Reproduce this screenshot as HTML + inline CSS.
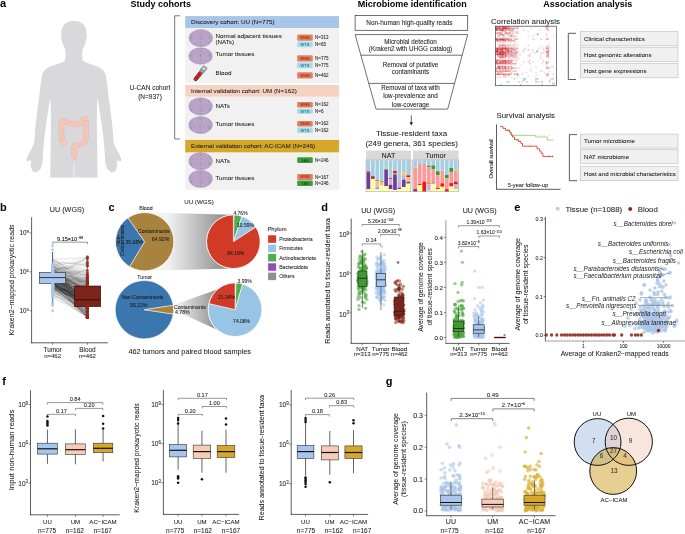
<!DOCTYPE html><html><head><meta charset="utf-8"><style>html,body{margin:0;padding:0;background:#fff;}svg{display:block;will-change:transform}</style></head><body>
<svg width="685" height="534" viewBox="0 0 685 534" font-family="Liberation Sans, sans-serif">
<defs>
<pattern id="he" width="9" height="9" patternUnits="userSpaceOnUse"><rect width="9" height="9" fill="#b8a3c6"/><circle cx="2.14" cy="4.90" r="0.38" fill="#c4b3d0"/><circle cx="4.27" cy="5.23" r="0.46" fill="#9c84ae"/><circle cx="2.33" cy="2.11" r="0.60" fill="#9c84ae"/><circle cx="4.87" cy="4.95" r="0.39" fill="#cfc1da"/><circle cx="2.09" cy="1.36" r="0.57" fill="#9c84ae"/><circle cx="6.67" cy="6.04" r="0.27" fill="#c4b3d0"/><circle cx="0.39" cy="7.02" r="0.54" fill="#a58db7"/><circle cx="4.25" cy="6.47" r="0.56" fill="#9c84ae"/><circle cx="3.55" cy="7.21" r="0.41" fill="#cfc1da"/><circle cx="7.91" cy="0.88" r="0.30" fill="#cfc1da"/><circle cx="2.32" cy="6.05" r="0.52" fill="#a58db7"/><circle cx="3.79" cy="7.50" r="0.45" fill="#c4b3d0"/><circle cx="5.27" cy="5.26" r="0.57" fill="#d6cadf"/><circle cx="7.71" cy="8.92" r="0.48" fill="#cfc1da"/><circle cx="6.29" cy="2.94" r="0.44" fill="#c4b3d0"/><circle cx="5.12" cy="6.42" r="0.32" fill="#c4b3d0"/><circle cx="2.40" cy="1.12" r="0.42" fill="#9c84ae"/><circle cx="0.80" cy="7.21" r="0.39" fill="#cfc1da"/><circle cx="0.18" cy="3.84" r="0.40" fill="#d6cadf"/><circle cx="0.40" cy="5.53" r="0.27" fill="#c4b3d0"/><circle cx="2.98" cy="7.93" r="0.59" fill="#c4b3d0"/><circle cx="2.12" cy="0.32" r="0.25" fill="#d6cadf"/><circle cx="5.40" cy="0.28" r="0.32" fill="#9c84ae"/><circle cx="2.62" cy="2.37" r="0.49" fill="#a58db7"/><circle cx="2.82" cy="8.63" r="0.56" fill="#9c84ae"/><circle cx="3.39" cy="7.83" r="0.39" fill="#c4b3d0"/></pattern>
<linearGradient id="gb1" gradientUnits="userSpaceOnUse" x1="168" x2="226" y1="0" y2="0"><stop offset="0" stop-color="#f2f2f2"/><stop offset="1" stop-color="#8c8c8c"/></linearGradient>
<linearGradient id="gb2" gradientUnits="userSpaceOnUse" x1="176" x2="218" y1="0" y2="0"><stop offset="0" stop-color="#f2f2f2"/><stop offset="1" stop-color="#8c8c8c"/></linearGradient>
</defs>
<text x="0.00" y="7.30" font-size="11" text-anchor="start" font-weight="bold" font-style="normal" fill="#000"  >a</text>
<path d="M73.9,20.7 L68.5,21.4 L64.0,24.5 L61.5,29.5 L61.0,36.0 L61.8,41.0 L63.5,45.5 L65.3,49.5 L65.6,55.0 L65.3,60.0 L62.0,62.6 L56.0,64.6 L49.5,66.8 L44.8,69.8 L42.3,74.0 L40.8,82.5 L39.4,95.0 L38.0,105.0 L36.6,117.0 L35.3,127.6 L34.2,143.0 L31.5,149.0 L28.0,155.0 L26.4,159.5 L27.0,161.5 L29.5,160.5 L31.0,160.5 L30.6,165.5 L32.5,171.5 L36.5,172.6 L40.5,169.0 L42.6,163.0 L43.0,154.6 L44.2,139.0 L45.8,127.0 L47.5,115.5 L49.0,105.0 L50.2,98.8 L50.8,104.0 L50.9,112.0 L50.9,127.6 L50.6,150.0 L50.2,177.4 L73.6,177.4 L73.6,163.5 L73.9,163.0 L73.9,163.0 L74.2,163.5 L74.2,177.4 L97.6,177.4 L97.2,150.0 L96.9,127.6 L96.9,112.0 L97.0,104.0 L97.6,98.8 L98.8,105.0 L100.3,115.5 L102.0,127.0 L103.6,139.0 L104.8,154.6 L105.2,163.0 L107.3,169.0 L111.3,172.6 L115.3,171.5 L117.2,165.5 L116.8,160.5 L118.3,160.5 L120.8,161.5 L121.4,159.5 L119.8,155.0 L116.3,149.0 L113.6,143.0 L112.5,127.6 L111.2,117.0 L109.8,105.0 L108.4,95.0 L107.0,82.5 L105.5,74.0 L103.0,69.8 L98.3,66.8 L91.8,64.6 L85.8,62.6 L82.5,60.0 L82.2,55.0 L82.5,49.5 L84.3,45.5 L86.0,41.0 L86.8,36.0 L86.3,29.5 L83.8,24.5 L79.3,21.4 L73.9,20.7Z" fill="#d9d9db" stroke="none" stroke-width="0" stroke-linejoin="round"/>
<path d="M62.5,141 L61.3,133 L61.3,124 Q61.5,119.5 65.5,122 Q70,124.8 76,124.5 Q81,124 83.5,119.5 Q85.5,116.5 85.8,121 L85.8,135 Q86,142.5 82,144 Q78,145.5 75.5,145.5 Q73.5,146.5 74,151 L74.5,157" fill="none" stroke="#e8b4a7" stroke-width="5.6" stroke-linecap="round" stroke-linejoin="round"/>
<path d="M62.5,141 L61.3,133 L61.3,124 Q61.5,119.5 65.5,122 Q70,124.8 76,124.5 Q81,124 83.5,119.5 Q85.5,116.5 85.8,121 L85.8,135 Q86,142.5 82,144 Q78,145.5 75.5,145.5 Q73.5,146.5 74,151 L74.5,157" fill="none" stroke="#f5cbbf" stroke-width="4.7" stroke-linecap="round" stroke-linejoin="round"/>
<path d="M62.5,141 L61.3,133 L61.3,124 Q61.5,119.5 65.5,122 Q70,124.8 76,124.5 Q81,124 83.5,119.5 Q85.5,116.5 85.8,121 L85.8,135 Q86,142.5 82,144 Q78,145.5 75.5,145.5 Q73.5,146.5 74,151 L74.5,157" fill="none" stroke="#e9b9ad" stroke-width="4.0" stroke-linecap="butt" stroke-dasharray="0.5 1.2" stroke-linejoin="round"/>
<circle cx="63.80" cy="142.80" r="3.00" fill="#f5cbbf" stroke="#e8b4a7" stroke-width="0.5" opacity="1"/>
<path d="M72,150 L77,150 L74.6,159.5 Z" fill="#f5cbbf" stroke="#e8b4a7" stroke-width="0.4" />
<text x="130.50" y="7.40" font-size="9" text-anchor="start" font-weight="bold" font-style="normal" fill="#000"  >Study cohorts</text>
<text x="357.80" y="7.40" font-size="9" text-anchor="start" font-weight="bold" font-style="normal" fill="#000"  >Microbiome identification</text>
<text x="543.20" y="7.40" font-size="9" text-anchor="start" font-weight="bold" font-style="normal" fill="#000"  >Association analysis</text>
<path d="M180,15.8 L174.7,15.8 L174.7,139 L180,139" fill="none" stroke="#555" stroke-width="0.8" />
<text x="150.00" y="90.23" font-size="6.5" text-anchor="middle" font-weight="normal" font-style="normal" fill="#1a1a1a" stroke="#1a1a1a" stroke-width="0.06" >U-CAN cohort</text>
<text x="150.00" y="98.93" font-size="6.5" text-anchor="middle" font-weight="normal" font-style="normal" fill="#1a1a1a" stroke="#1a1a1a" stroke-width="0.06" >(N=937)</text>
<rect x="185.20" y="16.10" width="153.90" height="11.90" fill="#a9c5ea" stroke="none" stroke-width="0" rx="0" />
<text x="191.00" y="24.34" font-size="6.26" text-anchor="start" font-weight="normal" font-style="normal" fill="#1a1a1a" stroke="#1a1a1a" stroke-width="0.06" >Discovery cohort: UU (N=775)</text>
<rect x="185.20" y="28.00" width="153.90" height="54.90" fill="#f1f1f1" stroke="none" stroke-width="0" rx="0" />
<rect x="185.20" y="85.00" width="153.90" height="11.80" fill="#f6d2c3" stroke="none" stroke-width="0" rx="0" />
<text x="191.00" y="93.24" font-size="6.26" text-anchor="start" font-weight="normal" font-style="normal" fill="#1a1a1a" stroke="#1a1a1a" stroke-width="0.06" >Internal validation cohort: UM (N=162)</text>
<rect x="185.20" y="96.80" width="153.90" height="42.00" fill="#f1f1f1" stroke="none" stroke-width="0" rx="0" />
<rect x="185.20" y="139.80" width="153.90" height="12.80" fill="#d4a92b" stroke="none" stroke-width="0" rx="0" />
<text x="191.00" y="148.44" font-size="6.26" text-anchor="start" font-weight="normal" font-style="normal" fill="#1a1a1a" stroke="#1a1a1a" stroke-width="0.06" >External validation cohort: AC-ICAM (N=246)</text>
<rect x="185.20" y="152.60" width="153.90" height="37.20" fill="#f1f1f1" stroke="none" stroke-width="0" rx="0" />
<ellipse cx="200.85" cy="38.05" rx="11.8" ry="8.6" fill="url(#he)" stroke="#9c88ab" stroke-width="0.45"/>
<ellipse cx="200.6" cy="56.05" rx="11.8" ry="8.2" fill="url(#he)" stroke="#9c88ab" stroke-width="0.45"/>
<ellipse cx="200.6" cy="106.4" rx="11.8" ry="8.6" fill="url(#he)" stroke="#9c88ab" stroke-width="0.45"/>
<ellipse cx="200.6" cy="125" rx="11.8" ry="8.6" fill="url(#he)" stroke="#9c88ab" stroke-width="0.45"/>
<ellipse cx="200.6" cy="161.2" rx="11.8" ry="8.6" fill="url(#he)" stroke="#9c88ab" stroke-width="0.45"/>
<ellipse cx="200.6" cy="178.8" rx="11.8" ry="8.6" fill="url(#he)" stroke="#9c88ab" stroke-width="0.45"/>
<g transform="translate(194.6,80.4) rotate(-51.2)"><rect x="0" y="-1.75" width="11" height="3.5" rx="1.7" fill="#e3262a" stroke="#2a0606" stroke-width="0.55"/><line x1="3.6" y1="-1.7" x2="3.6" y2="1.7" stroke="#3a0a0a" stroke-width="0.6"/><line x1="7.2" y1="-1.7" x2="7.2" y2="1.7" stroke="#3a0a0a" stroke-width="0.6"/><circle cx="5.4" cy="0" r="0.6" fill="#4050a0"/><rect x="10.4" y="-2.3" width="7" height="4.6" rx="0.7" fill="#a9a9b3" stroke="#55555e" stroke-width="0.45"/><line x1="12.6" y1="-2.2" x2="12.6" y2="2.2" stroke="#666" stroke-width="0.4"/><rect x="14" y="-1.2" width="2" height="2.2" fill="#e6e6ee"/></g>
<text x="215.50" y="37.53" font-size="6.23" text-anchor="start" font-weight="normal" font-style="normal" fill="#1a1a1a" stroke="#1a1a1a" stroke-width="0.06" >Normal adjacent tissues</text>
<text x="215.50" y="43.63" font-size="6.23" text-anchor="start" font-weight="normal" font-style="normal" fill="#1a1a1a" stroke="#1a1a1a" stroke-width="0.06" >(NATs)</text>
<text x="215.50" y="56.43" font-size="6.23" text-anchor="start" font-weight="normal" font-style="normal" fill="#1a1a1a" stroke="#1a1a1a" stroke-width="0.06" >Tumor tissues</text>
<text x="215.50" y="75.13" font-size="6.23" text-anchor="start" font-weight="normal" font-style="normal" fill="#1a1a1a" stroke="#1a1a1a" stroke-width="0.06" >Blood</text>
<text x="215.50" y="107.83" font-size="6.23" text-anchor="start" font-weight="normal" font-style="normal" fill="#1a1a1a" stroke="#1a1a1a" stroke-width="0.06" >NATs</text>
<text x="215.50" y="126.03" font-size="6.23" text-anchor="start" font-weight="normal" font-style="normal" fill="#1a1a1a" stroke="#1a1a1a" stroke-width="0.06" >Tumor tissues</text>
<text x="215.50" y="163.03" font-size="6.23" text-anchor="start" font-weight="normal" font-style="normal" fill="#1a1a1a" stroke="#1a1a1a" stroke-width="0.06" >NATs</text>
<text x="215.50" y="180.03" font-size="6.23" text-anchor="start" font-weight="normal" font-style="normal" fill="#1a1a1a" stroke="#1a1a1a" stroke-width="0.06" >Tumor tissues</text>
<rect x="297.20" y="34.50" width="15.60" height="6.30" fill="#e27f60" stroke="none" stroke-width="0" rx="1.2" />
<text x="305.00" y="39.08" font-size="4.0" text-anchor="middle" font-weight="normal" font-style="normal" fill="#8a2a14" stroke="#8a2a14" stroke-width="0.06" >WGS</text>
<text x="315.00" y="39.26" font-size="4.5" text-anchor="start" font-weight="normal" font-style="normal" fill="#222" stroke="#222" stroke-width="0.06" >N=313</text>
<rect x="297.20" y="41.50" width="15.60" height="5.80" fill="#a6dbe9" stroke="none" stroke-width="0" rx="1.2" />
<text x="305.00" y="45.83" font-size="4.0" text-anchor="middle" font-weight="normal" font-style="normal" fill="#2a6a80" stroke="#2a6a80" stroke-width="0.06" >WTS</text>
<text x="315.00" y="46.01" font-size="4.5" text-anchor="start" font-weight="normal" font-style="normal" fill="#222" stroke="#222" stroke-width="0.06" >N=65</text>
<rect x="297.20" y="55.20" width="15.60" height="6.30" fill="#e27f60" stroke="none" stroke-width="0" rx="1.2" />
<text x="305.00" y="59.78" font-size="4.0" text-anchor="middle" font-weight="normal" font-style="normal" fill="#8a2a14" stroke="#8a2a14" stroke-width="0.06" >WGS</text>
<text x="315.00" y="59.96" font-size="4.5" text-anchor="start" font-weight="normal" font-style="normal" fill="#222" stroke="#222" stroke-width="0.06" >N=775</text>
<rect x="297.20" y="62.50" width="15.60" height="5.80" fill="#a6dbe9" stroke="none" stroke-width="0" rx="1.2" />
<text x="305.00" y="66.83" font-size="4.0" text-anchor="middle" font-weight="normal" font-style="normal" fill="#2a6a80" stroke="#2a6a80" stroke-width="0.06" >WTS</text>
<text x="315.00" y="67.01" font-size="4.5" text-anchor="start" font-weight="normal" font-style="normal" fill="#222" stroke="#222" stroke-width="0.06" >N=775</text>
<rect x="297.20" y="72.20" width="15.60" height="6.30" fill="#e27f60" stroke="none" stroke-width="0" rx="1.2" />
<text x="305.00" y="76.78" font-size="4.0" text-anchor="middle" font-weight="normal" font-style="normal" fill="#8a2a14" stroke="#8a2a14" stroke-width="0.06" >WGS</text>
<text x="315.00" y="76.96" font-size="4.5" text-anchor="start" font-weight="normal" font-style="normal" fill="#222" stroke="#222" stroke-width="0.06" >N=462</text>
<rect x="297.20" y="102.00" width="15.60" height="5.50" fill="#e27f60" stroke="none" stroke-width="0" rx="1.2" />
<text x="305.00" y="106.18" font-size="4.0" text-anchor="middle" font-weight="normal" font-style="normal" fill="#8a2a14" stroke="#8a2a14" stroke-width="0.06" >WGS</text>
<text x="315.00" y="106.36" font-size="4.5" text-anchor="start" font-weight="normal" font-style="normal" fill="#222" stroke="#222" stroke-width="0.06" >N=162</text>
<rect x="297.20" y="108.70" width="15.60" height="5.10" fill="#a6dbe9" stroke="none" stroke-width="0" rx="1.2" />
<text x="305.00" y="112.68" font-size="4.0" text-anchor="middle" font-weight="normal" font-style="normal" fill="#2a6a80" stroke="#2a6a80" stroke-width="0.06" >WTS</text>
<text x="315.00" y="112.86" font-size="4.5" text-anchor="start" font-weight="normal" font-style="normal" fill="#222" stroke="#222" stroke-width="0.06" >N=6</text>
<rect x="297.20" y="121.00" width="15.60" height="5.50" fill="#e27f60" stroke="none" stroke-width="0" rx="1.2" />
<text x="305.00" y="125.18" font-size="4.0" text-anchor="middle" font-weight="normal" font-style="normal" fill="#8a2a14" stroke="#8a2a14" stroke-width="0.06" >WGS</text>
<text x="315.00" y="125.36" font-size="4.5" text-anchor="start" font-weight="normal" font-style="normal" fill="#222" stroke="#222" stroke-width="0.06" >N=162</text>
<rect x="297.20" y="127.50" width="15.60" height="5.50" fill="#a6dbe9" stroke="none" stroke-width="0" rx="1.2" />
<text x="305.00" y="131.68" font-size="4.0" text-anchor="middle" font-weight="normal" font-style="normal" fill="#2a6a80" stroke="#2a6a80" stroke-width="0.06" >WTS</text>
<text x="315.00" y="131.86" font-size="4.5" text-anchor="start" font-weight="normal" font-style="normal" fill="#222" stroke="#222" stroke-width="0.06" >N=162</text>
<rect x="297.20" y="157.30" width="15.60" height="5.60" fill="#3f9b3c" stroke="none" stroke-width="0" rx="1.2" />
<text x="305.00" y="161.53" font-size="4.0" text-anchor="middle" font-weight="normal" font-style="normal" fill="#0d3d0c" stroke="#0d3d0c" stroke-width="0.06" >16S</text>
<text x="315.00" y="161.71" font-size="4.5" text-anchor="start" font-weight="normal" font-style="normal" fill="#222" stroke="#222" stroke-width="0.06" >N=246</text>
<rect x="297.20" y="174.00" width="15.60" height="6.00" fill="#e27f60" stroke="none" stroke-width="0" rx="1.2" />
<text x="305.00" y="178.43" font-size="4.0" text-anchor="middle" font-weight="normal" font-style="normal" fill="#8a2a14" stroke="#8a2a14" stroke-width="0.06" >WGS</text>
<text x="315.00" y="178.61" font-size="4.5" text-anchor="start" font-weight="normal" font-style="normal" fill="#222" stroke="#222" stroke-width="0.06" >N=167</text>
<rect x="297.20" y="180.50" width="15.60" height="5.50" fill="#3f9b3c" stroke="none" stroke-width="0" rx="1.2" />
<text x="305.00" y="184.68" font-size="4.0" text-anchor="middle" font-weight="normal" font-style="normal" fill="#0d3d0c" stroke="#0d3d0c" stroke-width="0.06" >16S</text>
<text x="315.00" y="184.86" font-size="4.5" text-anchor="start" font-weight="normal" font-style="normal" fill="#222" stroke="#222" stroke-width="0.06" >N=246</text>
<rect x="355.10" y="15.40" width="112.60" height="14.90" fill="#fff" stroke="#333" stroke-width="0.7" rx="0" />
<text x="409.40" y="25.21" font-size="6.44" text-anchor="middle" font-weight="normal" font-style="normal" fill="#1a1a1a" stroke="#1a1a1a" stroke-width="0.06" >Non-human high-quality reads</text>
<path d="M355.1,34.6 L467.7,34.6 L447.7,109.1 L376.0,109.1 Z" fill="#fff" stroke="#333" stroke-width="0.7" />
<line x1="360.88" y1="55.20" x2="462.17" y2="55.20" stroke="#333" stroke-width="0.7" />
<line x1="368.79" y1="83.40" x2="454.60" y2="83.40" stroke="#333" stroke-width="0.7" />
<text x="410.50" y="43.86" font-size="6.3" text-anchor="middle" font-weight="normal" font-style="normal" fill="#1a1a1a" stroke="#1a1a1a" stroke-width="0.06" >Microbial detection</text>
<text x="410.50" y="51.26" font-size="6.3" text-anchor="middle" font-weight="normal" font-style="normal" fill="#1a1a1a" stroke="#1a1a1a" stroke-width="0.06" >(Kraken2 with UHGG catalog)</text>
<text x="410.50" y="67.06" font-size="6.3" text-anchor="middle" font-weight="normal" font-style="normal" fill="#1a1a1a" stroke="#1a1a1a" stroke-width="0.06" >Removal of putative</text>
<text x="410.50" y="74.26" font-size="6.3" text-anchor="middle" font-weight="normal" font-style="normal" fill="#1a1a1a" stroke="#1a1a1a" stroke-width="0.06" >contaminants</text>
<text x="410.50" y="90.36" font-size="6.3" text-anchor="middle" font-weight="normal" font-style="normal" fill="#1a1a1a" stroke="#1a1a1a" stroke-width="0.06" >Removal of taxa with</text>
<text x="410.50" y="98.36" font-size="6.3" text-anchor="middle" font-weight="normal" font-style="normal" fill="#1a1a1a" stroke="#1a1a1a" stroke-width="0.06" >low-prevalence and</text>
<text x="410.50" y="106.66" font-size="6.3" text-anchor="middle" font-weight="normal" font-style="normal" fill="#1a1a1a" stroke="#1a1a1a" stroke-width="0.06" >low-coverage</text>
<line x1="411.30" y1="115.40" x2="411.30" y2="124.50" stroke="#222" stroke-width="0.7" />
<path d="M409.6,122.3 L411.3,125.6 L413.0,122.3 Z" fill="#222" stroke="none" stroke-width="0" />
<text x="411.50" y="136.15" font-size="7.95" text-anchor="middle" font-weight="normal" font-style="normal" fill="#1a1a1a" stroke="#1a1a1a" stroke-width="0.06" >Tissue-resident taxa</text>
<text x="411.70" y="146.16" font-size="7.98" text-anchor="middle" font-weight="normal" font-style="normal" fill="#1a1a1a" stroke="#1a1a1a" stroke-width="0.06" >(249 genera, 361 species)</text>
<rect x="366.10" y="150.50" width="44.80" height="9.10" fill="#d9d9d9" stroke="none" stroke-width="0" rx="0" />
<rect x="412.90" y="150.50" width="45.60" height="9.10" fill="#d9d9d9" stroke="none" stroke-width="0" rx="0" />
<text x="388.50" y="157.68" font-size="7.2" text-anchor="middle" font-weight="normal" font-style="normal" fill="#1a1a1a" stroke="#1a1a1a" stroke-width="0.06" >NAT</text>
<text x="435.70" y="157.68" font-size="7.2" text-anchor="middle" font-weight="normal" font-style="normal" fill="#1a1a1a" stroke="#1a1a1a" stroke-width="0.06" >Tumor</text>
<rect x="366.10" y="160.00" width="44.80" height="31.70" fill="#fff" stroke="#8a8a8a" stroke-width="0.6" rx="0" />
<rect x="366.60" y="160.30" width="3.67" height="11.00" fill="#a6cee3" stroke="none" stroke-width="0" rx="0" />
<rect x="366.60" y="171.30" width="3.67" height="1.47" fill="#e31a1c" stroke="none" stroke-width="0" rx="0" />
<rect x="366.60" y="172.77" width="3.67" height="16.43" fill="#6a3d9a" stroke="none" stroke-width="0" rx="0" />
<rect x="366.60" y="189.20" width="3.67" height="2.20" fill="#ffff99" stroke="none" stroke-width="0" rx="0" />
<rect x="371.02" y="160.30" width="3.67" height="15.70" fill="#a6cee3" stroke="none" stroke-width="0" rx="0" />
<rect x="371.02" y="176.00" width="3.67" height="0.88" fill="#1f78b4" stroke="none" stroke-width="0" rx="0" />
<rect x="371.02" y="176.88" width="3.67" height="2.05" fill="#e31a1c" stroke="none" stroke-width="0" rx="0" />
<rect x="371.02" y="178.93" width="3.67" height="12.47" fill="#ffff99" stroke="none" stroke-width="0" rx="0" />
<rect x="375.44" y="160.30" width="3.67" height="20.10" fill="#a6cee3" stroke="none" stroke-width="0" rx="0" />
<rect x="375.44" y="180.40" width="3.67" height="0.73" fill="#e31a1c" stroke="none" stroke-width="0" rx="0" />
<rect x="375.44" y="181.13" width="3.67" height="4.40" fill="#fdbf6f" stroke="none" stroke-width="0" rx="0" />
<rect x="375.44" y="185.53" width="3.67" height="2.93" fill="#cab2d6" stroke="none" stroke-width="0" rx="0" />
<rect x="375.44" y="188.47" width="3.67" height="0.73" fill="#6a3d9a" stroke="none" stroke-width="0" rx="0" />
<rect x="375.44" y="189.20" width="3.67" height="2.20" fill="#ffff99" stroke="none" stroke-width="0" rx="0" />
<rect x="379.86" y="160.30" width="3.67" height="20.83" fill="#a6cee3" stroke="none" stroke-width="0" rx="0" />
<rect x="379.86" y="181.13" width="3.67" height="0.73" fill="#33a02c" stroke="none" stroke-width="0" rx="0" />
<rect x="379.86" y="181.86" width="3.67" height="3.67" fill="#fdbf6f" stroke="none" stroke-width="0" rx="0" />
<rect x="379.86" y="185.53" width="3.67" height="5.87" fill="#ffff99" stroke="none" stroke-width="0" rx="0" />
<rect x="384.28" y="160.30" width="3.67" height="6.89" fill="#a6cee3" stroke="none" stroke-width="0" rx="0" />
<rect x="384.28" y="167.19" width="3.67" height="2.20" fill="#b2df8a" stroke="none" stroke-width="0" rx="0" />
<rect x="384.28" y="169.40" width="3.67" height="16.87" fill="#6a3d9a" stroke="none" stroke-width="0" rx="0" />
<rect x="384.28" y="186.27" width="3.67" height="5.13" fill="#ffff99" stroke="none" stroke-width="0" rx="0" />
<rect x="388.70" y="160.30" width="3.67" height="17.90" fill="#a6cee3" stroke="none" stroke-width="0" rx="0" />
<rect x="388.70" y="178.20" width="3.67" height="1.03" fill="#e31a1c" stroke="none" stroke-width="0" rx="0" />
<rect x="388.70" y="179.22" width="3.67" height="5.57" fill="#cab2d6" stroke="none" stroke-width="0" rx="0" />
<rect x="388.70" y="184.80" width="3.67" height="4.40" fill="#6a3d9a" stroke="none" stroke-width="0" rx="0" />
<rect x="388.70" y="189.20" width="3.67" height="2.20" fill="#ffff99" stroke="none" stroke-width="0" rx="0" />
<rect x="393.12" y="160.30" width="3.67" height="10.56" fill="#a6cee3" stroke="none" stroke-width="0" rx="0" />
<rect x="393.12" y="170.86" width="3.67" height="2.49" fill="#e31a1c" stroke="none" stroke-width="0" rx="0" />
<rect x="393.12" y="173.36" width="3.67" height="1.17" fill="#ff7f00" stroke="none" stroke-width="0" rx="0" />
<rect x="393.12" y="174.53" width="3.67" height="15.40" fill="#6a3d9a" stroke="none" stroke-width="0" rx="0" />
<rect x="393.12" y="189.93" width="3.67" height="1.47" fill="#ffff99" stroke="none" stroke-width="0" rx="0" />
<rect x="397.54" y="160.30" width="3.67" height="20.10" fill="#a6cee3" stroke="none" stroke-width="0" rx="0" />
<rect x="397.54" y="180.40" width="3.67" height="7.33" fill="#cab2d6" stroke="none" stroke-width="0" rx="0" />
<rect x="397.54" y="187.73" width="3.67" height="1.47" fill="#6a3d9a" stroke="none" stroke-width="0" rx="0" />
<rect x="397.54" y="189.20" width="3.67" height="2.20" fill="#ffff99" stroke="none" stroke-width="0" rx="0" />
<rect x="401.96" y="160.30" width="3.67" height="12.03" fill="#a6cee3" stroke="none" stroke-width="0" rx="0" />
<rect x="401.96" y="172.33" width="3.67" height="0.73" fill="#b2df8a" stroke="none" stroke-width="0" rx="0" />
<rect x="401.96" y="173.06" width="3.67" height="2.93" fill="#fdbf6f" stroke="none" stroke-width="0" rx="0" />
<rect x="401.96" y="176.00" width="3.67" height="3.67" fill="#cab2d6" stroke="none" stroke-width="0" rx="0" />
<rect x="401.96" y="179.66" width="3.67" height="7.33" fill="#6a3d9a" stroke="none" stroke-width="0" rx="0" />
<rect x="401.96" y="187.00" width="3.67" height="4.40" fill="#ffff99" stroke="none" stroke-width="0" rx="0" />
<rect x="406.38" y="160.30" width="3.67" height="14.96" fill="#a6cee3" stroke="none" stroke-width="0" rx="0" />
<rect x="406.38" y="175.26" width="3.67" height="1.91" fill="#e31a1c" stroke="none" stroke-width="0" rx="0" />
<rect x="406.38" y="177.17" width="3.67" height="4.69" fill="#fdbf6f" stroke="none" stroke-width="0" rx="0" />
<rect x="406.38" y="181.86" width="3.67" height="1.76" fill="#6a3d9a" stroke="none" stroke-width="0" rx="0" />
<rect x="406.38" y="183.62" width="3.67" height="7.78" fill="#ffff99" stroke="none" stroke-width="0" rx="0" />
<rect x="412.90" y="160.00" width="45.60" height="31.70" fill="#fff" stroke="#8a8a8a" stroke-width="0.6" rx="0" />
<rect x="413.40" y="160.30" width="3.75" height="6.89" fill="#a6cee3" stroke="none" stroke-width="0" rx="0" />
<rect x="413.40" y="167.19" width="3.75" height="0.73" fill="#b2df8a" stroke="none" stroke-width="0" rx="0" />
<rect x="413.40" y="167.93" width="3.75" height="20.98" fill="#fb9a99" stroke="none" stroke-width="0" rx="0" />
<rect x="413.40" y="188.91" width="3.75" height="1.03" fill="#e31a1c" stroke="none" stroke-width="0" rx="0" />
<rect x="413.40" y="189.93" width="3.75" height="1.47" fill="#6a3d9a" stroke="none" stroke-width="0" rx="0" />
<rect x="417.90" y="160.30" width="3.75" height="2.79" fill="#a6cee3" stroke="none" stroke-width="0" rx="0" />
<rect x="417.90" y="163.09" width="3.75" height="0.88" fill="#b2df8a" stroke="none" stroke-width="0" rx="0" />
<rect x="417.90" y="163.97" width="3.75" height="20.10" fill="#fb9a99" stroke="none" stroke-width="0" rx="0" />
<rect x="417.90" y="184.07" width="3.75" height="1.03" fill="#e31a1c" stroke="none" stroke-width="0" rx="0" />
<rect x="417.90" y="185.09" width="3.75" height="6.31" fill="#ffff99" stroke="none" stroke-width="0" rx="0" />
<rect x="422.40" y="160.30" width="3.75" height="3.67" fill="#a6cee3" stroke="none" stroke-width="0" rx="0" />
<rect x="422.40" y="163.97" width="3.75" height="17.60" fill="#fb9a99" stroke="none" stroke-width="0" rx="0" />
<rect x="422.40" y="181.57" width="3.75" height="9.83" fill="#e31a1c" stroke="none" stroke-width="0" rx="0" />
<rect x="426.90" y="160.30" width="3.75" height="5.43" fill="#a6cee3" stroke="none" stroke-width="0" rx="0" />
<rect x="426.90" y="165.73" width="3.75" height="1.47" fill="#33a02c" stroke="none" stroke-width="0" rx="0" />
<rect x="426.90" y="167.19" width="3.75" height="15.84" fill="#fb9a99" stroke="none" stroke-width="0" rx="0" />
<rect x="426.90" y="183.04" width="3.75" height="1.03" fill="#ff7f00" stroke="none" stroke-width="0" rx="0" />
<rect x="426.90" y="184.07" width="3.75" height="6.60" fill="#cab2d6" stroke="none" stroke-width="0" rx="0" />
<rect x="426.90" y="190.67" width="3.75" height="0.73" fill="#ffff99" stroke="none" stroke-width="0" rx="0" />
<rect x="431.40" y="160.30" width="3.75" height="5.13" fill="#a6cee3" stroke="none" stroke-width="0" rx="0" />
<rect x="431.40" y="165.43" width="3.75" height="3.52" fill="#33a02c" stroke="none" stroke-width="0" rx="0" />
<rect x="431.40" y="168.96" width="3.75" height="13.64" fill="#fb9a99" stroke="none" stroke-width="0" rx="0" />
<rect x="431.40" y="182.60" width="3.75" height="1.03" fill="#6a3d9a" stroke="none" stroke-width="0" rx="0" />
<rect x="431.40" y="183.62" width="3.75" height="7.78" fill="#ffff99" stroke="none" stroke-width="0" rx="0" />
<rect x="435.90" y="160.30" width="3.75" height="11.00" fill="#a6cee3" stroke="none" stroke-width="0" rx="0" />
<rect x="435.90" y="171.30" width="3.75" height="3.96" fill="#33a02c" stroke="none" stroke-width="0" rx="0" />
<rect x="435.90" y="175.26" width="3.75" height="12.76" fill="#fb9a99" stroke="none" stroke-width="0" rx="0" />
<rect x="435.90" y="188.03" width="3.75" height="1.17" fill="#e31a1c" stroke="none" stroke-width="0" rx="0" />
<rect x="435.90" y="189.20" width="3.75" height="2.20" fill="#ffff99" stroke="none" stroke-width="0" rx="0" />
<rect x="440.40" y="160.30" width="3.75" height="10.12" fill="#a6cee3" stroke="none" stroke-width="0" rx="0" />
<rect x="440.40" y="170.42" width="3.75" height="0.59" fill="#b2df8a" stroke="none" stroke-width="0" rx="0" />
<rect x="440.40" y="171.01" width="3.75" height="12.32" fill="#fb9a99" stroke="none" stroke-width="0" rx="0" />
<rect x="440.40" y="183.33" width="3.75" height="2.64" fill="#e31a1c" stroke="none" stroke-width="0" rx="0" />
<rect x="440.40" y="185.97" width="3.75" height="1.03" fill="#ff7f00" stroke="none" stroke-width="0" rx="0" />
<rect x="440.40" y="187.00" width="3.75" height="4.40" fill="#ffff99" stroke="none" stroke-width="0" rx="0" />
<rect x="444.90" y="160.30" width="3.75" height="14.52" fill="#a6cee3" stroke="none" stroke-width="0" rx="0" />
<rect x="444.90" y="174.82" width="3.75" height="3.37" fill="#33a02c" stroke="none" stroke-width="0" rx="0" />
<rect x="444.90" y="178.20" width="3.75" height="11.00" fill="#fb9a99" stroke="none" stroke-width="0" rx="0" />
<rect x="444.90" y="189.20" width="3.75" height="2.20" fill="#e31a1c" stroke="none" stroke-width="0" rx="0" />
<rect x="449.40" y="160.30" width="3.75" height="7.63" fill="#a6cee3" stroke="none" stroke-width="0" rx="0" />
<rect x="449.40" y="167.93" width="3.75" height="3.96" fill="#33a02c" stroke="none" stroke-width="0" rx="0" />
<rect x="449.40" y="171.89" width="3.75" height="11.15" fill="#fb9a99" stroke="none" stroke-width="0" rx="0" />
<rect x="449.40" y="183.04" width="3.75" height="3.52" fill="#e31a1c" stroke="none" stroke-width="0" rx="0" />
<rect x="449.40" y="186.56" width="3.75" height="4.84" fill="#ffff99" stroke="none" stroke-width="0" rx="0" />
<rect x="453.90" y="160.30" width="3.75" height="9.54" fill="#a6cee3" stroke="none" stroke-width="0" rx="0" />
<rect x="453.90" y="169.84" width="3.75" height="1.03" fill="#b2df8a" stroke="none" stroke-width="0" rx="0" />
<rect x="453.90" y="170.86" width="3.75" height="10.71" fill="#fb9a99" stroke="none" stroke-width="0" rx="0" />
<rect x="453.90" y="181.57" width="3.75" height="2.93" fill="#e31a1c" stroke="none" stroke-width="0" rx="0" />
<rect x="453.90" y="184.51" width="3.75" height="4.69" fill="#cab2d6" stroke="none" stroke-width="0" rx="0" />
<rect x="453.90" y="189.20" width="3.75" height="2.20" fill="#ffff99" stroke="none" stroke-width="0" rx="0" />
<text x="490.90" y="23.82" font-size="7.87" text-anchor="start" font-weight="normal" font-style="normal" fill="#1a1a1a" stroke="#1a1a1a" stroke-width="0.06" >Correlation analysis</text>
<rect x="495.40" y="26.20" width="61.20" height="59.50" fill="#fff" stroke="none" stroke-width="0" rx="0" />
<rect x="495.40" y="26.20" width="1.58" height="1.58" fill="rgb(217,118,121)" stroke="none" stroke-width="0" rx="0" />
<rect x="496.93" y="26.20" width="1.58" height="1.58" fill="rgb(216,114,117)" stroke="none" stroke-width="0" rx="0" />
<rect x="498.46" y="26.20" width="1.58" height="1.58" fill="rgb(213,101,105)" stroke="none" stroke-width="0" rx="0" />
<rect x="499.99" y="26.20" width="1.58" height="1.58" fill="rgb(224,141,144)" stroke="none" stroke-width="0" rx="0" />
<rect x="501.52" y="26.20" width="1.58" height="1.58" fill="rgb(218,120,123)" stroke="none" stroke-width="0" rx="0" />
<rect x="503.05" y="26.20" width="1.58" height="1.58" fill="rgb(195,38,43)" stroke="none" stroke-width="0" rx="0" />
<rect x="504.58" y="26.20" width="1.58" height="1.58" fill="rgb(206,76,80)" stroke="none" stroke-width="0" rx="0" />
<rect x="506.11" y="26.20" width="1.58" height="1.58" fill="rgb(220,128,131)" stroke="none" stroke-width="0" rx="0" />
<rect x="507.64" y="26.20" width="1.58" height="1.58" fill="rgb(219,125,128)" stroke="none" stroke-width="0" rx="0" />
<rect x="509.17" y="26.20" width="1.58" height="1.58" fill="rgb(229,162,165)" stroke="none" stroke-width="0" rx="0" />
<rect x="513.76" y="26.20" width="1.58" height="1.58" fill="rgb(235,183,184)" stroke="none" stroke-width="0" rx="0" />
<rect x="516.82" y="26.20" width="1.58" height="1.58" fill="rgb(230,164,166)" stroke="none" stroke-width="0" rx="0" />
<rect x="521.41" y="26.20" width="1.58" height="1.58" fill="rgb(245,220,221)" stroke="none" stroke-width="0" rx="0" />
<rect x="535.18" y="26.20" width="1.58" height="1.58" fill="rgb(244,218,219)" stroke="none" stroke-width="0" rx="0" />
<rect x="544.36" y="26.20" width="1.58" height="1.58" fill="rgb(244,217,218)" stroke="none" stroke-width="0" rx="0" />
<rect x="545.89" y="26.20" width="1.58" height="1.58" fill="rgb(233,175,177)" stroke="none" stroke-width="0" rx="0" />
<rect x="547.42" y="26.20" width="1.58" height="1.58" fill="rgb(234,178,180)" stroke="none" stroke-width="0" rx="0" />
<rect x="495.40" y="27.73" width="1.58" height="1.58" fill="rgb(205,73,77)" stroke="none" stroke-width="0" rx="0" />
<rect x="496.93" y="27.73" width="1.58" height="1.58" fill="rgb(201,60,64)" stroke="none" stroke-width="0" rx="0" />
<rect x="498.46" y="27.73" width="1.58" height="1.58" fill="rgb(204,69,73)" stroke="none" stroke-width="0" rx="0" />
<rect x="499.99" y="27.73" width="1.58" height="1.58" fill="rgb(216,112,115)" stroke="none" stroke-width="0" rx="0" />
<rect x="501.52" y="27.73" width="1.58" height="1.58" fill="rgb(207,81,85)" stroke="none" stroke-width="0" rx="0" />
<rect x="503.05" y="27.73" width="1.58" height="1.58" fill="rgb(200,55,59)" stroke="none" stroke-width="0" rx="0" />
<rect x="504.58" y="27.73" width="1.58" height="1.58" fill="rgb(195,35,40)" stroke="none" stroke-width="0" rx="0" />
<rect x="506.11" y="27.73" width="1.58" height="1.58" fill="rgb(204,70,74)" stroke="none" stroke-width="0" rx="0" />
<rect x="507.64" y="27.73" width="1.58" height="1.58" fill="rgb(211,95,98)" stroke="none" stroke-width="0" rx="0" />
<rect x="509.17" y="27.73" width="1.58" height="1.58" fill="rgb(218,122,125)" stroke="none" stroke-width="0" rx="0" />
<rect x="510.70" y="27.73" width="1.58" height="1.58" fill="rgb(222,135,137)" stroke="none" stroke-width="0" rx="0" />
<rect x="512.23" y="27.73" width="1.58" height="1.58" fill="rgb(217,118,121)" stroke="none" stroke-width="0" rx="0" />
<rect x="513.76" y="27.73" width="1.58" height="1.58" fill="rgb(232,170,172)" stroke="none" stroke-width="0" rx="0" />
<rect x="515.29" y="27.73" width="1.58" height="1.58" fill="rgb(233,176,178)" stroke="none" stroke-width="0" rx="0" />
<rect x="516.82" y="27.73" width="1.58" height="1.58" fill="rgb(232,172,174)" stroke="none" stroke-width="0" rx="0" />
<rect x="530.59" y="27.73" width="1.58" height="1.58" fill="rgb(244,217,218)" stroke="none" stroke-width="0" rx="0" />
<rect x="545.89" y="27.73" width="1.58" height="1.58" fill="rgb(220,128,131)" stroke="none" stroke-width="0" rx="0" />
<rect x="495.40" y="29.25" width="1.58" height="1.58" fill="rgb(196,40,45)" stroke="none" stroke-width="0" rx="0" />
<rect x="496.93" y="29.25" width="1.58" height="1.58" fill="rgb(217,117,120)" stroke="none" stroke-width="0" rx="0" />
<rect x="498.46" y="29.25" width="1.58" height="1.58" fill="rgb(217,118,121)" stroke="none" stroke-width="0" rx="0" />
<rect x="499.99" y="29.25" width="1.58" height="1.58" fill="rgb(204,70,74)" stroke="none" stroke-width="0" rx="0" />
<rect x="501.52" y="29.25" width="1.58" height="1.58" fill="rgb(196,41,46)" stroke="none" stroke-width="0" rx="0" />
<rect x="503.05" y="29.25" width="1.58" height="1.58" fill="rgb(204,68,72)" stroke="none" stroke-width="0" rx="0" />
<rect x="504.58" y="29.25" width="1.58" height="1.58" fill="rgb(226,149,152)" stroke="none" stroke-width="0" rx="0" />
<rect x="506.11" y="29.25" width="1.58" height="1.58" fill="rgb(222,135,138)" stroke="none" stroke-width="0" rx="0" />
<rect x="507.64" y="29.25" width="1.58" height="1.58" fill="rgb(229,160,162)" stroke="none" stroke-width="0" rx="0" />
<rect x="509.17" y="29.25" width="1.58" height="1.58" fill="rgb(213,104,107)" stroke="none" stroke-width="0" rx="0" />
<rect x="510.70" y="29.25" width="1.58" height="1.58" fill="rgb(234,180,182)" stroke="none" stroke-width="0" rx="0" />
<rect x="512.23" y="29.25" width="1.58" height="1.58" fill="rgb(224,144,147)" stroke="none" stroke-width="0" rx="0" />
<rect x="522.94" y="29.25" width="1.58" height="1.58" fill="rgb(244,214,215)" stroke="none" stroke-width="0" rx="0" />
<rect x="539.77" y="29.25" width="1.58" height="1.58" fill="rgb(242,208,209)" stroke="none" stroke-width="0" rx="0" />
<rect x="547.42" y="29.25" width="1.58" height="1.58" fill="rgb(225,145,148)" stroke="none" stroke-width="0" rx="0" />
<rect x="501.52" y="30.78" width="1.58" height="1.58" fill="rgb(224,144,146)" stroke="none" stroke-width="0" rx="0" />
<rect x="504.58" y="30.78" width="1.58" height="1.58" fill="rgb(226,150,152)" stroke="none" stroke-width="0" rx="0" />
<rect x="509.17" y="30.78" width="1.58" height="1.58" fill="rgb(241,204,205)" stroke="none" stroke-width="0" rx="0" />
<rect x="510.70" y="30.78" width="1.58" height="1.58" fill="rgb(235,182,184)" stroke="none" stroke-width="0" rx="0" />
<rect x="512.23" y="30.78" width="1.58" height="1.58" fill="rgb(236,186,188)" stroke="none" stroke-width="0" rx="0" />
<rect x="515.29" y="30.78" width="1.58" height="1.58" fill="rgb(242,208,209)" stroke="none" stroke-width="0" rx="0" />
<rect x="516.82" y="30.78" width="1.58" height="1.58" fill="rgb(244,215,216)" stroke="none" stroke-width="0" rx="0" />
<rect x="527.53" y="30.78" width="1.58" height="1.58" fill="rgb(245,218,219)" stroke="none" stroke-width="0" rx="0" />
<rect x="495.40" y="32.30" width="1.58" height="1.58" fill="rgb(232,173,175)" stroke="none" stroke-width="0" rx="0" />
<rect x="496.93" y="32.30" width="1.58" height="1.58" fill="rgb(222,137,140)" stroke="none" stroke-width="0" rx="0" />
<rect x="498.46" y="32.30" width="1.58" height="1.58" fill="rgb(220,128,131)" stroke="none" stroke-width="0" rx="0" />
<rect x="499.99" y="32.30" width="1.58" height="1.58" fill="rgb(219,124,127)" stroke="none" stroke-width="0" rx="0" />
<rect x="504.58" y="32.30" width="1.58" height="1.58" fill="rgb(221,130,133)" stroke="none" stroke-width="0" rx="0" />
<rect x="506.11" y="32.30" width="1.58" height="1.58" fill="rgb(218,122,125)" stroke="none" stroke-width="0" rx="0" />
<rect x="507.64" y="32.30" width="1.58" height="1.58" fill="rgb(231,167,169)" stroke="none" stroke-width="0" rx="0" />
<rect x="509.17" y="32.30" width="1.58" height="1.58" fill="rgb(221,133,136)" stroke="none" stroke-width="0" rx="0" />
<rect x="512.23" y="32.30" width="1.58" height="1.58" fill="rgb(237,191,192)" stroke="none" stroke-width="0" rx="0" />
<rect x="515.29" y="32.30" width="1.58" height="1.58" fill="rgb(238,194,196)" stroke="none" stroke-width="0" rx="0" />
<rect x="516.82" y="32.30" width="1.58" height="1.58" fill="rgb(237,189,190)" stroke="none" stroke-width="0" rx="0" />
<rect x="496.93" y="33.83" width="1.58" height="1.58" fill="rgb(236,188,190)" stroke="none" stroke-width="0" rx="0" />
<rect x="498.46" y="33.83" width="1.58" height="1.58" fill="rgb(238,196,197)" stroke="none" stroke-width="0" rx="0" />
<rect x="499.99" y="33.83" width="1.58" height="1.58" fill="rgb(229,160,163)" stroke="none" stroke-width="0" rx="0" />
<rect x="501.52" y="33.83" width="1.58" height="1.58" fill="rgb(209,89,92)" stroke="none" stroke-width="0" rx="0" />
<rect x="503.05" y="33.83" width="1.58" height="1.58" fill="rgb(230,166,168)" stroke="none" stroke-width="0" rx="0" />
<rect x="506.11" y="33.83" width="1.58" height="1.58" fill="rgb(236,185,187)" stroke="none" stroke-width="0" rx="0" />
<rect x="507.64" y="33.83" width="1.58" height="1.58" fill="rgb(235,182,184)" stroke="none" stroke-width="0" rx="0" />
<rect x="509.17" y="33.83" width="1.58" height="1.58" fill="rgb(241,206,207)" stroke="none" stroke-width="0" rx="0" />
<rect x="510.70" y="33.83" width="1.58" height="1.58" fill="rgb(239,196,197)" stroke="none" stroke-width="0" rx="0" />
<rect x="512.23" y="33.83" width="1.58" height="1.58" fill="rgb(242,209,210)" stroke="none" stroke-width="0" rx="0" />
<rect x="533.65" y="33.83" width="1.58" height="1.58" fill="rgb(246,222,223)" stroke="none" stroke-width="0" rx="0" />
<rect x="545.89" y="33.83" width="1.58" height="1.58" fill="rgb(236,188,189)" stroke="none" stroke-width="0" rx="0" />
<rect x="498.46" y="35.35" width="1.58" height="1.58" fill="rgb(227,155,157)" stroke="none" stroke-width="0" rx="0" />
<rect x="503.05" y="35.35" width="1.58" height="1.58" fill="rgb(227,155,158)" stroke="none" stroke-width="0" rx="0" />
<rect x="509.17" y="35.35" width="1.58" height="1.58" fill="rgb(236,185,187)" stroke="none" stroke-width="0" rx="0" />
<rect x="510.70" y="35.35" width="1.58" height="1.58" fill="rgb(218,120,124)" stroke="none" stroke-width="0" rx="0" />
<rect x="512.23" y="35.35" width="1.58" height="1.58" fill="rgb(239,197,198)" stroke="none" stroke-width="0" rx="0" />
<rect x="513.76" y="35.35" width="1.58" height="1.58" fill="rgb(238,194,195)" stroke="none" stroke-width="0" rx="0" />
<rect x="515.29" y="35.35" width="1.58" height="1.58" fill="rgb(241,204,206)" stroke="none" stroke-width="0" rx="0" />
<rect x="527.53" y="35.35" width="1.58" height="1.58" fill="rgb(244,215,216)" stroke="none" stroke-width="0" rx="0" />
<rect x="532.12" y="35.35" width="1.58" height="1.58" fill="rgb(246,224,225)" stroke="none" stroke-width="0" rx="0" />
<rect x="553.54" y="35.35" width="1.58" height="1.58" fill="rgb(245,221,221)" stroke="none" stroke-width="0" rx="0" />
<rect x="495.40" y="36.88" width="1.58" height="1.58" fill="rgb(244,216,217)" stroke="none" stroke-width="0" rx="0" />
<rect x="496.93" y="36.88" width="1.58" height="1.58" fill="rgb(243,211,212)" stroke="none" stroke-width="0" rx="0" />
<rect x="503.05" y="36.88" width="1.58" height="1.58" fill="rgb(244,214,215)" stroke="none" stroke-width="0" rx="0" />
<rect x="504.58" y="36.88" width="1.58" height="1.58" fill="rgb(243,214,215)" stroke="none" stroke-width="0" rx="0" />
<rect x="506.11" y="36.88" width="1.58" height="1.58" fill="rgb(245,221,222)" stroke="none" stroke-width="0" rx="0" />
<rect x="507.64" y="36.88" width="1.58" height="1.58" fill="rgb(244,217,218)" stroke="none" stroke-width="0" rx="0" />
<rect x="512.23" y="36.88" width="1.58" height="1.58" fill="rgb(245,219,220)" stroke="none" stroke-width="0" rx="0" />
<rect x="513.76" y="36.88" width="1.58" height="1.58" fill="rgb(245,221,221)" stroke="none" stroke-width="0" rx="0" />
<rect x="545.89" y="36.88" width="1.58" height="1.58" fill="rgb(245,221,222)" stroke="none" stroke-width="0" rx="0" />
<rect x="495.40" y="38.41" width="1.58" height="1.58" fill="rgb(198,46,51)" stroke="none" stroke-width="0" rx="0" />
<rect x="496.93" y="38.41" width="1.58" height="1.58" fill="rgb(216,114,117)" stroke="none" stroke-width="0" rx="0" />
<rect x="498.46" y="38.41" width="1.58" height="1.58" fill="rgb(209,88,92)" stroke="none" stroke-width="0" rx="0" />
<rect x="499.99" y="38.41" width="1.58" height="1.58" fill="rgb(202,64,68)" stroke="none" stroke-width="0" rx="0" />
<rect x="501.52" y="38.41" width="1.58" height="1.58" fill="rgb(195,35,40)" stroke="none" stroke-width="0" rx="0" />
<rect x="503.05" y="38.41" width="1.58" height="1.58" fill="rgb(206,78,82)" stroke="none" stroke-width="0" rx="0" />
<rect x="504.58" y="38.41" width="1.58" height="1.58" fill="rgb(214,106,109)" stroke="none" stroke-width="0" rx="0" />
<rect x="506.11" y="38.41" width="1.58" height="1.58" fill="rgb(217,117,120)" stroke="none" stroke-width="0" rx="0" />
<rect x="507.64" y="38.41" width="1.58" height="1.58" fill="rgb(216,114,117)" stroke="none" stroke-width="0" rx="0" />
<rect x="509.17" y="38.41" width="1.58" height="1.58" fill="rgb(226,150,153)" stroke="none" stroke-width="0" rx="0" />
<rect x="510.70" y="38.41" width="1.58" height="1.58" fill="rgb(229,161,163)" stroke="none" stroke-width="0" rx="0" />
<rect x="513.76" y="38.41" width="1.58" height="1.58" fill="rgb(237,190,191)" stroke="none" stroke-width="0" rx="0" />
<rect x="515.29" y="38.41" width="1.58" height="1.58" fill="rgb(230,163,165)" stroke="none" stroke-width="0" rx="0" />
<rect x="516.82" y="38.41" width="1.58" height="1.58" fill="rgb(238,196,197)" stroke="none" stroke-width="0" rx="0" />
<rect x="532.12" y="38.41" width="1.58" height="1.58" fill="rgb(242,210,211)" stroke="none" stroke-width="0" rx="0" />
<rect x="533.65" y="38.41" width="1.58" height="1.58" fill="rgb(243,214,215)" stroke="none" stroke-width="0" rx="0" />
<rect x="539.77" y="38.41" width="1.58" height="1.58" fill="rgb(245,219,219)" stroke="none" stroke-width="0" rx="0" />
<rect x="541.30" y="38.41" width="1.58" height="1.58" fill="rgb(244,217,218)" stroke="none" stroke-width="0" rx="0" />
<rect x="545.89" y="38.41" width="1.58" height="1.58" fill="rgb(230,165,167)" stroke="none" stroke-width="0" rx="0" />
<rect x="547.42" y="38.41" width="1.58" height="1.58" fill="rgb(235,182,184)" stroke="none" stroke-width="0" rx="0" />
<rect x="495.40" y="39.93" width="1.58" height="1.58" fill="rgb(225,145,147)" stroke="none" stroke-width="0" rx="0" />
<rect x="496.93" y="39.93" width="1.58" height="1.58" fill="rgb(208,82,86)" stroke="none" stroke-width="0" rx="0" />
<rect x="498.46" y="39.93" width="1.58" height="1.58" fill="rgb(223,139,142)" stroke="none" stroke-width="0" rx="0" />
<rect x="499.99" y="39.93" width="1.58" height="1.58" fill="rgb(222,136,138)" stroke="none" stroke-width="0" rx="0" />
<rect x="501.52" y="39.93" width="1.58" height="1.58" fill="rgb(218,119,122)" stroke="none" stroke-width="0" rx="0" />
<rect x="503.05" y="39.93" width="1.58" height="1.58" fill="rgb(210,92,96)" stroke="none" stroke-width="0" rx="0" />
<rect x="504.58" y="39.93" width="1.58" height="1.58" fill="rgb(212,100,103)" stroke="none" stroke-width="0" rx="0" />
<rect x="506.11" y="39.93" width="1.58" height="1.58" fill="rgb(235,183,185)" stroke="none" stroke-width="0" rx="0" />
<rect x="507.64" y="39.93" width="1.58" height="1.58" fill="rgb(225,147,150)" stroke="none" stroke-width="0" rx="0" />
<rect x="509.17" y="39.93" width="1.58" height="1.58" fill="rgb(223,139,142)" stroke="none" stroke-width="0" rx="0" />
<rect x="510.70" y="39.93" width="1.58" height="1.58" fill="rgb(226,149,152)" stroke="none" stroke-width="0" rx="0" />
<rect x="512.23" y="39.93" width="1.58" height="1.58" fill="rgb(229,161,163)" stroke="none" stroke-width="0" rx="0" />
<rect x="513.76" y="39.93" width="1.58" height="1.58" fill="rgb(233,175,177)" stroke="none" stroke-width="0" rx="0" />
<rect x="499.99" y="41.46" width="1.58" height="1.58" fill="rgb(243,213,214)" stroke="none" stroke-width="0" rx="0" />
<rect x="501.52" y="41.46" width="1.58" height="1.58" fill="rgb(245,220,221)" stroke="none" stroke-width="0" rx="0" />
<rect x="503.05" y="41.46" width="1.58" height="1.58" fill="rgb(245,219,219)" stroke="none" stroke-width="0" rx="0" />
<rect x="504.58" y="41.46" width="1.58" height="1.58" fill="rgb(245,218,219)" stroke="none" stroke-width="0" rx="0" />
<rect x="509.17" y="41.46" width="1.58" height="1.58" fill="rgb(246,223,224)" stroke="none" stroke-width="0" rx="0" />
<rect x="513.76" y="41.46" width="1.58" height="1.58" fill="rgb(246,225,225)" stroke="none" stroke-width="0" rx="0" />
<rect x="515.29" y="41.46" width="1.58" height="1.58" fill="rgb(246,225,225)" stroke="none" stroke-width="0" rx="0" />
<rect x="496.93" y="42.98" width="1.58" height="1.58" fill="rgb(246,222,223)" stroke="none" stroke-width="0" rx="0" />
<rect x="498.46" y="42.98" width="1.58" height="1.58" fill="rgb(243,213,214)" stroke="none" stroke-width="0" rx="0" />
<rect x="501.52" y="42.98" width="1.58" height="1.58" fill="rgb(245,220,221)" stroke="none" stroke-width="0" rx="0" />
<rect x="503.05" y="42.98" width="1.58" height="1.58" fill="rgb(243,212,213)" stroke="none" stroke-width="0" rx="0" />
<rect x="507.64" y="42.98" width="1.58" height="1.58" fill="rgb(245,219,220)" stroke="none" stroke-width="0" rx="0" />
<rect x="510.70" y="42.98" width="1.58" height="1.58" fill="rgb(245,219,220)" stroke="none" stroke-width="0" rx="0" />
<rect x="513.76" y="42.98" width="1.58" height="1.58" fill="rgb(246,224,225)" stroke="none" stroke-width="0" rx="0" />
<rect x="515.29" y="42.98" width="1.58" height="1.58" fill="rgb(246,224,224)" stroke="none" stroke-width="0" rx="0" />
<rect x="498.46" y="44.51" width="1.58" height="1.58" fill="rgb(233,174,176)" stroke="none" stroke-width="0" rx="0" />
<rect x="499.99" y="44.51" width="1.58" height="1.58" fill="rgb(229,163,165)" stroke="none" stroke-width="0" rx="0" />
<rect x="501.52" y="44.51" width="1.58" height="1.58" fill="rgb(223,137,140)" stroke="none" stroke-width="0" rx="0" />
<rect x="503.05" y="44.51" width="1.58" height="1.58" fill="rgb(229,160,162)" stroke="none" stroke-width="0" rx="0" />
<rect x="504.58" y="44.51" width="1.58" height="1.58" fill="rgb(230,164,166)" stroke="none" stroke-width="0" rx="0" />
<rect x="506.11" y="44.51" width="1.58" height="1.58" fill="rgb(235,183,185)" stroke="none" stroke-width="0" rx="0" />
<rect x="507.64" y="44.51" width="1.58" height="1.58" fill="rgb(238,196,197)" stroke="none" stroke-width="0" rx="0" />
<rect x="509.17" y="44.51" width="1.58" height="1.58" fill="rgb(231,169,171)" stroke="none" stroke-width="0" rx="0" />
<rect x="512.23" y="44.51" width="1.58" height="1.58" fill="rgb(236,185,187)" stroke="none" stroke-width="0" rx="0" />
<rect x="513.76" y="44.51" width="1.58" height="1.58" fill="rgb(243,211,212)" stroke="none" stroke-width="0" rx="0" />
<rect x="516.82" y="44.51" width="1.58" height="1.58" fill="rgb(242,210,211)" stroke="none" stroke-width="0" rx="0" />
<rect x="527.53" y="44.51" width="1.58" height="1.58" fill="rgb(242,209,210)" stroke="none" stroke-width="0" rx="0" />
<rect x="539.77" y="44.51" width="1.58" height="1.58" fill="rgb(246,223,223)" stroke="none" stroke-width="0" rx="0" />
<rect x="547.42" y="44.51" width="1.58" height="1.58" fill="rgb(240,200,201)" stroke="none" stroke-width="0" rx="0" />
<rect x="498.46" y="46.03" width="1.58" height="1.58" fill="rgb(231,169,171)" stroke="none" stroke-width="0" rx="0" />
<rect x="499.99" y="46.03" width="1.58" height="1.58" fill="rgb(236,188,189)" stroke="none" stroke-width="0" rx="0" />
<rect x="501.52" y="46.03" width="1.58" height="1.58" fill="rgb(232,171,173)" stroke="none" stroke-width="0" rx="0" />
<rect x="503.05" y="46.03" width="1.58" height="1.58" fill="rgb(232,171,173)" stroke="none" stroke-width="0" rx="0" />
<rect x="504.58" y="46.03" width="1.58" height="1.58" fill="rgb(229,161,163)" stroke="none" stroke-width="0" rx="0" />
<rect x="506.11" y="46.03" width="1.58" height="1.58" fill="rgb(241,205,206)" stroke="none" stroke-width="0" rx="0" />
<rect x="507.64" y="46.03" width="1.58" height="1.58" fill="rgb(236,187,188)" stroke="none" stroke-width="0" rx="0" />
<rect x="510.70" y="46.03" width="1.58" height="1.58" fill="rgb(240,201,202)" stroke="none" stroke-width="0" rx="0" />
<rect x="513.76" y="46.03" width="1.58" height="1.58" fill="rgb(239,198,199)" stroke="none" stroke-width="0" rx="0" />
<rect x="541.30" y="46.03" width="1.58" height="1.58" fill="rgb(246,225,226)" stroke="none" stroke-width="0" rx="0" />
<rect x="545.89" y="46.03" width="1.58" height="1.58" fill="rgb(239,198,199)" stroke="none" stroke-width="0" rx="0" />
<rect x="547.42" y="46.03" width="1.58" height="1.58" fill="rgb(240,200,201)" stroke="none" stroke-width="0" rx="0" />
<rect x="548.95" y="46.03" width="1.58" height="1.58" fill="rgb(246,225,225)" stroke="none" stroke-width="0" rx="0" />
<rect x="495.40" y="47.56" width="1.58" height="1.58" fill="rgb(216,113,117)" stroke="none" stroke-width="0" rx="0" />
<rect x="496.93" y="47.56" width="1.58" height="1.58" fill="rgb(195,35,40)" stroke="none" stroke-width="0" rx="0" />
<rect x="498.46" y="47.56" width="1.58" height="1.58" fill="rgb(221,130,133)" stroke="none" stroke-width="0" rx="0" />
<rect x="499.99" y="47.56" width="1.58" height="1.58" fill="rgb(208,84,88)" stroke="none" stroke-width="0" rx="0" />
<rect x="501.52" y="47.56" width="1.58" height="1.58" fill="rgb(199,53,57)" stroke="none" stroke-width="0" rx="0" />
<rect x="503.05" y="47.56" width="1.58" height="1.58" fill="rgb(207,82,86)" stroke="none" stroke-width="0" rx="0" />
<rect x="504.58" y="47.56" width="1.58" height="1.58" fill="rgb(195,35,40)" stroke="none" stroke-width="0" rx="0" />
<rect x="506.11" y="47.56" width="1.58" height="1.58" fill="rgb(212,100,104)" stroke="none" stroke-width="0" rx="0" />
<rect x="507.64" y="47.56" width="1.58" height="1.58" fill="rgb(217,116,119)" stroke="none" stroke-width="0" rx="0" />
<rect x="509.17" y="47.56" width="1.58" height="1.58" fill="rgb(225,146,148)" stroke="none" stroke-width="0" rx="0" />
<rect x="510.70" y="47.56" width="1.58" height="1.58" fill="rgb(214,105,108)" stroke="none" stroke-width="0" rx="0" />
<rect x="512.23" y="47.56" width="1.58" height="1.58" fill="rgb(221,130,133)" stroke="none" stroke-width="0" rx="0" />
<rect x="513.76" y="47.56" width="1.58" height="1.58" fill="rgb(236,188,190)" stroke="none" stroke-width="0" rx="0" />
<rect x="515.29" y="47.56" width="1.58" height="1.58" fill="rgb(231,170,172)" stroke="none" stroke-width="0" rx="0" />
<rect x="516.82" y="47.56" width="1.58" height="1.58" fill="rgb(232,172,174)" stroke="none" stroke-width="0" rx="0" />
<rect x="524.47" y="47.56" width="1.58" height="1.58" fill="rgb(242,207,208)" stroke="none" stroke-width="0" rx="0" />
<rect x="538.24" y="47.56" width="1.58" height="1.58" fill="rgb(242,209,210)" stroke="none" stroke-width="0" rx="0" />
<rect x="542.83" y="47.56" width="1.58" height="1.58" fill="rgb(244,217,218)" stroke="none" stroke-width="0" rx="0" />
<rect x="545.89" y="47.56" width="1.58" height="1.58" fill="rgb(217,115,119)" stroke="none" stroke-width="0" rx="0" />
<rect x="547.42" y="47.56" width="1.58" height="1.58" fill="rgb(228,158,160)" stroke="none" stroke-width="0" rx="0" />
<rect x="548.95" y="47.56" width="1.58" height="1.58" fill="rgb(245,220,221)" stroke="none" stroke-width="0" rx="0" />
<rect x="495.40" y="49.08" width="1.58" height="1.58" fill="rgb(218,122,125)" stroke="none" stroke-width="0" rx="0" />
<rect x="496.93" y="49.08" width="1.58" height="1.58" fill="rgb(195,35,40)" stroke="none" stroke-width="0" rx="0" />
<rect x="498.46" y="49.08" width="1.58" height="1.58" fill="rgb(212,100,104)" stroke="none" stroke-width="0" rx="0" />
<rect x="499.99" y="49.08" width="1.58" height="1.58" fill="rgb(195,35,40)" stroke="none" stroke-width="0" rx="0" />
<rect x="501.52" y="49.08" width="1.58" height="1.58" fill="rgb(202,61,65)" stroke="none" stroke-width="0" rx="0" />
<rect x="503.05" y="49.08" width="1.58" height="1.58" fill="rgb(224,144,146)" stroke="none" stroke-width="0" rx="0" />
<rect x="504.58" y="49.08" width="1.58" height="1.58" fill="rgb(214,106,110)" stroke="none" stroke-width="0" rx="0" />
<rect x="506.11" y="49.08" width="1.58" height="1.58" fill="rgb(208,83,87)" stroke="none" stroke-width="0" rx="0" />
<rect x="507.64" y="49.08" width="1.58" height="1.58" fill="rgb(205,72,76)" stroke="none" stroke-width="0" rx="0" />
<rect x="509.17" y="49.08" width="1.58" height="1.58" fill="rgb(227,155,157)" stroke="none" stroke-width="0" rx="0" />
<rect x="510.70" y="49.08" width="1.58" height="1.58" fill="rgb(230,165,167)" stroke="none" stroke-width="0" rx="0" />
<rect x="512.23" y="49.08" width="1.58" height="1.58" fill="rgb(222,137,140)" stroke="none" stroke-width="0" rx="0" />
<rect x="513.76" y="49.08" width="1.58" height="1.58" fill="rgb(226,149,152)" stroke="none" stroke-width="0" rx="0" />
<rect x="515.29" y="49.08" width="1.58" height="1.58" fill="rgb(236,185,187)" stroke="none" stroke-width="0" rx="0" />
<rect x="522.94" y="49.08" width="1.58" height="1.58" fill="rgb(241,206,207)" stroke="none" stroke-width="0" rx="0" />
<rect x="527.53" y="49.08" width="1.58" height="1.58" fill="rgb(238,192,194)" stroke="none" stroke-width="0" rx="0" />
<rect x="532.12" y="49.08" width="1.58" height="1.58" fill="rgb(244,216,217)" stroke="none" stroke-width="0" rx="0" />
<rect x="542.83" y="49.08" width="1.58" height="1.58" fill="rgb(243,214,215)" stroke="none" stroke-width="0" rx="0" />
<rect x="547.42" y="49.08" width="1.58" height="1.58" fill="rgb(232,172,173)" stroke="none" stroke-width="0" rx="0" />
<rect x="495.40" y="50.61" width="1.58" height="1.58" fill="rgb(195,35,40)" stroke="none" stroke-width="0" rx="0" />
<rect x="496.93" y="50.61" width="1.58" height="1.58" fill="rgb(195,35,40)" stroke="none" stroke-width="0" rx="0" />
<rect x="498.46" y="50.61" width="1.58" height="1.58" fill="rgb(220,127,130)" stroke="none" stroke-width="0" rx="0" />
<rect x="499.99" y="50.61" width="1.58" height="1.58" fill="rgb(209,88,92)" stroke="none" stroke-width="0" rx="0" />
<rect x="501.52" y="50.61" width="1.58" height="1.58" fill="rgb(195,38,43)" stroke="none" stroke-width="0" rx="0" />
<rect x="503.05" y="50.61" width="1.58" height="1.58" fill="rgb(218,119,123)" stroke="none" stroke-width="0" rx="0" />
<rect x="504.58" y="50.61" width="1.58" height="1.58" fill="rgb(225,146,149)" stroke="none" stroke-width="0" rx="0" />
<rect x="506.11" y="50.61" width="1.58" height="1.58" fill="rgb(212,99,103)" stroke="none" stroke-width="0" rx="0" />
<rect x="507.64" y="50.61" width="1.58" height="1.58" fill="rgb(206,78,82)" stroke="none" stroke-width="0" rx="0" />
<rect x="509.17" y="50.61" width="1.58" height="1.58" fill="rgb(222,135,138)" stroke="none" stroke-width="0" rx="0" />
<rect x="510.70" y="50.61" width="1.58" height="1.58" fill="rgb(216,113,117)" stroke="none" stroke-width="0" rx="0" />
<rect x="513.76" y="50.61" width="1.58" height="1.58" fill="rgb(228,157,159)" stroke="none" stroke-width="0" rx="0" />
<rect x="515.29" y="50.61" width="1.58" height="1.58" fill="rgb(237,190,191)" stroke="none" stroke-width="0" rx="0" />
<rect x="516.82" y="50.61" width="1.58" height="1.58" fill="rgb(237,189,191)" stroke="none" stroke-width="0" rx="0" />
<rect x="522.94" y="50.61" width="1.58" height="1.58" fill="rgb(242,209,210)" stroke="none" stroke-width="0" rx="0" />
<rect x="532.12" y="50.61" width="1.58" height="1.58" fill="rgb(244,215,215)" stroke="none" stroke-width="0" rx="0" />
<rect x="536.71" y="50.61" width="1.58" height="1.58" fill="rgb(243,213,214)" stroke="none" stroke-width="0" rx="0" />
<rect x="544.36" y="50.61" width="1.58" height="1.58" fill="rgb(244,217,218)" stroke="none" stroke-width="0" rx="0" />
<rect x="545.89" y="50.61" width="1.58" height="1.58" fill="rgb(227,155,157)" stroke="none" stroke-width="0" rx="0" />
<rect x="547.42" y="50.61" width="1.58" height="1.58" fill="rgb(213,103,106)" stroke="none" stroke-width="0" rx="0" />
<rect x="495.40" y="52.14" width="1.58" height="1.58" fill="rgb(217,117,120)" stroke="none" stroke-width="0" rx="0" />
<rect x="496.93" y="52.14" width="1.58" height="1.58" fill="rgb(212,99,103)" stroke="none" stroke-width="0" rx="0" />
<rect x="498.46" y="52.14" width="1.58" height="1.58" fill="rgb(195,35,40)" stroke="none" stroke-width="0" rx="0" />
<rect x="499.99" y="52.14" width="1.58" height="1.58" fill="rgb(195,35,40)" stroke="none" stroke-width="0" rx="0" />
<rect x="501.52" y="52.14" width="1.58" height="1.58" fill="rgb(199,52,56)" stroke="none" stroke-width="0" rx="0" />
<rect x="503.05" y="52.14" width="1.58" height="1.58" fill="rgb(195,35,40)" stroke="none" stroke-width="0" rx="0" />
<rect x="504.58" y="52.14" width="1.58" height="1.58" fill="rgb(195,35,40)" stroke="none" stroke-width="0" rx="0" />
<rect x="506.11" y="52.14" width="1.58" height="1.58" fill="rgb(223,141,143)" stroke="none" stroke-width="0" rx="0" />
<rect x="507.64" y="52.14" width="1.58" height="1.58" fill="rgb(216,113,116)" stroke="none" stroke-width="0" rx="0" />
<rect x="509.17" y="52.14" width="1.58" height="1.58" fill="rgb(228,156,158)" stroke="none" stroke-width="0" rx="0" />
<rect x="510.70" y="52.14" width="1.58" height="1.58" fill="rgb(224,144,146)" stroke="none" stroke-width="0" rx="0" />
<rect x="512.23" y="52.14" width="1.58" height="1.58" fill="rgb(218,122,125)" stroke="none" stroke-width="0" rx="0" />
<rect x="513.76" y="52.14" width="1.58" height="1.58" fill="rgb(236,188,189)" stroke="none" stroke-width="0" rx="0" />
<rect x="515.29" y="52.14" width="1.58" height="1.58" fill="rgb(214,106,109)" stroke="none" stroke-width="0" rx="0" />
<rect x="516.82" y="52.14" width="1.58" height="1.58" fill="rgb(237,192,193)" stroke="none" stroke-width="0" rx="0" />
<rect x="533.65" y="52.14" width="1.58" height="1.58" fill="rgb(244,216,217)" stroke="none" stroke-width="0" rx="0" />
<rect x="535.18" y="52.14" width="1.58" height="1.58" fill="rgb(242,208,209)" stroke="none" stroke-width="0" rx="0" />
<rect x="539.77" y="52.14" width="1.58" height="1.58" fill="rgb(244,215,216)" stroke="none" stroke-width="0" rx="0" />
<rect x="541.30" y="52.14" width="1.58" height="1.58" fill="rgb(245,218,219)" stroke="none" stroke-width="0" rx="0" />
<rect x="542.83" y="52.14" width="1.58" height="1.58" fill="rgb(244,216,217)" stroke="none" stroke-width="0" rx="0" />
<rect x="545.89" y="52.14" width="1.58" height="1.58" fill="rgb(221,130,133)" stroke="none" stroke-width="0" rx="0" />
<rect x="547.42" y="52.14" width="1.58" height="1.58" fill="rgb(221,133,136)" stroke="none" stroke-width="0" rx="0" />
<rect x="495.40" y="53.66" width="1.58" height="1.58" fill="rgb(221,130,133)" stroke="none" stroke-width="0" rx="0" />
<rect x="496.93" y="53.66" width="1.58" height="1.58" fill="rgb(200,54,59)" stroke="none" stroke-width="0" rx="0" />
<rect x="498.46" y="53.66" width="1.58" height="1.58" fill="rgb(206,78,82)" stroke="none" stroke-width="0" rx="0" />
<rect x="499.99" y="53.66" width="1.58" height="1.58" fill="rgb(195,35,40)" stroke="none" stroke-width="0" rx="0" />
<rect x="501.52" y="53.66" width="1.58" height="1.58" fill="rgb(196,41,46)" stroke="none" stroke-width="0" rx="0" />
<rect x="503.05" y="53.66" width="1.58" height="1.58" fill="rgb(205,73,77)" stroke="none" stroke-width="0" rx="0" />
<rect x="504.58" y="53.66" width="1.58" height="1.58" fill="rgb(220,129,132)" stroke="none" stroke-width="0" rx="0" />
<rect x="506.11" y="53.66" width="1.58" height="1.58" fill="rgb(220,128,130)" stroke="none" stroke-width="0" rx="0" />
<rect x="507.64" y="53.66" width="1.58" height="1.58" fill="rgb(223,140,143)" stroke="none" stroke-width="0" rx="0" />
<rect x="509.17" y="53.66" width="1.58" height="1.58" fill="rgb(228,158,160)" stroke="none" stroke-width="0" rx="0" />
<rect x="510.70" y="53.66" width="1.58" height="1.58" fill="rgb(226,150,152)" stroke="none" stroke-width="0" rx="0" />
<rect x="512.23" y="53.66" width="1.58" height="1.58" fill="rgb(233,175,177)" stroke="none" stroke-width="0" rx="0" />
<rect x="513.76" y="53.66" width="1.58" height="1.58" fill="rgb(232,171,173)" stroke="none" stroke-width="0" rx="0" />
<rect x="515.29" y="53.66" width="1.58" height="1.58" fill="rgb(230,166,168)" stroke="none" stroke-width="0" rx="0" />
<rect x="518.35" y="53.66" width="1.58" height="1.58" fill="rgb(244,216,217)" stroke="none" stroke-width="0" rx="0" />
<rect x="519.88" y="53.66" width="1.58" height="1.58" fill="rgb(244,216,217)" stroke="none" stroke-width="0" rx="0" />
<rect x="529.06" y="53.66" width="1.58" height="1.58" fill="rgb(240,203,204)" stroke="none" stroke-width="0" rx="0" />
<rect x="547.42" y="53.66" width="1.58" height="1.58" fill="rgb(225,146,149)" stroke="none" stroke-width="0" rx="0" />
<rect x="496.93" y="55.19" width="1.58" height="1.58" fill="rgb(226,151,153)" stroke="none" stroke-width="0" rx="0" />
<rect x="498.46" y="55.19" width="1.58" height="1.58" fill="rgb(219,125,128)" stroke="none" stroke-width="0" rx="0" />
<rect x="499.99" y="55.19" width="1.58" height="1.58" fill="rgb(224,144,147)" stroke="none" stroke-width="0" rx="0" />
<rect x="501.52" y="55.19" width="1.58" height="1.58" fill="rgb(202,62,67)" stroke="none" stroke-width="0" rx="0" />
<rect x="503.05" y="55.19" width="1.58" height="1.58" fill="rgb(218,121,124)" stroke="none" stroke-width="0" rx="0" />
<rect x="504.58" y="55.19" width="1.58" height="1.58" fill="rgb(210,91,95)" stroke="none" stroke-width="0" rx="0" />
<rect x="506.11" y="55.19" width="1.58" height="1.58" fill="rgb(219,126,129)" stroke="none" stroke-width="0" rx="0" />
<rect x="509.17" y="55.19" width="1.58" height="1.58" fill="rgb(229,160,162)" stroke="none" stroke-width="0" rx="0" />
<rect x="510.70" y="55.19" width="1.58" height="1.58" fill="rgb(224,142,144)" stroke="none" stroke-width="0" rx="0" />
<rect x="512.23" y="55.19" width="1.58" height="1.58" fill="rgb(222,137,139)" stroke="none" stroke-width="0" rx="0" />
<rect x="513.76" y="55.19" width="1.58" height="1.58" fill="rgb(231,167,169)" stroke="none" stroke-width="0" rx="0" />
<rect x="515.29" y="55.19" width="1.58" height="1.58" fill="rgb(236,187,189)" stroke="none" stroke-width="0" rx="0" />
<rect x="527.53" y="55.19" width="1.58" height="1.58" fill="rgb(243,213,214)" stroke="none" stroke-width="0" rx="0" />
<rect x="529.06" y="55.19" width="1.58" height="1.58" fill="rgb(239,197,198)" stroke="none" stroke-width="0" rx="0" />
<rect x="539.77" y="55.19" width="1.58" height="1.58" fill="rgb(245,219,220)" stroke="none" stroke-width="0" rx="0" />
<rect x="545.89" y="55.19" width="1.58" height="1.58" fill="rgb(226,149,151)" stroke="none" stroke-width="0" rx="0" />
<rect x="547.42" y="55.19" width="1.58" height="1.58" fill="rgb(225,146,148)" stroke="none" stroke-width="0" rx="0" />
<rect x="498.46" y="56.71" width="1.58" height="1.58" fill="rgb(230,164,166)" stroke="none" stroke-width="0" rx="0" />
<rect x="499.99" y="56.71" width="1.58" height="1.58" fill="rgb(213,101,104)" stroke="none" stroke-width="0" rx="0" />
<rect x="501.52" y="56.71" width="1.58" height="1.58" fill="rgb(219,125,128)" stroke="none" stroke-width="0" rx="0" />
<rect x="503.05" y="56.71" width="1.58" height="1.58" fill="rgb(224,142,145)" stroke="none" stroke-width="0" rx="0" />
<rect x="504.58" y="56.71" width="1.58" height="1.58" fill="rgb(229,163,165)" stroke="none" stroke-width="0" rx="0" />
<rect x="507.64" y="56.71" width="1.58" height="1.58" fill="rgb(230,163,165)" stroke="none" stroke-width="0" rx="0" />
<rect x="509.17" y="56.71" width="1.58" height="1.58" fill="rgb(237,189,191)" stroke="none" stroke-width="0" rx="0" />
<rect x="512.23" y="56.71" width="1.58" height="1.58" fill="rgb(239,196,197)" stroke="none" stroke-width="0" rx="0" />
<rect x="513.76" y="56.71" width="1.58" height="1.58" fill="rgb(238,195,197)" stroke="none" stroke-width="0" rx="0" />
<rect x="515.29" y="56.71" width="1.58" height="1.58" fill="rgb(237,192,193)" stroke="none" stroke-width="0" rx="0" />
<rect x="516.82" y="56.71" width="1.58" height="1.58" fill="rgb(242,207,208)" stroke="none" stroke-width="0" rx="0" />
<rect x="539.77" y="56.71" width="1.58" height="1.58" fill="rgb(245,220,221)" stroke="none" stroke-width="0" rx="0" />
<rect x="547.42" y="56.71" width="1.58" height="1.58" fill="rgb(239,197,199)" stroke="none" stroke-width="0" rx="0" />
<rect x="548.95" y="56.71" width="1.58" height="1.58" fill="rgb(245,218,219)" stroke="none" stroke-width="0" rx="0" />
<rect x="495.40" y="58.24" width="1.58" height="1.58" fill="rgb(243,212,213)" stroke="none" stroke-width="0" rx="0" />
<rect x="496.93" y="58.24" width="1.58" height="1.58" fill="rgb(243,213,214)" stroke="none" stroke-width="0" rx="0" />
<rect x="498.46" y="58.24" width="1.58" height="1.58" fill="rgb(244,216,217)" stroke="none" stroke-width="0" rx="0" />
<rect x="501.52" y="58.24" width="1.58" height="1.58" fill="rgb(243,211,212)" stroke="none" stroke-width="0" rx="0" />
<rect x="509.17" y="58.24" width="1.58" height="1.58" fill="rgb(246,224,224)" stroke="none" stroke-width="0" rx="0" />
<rect x="510.70" y="58.24" width="1.58" height="1.58" fill="rgb(246,224,225)" stroke="none" stroke-width="0" rx="0" />
<rect x="516.82" y="58.24" width="1.58" height="1.58" fill="rgb(247,225,226)" stroke="none" stroke-width="0" rx="0" />
<rect x="518.35" y="58.24" width="1.58" height="1.58" fill="rgb(247,227,228)" stroke="none" stroke-width="0" rx="0" />
<rect x="539.77" y="58.24" width="1.58" height="1.58" fill="rgb(247,227,227)" stroke="none" stroke-width="0" rx="0" />
<rect x="495.40" y="59.76" width="1.58" height="1.58" fill="rgb(221,133,136)" stroke="none" stroke-width="0" rx="0" />
<rect x="496.93" y="59.76" width="1.58" height="1.58" fill="rgb(209,89,93)" stroke="none" stroke-width="0" rx="0" />
<rect x="498.46" y="59.76" width="1.58" height="1.58" fill="rgb(226,150,153)" stroke="none" stroke-width="0" rx="0" />
<rect x="499.99" y="59.76" width="1.58" height="1.58" fill="rgb(221,132,134)" stroke="none" stroke-width="0" rx="0" />
<rect x="501.52" y="59.76" width="1.58" height="1.58" fill="rgb(216,115,118)" stroke="none" stroke-width="0" rx="0" />
<rect x="503.05" y="59.76" width="1.58" height="1.58" fill="rgb(215,111,114)" stroke="none" stroke-width="0" rx="0" />
<rect x="504.58" y="59.76" width="1.58" height="1.58" fill="rgb(205,74,78)" stroke="none" stroke-width="0" rx="0" />
<rect x="506.11" y="59.76" width="1.58" height="1.58" fill="rgb(232,171,173)" stroke="none" stroke-width="0" rx="0" />
<rect x="507.64" y="59.76" width="1.58" height="1.58" fill="rgb(214,107,111)" stroke="none" stroke-width="0" rx="0" />
<rect x="509.17" y="59.76" width="1.58" height="1.58" fill="rgb(223,138,140)" stroke="none" stroke-width="0" rx="0" />
<rect x="510.70" y="59.76" width="1.58" height="1.58" fill="rgb(226,149,151)" stroke="none" stroke-width="0" rx="0" />
<rect x="512.23" y="59.76" width="1.58" height="1.58" fill="rgb(236,187,188)" stroke="none" stroke-width="0" rx="0" />
<rect x="515.29" y="59.76" width="1.58" height="1.58" fill="rgb(234,178,180)" stroke="none" stroke-width="0" rx="0" />
<rect x="529.06" y="59.76" width="1.58" height="1.58" fill="rgb(238,195,197)" stroke="none" stroke-width="0" rx="0" />
<rect x="542.83" y="59.76" width="1.58" height="1.58" fill="rgb(244,215,216)" stroke="none" stroke-width="0" rx="0" />
<rect x="495.40" y="61.29" width="1.58" height="1.58" fill="rgb(199,52,56)" stroke="none" stroke-width="0" rx="0" />
<rect x="496.93" y="61.29" width="1.58" height="1.58" fill="rgb(226,151,154)" stroke="none" stroke-width="0" rx="0" />
<rect x="498.46" y="61.29" width="1.58" height="1.58" fill="rgb(223,139,141)" stroke="none" stroke-width="0" rx="0" />
<rect x="499.99" y="61.29" width="1.58" height="1.58" fill="rgb(201,58,62)" stroke="none" stroke-width="0" rx="0" />
<rect x="501.52" y="61.29" width="1.58" height="1.58" fill="rgb(214,107,110)" stroke="none" stroke-width="0" rx="0" />
<rect x="503.05" y="61.29" width="1.58" height="1.58" fill="rgb(203,65,70)" stroke="none" stroke-width="0" rx="0" />
<rect x="504.58" y="61.29" width="1.58" height="1.58" fill="rgb(205,73,77)" stroke="none" stroke-width="0" rx="0" />
<rect x="506.11" y="61.29" width="1.58" height="1.58" fill="rgb(211,97,100)" stroke="none" stroke-width="0" rx="0" />
<rect x="507.64" y="61.29" width="1.58" height="1.58" fill="rgb(220,127,130)" stroke="none" stroke-width="0" rx="0" />
<rect x="509.17" y="61.29" width="1.58" height="1.58" fill="rgb(219,126,128)" stroke="none" stroke-width="0" rx="0" />
<rect x="510.70" y="61.29" width="1.58" height="1.58" fill="rgb(222,135,138)" stroke="none" stroke-width="0" rx="0" />
<rect x="522.94" y="61.29" width="1.58" height="1.58" fill="rgb(245,218,219)" stroke="none" stroke-width="0" rx="0" />
<rect x="527.53" y="61.29" width="1.58" height="1.58" fill="rgb(241,205,206)" stroke="none" stroke-width="0" rx="0" />
<rect x="532.12" y="61.29" width="1.58" height="1.58" fill="rgb(242,210,211)" stroke="none" stroke-width="0" rx="0" />
<rect x="542.83" y="61.29" width="1.58" height="1.58" fill="rgb(245,218,219)" stroke="none" stroke-width="0" rx="0" />
<rect x="545.89" y="61.29" width="1.58" height="1.58" fill="rgb(228,156,158)" stroke="none" stroke-width="0" rx="0" />
<rect x="547.42" y="61.29" width="1.58" height="1.58" fill="rgb(236,186,187)" stroke="none" stroke-width="0" rx="0" />
<rect x="495.40" y="62.82" width="1.58" height="1.58" fill="rgb(222,136,139)" stroke="none" stroke-width="0" rx="0" />
<rect x="496.93" y="62.82" width="1.58" height="1.58" fill="rgb(204,69,73)" stroke="none" stroke-width="0" rx="0" />
<rect x="498.46" y="62.82" width="1.58" height="1.58" fill="rgb(215,110,113)" stroke="none" stroke-width="0" rx="0" />
<rect x="499.99" y="62.82" width="1.58" height="1.58" fill="rgb(214,108,111)" stroke="none" stroke-width="0" rx="0" />
<rect x="501.52" y="62.82" width="1.58" height="1.58" fill="rgb(213,104,107)" stroke="none" stroke-width="0" rx="0" />
<rect x="503.05" y="62.82" width="1.58" height="1.58" fill="rgb(217,117,121)" stroke="none" stroke-width="0" rx="0" />
<rect x="504.58" y="62.82" width="1.58" height="1.58" fill="rgb(209,88,92)" stroke="none" stroke-width="0" rx="0" />
<rect x="506.11" y="62.82" width="1.58" height="1.58" fill="rgb(225,145,147)" stroke="none" stroke-width="0" rx="0" />
<rect x="507.64" y="62.82" width="1.58" height="1.58" fill="rgb(222,136,139)" stroke="none" stroke-width="0" rx="0" />
<rect x="509.17" y="62.82" width="1.58" height="1.58" fill="rgb(218,121,124)" stroke="none" stroke-width="0" rx="0" />
<rect x="510.70" y="62.82" width="1.58" height="1.58" fill="rgb(235,183,185)" stroke="none" stroke-width="0" rx="0" />
<rect x="512.23" y="62.82" width="1.58" height="1.58" fill="rgb(230,163,165)" stroke="none" stroke-width="0" rx="0" />
<rect x="513.76" y="62.82" width="1.58" height="1.58" fill="rgb(228,157,159)" stroke="none" stroke-width="0" rx="0" />
<rect x="515.29" y="62.82" width="1.58" height="1.58" fill="rgb(235,182,184)" stroke="none" stroke-width="0" rx="0" />
<rect x="529.06" y="62.82" width="1.58" height="1.58" fill="rgb(237,189,190)" stroke="none" stroke-width="0" rx="0" />
<rect x="541.30" y="62.82" width="1.58" height="1.58" fill="rgb(243,213,214)" stroke="none" stroke-width="0" rx="0" />
<rect x="545.89" y="62.82" width="1.58" height="1.58" fill="rgb(225,145,147)" stroke="none" stroke-width="0" rx="0" />
<rect x="498.46" y="64.34" width="1.58" height="1.58" fill="rgb(245,219,220)" stroke="none" stroke-width="0" rx="0" />
<rect x="501.52" y="64.34" width="1.58" height="1.58" fill="rgb(243,214,215)" stroke="none" stroke-width="0" rx="0" />
<rect x="503.05" y="64.34" width="1.58" height="1.58" fill="rgb(246,222,223)" stroke="none" stroke-width="0" rx="0" />
<rect x="506.11" y="64.34" width="1.58" height="1.58" fill="rgb(246,223,224)" stroke="none" stroke-width="0" rx="0" />
<rect x="510.70" y="64.34" width="1.58" height="1.58" fill="rgb(245,221,221)" stroke="none" stroke-width="0" rx="0" />
<rect x="513.76" y="64.34" width="1.58" height="1.58" fill="rgb(246,224,225)" stroke="none" stroke-width="0" rx="0" />
<rect x="519.88" y="64.34" width="1.58" height="1.58" fill="rgb(247,227,228)" stroke="none" stroke-width="0" rx="0" />
<rect x="496.93" y="65.87" width="1.58" height="1.58" fill="rgb(222,137,139)" stroke="none" stroke-width="0" rx="0" />
<rect x="498.46" y="65.87" width="1.58" height="1.58" fill="rgb(208,83,87)" stroke="none" stroke-width="0" rx="0" />
<rect x="499.99" y="65.87" width="1.58" height="1.58" fill="rgb(229,161,163)" stroke="none" stroke-width="0" rx="0" />
<rect x="501.52" y="65.87" width="1.58" height="1.58" fill="rgb(214,107,110)" stroke="none" stroke-width="0" rx="0" />
<rect x="503.05" y="65.87" width="1.58" height="1.58" fill="rgb(232,173,175)" stroke="none" stroke-width="0" rx="0" />
<rect x="504.58" y="65.87" width="1.58" height="1.58" fill="rgb(208,82,86)" stroke="none" stroke-width="0" rx="0" />
<rect x="507.64" y="65.87" width="1.58" height="1.58" fill="rgb(229,160,162)" stroke="none" stroke-width="0" rx="0" />
<rect x="509.17" y="65.87" width="1.58" height="1.58" fill="rgb(236,186,188)" stroke="none" stroke-width="0" rx="0" />
<rect x="510.70" y="65.87" width="1.58" height="1.58" fill="rgb(231,168,170)" stroke="none" stroke-width="0" rx="0" />
<rect x="535.18" y="65.87" width="1.58" height="1.58" fill="rgb(244,215,216)" stroke="none" stroke-width="0" rx="0" />
<rect x="545.89" y="65.87" width="1.58" height="1.58" fill="rgb(232,174,175)" stroke="none" stroke-width="0" rx="0" />
<rect x="550.48" y="65.87" width="1.58" height="1.58" fill="rgb(245,219,220)" stroke="none" stroke-width="0" rx="0" />
<rect x="552.01" y="65.87" width="1.58" height="1.58" fill="rgb(244,217,218)" stroke="none" stroke-width="0" rx="0" />
<rect x="495.40" y="67.39" width="1.58" height="1.58" fill="rgb(224,143,145)" stroke="none" stroke-width="0" rx="0" />
<rect x="496.93" y="67.39" width="1.58" height="1.58" fill="rgb(224,141,144)" stroke="none" stroke-width="0" rx="0" />
<rect x="498.46" y="67.39" width="1.58" height="1.58" fill="rgb(195,35,40)" stroke="none" stroke-width="0" rx="0" />
<rect x="499.99" y="67.39" width="1.58" height="1.58" fill="rgb(225,148,150)" stroke="none" stroke-width="0" rx="0" />
<rect x="501.52" y="67.39" width="1.58" height="1.58" fill="rgb(221,130,133)" stroke="none" stroke-width="0" rx="0" />
<rect x="503.05" y="67.39" width="1.58" height="1.58" fill="rgb(224,144,147)" stroke="none" stroke-width="0" rx="0" />
<rect x="504.58" y="67.39" width="1.58" height="1.58" fill="rgb(205,73,78)" stroke="none" stroke-width="0" rx="0" />
<rect x="506.11" y="67.39" width="1.58" height="1.58" fill="rgb(228,158,160)" stroke="none" stroke-width="0" rx="0" />
<rect x="507.64" y="67.39" width="1.58" height="1.58" fill="rgb(223,139,142)" stroke="none" stroke-width="0" rx="0" />
<rect x="509.17" y="67.39" width="1.58" height="1.58" fill="rgb(236,188,190)" stroke="none" stroke-width="0" rx="0" />
<rect x="510.70" y="67.39" width="1.58" height="1.58" fill="rgb(223,139,141)" stroke="none" stroke-width="0" rx="0" />
<rect x="512.23" y="67.39" width="1.58" height="1.58" fill="rgb(226,149,151)" stroke="none" stroke-width="0" rx="0" />
<rect x="513.76" y="67.39" width="1.58" height="1.58" fill="rgb(240,203,204)" stroke="none" stroke-width="0" rx="0" />
<rect x="515.29" y="67.39" width="1.58" height="1.58" fill="rgb(234,180,182)" stroke="none" stroke-width="0" rx="0" />
<rect x="518.35" y="67.39" width="1.58" height="1.58" fill="rgb(244,215,216)" stroke="none" stroke-width="0" rx="0" />
<rect x="530.59" y="67.39" width="1.58" height="1.58" fill="rgb(245,221,222)" stroke="none" stroke-width="0" rx="0" />
<rect x="545.89" y="67.39" width="1.58" height="1.58" fill="rgb(231,168,170)" stroke="none" stroke-width="0" rx="0" />
<rect x="547.42" y="67.39" width="1.58" height="1.58" fill="rgb(226,149,152)" stroke="none" stroke-width="0" rx="0" />
<rect x="548.95" y="67.39" width="1.58" height="1.58" fill="rgb(245,218,219)" stroke="none" stroke-width="0" rx="0" />
<rect x="495.40" y="68.92" width="1.58" height="1.58" fill="rgb(233,176,178)" stroke="none" stroke-width="0" rx="0" />
<rect x="498.46" y="68.92" width="1.58" height="1.58" fill="rgb(235,184,185)" stroke="none" stroke-width="0" rx="0" />
<rect x="499.99" y="68.92" width="1.58" height="1.58" fill="rgb(240,200,202)" stroke="none" stroke-width="0" rx="0" />
<rect x="501.52" y="68.92" width="1.58" height="1.58" fill="rgb(236,186,188)" stroke="none" stroke-width="0" rx="0" />
<rect x="503.05" y="68.92" width="1.58" height="1.58" fill="rgb(232,174,176)" stroke="none" stroke-width="0" rx="0" />
<rect x="504.58" y="68.92" width="1.58" height="1.58" fill="rgb(236,188,190)" stroke="none" stroke-width="0" rx="0" />
<rect x="506.11" y="68.92" width="1.58" height="1.58" fill="rgb(237,189,190)" stroke="none" stroke-width="0" rx="0" />
<rect x="507.64" y="68.92" width="1.58" height="1.58" fill="rgb(237,191,193)" stroke="none" stroke-width="0" rx="0" />
<rect x="509.17" y="68.92" width="1.58" height="1.58" fill="rgb(243,212,213)" stroke="none" stroke-width="0" rx="0" />
<rect x="510.70" y="68.92" width="1.58" height="1.58" fill="rgb(239,199,200)" stroke="none" stroke-width="0" rx="0" />
<rect x="529.06" y="68.92" width="1.58" height="1.58" fill="rgb(244,217,218)" stroke="none" stroke-width="0" rx="0" />
<rect x="495.40" y="70.44" width="1.58" height="1.58" fill="rgb(226,149,151)" stroke="none" stroke-width="0" rx="0" />
<rect x="496.93" y="70.44" width="1.58" height="1.58" fill="rgb(227,155,158)" stroke="none" stroke-width="0" rx="0" />
<rect x="498.46" y="70.44" width="1.58" height="1.58" fill="rgb(228,158,160)" stroke="none" stroke-width="0" rx="0" />
<rect x="499.99" y="70.44" width="1.58" height="1.58" fill="rgb(222,134,136)" stroke="none" stroke-width="0" rx="0" />
<rect x="501.52" y="70.44" width="1.58" height="1.58" fill="rgb(228,159,161)" stroke="none" stroke-width="0" rx="0" />
<rect x="503.05" y="70.44" width="1.58" height="1.58" fill="rgb(228,157,159)" stroke="none" stroke-width="0" rx="0" />
<rect x="504.58" y="70.44" width="1.58" height="1.58" fill="rgb(222,136,139)" stroke="none" stroke-width="0" rx="0" />
<rect x="506.11" y="70.44" width="1.58" height="1.58" fill="rgb(220,129,132)" stroke="none" stroke-width="0" rx="0" />
<rect x="507.64" y="70.44" width="1.58" height="1.58" fill="rgb(228,158,160)" stroke="none" stroke-width="0" rx="0" />
<rect x="509.17" y="70.44" width="1.58" height="1.58" fill="rgb(228,158,160)" stroke="none" stroke-width="0" rx="0" />
<rect x="512.23" y="70.44" width="1.58" height="1.58" fill="rgb(240,201,202)" stroke="none" stroke-width="0" rx="0" />
<rect x="513.76" y="70.44" width="1.58" height="1.58" fill="rgb(233,175,176)" stroke="none" stroke-width="0" rx="0" />
<rect x="515.29" y="70.44" width="1.58" height="1.58" fill="rgb(239,197,198)" stroke="none" stroke-width="0" rx="0" />
<rect x="530.59" y="70.44" width="1.58" height="1.58" fill="rgb(244,215,216)" stroke="none" stroke-width="0" rx="0" />
<rect x="539.77" y="70.44" width="1.58" height="1.58" fill="rgb(244,218,218)" stroke="none" stroke-width="0" rx="0" />
<rect x="541.30" y="70.44" width="1.58" height="1.58" fill="rgb(245,218,219)" stroke="none" stroke-width="0" rx="0" />
<rect x="548.95" y="70.44" width="1.58" height="1.58" fill="rgb(245,219,220)" stroke="none" stroke-width="0" rx="0" />
<rect x="496.93" y="71.97" width="1.58" height="1.58" fill="rgb(236,187,188)" stroke="none" stroke-width="0" rx="0" />
<rect x="498.46" y="71.97" width="1.58" height="1.58" fill="rgb(235,184,186)" stroke="none" stroke-width="0" rx="0" />
<rect x="499.99" y="71.97" width="1.58" height="1.58" fill="rgb(240,201,202)" stroke="none" stroke-width="0" rx="0" />
<rect x="501.52" y="71.97" width="1.58" height="1.58" fill="rgb(234,178,180)" stroke="none" stroke-width="0" rx="0" />
<rect x="510.70" y="71.97" width="1.58" height="1.58" fill="rgb(241,203,204)" stroke="none" stroke-width="0" rx="0" />
<rect x="522.94" y="71.97" width="1.58" height="1.58" fill="rgb(247,225,226)" stroke="none" stroke-width="0" rx="0" />
<rect x="526.00" y="71.97" width="1.58" height="1.58" fill="rgb(247,226,226)" stroke="none" stroke-width="0" rx="0" />
<rect x="535.18" y="71.97" width="1.58" height="1.58" fill="rgb(247,226,226)" stroke="none" stroke-width="0" rx="0" />
<rect x="544.36" y="71.97" width="1.58" height="1.58" fill="rgb(246,223,224)" stroke="none" stroke-width="0" rx="0" />
<rect x="495.40" y="73.49" width="1.58" height="1.58" fill="rgb(228,159,161)" stroke="none" stroke-width="0" rx="0" />
<rect x="496.93" y="73.49" width="1.58" height="1.58" fill="rgb(211,95,99)" stroke="none" stroke-width="0" rx="0" />
<rect x="498.46" y="73.49" width="1.58" height="1.58" fill="rgb(215,108,112)" stroke="none" stroke-width="0" rx="0" />
<rect x="499.99" y="73.49" width="1.58" height="1.58" fill="rgb(226,148,151)" stroke="none" stroke-width="0" rx="0" />
<rect x="501.52" y="73.49" width="1.58" height="1.58" fill="rgb(226,151,153)" stroke="none" stroke-width="0" rx="0" />
<rect x="503.05" y="73.49" width="1.58" height="1.58" fill="rgb(213,101,104)" stroke="none" stroke-width="0" rx="0" />
<rect x="504.58" y="73.49" width="1.58" height="1.58" fill="rgb(218,120,123)" stroke="none" stroke-width="0" rx="0" />
<rect x="506.11" y="73.49" width="1.58" height="1.58" fill="rgb(230,164,166)" stroke="none" stroke-width="0" rx="0" />
<rect x="507.64" y="73.49" width="1.58" height="1.58" fill="rgb(216,114,118)" stroke="none" stroke-width="0" rx="0" />
<rect x="509.17" y="73.49" width="1.58" height="1.58" fill="rgb(221,131,133)" stroke="none" stroke-width="0" rx="0" />
<rect x="510.70" y="73.49" width="1.58" height="1.58" fill="rgb(236,187,189)" stroke="none" stroke-width="0" rx="0" />
<rect x="513.76" y="73.49" width="1.58" height="1.58" fill="rgb(231,167,169)" stroke="none" stroke-width="0" rx="0" />
<rect x="515.29" y="73.49" width="1.58" height="1.58" fill="rgb(235,184,185)" stroke="none" stroke-width="0" rx="0" />
<rect x="516.82" y="73.49" width="1.58" height="1.58" fill="rgb(214,108,111)" stroke="none" stroke-width="0" rx="0" />
<rect x="521.41" y="73.49" width="1.58" height="1.58" fill="rgb(243,213,214)" stroke="none" stroke-width="0" rx="0" />
<rect x="545.89" y="73.49" width="1.58" height="1.58" fill="rgb(234,178,180)" stroke="none" stroke-width="0" rx="0" />
<rect x="547.42" y="73.49" width="1.58" height="1.58" fill="rgb(225,146,149)" stroke="none" stroke-width="0" rx="0" />
<rect x="552.01" y="73.49" width="1.58" height="1.58" fill="rgb(245,220,220)" stroke="none" stroke-width="0" rx="0" />
<rect x="503.05" y="75.02" width="1.58" height="1.58" fill="rgb(238,196,197)" stroke="none" stroke-width="0" rx="0" />
<rect x="504.58" y="75.02" width="1.58" height="1.58" fill="rgb(232,173,175)" stroke="none" stroke-width="0" rx="0" />
<rect x="506.11" y="75.02" width="1.58" height="1.58" fill="rgb(241,204,205)" stroke="none" stroke-width="0" rx="0" />
<rect x="507.64" y="75.02" width="1.58" height="1.58" fill="rgb(240,202,203)" stroke="none" stroke-width="0" rx="0" />
<rect x="516.82" y="75.02" width="1.58" height="1.58" fill="rgb(242,208,209)" stroke="none" stroke-width="0" rx="0" />
<rect x="518.35" y="75.02" width="1.58" height="1.58" fill="rgb(246,223,223)" stroke="none" stroke-width="0" rx="0" />
<rect x="527.53" y="75.02" width="1.58" height="1.58" fill="rgb(245,221,222)" stroke="none" stroke-width="0" rx="0" />
<rect x="535.18" y="75.02" width="1.58" height="1.58" fill="rgb(246,225,225)" stroke="none" stroke-width="0" rx="0" />
<rect x="545.89" y="75.02" width="1.58" height="1.58" fill="rgb(238,195,196)" stroke="none" stroke-width="0" rx="0" />
<rect x="547.42" y="75.02" width="1.58" height="1.58" fill="rgb(240,203,204)" stroke="none" stroke-width="0" rx="0" />
<rect x="496.93" y="76.55" width="1.58" height="1.58" fill="rgb(245,219,219)" stroke="none" stroke-width="0" rx="0" />
<rect x="498.46" y="76.55" width="1.58" height="1.58" fill="rgb(246,222,222)" stroke="none" stroke-width="0" rx="0" />
<rect x="499.99" y="76.55" width="1.58" height="1.58" fill="rgb(244,218,219)" stroke="none" stroke-width="0" rx="0" />
<rect x="503.05" y="76.55" width="1.58" height="1.58" fill="rgb(246,222,223)" stroke="none" stroke-width="0" rx="0" />
<rect x="504.58" y="76.55" width="1.58" height="1.58" fill="rgb(245,218,219)" stroke="none" stroke-width="0" rx="0" />
<rect x="510.70" y="76.55" width="1.58" height="1.58" fill="rgb(246,222,223)" stroke="none" stroke-width="0" rx="0" />
<rect x="516.82" y="76.55" width="1.58" height="1.58" fill="rgb(246,225,226)" stroke="none" stroke-width="0" rx="0" />
<rect x="513.76" y="78.07" width="1.58" height="1.58" fill="rgb(184,205,237)" stroke="none" stroke-width="0" rx="0" />
<rect x="522.94" y="78.07" width="1.58" height="1.58" fill="rgb(175,199,235)" stroke="none" stroke-width="0" rx="0" />
<rect x="524.47" y="78.07" width="1.58" height="1.58" fill="rgb(157,186,231)" stroke="none" stroke-width="0" rx="0" />
<rect x="535.18" y="78.07" width="1.58" height="1.58" fill="rgb(171,196,234)" stroke="none" stroke-width="0" rx="0" />
<rect x="536.71" y="78.07" width="1.58" height="1.58" fill="rgb(163,191,232)" stroke="none" stroke-width="0" rx="0" />
<rect x="550.48" y="78.07" width="1.58" height="1.58" fill="rgb(204,219,242)" stroke="none" stroke-width="0" rx="0" />
<rect x="552.01" y="78.07" width="1.58" height="1.58" fill="rgb(176,199,235)" stroke="none" stroke-width="0" rx="0" />
<rect x="522.94" y="79.60" width="1.58" height="1.58" fill="rgb(163,191,232)" stroke="none" stroke-width="0" rx="0" />
<rect x="535.18" y="79.60" width="1.58" height="1.58" fill="rgb(210,224,244)" stroke="none" stroke-width="0" rx="0" />
<rect x="548.95" y="79.60" width="1.58" height="1.58" fill="rgb(188,208,238)" stroke="none" stroke-width="0" rx="0" />
<rect x="506.11" y="81.12" width="1.58" height="1.58" fill="rgb(205,220,242)" stroke="none" stroke-width="0" rx="0" />
<rect x="507.64" y="81.12" width="1.58" height="1.58" fill="rgb(172,197,234)" stroke="none" stroke-width="0" rx="0" />
<rect x="518.35" y="81.12" width="1.58" height="1.58" fill="rgb(186,207,238)" stroke="none" stroke-width="0" rx="0" />
<rect x="521.41" y="81.12" width="1.58" height="1.58" fill="rgb(209,223,244)" stroke="none" stroke-width="0" rx="0" />
<rect x="526.00" y="81.12" width="1.58" height="1.58" fill="rgb(189,209,239)" stroke="none" stroke-width="0" rx="0" />
<rect x="535.18" y="81.12" width="1.58" height="1.58" fill="rgb(172,197,235)" stroke="none" stroke-width="0" rx="0" />
<rect x="536.71" y="81.12" width="1.58" height="1.58" fill="rgb(210,224,244)" stroke="none" stroke-width="0" rx="0" />
<rect x="538.24" y="81.12" width="1.58" height="1.58" fill="rgb(209,223,243)" stroke="none" stroke-width="0" rx="0" />
<rect x="541.30" y="81.12" width="1.58" height="1.58" fill="rgb(158,187,231)" stroke="none" stroke-width="0" rx="0" />
<rect x="548.95" y="81.12" width="1.58" height="1.58" fill="rgb(196,214,240)" stroke="none" stroke-width="0" rx="0" />
<rect x="552.01" y="82.65" width="1.58" height="1.58" fill="rgb(189,209,239)" stroke="none" stroke-width="0" rx="0" />
<rect x="553.54" y="82.65" width="1.58" height="1.58" fill="rgb(178,201,236)" stroke="none" stroke-width="0" rx="0" />
<rect x="499.99" y="84.17" width="1.58" height="1.58" fill="rgb(180,202,236)" stroke="none" stroke-width="0" rx="0" />
<rect x="519.88" y="84.17" width="1.58" height="1.58" fill="rgb(168,194,234)" stroke="none" stroke-width="0" rx="0" />
<rect x="541.30" y="84.17" width="1.58" height="1.58" fill="rgb(178,201,236)" stroke="none" stroke-width="0" rx="0" />
<rect x="552.01" y="84.17" width="1.58" height="1.58" fill="rgb(196,214,240)" stroke="none" stroke-width="0" rx="0" />
<rect x="537.00" y="33.50" width="1.40" height="1.40" fill="#5b8fd6" stroke="none" stroke-width="0" rx="0" />
<rect x="536.50" y="50.50" width="1.40" height="1.40" fill="#5b8fd6" stroke="none" stroke-width="0" rx="0" />
<rect x="495.40" y="26.20" width="61.20" height="59.50" fill="none" stroke="#444" stroke-width="0.7" rx="0" />
<path d="M576,33.3 L568.3,33.3 L568.3,79.5 L576,79.5" fill="none" stroke="#333" stroke-width="0.8" />
<rect x="580.40" y="31.40" width="97.60" height="14.40" fill="#f0f0f0" stroke="#bdbdbd" stroke-width="0.6" rx="0" />
<text x="584.00" y="40.80" font-size="6.15" text-anchor="start" font-weight="normal" font-style="normal" fill="#1a1a1a" stroke="#1a1a1a" stroke-width="0.06" >Clinical characteristics</text>
<rect x="580.40" y="47.20" width="97.60" height="14.30" fill="#f0f0f0" stroke="#bdbdbd" stroke-width="0.6" rx="0" />
<text x="584.00" y="56.55" font-size="6.15" text-anchor="start" font-weight="normal" font-style="normal" fill="#1a1a1a" stroke="#1a1a1a" stroke-width="0.06" >Host genomic alterations</text>
<rect x="580.40" y="63.40" width="97.60" height="14.40" fill="#f0f0f0" stroke="#bdbdbd" stroke-width="0.6" rx="0" />
<text x="584.00" y="72.80" font-size="6.15" text-anchor="start" font-weight="normal" font-style="normal" fill="#1a1a1a" stroke="#1a1a1a" stroke-width="0.06" >Host gene expressions</text>
<text x="496.50" y="118.31" font-size="7.86" text-anchor="start" font-weight="normal" font-style="normal" fill="#1a1a1a" stroke="#1a1a1a" stroke-width="0.06" >Survival analysis</text>
<line x1="496.50" y1="124.40" x2="496.50" y2="189.30" stroke="#333" stroke-width="0.8" />
<line x1="496.10" y1="189.30" x2="560.50" y2="189.30" stroke="#333" stroke-width="0.8" />
<text stroke="#1a1a1a" stroke-width="0.06" transform="translate(493.3,159) rotate(-90)" font-size="5.7" text-anchor="middle" fill="#1a1a1a">Overall survival</text>
<text x="528.00" y="186.63" font-size="5.68" text-anchor="middle" font-weight="normal" font-style="normal" fill="#1a1a1a" stroke="#1a1a1a" stroke-width="0.06" >5-year follow-up</text>
<path d="M508,129 L509.5,130.6 L510,133 L511.5,133 L511.5,135.4 L535.6,135.4 L535.6,137 L547.4,137 L547.4,140 L553.3,140" fill="none" stroke="#9fd07a" stroke-width="0.9" />
<path d="M500.2,126.6 L503,126.6 L503,128.3 L505.5,128.3 L505.5,130.3 L509.5,130.3 L509.5,132 L511,132 L511,135 L512.5,135 L512.5,137 L514.5,137 L514.5,139.8 L518.5,139.8 L518.5,141.5 L521,141.5 L521,143.5 L522.5,143.5 L522.5,146.2 L537,146.2 L537,148.8 L539.5,148.8 L539.5,151 L541,151 L541,153.2 L542.8,153.2 L542.8,156.4 L553.3,156.4" fill="none" stroke="#d9442e" stroke-width="0.9" />
<line x1="514.00" y1="134.60" x2="514.00" y2="136.20" stroke="#9fd07a" stroke-width="0.5" />
<line x1="520.00" y1="134.60" x2="520.00" y2="136.20" stroke="#9fd07a" stroke-width="0.5" />
<line x1="526.00" y1="134.60" x2="526.00" y2="136.20" stroke="#9fd07a" stroke-width="0.5" />
<line x1="531.00" y1="134.60" x2="531.00" y2="136.20" stroke="#9fd07a" stroke-width="0.5" />
<line x1="540.00" y1="134.60" x2="540.00" y2="136.20" stroke="#9fd07a" stroke-width="0.5" />
<line x1="544.00" y1="134.60" x2="544.00" y2="136.20" stroke="#9fd07a" stroke-width="0.5" />
<line x1="549.00" y1="134.60" x2="549.00" y2="136.20" stroke="#9fd07a" stroke-width="0.5" />
<line x1="517.00" y1="138.90" x2="517.00" y2="140.70" stroke="#d9442e" stroke-width="0.6" />
<line x1="530.00" y1="145.30" x2="530.00" y2="147.10" stroke="#d9442e" stroke-width="0.6" />
<line x1="549.00" y1="155.50" x2="549.00" y2="157.30" stroke="#d9442e" stroke-width="0.6" />
<line x1="552.50" y1="155.50" x2="552.50" y2="157.30" stroke="#d9442e" stroke-width="0.6" />
<line x1="508.00" y1="129.40" x2="508.00" y2="131.20" stroke="#d9442e" stroke-width="0.6" />
<path d="M577,134.6 L569.4,134.6 L569.4,180.7 L577,180.7" fill="none" stroke="#333" stroke-width="0.8" />
<rect x="580.40" y="134.10" width="97.60" height="14.00" fill="#f0f0f0" stroke="#bdbdbd" stroke-width="0.6" rx="0" />
<text x="584.00" y="143.30" font-size="6.15" text-anchor="start" font-weight="normal" font-style="normal" fill="#1a1a1a" stroke="#1a1a1a" stroke-width="0.06" >Tumor microbiome</text>
<rect x="580.40" y="149.50" width="97.60" height="14.00" fill="#f0f0f0" stroke="#bdbdbd" stroke-width="0.6" rx="0" />
<text x="584.00" y="158.70" font-size="6.15" text-anchor="start" font-weight="normal" font-style="normal" fill="#1a1a1a" stroke="#1a1a1a" stroke-width="0.06" >NAT microbiome</text>
<rect x="580.40" y="166.20" width="97.60" height="14.50" fill="#f0f0f0" stroke="#bdbdbd" stroke-width="0.6" rx="0" />
<text x="584.00" y="175.65" font-size="6.15" text-anchor="start" font-weight="normal" font-style="normal" fill="#1a1a1a" stroke="#1a1a1a" stroke-width="0.06" >Host and microbial characteristics</text>
<text x="0.00" y="211.20" font-size="11" text-anchor="start" font-weight="bold" font-style="normal" fill="#000"  >b</text>
<text x="67.00" y="212.18" font-size="7.2" text-anchor="middle" font-weight="normal" font-style="normal" fill="#1a1a1a" stroke="#1a1a1a" stroke-width="0.06" >UU (WGS)</text>
<line x1="31.60" y1="217.30" x2="31.60" y2="343.20" stroke="#333" stroke-width="0.8" />
<line x1="31.20" y1="342.80" x2="107.80" y2="342.80" stroke="#333" stroke-width="0.8" />
<line x1="29.60" y1="232.90" x2="31.60" y2="232.90" stroke="#333" stroke-width="0.6" />
<text stroke="#1a1a1a" stroke-width="0.06" x="28.80" y="235.16" font-size="6.3" text-anchor="end" fill="#1a1a1a">10<tspan font-size="4.28" dy="-2.27">9</tspan></text>
<line x1="29.60" y1="271.80" x2="31.60" y2="271.80" stroke="#333" stroke-width="0.6" />
<text stroke="#1a1a1a" stroke-width="0.06" x="28.80" y="274.06" font-size="6.3" text-anchor="end" fill="#1a1a1a">10<tspan font-size="4.28" dy="-2.27">6</tspan></text>
<line x1="29.60" y1="310.70" x2="31.60" y2="310.70" stroke="#333" stroke-width="0.6" />
<text stroke="#1a1a1a" stroke-width="0.06" x="28.80" y="312.96" font-size="6.3" text-anchor="end" fill="#1a1a1a">10<tspan font-size="4.28" dy="-2.27">3</tspan></text>
<line x1="52.60" y1="342.80" x2="52.60" y2="344.80" stroke="#333" stroke-width="0.6" />
<line x1="87.40" y1="342.80" x2="87.40" y2="344.80" stroke="#333" stroke-width="0.6" />
<text stroke="#1a1a1a" stroke-width="0.06" transform="translate(13.51,280.00) rotate(-90)" font-size="7.0" text-anchor="middle" fill="#1a1a1a">Kraken2−mapped prokaryotic reads</text>
<text x="52.60" y="351.79" font-size="6.4" text-anchor="middle" font-weight="normal" font-style="normal" fill="#1a1a1a" stroke="#1a1a1a" stroke-width="0.06" >Tumor</text>
<text x="52.60" y="358.45" font-size="6.0" text-anchor="middle" font-weight="normal" font-style="normal" fill="#1a1a1a" stroke="#1a1a1a" stroke-width="0.06" >n=462</text>
<text x="87.40" y="351.79" font-size="6.4" text-anchor="middle" font-weight="normal" font-style="normal" fill="#1a1a1a" stroke="#1a1a1a" stroke-width="0.06" >Blood</text>
<text x="87.40" y="358.45" font-size="6.0" text-anchor="middle" font-weight="normal" font-style="normal" fill="#1a1a1a" stroke="#1a1a1a" stroke-width="0.06" >n=462</text>
<g stroke="#111" stroke-width="0.3" stroke-opacity="0.22">
<line x1="52.6" y1="289.3" x2="87.4" y2="300.7"/>
<line x1="52.6" y1="296.7" x2="87.4" y2="317.2"/>
<line x1="52.6" y1="268.9" x2="87.4" y2="263.9"/>
<line x1="52.6" y1="281.5" x2="87.4" y2="304.9"/>
<line x1="52.6" y1="283.7" x2="87.4" y2="314.3"/>
<line x1="52.6" y1="279.8" x2="87.4" y2="301.3"/>
<line x1="52.6" y1="277.9" x2="87.4" y2="301.6"/>
<line x1="52.6" y1="282.5" x2="87.4" y2="307.4"/>
<line x1="52.6" y1="281.7" x2="87.4" y2="269.3"/>
<line x1="52.6" y1="277.6" x2="87.4" y2="287.9"/>
<line x1="52.6" y1="262.2" x2="87.4" y2="287.5"/>
<line x1="52.6" y1="260.4" x2="87.4" y2="277.9"/>
<line x1="52.6" y1="269.1" x2="87.4" y2="304.0"/>
<line x1="52.6" y1="296.5" x2="87.4" y2="317.2"/>
<line x1="52.6" y1="280.4" x2="87.4" y2="300.1"/>
<line x1="52.6" y1="276.4" x2="87.4" y2="274.3"/>
<line x1="52.6" y1="265.9" x2="87.4" y2="290.4"/>
<line x1="52.6" y1="271.4" x2="87.4" y2="304.4"/>
<line x1="52.6" y1="280.1" x2="87.4" y2="303.1"/>
<line x1="52.6" y1="280.3" x2="87.4" y2="301.9"/>
<line x1="52.6" y1="281.0" x2="87.4" y2="269.7"/>
<line x1="52.6" y1="277.8" x2="87.4" y2="280.7"/>
<line x1="52.6" y1="275.5" x2="87.4" y2="278.2"/>
<line x1="52.6" y1="259.0" x2="87.4" y2="257.5"/>
<line x1="52.6" y1="262.3" x2="87.4" y2="284.2"/>
<line x1="52.6" y1="274.4" x2="87.4" y2="295.6"/>
<line x1="52.6" y1="266.0" x2="87.4" y2="275.1"/>
<line x1="52.6" y1="289.6" x2="87.4" y2="305.7"/>
<line x1="52.6" y1="271.1" x2="87.4" y2="309.8"/>
<line x1="52.6" y1="291.5" x2="87.4" y2="283.2"/>
<line x1="52.6" y1="285.1" x2="87.4" y2="306.5"/>
<line x1="52.6" y1="272.7" x2="87.4" y2="288.7"/>
<line x1="52.6" y1="293.1" x2="87.4" y2="305.4"/>
<line x1="52.6" y1="274.0" x2="87.4" y2="298.5"/>
<line x1="52.6" y1="282.3" x2="87.4" y2="316.0"/>
<line x1="52.6" y1="288.0" x2="87.4" y2="303.1"/>
<line x1="52.6" y1="260.0" x2="87.4" y2="257.5"/>
<line x1="52.6" y1="275.7" x2="87.4" y2="302.2"/>
<line x1="52.6" y1="284.1" x2="87.4" y2="311.3"/>
<line x1="52.6" y1="287.1" x2="87.4" y2="301.4"/>
<line x1="52.6" y1="266.4" x2="87.4" y2="292.0"/>
<line x1="52.6" y1="266.5" x2="87.4" y2="287.9"/>
<line x1="52.6" y1="269.5" x2="87.4" y2="307.2"/>
<line x1="52.6" y1="278.3" x2="87.4" y2="296.6"/>
<line x1="52.6" y1="281.2" x2="87.4" y2="317.2"/>
<line x1="52.6" y1="259.2" x2="87.4" y2="282.1"/>
<line x1="52.6" y1="285.3" x2="87.4" y2="298.5"/>
<line x1="52.6" y1="274.0" x2="87.4" y2="313.8"/>
<line x1="52.6" y1="285.0" x2="87.4" y2="304.0"/>
<line x1="52.6" y1="291.6" x2="87.4" y2="317.2"/>
<line x1="52.6" y1="284.4" x2="87.4" y2="307.3"/>
<line x1="52.6" y1="268.6" x2="87.4" y2="306.2"/>
<line x1="52.6" y1="279.7" x2="87.4" y2="309.9"/>
<line x1="52.6" y1="284.6" x2="87.4" y2="304.9"/>
<line x1="52.6" y1="275.8" x2="87.4" y2="314.7"/>
<line x1="52.6" y1="276.3" x2="87.4" y2="309.3"/>
<line x1="52.6" y1="282.9" x2="87.4" y2="305.6"/>
<line x1="52.6" y1="294.8" x2="87.4" y2="294.4"/>
<line x1="52.6" y1="271.4" x2="87.4" y2="257.5"/>
<line x1="52.6" y1="282.9" x2="87.4" y2="303.0"/>
<line x1="52.6" y1="267.8" x2="87.4" y2="270.8"/>
<line x1="52.6" y1="282.4" x2="87.4" y2="314.5"/>
<line x1="52.6" y1="279.6" x2="87.4" y2="296.4"/>
<line x1="52.6" y1="289.3" x2="87.4" y2="314.4"/>
<line x1="52.6" y1="289.8" x2="87.4" y2="315.2"/>
<line x1="52.6" y1="286.8" x2="87.4" y2="305.6"/>
<line x1="52.6" y1="288.1" x2="87.4" y2="304.8"/>
<line x1="52.6" y1="266.3" x2="87.4" y2="286.5"/>
<line x1="52.6" y1="283.5" x2="87.4" y2="299.2"/>
<line x1="52.6" y1="277.0" x2="87.4" y2="287.8"/>
<line x1="52.6" y1="276.9" x2="87.4" y2="307.2"/>
<line x1="52.6" y1="277.9" x2="87.4" y2="305.8"/>
<line x1="52.6" y1="273.3" x2="87.4" y2="280.4"/>
<line x1="52.6" y1="278.3" x2="87.4" y2="282.4"/>
<line x1="52.6" y1="264.7" x2="87.4" y2="286.9"/>
<line x1="52.6" y1="277.0" x2="87.4" y2="301.2"/>
<line x1="52.6" y1="285.4" x2="87.4" y2="317.2"/>
<line x1="52.6" y1="287.2" x2="87.4" y2="314.4"/>
<line x1="52.6" y1="275.6" x2="87.4" y2="299.9"/>
<line x1="52.6" y1="276.4" x2="87.4" y2="303.6"/>
<line x1="52.6" y1="258.8" x2="87.4" y2="283.4"/>
<line x1="52.6" y1="282.7" x2="87.4" y2="303.3"/>
<line x1="52.6" y1="268.7" x2="87.4" y2="295.4"/>
<line x1="52.6" y1="283.2" x2="87.4" y2="314.5"/>
<line x1="52.6" y1="282.9" x2="87.4" y2="302.9"/>
<line x1="52.6" y1="269.9" x2="87.4" y2="293.3"/>
<line x1="52.6" y1="261.6" x2="87.4" y2="286.3"/>
<line x1="52.6" y1="279.7" x2="87.4" y2="303.4"/>
<line x1="52.6" y1="283.4" x2="87.4" y2="288.5"/>
<line x1="52.6" y1="279.3" x2="87.4" y2="282.0"/>
<line x1="52.6" y1="268.4" x2="87.4" y2="300.8"/>
<line x1="52.6" y1="275.1" x2="87.4" y2="313.4"/>
<line x1="52.6" y1="268.0" x2="87.4" y2="291.8"/>
<line x1="52.6" y1="259.2" x2="87.4" y2="286.1"/>
<line x1="52.6" y1="277.6" x2="87.4" y2="286.2"/>
<line x1="52.6" y1="279.9" x2="87.4" y2="306.0"/>
<line x1="52.6" y1="286.4" x2="87.4" y2="304.6"/>
<line x1="52.6" y1="282.0" x2="87.4" y2="309.6"/>
<line x1="52.6" y1="285.4" x2="87.4" y2="307.6"/>
<line x1="52.6" y1="270.0" x2="87.4" y2="282.8"/>
<line x1="52.6" y1="280.4" x2="87.4" y2="287.5"/>
<line x1="52.6" y1="280.0" x2="87.4" y2="287.3"/>
<line x1="52.6" y1="271.6" x2="87.4" y2="259.1"/>
<line x1="52.6" y1="278.6" x2="87.4" y2="288.1"/>
<line x1="52.6" y1="283.1" x2="87.4" y2="317.2"/>
<line x1="52.6" y1="277.2" x2="87.4" y2="285.6"/>
<line x1="52.6" y1="275.7" x2="87.4" y2="302.1"/>
<line x1="52.6" y1="260.8" x2="87.4" y2="266.0"/>
<line x1="52.6" y1="282.5" x2="87.4" y2="305.1"/>
<line x1="52.6" y1="263.7" x2="87.4" y2="285.5"/>
<line x1="52.6" y1="287.8" x2="87.4" y2="314.1"/>
<line x1="52.6" y1="276.7" x2="87.4" y2="280.9"/>
<line x1="52.6" y1="277.4" x2="87.4" y2="294.2"/>
<line x1="52.6" y1="262.7" x2="87.4" y2="301.5"/>
<line x1="52.6" y1="264.9" x2="87.4" y2="257.5"/>
<line x1="52.6" y1="282.0" x2="87.4" y2="304.9"/>
<line x1="52.6" y1="275.8" x2="87.4" y2="310.1"/>
<line x1="52.6" y1="293.9" x2="87.4" y2="314.9"/>
<line x1="52.6" y1="279.4" x2="87.4" y2="292.6"/>
<line x1="52.6" y1="269.9" x2="87.4" y2="281.9"/>
<line x1="52.6" y1="280.1" x2="87.4" y2="289.2"/>
<line x1="52.6" y1="272.6" x2="87.4" y2="290.2"/>
<line x1="52.6" y1="291.0" x2="87.4" y2="304.6"/>
<line x1="52.6" y1="282.2" x2="87.4" y2="297.8"/>
<line x1="52.6" y1="286.6" x2="87.4" y2="295.1"/>
<line x1="52.6" y1="278.7" x2="87.4" y2="294.8"/>
<line x1="52.6" y1="269.6" x2="87.4" y2="313.5"/>
<line x1="52.6" y1="280.7" x2="87.4" y2="304.2"/>
<line x1="52.6" y1="276.9" x2="87.4" y2="300.8"/>
<line x1="52.6" y1="265.5" x2="87.4" y2="281.8"/>
<line x1="52.6" y1="275.8" x2="87.4" y2="299.6"/>
<line x1="52.6" y1="283.6" x2="87.4" y2="315.0"/>
<line x1="52.6" y1="266.6" x2="87.4" y2="277.8"/>
<line x1="52.6" y1="276.7" x2="87.4" y2="301.7"/>
<line x1="52.6" y1="272.7" x2="87.4" y2="301.9"/>
<line x1="52.6" y1="262.7" x2="87.4" y2="276.5"/>
<line x1="52.6" y1="273.4" x2="87.4" y2="268.8"/>
<line x1="52.6" y1="281.5" x2="87.4" y2="296.5"/>
<line x1="52.6" y1="266.7" x2="87.4" y2="279.1"/>
<line x1="52.6" y1="283.0" x2="87.4" y2="308.0"/>
<line x1="52.6" y1="275.9" x2="87.4" y2="305.1"/>
<line x1="52.6" y1="283.5" x2="87.4" y2="300.2"/>
<line x1="52.6" y1="274.3" x2="87.4" y2="285.6"/>
<line x1="52.6" y1="285.0" x2="87.4" y2="313.4"/>
<line x1="52.6" y1="287.9" x2="87.4" y2="306.3"/>
<line x1="52.6" y1="285.7" x2="87.4" y2="304.1"/>
<line x1="52.6" y1="276.9" x2="87.4" y2="283.7"/>
<line x1="52.6" y1="283.9" x2="87.4" y2="304.1"/>
<line x1="52.6" y1="294.0" x2="87.4" y2="317.2"/>
<line x1="52.6" y1="284.5" x2="87.4" y2="303.0"/>
<line x1="52.6" y1="274.6" x2="87.4" y2="303.8"/>
<line x1="52.6" y1="271.7" x2="87.4" y2="298.6"/>
<line x1="52.6" y1="276.9" x2="87.4" y2="292.6"/>
<line x1="52.6" y1="272.2" x2="87.4" y2="272.2"/>
<line x1="52.6" y1="259.4" x2="87.4" y2="300.9"/>
<line x1="52.6" y1="265.0" x2="87.4" y2="301.8"/>
<line x1="52.6" y1="296.4" x2="87.4" y2="303.8"/>
<line x1="52.6" y1="270.6" x2="87.4" y2="263.4"/>
<line x1="52.6" y1="279.6" x2="87.4" y2="299.5"/>
<line x1="52.6" y1="276.2" x2="87.4" y2="290.5"/>
<line x1="52.6" y1="293.2" x2="87.4" y2="316.6"/>
<line x1="52.6" y1="274.0" x2="87.4" y2="289.6"/>
<line x1="52.6" y1="281.9" x2="87.4" y2="295.2"/>
<line x1="52.6" y1="274.7" x2="87.4" y2="313.7"/>
<line x1="52.6" y1="284.5" x2="87.4" y2="302.4"/>
<line x1="52.6" y1="275.7" x2="87.4" y2="288.8"/>
<line x1="52.6" y1="279.8" x2="87.4" y2="317.2"/>
<line x1="52.6" y1="286.7" x2="87.4" y2="305.7"/>
<line x1="52.6" y1="275.1" x2="87.4" y2="280.1"/>
<line x1="52.6" y1="283.1" x2="87.4" y2="304.7"/>
<line x1="52.6" y1="277.4" x2="87.4" y2="302.1"/>
<line x1="52.6" y1="276.4" x2="87.4" y2="279.8"/>
<line x1="52.6" y1="278.4" x2="87.4" y2="257.5"/>
<line x1="52.6" y1="272.2" x2="87.4" y2="274.1"/>
<line x1="52.6" y1="285.0" x2="87.4" y2="298.4"/>
<line x1="52.6" y1="273.0" x2="87.4" y2="281.3"/>
<line x1="52.6" y1="269.5" x2="87.4" y2="278.8"/>
<line x1="52.6" y1="280.5" x2="87.4" y2="301.7"/>
<line x1="52.6" y1="288.3" x2="87.4" y2="315.2"/>
<line x1="52.6" y1="270.7" x2="87.4" y2="312.5"/>
<line x1="52.6" y1="279.5" x2="87.4" y2="298.6"/>
<line x1="52.6" y1="282.1" x2="87.4" y2="297.1"/>
<line x1="52.6" y1="264.8" x2="87.4" y2="276.8"/>
<line x1="52.6" y1="283.9" x2="87.4" y2="301.6"/>
<line x1="52.6" y1="277.3" x2="87.4" y2="309.5"/>
<line x1="52.6" y1="273.4" x2="87.4" y2="287.2"/>
<line x1="52.6" y1="279.3" x2="87.4" y2="296.5"/>
<line x1="52.6" y1="272.2" x2="87.4" y2="285.3"/>
<line x1="52.6" y1="283.5" x2="87.4" y2="303.8"/>
<line x1="52.6" y1="286.5" x2="87.4" y2="314.1"/>
<line x1="52.6" y1="279.4" x2="87.4" y2="313.6"/>
<line x1="52.6" y1="274.9" x2="87.4" y2="313.3"/>
<line x1="52.6" y1="282.1" x2="87.4" y2="302.7"/>
<line x1="52.6" y1="264.0" x2="87.4" y2="272.9"/>
<line x1="52.6" y1="273.2" x2="87.4" y2="295.5"/>
<line x1="52.6" y1="266.1" x2="87.4" y2="276.6"/>
<line x1="52.6" y1="279.1" x2="87.4" y2="293.1"/>
<line x1="52.6" y1="276.6" x2="87.4" y2="287.4"/>
<line x1="52.6" y1="268.5" x2="87.4" y2="291.6"/>
<line x1="52.6" y1="283.1" x2="87.4" y2="298.1"/>
<line x1="52.6" y1="278.4" x2="87.4" y2="313.6"/>
<line x1="52.6" y1="285.7" x2="87.4" y2="308.7"/>
<line x1="52.6" y1="283.0" x2="87.4" y2="305.4"/>
<line x1="52.6" y1="283.9" x2="87.4" y2="311.1"/>
<line x1="52.6" y1="271.9" x2="87.4" y2="276.0"/>
<line x1="52.6" y1="284.1" x2="87.4" y2="298.8"/>
<line x1="52.6" y1="279.6" x2="87.4" y2="317.2"/>
<line x1="52.6" y1="282.9" x2="87.4" y2="305.0"/>
<line x1="52.6" y1="276.2" x2="87.4" y2="257.5"/>
<line x1="52.6" y1="268.9" x2="87.4" y2="285.0"/>
<line x1="52.6" y1="294.2" x2="87.4" y2="315.6"/>
<line x1="52.6" y1="274.7" x2="87.4" y2="283.5"/>
<line x1="52.6" y1="285.6" x2="87.4" y2="304.5"/>
<line x1="52.6" y1="284.7" x2="87.4" y2="297.9"/>
<line x1="52.6" y1="263.0" x2="87.4" y2="264.1"/>
<line x1="52.6" y1="287.8" x2="87.4" y2="303.3"/>
<line x1="52.6" y1="275.0" x2="87.4" y2="283.1"/>
<line x1="52.6" y1="274.9" x2="87.4" y2="282.3"/>
<line x1="52.6" y1="274.3" x2="87.4" y2="289.2"/>
<line x1="52.6" y1="286.1" x2="87.4" y2="317.2"/>
<line x1="52.6" y1="290.3" x2="87.4" y2="307.7"/>
<line x1="52.6" y1="279.3" x2="87.4" y2="300.1"/>
<line x1="52.6" y1="273.4" x2="87.4" y2="296.9"/>
<line x1="52.6" y1="276.9" x2="87.4" y2="281.7"/>
<line x1="52.6" y1="290.1" x2="87.4" y2="317.2"/>
<line x1="52.6" y1="263.1" x2="87.4" y2="307.8"/>
<line x1="52.6" y1="284.4" x2="87.4" y2="317.1"/>
<line x1="52.6" y1="282.7" x2="87.4" y2="286.9"/>
<line x1="52.6" y1="283.9" x2="87.4" y2="303.4"/>
<line x1="52.6" y1="273.6" x2="87.4" y2="286.9"/>
<line x1="52.6" y1="291.2" x2="87.4" y2="309.5"/>
<line x1="52.6" y1="283.6" x2="87.4" y2="307.3"/>
<line x1="52.6" y1="279.3" x2="87.4" y2="300.0"/>
<line x1="52.6" y1="286.8" x2="87.4" y2="312.7"/>
<line x1="52.6" y1="286.6" x2="87.4" y2="304.6"/>
<line x1="52.6" y1="288.6" x2="87.4" y2="295.4"/>
<line x1="52.6" y1="274.0" x2="87.4" y2="271.8"/>
<line x1="52.6" y1="279.7" x2="87.4" y2="300.5"/>
<line x1="52.6" y1="281.3" x2="87.4" y2="312.6"/>
<line x1="52.6" y1="290.3" x2="87.4" y2="315.6"/>
<line x1="52.6" y1="280.5" x2="87.4" y2="305.8"/>
<line x1="52.6" y1="287.8" x2="87.4" y2="314.1"/>
<line x1="52.6" y1="274.5" x2="87.4" y2="298.5"/>
<line x1="52.6" y1="274.4" x2="87.4" y2="308.0"/>
<line x1="52.6" y1="270.5" x2="87.4" y2="290.5"/>
<line x1="52.6" y1="281.9" x2="87.4" y2="299.4"/>
<line x1="52.6" y1="272.8" x2="87.4" y2="290.9"/>
<line x1="52.6" y1="288.0" x2="87.4" y2="300.9"/>
<line x1="52.6" y1="273.1" x2="87.4" y2="296.3"/>
<line x1="52.6" y1="266.3" x2="87.4" y2="286.8"/>
<line x1="52.6" y1="274.0" x2="87.4" y2="307.5"/>
<line x1="52.6" y1="281.8" x2="87.4" y2="295.5"/>
<line x1="52.6" y1="288.9" x2="87.4" y2="311.3"/>
<line x1="52.6" y1="288.4" x2="87.4" y2="304.5"/>
<line x1="52.6" y1="271.2" x2="87.4" y2="299.3"/>
<line x1="52.6" y1="266.0" x2="87.4" y2="305.1"/>
<line x1="52.6" y1="274.0" x2="87.4" y2="286.9"/>
<line x1="52.6" y1="284.9" x2="87.4" y2="301.9"/>
<line x1="52.6" y1="275.5" x2="87.4" y2="283.3"/>
<line x1="52.6" y1="266.9" x2="87.4" y2="269.2"/>
<line x1="52.6" y1="282.2" x2="87.4" y2="292.6"/>
<line x1="52.6" y1="286.5" x2="87.4" y2="317.2"/>
<line x1="52.6" y1="295.6" x2="87.4" y2="306.8"/>
<line x1="52.6" y1="274.8" x2="87.4" y2="292.0"/>
<line x1="52.6" y1="283.1" x2="87.4" y2="309.9"/>
<line x1="52.6" y1="288.7" x2="87.4" y2="303.8"/>
<line x1="52.6" y1="285.9" x2="87.4" y2="293.3"/>
<line x1="52.6" y1="272.4" x2="87.4" y2="270.9"/>
<line x1="52.6" y1="298.5" x2="87.4" y2="310.9"/>
<line x1="52.6" y1="278.9" x2="87.4" y2="313.7"/>
<line x1="52.6" y1="278.4" x2="87.4" y2="308.3"/>
<line x1="52.6" y1="277.3" x2="87.4" y2="317.2"/>
<line x1="52.6" y1="282.1" x2="87.4" y2="316.0"/>
<line x1="52.6" y1="277.4" x2="87.4" y2="310.3"/>
<line x1="52.6" y1="278.7" x2="87.4" y2="290.7"/>
<line x1="52.6" y1="284.4" x2="87.4" y2="302.5"/>
<line x1="52.6" y1="274.8" x2="87.4" y2="286.3"/>
<line x1="52.6" y1="273.7" x2="87.4" y2="284.6"/>
<line x1="52.6" y1="268.2" x2="87.4" y2="307.6"/>
<line x1="52.6" y1="264.5" x2="87.4" y2="273.6"/>
<line x1="52.6" y1="277.9" x2="87.4" y2="297.8"/>
<line x1="52.6" y1="284.4" x2="87.4" y2="304.3"/>
<line x1="52.6" y1="285.3" x2="87.4" y2="307.7"/>
<line x1="52.6" y1="277.5" x2="87.4" y2="257.5"/>
<line x1="52.6" y1="285.9" x2="87.4" y2="299.9"/>
<line x1="52.6" y1="272.4" x2="87.4" y2="301.1"/>
<line x1="52.6" y1="280.7" x2="87.4" y2="312.9"/>
<line x1="52.6" y1="271.2" x2="87.4" y2="278.2"/>
<line x1="52.6" y1="269.9" x2="87.4" y2="289.4"/>
<line x1="52.6" y1="277.0" x2="87.4" y2="297.7"/>
<line x1="52.6" y1="290.4" x2="87.4" y2="300.9"/>
<line x1="52.6" y1="298.1" x2="87.4" y2="277.9"/>
<line x1="52.6" y1="280.6" x2="87.4" y2="281.0"/>
<line x1="52.6" y1="270.5" x2="87.4" y2="262.2"/>
<line x1="52.6" y1="272.4" x2="87.4" y2="301.8"/>
<line x1="52.6" y1="276.3" x2="87.4" y2="292.8"/>
<line x1="52.6" y1="280.8" x2="87.4" y2="293.5"/>
<line x1="52.6" y1="268.9" x2="87.4" y2="281.2"/>
<line x1="52.6" y1="266.6" x2="87.4" y2="279.7"/>
<line x1="52.6" y1="274.7" x2="87.4" y2="317.2"/>
<line x1="52.6" y1="282.1" x2="87.4" y2="300.7"/>
<line x1="52.6" y1="259.6" x2="87.4" y2="275.9"/>
<line x1="52.6" y1="273.1" x2="87.4" y2="298.0"/>
<line x1="52.6" y1="266.5" x2="87.4" y2="259.5"/>
<line x1="52.6" y1="270.9" x2="87.4" y2="265.4"/>
<line x1="52.6" y1="279.3" x2="87.4" y2="298.1"/>
<line x1="52.6" y1="284.0" x2="87.4" y2="309.5"/>
<line x1="52.6" y1="274.8" x2="87.4" y2="305.8"/>
<line x1="52.6" y1="275.4" x2="87.4" y2="300.3"/>
<line x1="52.6" y1="268.1" x2="87.4" y2="294.7"/>
<line x1="52.6" y1="290.2" x2="87.4" y2="288.0"/>
<line x1="52.6" y1="278.9" x2="87.4" y2="288.9"/>
<line x1="52.6" y1="290.8" x2="87.4" y2="296.3"/>
<line x1="52.6" y1="273.3" x2="87.4" y2="291.1"/>
<line x1="52.6" y1="278.7" x2="87.4" y2="303.1"/>
<line x1="52.6" y1="271.6" x2="87.4" y2="309.7"/>
<line x1="52.6" y1="283.4" x2="87.4" y2="308.9"/>
<line x1="52.6" y1="292.0" x2="87.4" y2="317.2"/>
<line x1="52.6" y1="278.7" x2="87.4" y2="295.7"/>
<line x1="52.6" y1="281.8" x2="87.4" y2="292.8"/>
<line x1="52.6" y1="286.1" x2="87.4" y2="298.0"/>
<line x1="52.6" y1="283.9" x2="87.4" y2="306.9"/>
<line x1="52.6" y1="272.1" x2="87.4" y2="307.2"/>
<line x1="52.6" y1="277.2" x2="87.4" y2="281.0"/>
<line x1="52.6" y1="274.6" x2="87.4" y2="300.1"/>
<line x1="52.6" y1="273.1" x2="87.4" y2="297.2"/>
<line x1="52.6" y1="277.6" x2="87.4" y2="301.7"/>
<line x1="52.6" y1="283.2" x2="87.4" y2="314.3"/>
<line x1="52.6" y1="285.3" x2="87.4" y2="305.5"/>
<line x1="52.6" y1="270.5" x2="87.4" y2="301.8"/>
<line x1="52.6" y1="274.6" x2="87.4" y2="290.5"/>
<line x1="52.6" y1="276.2" x2="87.4" y2="309.1"/>
<line x1="52.6" y1="275.6" x2="87.4" y2="287.4"/>
<line x1="52.6" y1="286.1" x2="87.4" y2="307.2"/>
<line x1="52.6" y1="281.8" x2="87.4" y2="304.2"/>
<line x1="52.6" y1="289.7" x2="87.4" y2="311.0"/>
<line x1="52.6" y1="274.6" x2="87.4" y2="270.5"/>
<line x1="52.6" y1="272.8" x2="87.4" y2="289.5"/>
<line x1="52.6" y1="288.7" x2="87.4" y2="294.4"/>
<line x1="52.6" y1="284.1" x2="87.4" y2="300.3"/>
<line x1="52.6" y1="276.4" x2="87.4" y2="296.2"/>
<line x1="52.6" y1="284.3" x2="87.4" y2="303.6"/>
<line x1="52.6" y1="279.4" x2="87.4" y2="283.4"/>
<line x1="52.6" y1="282.6" x2="87.4" y2="297.2"/>
<line x1="52.6" y1="275.9" x2="87.4" y2="299.9"/>
<line x1="52.6" y1="275.1" x2="87.4" y2="289.5"/>
<line x1="52.6" y1="287.0" x2="87.4" y2="309.6"/>
<line x1="52.6" y1="280.9" x2="87.4" y2="290.2"/>
<line x1="52.6" y1="283.0" x2="87.4" y2="317.2"/>
<line x1="52.6" y1="285.1" x2="87.4" y2="300.0"/>
<line x1="52.6" y1="287.9" x2="87.4" y2="296.2"/>
<line x1="52.6" y1="284.9" x2="87.4" y2="311.3"/>
<line x1="52.6" y1="277.6" x2="87.4" y2="297.4"/>
<line x1="52.6" y1="274.4" x2="87.4" y2="278.4"/>
<line x1="52.6" y1="274.0" x2="87.4" y2="304.6"/>
<line x1="52.6" y1="285.6" x2="87.4" y2="306.6"/>
<line x1="52.6" y1="278.5" x2="87.4" y2="279.1"/>
<line x1="52.6" y1="270.0" x2="87.4" y2="304.2"/>
<line x1="52.6" y1="256.3" x2="87.4" y2="289.0"/>
<line x1="52.6" y1="270.6" x2="87.4" y2="301.0"/>
<line x1="52.6" y1="283.3" x2="87.4" y2="301.4"/>
<line x1="52.6" y1="276.7" x2="87.4" y2="307.0"/>
<line x1="52.6" y1="276.5" x2="87.4" y2="300.1"/>
<line x1="52.6" y1="270.6" x2="87.4" y2="301.6"/>
<line x1="52.6" y1="271.5" x2="87.4" y2="274.9"/>
<line x1="52.6" y1="272.9" x2="87.4" y2="288.6"/>
<line x1="52.6" y1="284.6" x2="87.4" y2="292.4"/>
<line x1="52.6" y1="268.6" x2="87.4" y2="303.8"/>
<line x1="52.6" y1="281.5" x2="87.4" y2="301.8"/>
<line x1="52.6" y1="282.6" x2="87.4" y2="303.3"/>
<line x1="52.6" y1="268.2" x2="87.4" y2="298.3"/>
<line x1="52.6" y1="279.5" x2="87.4" y2="305.1"/>
<line x1="52.6" y1="282.5" x2="87.4" y2="317.2"/>
<line x1="52.6" y1="281.3" x2="87.4" y2="285.6"/>
<line x1="52.6" y1="272.5" x2="87.4" y2="283.1"/>
<line x1="52.6" y1="286.8" x2="87.4" y2="303.9"/>
<line x1="52.6" y1="270.3" x2="87.4" y2="311.5"/>
<line x1="52.6" y1="273.4" x2="87.4" y2="299.9"/>
<line x1="52.6" y1="278.3" x2="87.4" y2="302.1"/>
<line x1="52.6" y1="268.9" x2="87.4" y2="304.9"/>
<line x1="52.6" y1="273.6" x2="87.4" y2="301.9"/>
<line x1="52.6" y1="285.9" x2="87.4" y2="281.3"/>
<line x1="52.6" y1="274.1" x2="87.4" y2="279.4"/>
<line x1="52.6" y1="275.6" x2="87.4" y2="307.8"/>
<line x1="52.6" y1="269.5" x2="87.4" y2="272.7"/>
<line x1="52.6" y1="271.5" x2="87.4" y2="274.4"/>
<line x1="52.6" y1="265.1" x2="87.4" y2="261.5"/>
<line x1="52.6" y1="269.6" x2="87.4" y2="266.6"/>
<line x1="52.6" y1="285.4" x2="87.4" y2="281.2"/>
<line x1="52.6" y1="291.2" x2="87.4" y2="301.3"/>
<line x1="52.6" y1="275.5" x2="87.4" y2="305.2"/>
<line x1="52.6" y1="273.2" x2="87.4" y2="295.5"/>
<line x1="52.6" y1="287.8" x2="87.4" y2="305.0"/>
<line x1="52.6" y1="277.1" x2="87.4" y2="302.5"/>
<line x1="52.6" y1="272.7" x2="87.4" y2="308.8"/>
<line x1="52.6" y1="271.3" x2="87.4" y2="301.6"/>
<line x1="52.6" y1="280.9" x2="87.4" y2="303.3"/>
<line x1="52.6" y1="288.5" x2="87.4" y2="311.8"/>
<line x1="52.6" y1="278.4" x2="87.4" y2="292.9"/>
<line x1="52.6" y1="291.1" x2="87.4" y2="311.0"/>
<line x1="52.6" y1="287.4" x2="87.4" y2="301.8"/>
<line x1="52.6" y1="271.3" x2="87.4" y2="299.9"/>
<line x1="52.6" y1="274.0" x2="87.4" y2="303.8"/>
<line x1="52.6" y1="285.2" x2="87.4" y2="308.9"/>
<line x1="52.6" y1="278.0" x2="87.4" y2="306.0"/>
<line x1="52.6" y1="286.9" x2="87.4" y2="315.6"/>
<line x1="52.6" y1="283.8" x2="87.4" y2="304.9"/>
<line x1="52.6" y1="287.9" x2="87.4" y2="313.1"/>
<line x1="52.6" y1="288.7" x2="87.4" y2="301.7"/>
<line x1="52.6" y1="275.2" x2="87.4" y2="302.1"/>
<line x1="52.6" y1="276.6" x2="87.4" y2="297.2"/>
<line x1="52.6" y1="283.4" x2="87.4" y2="300.1"/>
<line x1="52.6" y1="276.7" x2="87.4" y2="299.4"/>
<line x1="52.6" y1="277.5" x2="87.4" y2="313.6"/>
<line x1="52.6" y1="291.0" x2="87.4" y2="317.2"/>
<line x1="52.6" y1="285.1" x2="87.4" y2="314.8"/>
<line x1="52.6" y1="261.0" x2="87.4" y2="264.8"/>
<line x1="52.6" y1="277.1" x2="87.4" y2="294.0"/>
<line x1="52.6" y1="270.9" x2="87.4" y2="280.7"/>
<line x1="52.6" y1="273.4" x2="87.4" y2="295.2"/>
<line x1="52.6" y1="279.6" x2="87.4" y2="306.4"/>
<line x1="52.6" y1="271.7" x2="87.4" y2="302.8"/>
<line x1="52.6" y1="281.1" x2="87.4" y2="308.7"/>
<line x1="52.6" y1="273.3" x2="87.4" y2="290.5"/>
<line x1="52.6" y1="290.5" x2="87.4" y2="314.6"/>
<line x1="52.6" y1="294.1" x2="87.4" y2="317.2"/>
<line x1="52.6" y1="268.2" x2="87.4" y2="277.5"/>
<line x1="52.6" y1="287.3" x2="87.4" y2="315.5"/>
<line x1="52.6" y1="270.3" x2="87.4" y2="296.9"/>
<line x1="52.6" y1="276.8" x2="87.4" y2="285.7"/>
<line x1="52.6" y1="286.2" x2="87.4" y2="300.1"/>
<line x1="52.6" y1="267.9" x2="87.4" y2="300.1"/>
<line x1="52.6" y1="267.8" x2="87.4" y2="293.1"/>
<line x1="52.6" y1="274.7" x2="87.4" y2="293.0"/>
<line x1="52.6" y1="271.7" x2="87.4" y2="291.2"/>
<line x1="52.6" y1="281.2" x2="87.4" y2="305.9"/>
<line x1="52.6" y1="275.6" x2="87.4" y2="288.5"/>
<line x1="52.6" y1="279.4" x2="87.4" y2="300.0"/>
<line x1="52.6" y1="267.1" x2="87.4" y2="284.5"/>
<line x1="52.6" y1="286.6" x2="87.4" y2="314.6"/>
<line x1="52.6" y1="269.5" x2="87.4" y2="296.4"/>
<line x1="52.6" y1="280.7" x2="87.4" y2="293.1"/>
<line x1="52.6" y1="276.5" x2="87.4" y2="302.3"/>
<line x1="52.6" y1="262.1" x2="87.4" y2="270.4"/>
<line x1="52.6" y1="273.5" x2="87.4" y2="301.3"/>
<line x1="52.6" y1="280.2" x2="87.4" y2="309.6"/>
<line x1="52.6" y1="282.1" x2="87.4" y2="303.2"/>
<line x1="52.6" y1="285.2" x2="87.4" y2="308.3"/>
<line x1="52.6" y1="281.4" x2="87.4" y2="313.8"/>
<line x1="52.6" y1="292.2" x2="87.4" y2="311.1"/>
<line x1="52.6" y1="287.2" x2="87.4" y2="310.4"/>
<line x1="52.6" y1="276.7" x2="87.4" y2="279.0"/>
<line x1="52.6" y1="266.2" x2="87.4" y2="283.8"/>
<line x1="52.6" y1="270.3" x2="87.4" y2="282.5"/>
<line x1="52.6" y1="272.5" x2="87.4" y2="278.1"/>
<line x1="52.6" y1="273.2" x2="87.4" y2="296.3"/>
<line x1="52.6" y1="280.2" x2="87.4" y2="305.7"/>
<line x1="52.6" y1="283.6" x2="87.4" y2="291.5"/>
<line x1="52.6" y1="281.7" x2="87.4" y2="317.2"/>
<line x1="52.6" y1="272.2" x2="87.4" y2="288.6"/>
<line x1="52.6" y1="278.2" x2="87.4" y2="292.9"/>
<line x1="52.6" y1="287.6" x2="87.4" y2="295.1"/>
</g>
<line x1="52.60" y1="252.00" x2="52.60" y2="305.00" stroke="#2b4a7a" stroke-width="0.9" />
<rect x="39.50" y="272.40" width="26.10" height="11.10" fill="#a8c6ec" stroke="#2a2a2a" stroke-width="0.6" rx="0" />
<line x1="39.50" y1="277.60" x2="65.60" y2="277.60" stroke="#222" stroke-width="0.9" />
<circle cx="52.60" cy="289.29" r="1.60" fill="#a8c6ec" stroke="none" stroke-width="0" opacity="0.75"/>
<circle cx="52.60" cy="283.73" r="1.60" fill="#a8c6ec" stroke="none" stroke-width="0" opacity="0.75"/>
<circle cx="52.60" cy="269.11" r="1.60" fill="#a8c6ec" stroke="none" stroke-width="0" opacity="0.75"/>
<circle cx="52.60" cy="271.38" r="1.60" fill="#a8c6ec" stroke="none" stroke-width="0" opacity="0.75"/>
<circle cx="52.60" cy="266.01" r="1.60" fill="#a8c6ec" stroke="none" stroke-width="0" opacity="0.75"/>
<circle cx="52.60" cy="291.45" r="1.60" fill="#a8c6ec" stroke="none" stroke-width="0" opacity="0.75"/>
<circle cx="52.60" cy="287.96" r="1.60" fill="#a8c6ec" stroke="none" stroke-width="0" opacity="0.75"/>
<circle cx="52.60" cy="287.07" r="1.60" fill="#a8c6ec" stroke="none" stroke-width="0" opacity="0.75"/>
<circle cx="52.60" cy="269.54" r="1.60" fill="#a8c6ec" stroke="none" stroke-width="0" opacity="0.75"/>
<circle cx="52.60" cy="285.02" r="1.60" fill="#a8c6ec" stroke="none" stroke-width="0" opacity="0.75"/>
<circle cx="52.60" cy="268.63" r="1.60" fill="#a8c6ec" stroke="none" stroke-width="0" opacity="0.75"/>
<circle cx="52.60" cy="271.36" r="1.60" fill="#a8c6ec" stroke="none" stroke-width="0" opacity="0.75"/>
<circle cx="52.60" cy="289.80" r="1.60" fill="#a8c6ec" stroke="none" stroke-width="0" opacity="0.75"/>
<circle cx="52.60" cy="266.33" r="1.60" fill="#a8c6ec" stroke="none" stroke-width="0" opacity="0.75"/>
<circle cx="52.60" cy="285.45" r="1.60" fill="#a8c6ec" stroke="none" stroke-width="0" opacity="0.75"/>
<circle cx="52.60" cy="268.68" r="1.60" fill="#a8c6ec" stroke="none" stroke-width="0" opacity="0.75"/>
<circle cx="52.60" cy="268.44" r="1.60" fill="#a8c6ec" stroke="none" stroke-width="0" opacity="0.75"/>
<circle cx="52.60" cy="286.41" r="1.60" fill="#a8c6ec" stroke="none" stroke-width="0" opacity="0.75"/>
<circle cx="52.60" cy="271.59" r="1.60" fill="#a8c6ec" stroke="none" stroke-width="0" opacity="0.75"/>
<circle cx="52.60" cy="287.81" r="1.60" fill="#a8c6ec" stroke="none" stroke-width="0" opacity="0.75"/>
<circle cx="52.60" cy="293.94" r="1.60" fill="#a8c6ec" stroke="none" stroke-width="0" opacity="0.75"/>
<circle cx="52.60" cy="286.62" r="1.60" fill="#a8c6ec" stroke="none" stroke-width="0" opacity="0.75"/>
<circle cx="52.60" cy="283.58" r="1.60" fill="#a8c6ec" stroke="none" stroke-width="0" opacity="0.75"/>
<circle cx="52.60" cy="266.70" r="1.60" fill="#a8c6ec" stroke="none" stroke-width="0" opacity="0.75"/>
<circle cx="52.60" cy="287.91" r="1.60" fill="#a8c6ec" stroke="none" stroke-width="0" opacity="0.75"/>
<circle cx="52.60" cy="294.00" r="1.60" fill="#a8c6ec" stroke="none" stroke-width="0" opacity="0.75"/>
<circle cx="52.60" cy="272.24" r="1.60" fill="#a8c6ec" stroke="none" stroke-width="0" opacity="0.75"/>
<circle cx="52.60" cy="296.44" r="1.60" fill="#a8c6ec" stroke="none" stroke-width="0" opacity="0.75"/>
<circle cx="52.60" cy="284.53" r="1.60" fill="#a8c6ec" stroke="none" stroke-width="0" opacity="0.75"/>
<circle cx="52.60" cy="285.01" r="1.60" fill="#a8c6ec" stroke="none" stroke-width="0" opacity="0.75"/>
<circle cx="52.60" cy="270.67" r="1.60" fill="#a8c6ec" stroke="none" stroke-width="0" opacity="0.75"/>
<circle cx="52.60" cy="272.25" r="1.60" fill="#a8c6ec" stroke="none" stroke-width="0" opacity="0.75"/>
<circle cx="52.60" cy="264.02" r="1.60" fill="#a8c6ec" stroke="none" stroke-width="0" opacity="0.75"/>
<circle cx="52.60" cy="285.74" r="1.60" fill="#a8c6ec" stroke="none" stroke-width="0" opacity="0.75"/>
<circle cx="52.60" cy="284.11" r="1.60" fill="#a8c6ec" stroke="none" stroke-width="0" opacity="0.75"/>
<circle cx="52.60" cy="285.56" r="1.60" fill="#a8c6ec" stroke="none" stroke-width="0" opacity="0.75"/>
<circle cx="52.60" cy="287.76" r="1.60" fill="#a8c6ec" stroke="none" stroke-width="0" opacity="0.75"/>
<circle cx="52.60" cy="290.05" r="1.60" fill="#a8c6ec" stroke="none" stroke-width="0" opacity="0.75"/>
<circle cx="52.60" cy="283.92" r="1.60" fill="#a8c6ec" stroke="none" stroke-width="0" opacity="0.75"/>
<circle cx="52.60" cy="286.79" r="1.60" fill="#a8c6ec" stroke="none" stroke-width="0" opacity="0.75"/>
<circle cx="52.60" cy="290.35" r="1.60" fill="#a8c6ec" stroke="none" stroke-width="0" opacity="0.75"/>
<circle cx="52.60" cy="288.00" r="1.60" fill="#a8c6ec" stroke="none" stroke-width="0" opacity="0.75"/>
<circle cx="52.60" cy="288.45" r="1.60" fill="#a8c6ec" stroke="none" stroke-width="0" opacity="0.75"/>
<circle cx="52.60" cy="284.90" r="1.60" fill="#a8c6ec" stroke="none" stroke-width="0" opacity="0.75"/>
<circle cx="52.60" cy="295.59" r="1.60" fill="#a8c6ec" stroke="none" stroke-width="0" opacity="0.75"/>
<circle cx="52.60" cy="272.39" r="1.60" fill="#a8c6ec" stroke="none" stroke-width="0" opacity="0.75"/>
<circle cx="52.60" cy="268.22" r="1.60" fill="#a8c6ec" stroke="none" stroke-width="0" opacity="0.75"/>
<circle cx="52.60" cy="285.26" r="1.60" fill="#a8c6ec" stroke="none" stroke-width="0" opacity="0.75"/>
<circle cx="52.60" cy="271.23" r="1.60" fill="#a8c6ec" stroke="none" stroke-width="0" opacity="0.75"/>
<circle cx="52.60" cy="298.10" r="1.60" fill="#a8c6ec" stroke="none" stroke-width="0" opacity="0.75"/>
<circle cx="52.60" cy="266.60" r="1.60" fill="#a8c6ec" stroke="none" stroke-width="0" opacity="0.75"/>
<circle cx="52.60" cy="270.88" r="1.60" fill="#a8c6ec" stroke="none" stroke-width="0" opacity="0.75"/>
<circle cx="52.60" cy="290.22" r="1.60" fill="#a8c6ec" stroke="none" stroke-width="0" opacity="0.75"/>
<circle cx="52.60" cy="292.04" r="1.60" fill="#a8c6ec" stroke="none" stroke-width="0" opacity="0.75"/>
<circle cx="52.60" cy="272.08" r="1.60" fill="#a8c6ec" stroke="none" stroke-width="0" opacity="0.75"/>
<circle cx="52.60" cy="286.11" r="1.60" fill="#a8c6ec" stroke="none" stroke-width="0" opacity="0.75"/>
<circle cx="52.60" cy="284.06" r="1.60" fill="#a8c6ec" stroke="none" stroke-width="0" opacity="0.75"/>
<circle cx="52.60" cy="285.15" r="1.60" fill="#a8c6ec" stroke="none" stroke-width="0" opacity="0.75"/>
<circle cx="52.60" cy="285.63" r="1.60" fill="#a8c6ec" stroke="none" stroke-width="0" opacity="0.75"/>
<circle cx="52.60" cy="270.61" r="1.60" fill="#a8c6ec" stroke="none" stroke-width="0" opacity="0.75"/>
<circle cx="52.60" cy="284.64" r="1.60" fill="#a8c6ec" stroke="none" stroke-width="0" opacity="0.75"/>
<circle cx="52.60" cy="286.85" r="1.60" fill="#a8c6ec" stroke="none" stroke-width="0" opacity="0.75"/>
<circle cx="52.60" cy="285.94" r="1.60" fill="#a8c6ec" stroke="none" stroke-width="0" opacity="0.75"/>
<circle cx="52.60" cy="265.07" r="1.60" fill="#a8c6ec" stroke="none" stroke-width="0" opacity="0.75"/>
<circle cx="52.60" cy="291.17" r="1.60" fill="#a8c6ec" stroke="none" stroke-width="0" opacity="0.75"/>
<circle cx="52.60" cy="288.54" r="1.60" fill="#a8c6ec" stroke="none" stroke-width="0" opacity="0.75"/>
<circle cx="52.60" cy="271.33" r="1.60" fill="#a8c6ec" stroke="none" stroke-width="0" opacity="0.75"/>
<circle cx="52.60" cy="283.80" r="1.60" fill="#a8c6ec" stroke="none" stroke-width="0" opacity="0.75"/>
<circle cx="52.60" cy="290.98" r="1.60" fill="#a8c6ec" stroke="none" stroke-width="0" opacity="0.75"/>
<circle cx="52.60" cy="270.90" r="1.60" fill="#a8c6ec" stroke="none" stroke-width="0" opacity="0.75"/>
<circle cx="52.60" cy="294.06" r="1.60" fill="#a8c6ec" stroke="none" stroke-width="0" opacity="0.75"/>
<circle cx="52.60" cy="270.26" r="1.60" fill="#a8c6ec" stroke="none" stroke-width="0" opacity="0.75"/>
<circle cx="52.60" cy="267.75" r="1.60" fill="#a8c6ec" stroke="none" stroke-width="0" opacity="0.75"/>
<circle cx="52.60" cy="286.62" r="1.60" fill="#a8c6ec" stroke="none" stroke-width="0" opacity="0.75"/>
<circle cx="52.60" cy="285.18" r="1.60" fill="#a8c6ec" stroke="none" stroke-width="0" opacity="0.75"/>
<circle cx="52.60" cy="266.16" r="1.60" fill="#a8c6ec" stroke="none" stroke-width="0" opacity="0.75"/>
<circle cx="52.60" cy="272.22" r="1.60" fill="#a8c6ec" stroke="none" stroke-width="0" opacity="0.75"/>
<circle cx="52.60" cy="245.87" r="1.60" fill="#a8c6ec" stroke="none" stroke-width="0" opacity="0.75"/>
<circle cx="52.60" cy="249.76" r="1.60" fill="#a8c6ec" stroke="none" stroke-width="0" opacity="0.75"/>
<circle cx="52.60" cy="310.70" r="1.60" fill="#a8c6ec" stroke="none" stroke-width="0" opacity="0.75"/>
<circle cx="52.60" cy="305.51" r="1.60" fill="#a8c6ec" stroke="none" stroke-width="0" opacity="0.75"/>
<circle cx="52.60" cy="302.92" r="1.60" fill="#a8c6ec" stroke="none" stroke-width="0" opacity="0.75"/>
<line x1="87.40" y1="256.70" x2="87.40" y2="317.00" stroke="#3a0d08" stroke-width="0.6" />
<rect x="74.60" y="286.00" width="26.10" height="20.60" fill="#7b2419" stroke="#2a0a05" stroke-width="0.6" rx="0" />
<line x1="74.60" y1="299.80" x2="100.70" y2="299.80" stroke="#2a0a05" stroke-width="0.9" />
<circle cx="87.40" cy="317.18" r="1.60" fill="#8f2a1e" stroke="none" stroke-width="0" opacity="0.7"/>
<circle cx="87.40" cy="307.36" r="1.60" fill="#8f2a1e" stroke="none" stroke-width="0" opacity="0.7"/>
<circle cx="87.40" cy="317.18" r="1.60" fill="#8f2a1e" stroke="none" stroke-width="0" opacity="0.7"/>
<circle cx="87.40" cy="280.67" r="1.60" fill="#8f2a1e" stroke="none" stroke-width="0" opacity="0.7"/>
<circle cx="87.40" cy="284.20" r="1.60" fill="#8f2a1e" stroke="none" stroke-width="0" opacity="0.7"/>
<circle cx="87.40" cy="283.15" r="1.60" fill="#8f2a1e" stroke="none" stroke-width="0" opacity="0.7"/>
<circle cx="87.40" cy="311.32" r="1.60" fill="#8f2a1e" stroke="none" stroke-width="0" opacity="0.7"/>
<circle cx="87.40" cy="282.07" r="1.60" fill="#8f2a1e" stroke="none" stroke-width="0" opacity="0.7"/>
<circle cx="87.40" cy="307.26" r="1.60" fill="#8f2a1e" stroke="none" stroke-width="0" opacity="0.7"/>
<circle cx="87.40" cy="309.32" r="1.60" fill="#8f2a1e" stroke="none" stroke-width="0" opacity="0.7"/>
<circle cx="87.40" cy="314.54" r="1.60" fill="#8f2a1e" stroke="none" stroke-width="0" opacity="0.7"/>
<circle cx="87.40" cy="307.21" r="1.60" fill="#8f2a1e" stroke="none" stroke-width="0" opacity="0.7"/>
<circle cx="87.40" cy="317.18" r="1.60" fill="#8f2a1e" stroke="none" stroke-width="0" opacity="0.7"/>
<circle cx="87.40" cy="314.50" r="1.60" fill="#8f2a1e" stroke="none" stroke-width="0" opacity="0.7"/>
<circle cx="87.40" cy="309.55" r="1.60" fill="#8f2a1e" stroke="none" stroke-width="0" opacity="0.7"/>
<circle cx="87.40" cy="259.12" r="1.60" fill="#8f2a1e" stroke="none" stroke-width="0" opacity="0.7"/>
<circle cx="87.40" cy="266.03" r="1.60" fill="#8f2a1e" stroke="none" stroke-width="0" opacity="0.7"/>
<circle cx="87.40" cy="280.87" r="1.60" fill="#8f2a1e" stroke="none" stroke-width="0" opacity="0.7"/>
<circle cx="87.40" cy="314.88" r="1.60" fill="#8f2a1e" stroke="none" stroke-width="0" opacity="0.7"/>
<circle cx="87.40" cy="281.78" r="1.60" fill="#8f2a1e" stroke="none" stroke-width="0" opacity="0.7"/>
<circle cx="87.40" cy="276.48" r="1.60" fill="#8f2a1e" stroke="none" stroke-width="0" opacity="0.7"/>
<circle cx="87.40" cy="308.00" r="1.60" fill="#8f2a1e" stroke="none" stroke-width="0" opacity="0.7"/>
<circle cx="87.40" cy="283.72" r="1.60" fill="#8f2a1e" stroke="none" stroke-width="0" opacity="0.7"/>
<circle cx="87.40" cy="263.42" r="1.60" fill="#8f2a1e" stroke="none" stroke-width="0" opacity="0.7"/>
<circle cx="87.40" cy="317.18" r="1.60" fill="#8f2a1e" stroke="none" stroke-width="0" opacity="0.7"/>
<circle cx="87.40" cy="257.54" r="1.60" fill="#8f2a1e" stroke="none" stroke-width="0" opacity="0.7"/>
<circle cx="87.40" cy="278.81" r="1.60" fill="#8f2a1e" stroke="none" stroke-width="0" opacity="0.7"/>
<circle cx="87.40" cy="276.77" r="1.60" fill="#8f2a1e" stroke="none" stroke-width="0" opacity="0.7"/>
<circle cx="87.40" cy="314.14" r="1.60" fill="#8f2a1e" stroke="none" stroke-width="0" opacity="0.7"/>
<circle cx="87.40" cy="272.95" r="1.60" fill="#8f2a1e" stroke="none" stroke-width="0" opacity="0.7"/>
<circle cx="87.40" cy="308.68" r="1.60" fill="#8f2a1e" stroke="none" stroke-width="0" opacity="0.7"/>
<circle cx="87.40" cy="317.18" r="1.60" fill="#8f2a1e" stroke="none" stroke-width="0" opacity="0.7"/>
<circle cx="87.40" cy="315.60" r="1.60" fill="#8f2a1e" stroke="none" stroke-width="0" opacity="0.7"/>
<circle cx="87.40" cy="283.10" r="1.60" fill="#8f2a1e" stroke="none" stroke-width="0" opacity="0.7"/>
<circle cx="87.40" cy="307.70" r="1.60" fill="#8f2a1e" stroke="none" stroke-width="0" opacity="0.7"/>
<circle cx="87.40" cy="307.80" r="1.60" fill="#8f2a1e" stroke="none" stroke-width="0" opacity="0.7"/>
<circle cx="87.40" cy="307.25" r="1.60" fill="#8f2a1e" stroke="none" stroke-width="0" opacity="0.7"/>
<circle cx="87.40" cy="312.62" r="1.60" fill="#8f2a1e" stroke="none" stroke-width="0" opacity="0.7"/>
<circle cx="87.40" cy="308.01" r="1.60" fill="#8f2a1e" stroke="none" stroke-width="0" opacity="0.7"/>
<circle cx="87.40" cy="283.26" r="1.60" fill="#8f2a1e" stroke="none" stroke-width="0" opacity="0.7"/>
<circle cx="87.40" cy="306.79" r="1.60" fill="#8f2a1e" stroke="none" stroke-width="0" opacity="0.7"/>
<circle cx="87.40" cy="310.87" r="1.60" fill="#8f2a1e" stroke="none" stroke-width="0" opacity="0.7"/>
<circle cx="87.40" cy="317.18" r="1.60" fill="#8f2a1e" stroke="none" stroke-width="0" opacity="0.7"/>
<circle cx="87.40" cy="284.64" r="1.60" fill="#8f2a1e" stroke="none" stroke-width="0" opacity="0.7"/>
<circle cx="87.40" cy="307.74" r="1.60" fill="#8f2a1e" stroke="none" stroke-width="0" opacity="0.7"/>
<circle cx="87.40" cy="278.23" r="1.60" fill="#8f2a1e" stroke="none" stroke-width="0" opacity="0.7"/>
<circle cx="87.40" cy="262.20" r="1.60" fill="#8f2a1e" stroke="none" stroke-width="0" opacity="0.7"/>
<circle cx="87.40" cy="317.18" r="1.60" fill="#8f2a1e" stroke="none" stroke-width="0" opacity="0.7"/>
<circle cx="87.40" cy="265.38" r="1.60" fill="#8f2a1e" stroke="none" stroke-width="0" opacity="0.7"/>
<circle cx="87.40" cy="308.91" r="1.60" fill="#8f2a1e" stroke="none" stroke-width="0" opacity="0.7"/>
<circle cx="87.40" cy="307.20" r="1.60" fill="#8f2a1e" stroke="none" stroke-width="0" opacity="0.7"/>
<circle cx="87.40" cy="309.06" r="1.60" fill="#8f2a1e" stroke="none" stroke-width="0" opacity="0.7"/>
<circle cx="87.40" cy="270.50" r="1.60" fill="#8f2a1e" stroke="none" stroke-width="0" opacity="0.7"/>
<circle cx="87.40" cy="317.18" r="1.60" fill="#8f2a1e" stroke="none" stroke-width="0" opacity="0.7"/>
<circle cx="87.40" cy="306.64" r="1.60" fill="#8f2a1e" stroke="none" stroke-width="0" opacity="0.7"/>
<circle cx="87.40" cy="274.85" r="1.60" fill="#8f2a1e" stroke="none" stroke-width="0" opacity="0.7"/>
<circle cx="87.40" cy="283.08" r="1.60" fill="#8f2a1e" stroke="none" stroke-width="0" opacity="0.7"/>
<circle cx="87.40" cy="279.36" r="1.60" fill="#8f2a1e" stroke="none" stroke-width="0" opacity="0.7"/>
<circle cx="87.40" cy="274.41" r="1.60" fill="#8f2a1e" stroke="none" stroke-width="0" opacity="0.7"/>
<circle cx="87.40" cy="281.19" r="1.60" fill="#8f2a1e" stroke="none" stroke-width="0" opacity="0.7"/>
<circle cx="87.40" cy="311.04" r="1.60" fill="#8f2a1e" stroke="none" stroke-width="0" opacity="0.7"/>
<circle cx="87.40" cy="313.06" r="1.60" fill="#8f2a1e" stroke="none" stroke-width="0" opacity="0.7"/>
<circle cx="87.40" cy="314.78" r="1.60" fill="#8f2a1e" stroke="none" stroke-width="0" opacity="0.7"/>
<circle cx="87.40" cy="308.67" r="1.60" fill="#8f2a1e" stroke="none" stroke-width="0" opacity="0.7"/>
<circle cx="87.40" cy="277.52" r="1.60" fill="#8f2a1e" stroke="none" stroke-width="0" opacity="0.7"/>
<circle cx="87.40" cy="284.50" r="1.60" fill="#8f2a1e" stroke="none" stroke-width="0" opacity="0.7"/>
<circle cx="87.40" cy="309.59" r="1.60" fill="#8f2a1e" stroke="none" stroke-width="0" opacity="0.7"/>
<circle cx="87.40" cy="311.07" r="1.60" fill="#8f2a1e" stroke="none" stroke-width="0" opacity="0.7"/>
<circle cx="87.40" cy="283.82" r="1.60" fill="#8f2a1e" stroke="none" stroke-width="0" opacity="0.7"/>
<circle cx="87.40" cy="317.18" r="1.60" fill="#8f2a1e" stroke="none" stroke-width="0" opacity="0.7"/>
<circle cx="87.40" cy="256.76" r="1.60" fill="#8f2a1e" stroke="none" stroke-width="0" opacity="0.7"/>
<circle cx="87.40" cy="317.18" r="1.60" fill="#8f2a1e" stroke="none" stroke-width="0" opacity="0.7"/>
<path d="M52.7,244.2 L52.7,242.2 L87.5,242.2 L87.5,244.2" fill="none" stroke="#333" stroke-width="0.5" />
<text x="70.10" y="240.60" font-size="5.5" text-anchor="middle" fill="#1a1a1a" stroke="#1a1a1a" stroke-width="0.12">9.15×10<tspan font-size="3.5" dy="-1.9">−88</tspan></text>
<text x="108.50" y="211.00" font-size="11" text-anchor="start" font-weight="bold" font-style="normal" fill="#000"  >c</text>
<text x="199.00" y="204.22" font-size="6.2" text-anchor="middle" font-weight="normal" font-style="normal" fill="#1a1a1a" stroke="#1a1a1a" stroke-width="0.06" >UU (WGS)</text>
<text x="145.90" y="209.66" font-size="5.2" text-anchor="middle" font-weight="normal" font-style="normal" fill="#1a1a1a" stroke="#1a1a1a" stroke-width="0.06" >Blood</text>
<text x="144.70" y="278.86" font-size="5.2" text-anchor="middle" font-weight="normal" font-style="normal" fill="#1a1a1a" stroke="#1a1a1a" stroke-width="0.06" >Tumor</text>
<path d="M150,212.6 L233.4,214.8 L233.4,268.6 L150,270.8 Z" fill="url(#gb1)" stroke="none" stroke-width="0" />
<path d="M172.7,305.2 L220,288.5 L222,332 L172.7,309.6 Z" fill="url(#gb2)" stroke="none" stroke-width="0" />
<path d="M144.70,241.70 L129.66,266.73 A29.2,29.2 0 0 1 127.95,217.78 Z" fill="#3c76ae" stroke="#fff" stroke-width="0.5" stroke-linejoin="round"/>
<path d="M144.70,241.70 L127.95,217.78 A29.2,29.2 0 1 1 129.66,266.73 Z" fill="#a8823f" stroke="#fff" stroke-width="0.5" stroke-linejoin="round"/>
<circle cx="144.70" cy="241.70" r="29.20" fill="none" stroke="#fff" stroke-width="0.5" opacity="1"/>
<path d="M144.40,309.70 L173.17,314.05 A29.1,29.1 0 1 1 173.17,305.35 Z" fill="#3c76ae" stroke="#fff" stroke-width="0.5" stroke-linejoin="round"/>
<path d="M144.40,309.70 L173.17,305.35 A29.1,29.1 0 0 1 173.17,314.05 Z" fill="#a8823f" stroke="#fff" stroke-width="0.5" stroke-linejoin="round"/>
<path d="M233.40,241.70 L233.40,214.80 A26.9,26.9 0 0 1 234.18,214.81 Z" fill="#8f8f8f" stroke="#fff" stroke-width="0.6" stroke-linejoin="round"/>
<path d="M233.40,241.70 L234.18,214.81 A26.9,26.9 0 0 1 242.07,216.23 Z" fill="#4fae49" stroke="#fff" stroke-width="0.6" stroke-linejoin="round"/>
<path d="M233.40,241.70 L242.07,216.23 A26.9,26.9 0 0 1 255.94,227.02 Z" fill="#98c4e6" stroke="#fff" stroke-width="0.6" stroke-linejoin="round"/>
<path d="M233.40,241.70 L255.94,227.02 A26.9,26.9 0 1 1 233.40,214.80 Z" fill="#d23a28" stroke="#fff" stroke-width="0.6" stroke-linejoin="round"/>
<circle cx="233.40" cy="241.70" r="26.90" fill="none" stroke="#fff" stroke-width="0.6" opacity="1"/>
<path d="M235.10,309.70 L235.10,282.80 A26.9,26.9 0 0 1 236.10,282.82 Z" fill="#8f8f8f" stroke="#fff" stroke-width="0.6" stroke-linejoin="round"/>
<path d="M235.10,309.70 L236.10,282.82 A26.9,26.9 0 0 1 242.73,283.91 Z" fill="#4fae49" stroke="#fff" stroke-width="0.6" stroke-linejoin="round"/>
<path d="M235.10,309.70 L242.73,283.91 A26.9,26.9 0 1 1 208.91,303.57 Z" fill="#98c4e6" stroke="#fff" stroke-width="0.6" stroke-linejoin="round"/>
<path d="M235.10,309.70 L208.91,303.57 A26.9,26.9 0 0 1 235.10,282.80 Z" fill="#d23a28" stroke="#fff" stroke-width="0.6" stroke-linejoin="round"/>
<circle cx="235.10" cy="309.70" r="26.90" fill="none" stroke="#fff" stroke-width="0.6" opacity="1"/>
<text x="138.00" y="232.53" font-size="5.1" text-anchor="start" font-weight="normal" font-style="normal" fill="#1a1a1a" stroke="#1a1a1a" stroke-width="0.06" >Contaminants</text>
<text x="160.50" y="240.76" font-size="5.2" text-anchor="middle" font-weight="normal" font-style="normal" fill="#1a1a1a" stroke="#1a1a1a" stroke-width="0.06" >64.92%</text>
<text stroke="#1a1a1a" stroke-width="0.06" transform="translate(119.8,240.3) rotate(-90)" font-size="5.1" text-anchor="middle" fill="#1a1a1a"><tspan x="0" dy="0">Non-</tspan><tspan x="0" dy="4.6">Contaminants</tspan></text>
<text x="134.20" y="244.06" font-size="5.2" text-anchor="middle" font-weight="normal" font-style="normal" fill="#1a1a1a" stroke="#1a1a1a" stroke-width="0.06" >35.08%</text>
<text x="142.40" y="298.70" font-size="5.04" text-anchor="middle" font-weight="normal" font-style="normal" fill="#1a1a1a" stroke="#1a1a1a" stroke-width="0.06" >Non-Contaminants</text>
<text x="138.90" y="306.86" font-size="5.2" text-anchor="middle" font-weight="normal" font-style="normal" fill="#1a1a1a" stroke="#1a1a1a" stroke-width="0.06" >95.22%</text>
<text x="173.90" y="308.76" font-size="5.19" text-anchor="start" font-weight="normal" font-style="normal" fill="#1a1a1a" stroke="#1a1a1a" stroke-width="0.06" >Contaminants</text>
<text x="175.00" y="314.36" font-size="5.19" text-anchor="start" font-weight="normal" font-style="normal" fill="#1a1a1a" stroke="#1a1a1a" stroke-width="0.06" >4.78%</text>
<text x="240.50" y="214.99" font-size="5.0" text-anchor="middle" font-weight="normal" font-style="normal" fill="#1a1a1a" stroke="#1a1a1a" stroke-width="0.06" >4.76%</text>
<text x="245.50" y="226.79" font-size="5.0" text-anchor="middle" font-weight="normal" font-style="normal" fill="#1a1a1a" stroke="#1a1a1a" stroke-width="0.06" >10.59%</text>
<text x="235.80" y="254.79" font-size="5.0" text-anchor="middle" font-weight="normal" font-style="normal" fill="#1a1a1a" stroke="#1a1a1a" stroke-width="0.06" >84.19%</text>
<text x="244.70" y="282.79" font-size="5.0" text-anchor="middle" font-weight="normal" font-style="normal" fill="#1a1a1a" stroke="#1a1a1a" stroke-width="0.06" >3.99%</text>
<text x="226.50" y="298.69" font-size="5.0" text-anchor="middle" font-weight="normal" font-style="normal" fill="#1a1a1a" stroke="#1a1a1a" stroke-width="0.06" >21.34%</text>
<text x="241.60" y="322.79" font-size="5.0" text-anchor="middle" font-weight="normal" font-style="normal" fill="#1a1a1a" stroke="#1a1a1a" stroke-width="0.06" >74.08%</text>
<text x="189.70" y="354.42" font-size="7.33" text-anchor="middle" font-weight="normal" font-style="normal" fill="#1a1a1a" stroke="#1a1a1a" stroke-width="0.06" >462 tumors and paired blood samples</text>
<text x="267.40" y="231.06" font-size="5.76" text-anchor="start" font-weight="normal" font-style="normal" fill="#1a1a1a" stroke="#1a1a1a" stroke-width="0.06" >Phylum</text>
<rect x="268.10" y="235.30" width="8.00" height="7.50" fill="#d23a28" stroke="none" stroke-width="0" rx="0" />
<text x="279.20" y="240.89" font-size="5.14" text-anchor="start" font-weight="normal" font-style="normal" fill="#1a1a1a" stroke="#1a1a1a" stroke-width="0.06" >Proteobacteria</text>
<rect x="268.10" y="244.63" width="8.00" height="7.50" fill="#98c4e6" stroke="none" stroke-width="0" rx="0" />
<text x="279.20" y="250.22" font-size="5.14" text-anchor="start" font-weight="normal" font-style="normal" fill="#1a1a1a" stroke="#1a1a1a" stroke-width="0.06" >Firmicutes</text>
<rect x="268.10" y="253.96" width="8.00" height="7.50" fill="#4fae49" stroke="none" stroke-width="0" rx="0" />
<text x="279.20" y="259.55" font-size="5.14" text-anchor="start" font-weight="normal" font-style="normal" fill="#1a1a1a" stroke="#1a1a1a" stroke-width="0.06" >Actinobacteriota</text>
<rect x="268.10" y="263.29" width="8.00" height="7.50" fill="#9a48c0" stroke="none" stroke-width="0" rx="0" />
<text x="279.20" y="268.88" font-size="5.14" text-anchor="start" font-weight="normal" font-style="normal" fill="#1a1a1a" stroke="#1a1a1a" stroke-width="0.06" >Bacteroidota</text>
<rect x="268.10" y="272.62" width="8.00" height="7.50" fill="#8f8f8f" stroke="none" stroke-width="0" rx="0" />
<text x="279.20" y="278.21" font-size="5.14" text-anchor="start" font-weight="normal" font-style="normal" fill="#1a1a1a" stroke="#1a1a1a" stroke-width="0.06" >Others</text>
<text x="321.30" y="211.00" font-size="11" text-anchor="start" font-weight="bold" font-style="normal" fill="#000"  >d</text>
<text x="378.20" y="212.74" font-size="7.1" text-anchor="middle" font-weight="normal" font-style="normal" fill="#1a1a1a" stroke="#1a1a1a" stroke-width="0.06" >UU (WGS)</text>
<line x1="351.20" y1="218.60" x2="351.20" y2="343.80" stroke="#333" stroke-width="0.8" />
<line x1="350.80" y1="343.40" x2="409.40" y2="343.40" stroke="#333" stroke-width="0.8" />
<line x1="349.20" y1="233.00" x2="351.20" y2="233.00" stroke="#333" stroke-width="0.6" />
<text stroke="#1a1a1a" stroke-width="0.06" x="349.20" y="237.43" font-size="6.8" text-anchor="end" fill="#1a1a1a">10<tspan font-size="4.62" dy="-2.45">9</tspan></text>
<line x1="349.20" y1="272.90" x2="351.20" y2="272.90" stroke="#333" stroke-width="0.6" />
<text stroke="#1a1a1a" stroke-width="0.06" x="349.20" y="277.33" font-size="6.8" text-anchor="end" fill="#1a1a1a">10<tspan font-size="4.62" dy="-2.45">6</tspan></text>
<line x1="349.20" y1="312.20" x2="351.20" y2="312.20" stroke="#333" stroke-width="0.6" />
<text stroke="#1a1a1a" stroke-width="0.06" x="349.20" y="316.63" font-size="6.8" text-anchor="end" fill="#1a1a1a">10<tspan font-size="4.62" dy="-2.45">3</tspan></text>
<text stroke="#1a1a1a" stroke-width="0.06" transform="translate(330.14,281.00) rotate(-90)" font-size="7.1" text-anchor="middle" fill="#1a1a1a">Reads annotated to tissue-resident taxa</text>
<line x1="362.20" y1="343.40" x2="362.20" y2="345.40" stroke="#333" stroke-width="0.6" />
<text x="362.20" y="350.62" font-size="6.2" text-anchor="middle" font-weight="normal" font-style="normal" fill="#1a1a1a" stroke="#1a1a1a" stroke-width="0.06" >NAT</text>
<text x="362.20" y="356.45" font-size="6.0" text-anchor="middle" font-weight="normal" font-style="normal" fill="#1a1a1a" stroke="#1a1a1a" stroke-width="0.06" >n=313</text>
<line x1="380.70" y1="343.40" x2="380.70" y2="345.40" stroke="#333" stroke-width="0.6" />
<text x="380.70" y="350.62" font-size="6.2" text-anchor="middle" font-weight="normal" font-style="normal" fill="#1a1a1a" stroke="#1a1a1a" stroke-width="0.06" >Tumor</text>
<text x="380.70" y="356.45" font-size="6.0" text-anchor="middle" font-weight="normal" font-style="normal" fill="#1a1a1a" stroke="#1a1a1a" stroke-width="0.06" >n=775</text>
<line x1="399.30" y1="343.40" x2="399.30" y2="345.40" stroke="#333" stroke-width="0.6" />
<text x="399.30" y="350.62" font-size="6.2" text-anchor="middle" font-weight="normal" font-style="normal" fill="#1a1a1a" stroke="#1a1a1a" stroke-width="0.06" >Blood</text>
<text x="399.30" y="356.45" font-size="6.0" text-anchor="middle" font-weight="normal" font-style="normal" fill="#1a1a1a" stroke="#1a1a1a" stroke-width="0.06" >n=462</text>
<circle cx="364.81" cy="269.61" r="1.70" fill="#4fa63f" stroke="none" stroke-width="0" opacity="0.55"/>
<circle cx="359.09" cy="287.70" r="1.70" fill="#4fa63f" stroke="none" stroke-width="0" opacity="0.55"/>
<circle cx="363.47" cy="274.36" r="1.70" fill="#4fa63f" stroke="none" stroke-width="0" opacity="0.55"/>
<circle cx="361.48" cy="273.77" r="1.70" fill="#4fa63f" stroke="none" stroke-width="0" opacity="0.55"/>
<circle cx="361.18" cy="287.44" r="1.70" fill="#4fa63f" stroke="none" stroke-width="0" opacity="0.55"/>
<circle cx="365.66" cy="267.44" r="1.70" fill="#4fa63f" stroke="none" stroke-width="0" opacity="0.55"/>
<circle cx="361.25" cy="282.63" r="1.70" fill="#4fa63f" stroke="none" stroke-width="0" opacity="0.55"/>
<circle cx="365.69" cy="276.47" r="1.70" fill="#4fa63f" stroke="none" stroke-width="0" opacity="0.55"/>
<circle cx="365.15" cy="278.42" r="1.70" fill="#4fa63f" stroke="none" stroke-width="0" opacity="0.55"/>
<circle cx="362.70" cy="259.48" r="1.70" fill="#4fa63f" stroke="none" stroke-width="0" opacity="0.55"/>
<circle cx="358.53" cy="267.26" r="1.70" fill="#4fa63f" stroke="none" stroke-width="0" opacity="0.55"/>
<circle cx="360.67" cy="268.50" r="1.70" fill="#4fa63f" stroke="none" stroke-width="0" opacity="0.55"/>
<circle cx="366.39" cy="284.64" r="1.70" fill="#4fa63f" stroke="none" stroke-width="0" opacity="0.55"/>
<circle cx="360.03" cy="268.00" r="1.70" fill="#4fa63f" stroke="none" stroke-width="0" opacity="0.55"/>
<circle cx="363.03" cy="266.55" r="1.70" fill="#4fa63f" stroke="none" stroke-width="0" opacity="0.55"/>
<circle cx="359.45" cy="259.66" r="1.70" fill="#4fa63f" stroke="none" stroke-width="0" opacity="0.55"/>
<circle cx="364.34" cy="293.09" r="1.70" fill="#4fa63f" stroke="none" stroke-width="0" opacity="0.55"/>
<circle cx="363.93" cy="286.28" r="1.70" fill="#4fa63f" stroke="none" stroke-width="0" opacity="0.55"/>
<circle cx="365.79" cy="277.54" r="1.70" fill="#4fa63f" stroke="none" stroke-width="0" opacity="0.55"/>
<circle cx="363.06" cy="273.05" r="1.70" fill="#4fa63f" stroke="none" stroke-width="0" opacity="0.55"/>
<circle cx="358.62" cy="277.27" r="1.70" fill="#4fa63f" stroke="none" stroke-width="0" opacity="0.55"/>
<circle cx="364.92" cy="254.30" r="1.70" fill="#4fa63f" stroke="none" stroke-width="0" opacity="0.55"/>
<circle cx="362.90" cy="278.19" r="1.70" fill="#4fa63f" stroke="none" stroke-width="0" opacity="0.55"/>
<circle cx="366.28" cy="295.46" r="1.70" fill="#4fa63f" stroke="none" stroke-width="0" opacity="0.55"/>
<circle cx="362.38" cy="269.16" r="1.70" fill="#4fa63f" stroke="none" stroke-width="0" opacity="0.55"/>
<circle cx="360.58" cy="275.12" r="1.70" fill="#4fa63f" stroke="none" stroke-width="0" opacity="0.55"/>
<circle cx="361.68" cy="256.96" r="1.70" fill="#4fa63f" stroke="none" stroke-width="0" opacity="0.55"/>
<circle cx="362.76" cy="288.27" r="1.70" fill="#4fa63f" stroke="none" stroke-width="0" opacity="0.55"/>
<circle cx="364.03" cy="289.90" r="1.70" fill="#4fa63f" stroke="none" stroke-width="0" opacity="0.55"/>
<circle cx="363.42" cy="267.14" r="1.70" fill="#4fa63f" stroke="none" stroke-width="0" opacity="0.55"/>
<circle cx="365.53" cy="273.65" r="1.70" fill="#4fa63f" stroke="none" stroke-width="0" opacity="0.55"/>
<circle cx="362.53" cy="286.17" r="1.70" fill="#4fa63f" stroke="none" stroke-width="0" opacity="0.55"/>
<circle cx="359.48" cy="292.50" r="1.70" fill="#4fa63f" stroke="none" stroke-width="0" opacity="0.55"/>
<circle cx="365.50" cy="297.40" r="1.70" fill="#4fa63f" stroke="none" stroke-width="0" opacity="0.55"/>
<circle cx="364.14" cy="275.97" r="1.70" fill="#4fa63f" stroke="none" stroke-width="0" opacity="0.55"/>
<circle cx="359.05" cy="294.23" r="1.70" fill="#4fa63f" stroke="none" stroke-width="0" opacity="0.55"/>
<circle cx="361.84" cy="275.76" r="1.70" fill="#4fa63f" stroke="none" stroke-width="0" opacity="0.55"/>
<circle cx="365.43" cy="294.41" r="1.70" fill="#4fa63f" stroke="none" stroke-width="0" opacity="0.55"/>
<circle cx="362.91" cy="287.87" r="1.70" fill="#4fa63f" stroke="none" stroke-width="0" opacity="0.55"/>
<circle cx="358.72" cy="280.71" r="1.70" fill="#4fa63f" stroke="none" stroke-width="0" opacity="0.55"/>
<circle cx="365.57" cy="258.99" r="1.70" fill="#4fa63f" stroke="none" stroke-width="0" opacity="0.55"/>
<circle cx="364.33" cy="276.86" r="1.70" fill="#4fa63f" stroke="none" stroke-width="0" opacity="0.55"/>
<circle cx="359.41" cy="285.99" r="1.70" fill="#4fa63f" stroke="none" stroke-width="0" opacity="0.55"/>
<circle cx="363.99" cy="254.90" r="1.70" fill="#4fa63f" stroke="none" stroke-width="0" opacity="0.55"/>
<circle cx="365.55" cy="308.36" r="1.70" fill="#4fa63f" stroke="none" stroke-width="0" opacity="0.55"/>
<circle cx="362.90" cy="263.50" r="1.70" fill="#4fa63f" stroke="none" stroke-width="0" opacity="0.55"/>
<circle cx="366.32" cy="268.62" r="1.70" fill="#4fa63f" stroke="none" stroke-width="0" opacity="0.55"/>
<circle cx="362.55" cy="285.10" r="1.70" fill="#4fa63f" stroke="none" stroke-width="0" opacity="0.55"/>
<circle cx="357.71" cy="273.80" r="1.70" fill="#4fa63f" stroke="none" stroke-width="0" opacity="0.55"/>
<circle cx="363.67" cy="259.46" r="1.70" fill="#4fa63f" stroke="none" stroke-width="0" opacity="0.55"/>
<circle cx="365.24" cy="276.77" r="1.70" fill="#4fa63f" stroke="none" stroke-width="0" opacity="0.55"/>
<circle cx="366.03" cy="276.79" r="1.70" fill="#4fa63f" stroke="none" stroke-width="0" opacity="0.55"/>
<circle cx="364.55" cy="279.28" r="1.70" fill="#4fa63f" stroke="none" stroke-width="0" opacity="0.55"/>
<circle cx="366.27" cy="285.11" r="1.70" fill="#4fa63f" stroke="none" stroke-width="0" opacity="0.55"/>
<circle cx="364.99" cy="269.09" r="1.70" fill="#4fa63f" stroke="none" stroke-width="0" opacity="0.55"/>
<circle cx="361.96" cy="251.58" r="1.70" fill="#4fa63f" stroke="none" stroke-width="0" opacity="0.55"/>
<circle cx="358.16" cy="279.15" r="1.70" fill="#4fa63f" stroke="none" stroke-width="0" opacity="0.55"/>
<circle cx="359.14" cy="279.21" r="1.70" fill="#4fa63f" stroke="none" stroke-width="0" opacity="0.55"/>
<circle cx="358.05" cy="281.85" r="1.70" fill="#4fa63f" stroke="none" stroke-width="0" opacity="0.55"/>
<circle cx="366.11" cy="277.36" r="1.70" fill="#4fa63f" stroke="none" stroke-width="0" opacity="0.55"/>
<circle cx="365.03" cy="296.64" r="1.70" fill="#4fa63f" stroke="none" stroke-width="0" opacity="0.55"/>
<circle cx="365.94" cy="289.63" r="1.70" fill="#4fa63f" stroke="none" stroke-width="0" opacity="0.55"/>
<circle cx="364.75" cy="271.83" r="1.70" fill="#4fa63f" stroke="none" stroke-width="0" opacity="0.55"/>
<circle cx="361.77" cy="287.00" r="1.70" fill="#4fa63f" stroke="none" stroke-width="0" opacity="0.55"/>
<circle cx="362.79" cy="280.82" r="1.70" fill="#4fa63f" stroke="none" stroke-width="0" opacity="0.55"/>
<circle cx="357.83" cy="280.47" r="1.70" fill="#4fa63f" stroke="none" stroke-width="0" opacity="0.55"/>
<circle cx="359.07" cy="305.67" r="1.70" fill="#4fa63f" stroke="none" stroke-width="0" opacity="0.55"/>
<circle cx="361.28" cy="276.47" r="1.70" fill="#4fa63f" stroke="none" stroke-width="0" opacity="0.55"/>
<circle cx="358.09" cy="296.89" r="1.70" fill="#4fa63f" stroke="none" stroke-width="0" opacity="0.55"/>
<circle cx="360.54" cy="283.39" r="1.70" fill="#4fa63f" stroke="none" stroke-width="0" opacity="0.55"/>
<circle cx="362.37" cy="262.16" r="1.70" fill="#4fa63f" stroke="none" stroke-width="0" opacity="0.55"/>
<circle cx="359.09" cy="282.32" r="1.70" fill="#4fa63f" stroke="none" stroke-width="0" opacity="0.55"/>
<circle cx="359.23" cy="275.86" r="1.70" fill="#4fa63f" stroke="none" stroke-width="0" opacity="0.55"/>
<circle cx="358.39" cy="276.76" r="1.70" fill="#4fa63f" stroke="none" stroke-width="0" opacity="0.55"/>
<circle cx="361.81" cy="260.46" r="1.70" fill="#4fa63f" stroke="none" stroke-width="0" opacity="0.55"/>
<circle cx="365.30" cy="283.87" r="1.70" fill="#4fa63f" stroke="none" stroke-width="0" opacity="0.55"/>
<circle cx="361.72" cy="281.31" r="1.70" fill="#4fa63f" stroke="none" stroke-width="0" opacity="0.55"/>
<circle cx="364.08" cy="278.48" r="1.70" fill="#4fa63f" stroke="none" stroke-width="0" opacity="0.55"/>
<circle cx="364.19" cy="272.30" r="1.70" fill="#4fa63f" stroke="none" stroke-width="0" opacity="0.55"/>
<circle cx="364.99" cy="265.91" r="1.70" fill="#4fa63f" stroke="none" stroke-width="0" opacity="0.55"/>
<circle cx="364.92" cy="279.92" r="1.70" fill="#4fa63f" stroke="none" stroke-width="0" opacity="0.55"/>
<circle cx="362.21" cy="302.07" r="1.70" fill="#4fa63f" stroke="none" stroke-width="0" opacity="0.55"/>
<circle cx="358.02" cy="299.41" r="1.70" fill="#4fa63f" stroke="none" stroke-width="0" opacity="0.55"/>
<circle cx="359.15" cy="278.15" r="1.70" fill="#4fa63f" stroke="none" stroke-width="0" opacity="0.55"/>
<circle cx="360.16" cy="271.01" r="1.70" fill="#4fa63f" stroke="none" stroke-width="0" opacity="0.55"/>
<circle cx="360.70" cy="262.22" r="1.70" fill="#4fa63f" stroke="none" stroke-width="0" opacity="0.55"/>
<circle cx="363.11" cy="260.59" r="1.70" fill="#4fa63f" stroke="none" stroke-width="0" opacity="0.55"/>
<circle cx="362.18" cy="275.62" r="1.70" fill="#4fa63f" stroke="none" stroke-width="0" opacity="0.55"/>
<circle cx="360.25" cy="272.27" r="1.70" fill="#4fa63f" stroke="none" stroke-width="0" opacity="0.55"/>
<circle cx="359.14" cy="284.55" r="1.70" fill="#4fa63f" stroke="none" stroke-width="0" opacity="0.55"/>
<circle cx="364.39" cy="279.09" r="1.70" fill="#4fa63f" stroke="none" stroke-width="0" opacity="0.55"/>
<circle cx="366.76" cy="280.51" r="1.70" fill="#4fa63f" stroke="none" stroke-width="0" opacity="0.55"/>
<circle cx="364.06" cy="287.14" r="1.70" fill="#4fa63f" stroke="none" stroke-width="0" opacity="0.55"/>
<circle cx="358.89" cy="309.46" r="1.70" fill="#4fa63f" stroke="none" stroke-width="0" opacity="0.55"/>
<circle cx="364.00" cy="261.80" r="1.70" fill="#4fa63f" stroke="none" stroke-width="0" opacity="0.55"/>
<circle cx="364.96" cy="281.23" r="1.70" fill="#4fa63f" stroke="none" stroke-width="0" opacity="0.55"/>
<circle cx="362.55" cy="270.36" r="1.70" fill="#4fa63f" stroke="none" stroke-width="0" opacity="0.55"/>
<circle cx="363.43" cy="280.40" r="1.70" fill="#4fa63f" stroke="none" stroke-width="0" opacity="0.55"/>
<circle cx="365.53" cy="275.14" r="1.70" fill="#4fa63f" stroke="none" stroke-width="0" opacity="0.55"/>
<circle cx="362.00" cy="259.42" r="1.70" fill="#4fa63f" stroke="none" stroke-width="0" opacity="0.55"/>
<circle cx="364.10" cy="277.99" r="1.70" fill="#4fa63f" stroke="none" stroke-width="0" opacity="0.55"/>
<circle cx="359.16" cy="280.50" r="1.70" fill="#4fa63f" stroke="none" stroke-width="0" opacity="0.55"/>
<circle cx="365.29" cy="286.63" r="1.70" fill="#4fa63f" stroke="none" stroke-width="0" opacity="0.55"/>
<circle cx="362.85" cy="290.44" r="1.70" fill="#4fa63f" stroke="none" stroke-width="0" opacity="0.55"/>
<circle cx="359.36" cy="285.66" r="1.70" fill="#4fa63f" stroke="none" stroke-width="0" opacity="0.55"/>
<circle cx="363.35" cy="266.80" r="1.70" fill="#4fa63f" stroke="none" stroke-width="0" opacity="0.55"/>
<circle cx="365.19" cy="278.45" r="1.70" fill="#4fa63f" stroke="none" stroke-width="0" opacity="0.55"/>
<circle cx="361.70" cy="271.03" r="1.70" fill="#4fa63f" stroke="none" stroke-width="0" opacity="0.55"/>
<circle cx="360.47" cy="287.13" r="1.70" fill="#4fa63f" stroke="none" stroke-width="0" opacity="0.55"/>
<circle cx="364.14" cy="289.03" r="1.70" fill="#4fa63f" stroke="none" stroke-width="0" opacity="0.55"/>
<circle cx="366.75" cy="299.28" r="1.70" fill="#4fa63f" stroke="none" stroke-width="0" opacity="0.55"/>
<circle cx="366.44" cy="267.21" r="1.70" fill="#4fa63f" stroke="none" stroke-width="0" opacity="0.55"/>
<circle cx="360.45" cy="297.51" r="1.70" fill="#4fa63f" stroke="none" stroke-width="0" opacity="0.55"/>
<circle cx="362.07" cy="262.96" r="1.70" fill="#4fa63f" stroke="none" stroke-width="0" opacity="0.55"/>
<circle cx="361.07" cy="292.69" r="1.70" fill="#4fa63f" stroke="none" stroke-width="0" opacity="0.55"/>
<circle cx="358.91" cy="290.29" r="1.70" fill="#4fa63f" stroke="none" stroke-width="0" opacity="0.55"/>
<circle cx="362.62" cy="284.42" r="1.70" fill="#4fa63f" stroke="none" stroke-width="0" opacity="0.55"/>
<circle cx="360.25" cy="278.02" r="1.70" fill="#4fa63f" stroke="none" stroke-width="0" opacity="0.55"/>
<circle cx="362.00" cy="291.07" r="1.70" fill="#4fa63f" stroke="none" stroke-width="0" opacity="0.55"/>
<circle cx="365.23" cy="265.04" r="1.70" fill="#4fa63f" stroke="none" stroke-width="0" opacity="0.55"/>
<circle cx="362.71" cy="277.46" r="1.70" fill="#4fa63f" stroke="none" stroke-width="0" opacity="0.55"/>
<circle cx="366.71" cy="282.70" r="1.70" fill="#4fa63f" stroke="none" stroke-width="0" opacity="0.55"/>
<circle cx="359.47" cy="283.92" r="1.70" fill="#4fa63f" stroke="none" stroke-width="0" opacity="0.55"/>
<circle cx="359.30" cy="283.33" r="1.70" fill="#4fa63f" stroke="none" stroke-width="0" opacity="0.55"/>
<circle cx="358.19" cy="287.97" r="1.70" fill="#4fa63f" stroke="none" stroke-width="0" opacity="0.55"/>
<circle cx="364.09" cy="279.43" r="1.70" fill="#4fa63f" stroke="none" stroke-width="0" opacity="0.55"/>
<circle cx="360.23" cy="255.88" r="1.70" fill="#4fa63f" stroke="none" stroke-width="0" opacity="0.55"/>
<circle cx="359.61" cy="281.08" r="1.70" fill="#4fa63f" stroke="none" stroke-width="0" opacity="0.55"/>
<circle cx="363.46" cy="287.42" r="1.70" fill="#4fa63f" stroke="none" stroke-width="0" opacity="0.55"/>
<circle cx="366.69" cy="282.61" r="1.70" fill="#4fa63f" stroke="none" stroke-width="0" opacity="0.55"/>
<circle cx="364.53" cy="268.88" r="1.70" fill="#4fa63f" stroke="none" stroke-width="0" opacity="0.55"/>
<circle cx="366.40" cy="279.40" r="1.70" fill="#4fa63f" stroke="none" stroke-width="0" opacity="0.55"/>
<circle cx="366.17" cy="268.63" r="1.70" fill="#4fa63f" stroke="none" stroke-width="0" opacity="0.55"/>
<circle cx="362.45" cy="273.87" r="1.70" fill="#4fa63f" stroke="none" stroke-width="0" opacity="0.55"/>
<circle cx="359.62" cy="280.77" r="1.70" fill="#4fa63f" stroke="none" stroke-width="0" opacity="0.55"/>
<circle cx="364.64" cy="266.48" r="1.70" fill="#4fa63f" stroke="none" stroke-width="0" opacity="0.55"/>
<circle cx="359.60" cy="293.86" r="1.70" fill="#4fa63f" stroke="none" stroke-width="0" opacity="0.55"/>
<circle cx="358.24" cy="280.19" r="1.70" fill="#4fa63f" stroke="none" stroke-width="0" opacity="0.55"/>
<circle cx="361.04" cy="285.83" r="1.70" fill="#4fa63f" stroke="none" stroke-width="0" opacity="0.55"/>
<circle cx="364.40" cy="267.48" r="1.70" fill="#4fa63f" stroke="none" stroke-width="0" opacity="0.55"/>
<circle cx="363.42" cy="257.79" r="1.70" fill="#4fa63f" stroke="none" stroke-width="0" opacity="0.55"/>
<circle cx="361.38" cy="261.91" r="1.70" fill="#4fa63f" stroke="none" stroke-width="0" opacity="0.55"/>
<circle cx="358.76" cy="264.99" r="1.70" fill="#4fa63f" stroke="none" stroke-width="0" opacity="0.55"/>
<circle cx="359.18" cy="263.15" r="1.70" fill="#4fa63f" stroke="none" stroke-width="0" opacity="0.55"/>
<circle cx="363.13" cy="281.47" r="1.70" fill="#4fa63f" stroke="none" stroke-width="0" opacity="0.55"/>
<circle cx="362.15" cy="264.03" r="1.70" fill="#4fa63f" stroke="none" stroke-width="0" opacity="0.55"/>
<circle cx="362.59" cy="270.39" r="1.70" fill="#4fa63f" stroke="none" stroke-width="0" opacity="0.55"/>
<circle cx="364.43" cy="302.77" r="1.70" fill="#4fa63f" stroke="none" stroke-width="0" opacity="0.55"/>
<circle cx="362.87" cy="283.14" r="1.70" fill="#4fa63f" stroke="none" stroke-width="0" opacity="0.55"/>
<circle cx="365.59" cy="273.12" r="1.70" fill="#4fa63f" stroke="none" stroke-width="0" opacity="0.55"/>
<circle cx="366.06" cy="282.47" r="1.70" fill="#4fa63f" stroke="none" stroke-width="0" opacity="0.55"/>
<circle cx="362.38" cy="274.22" r="1.70" fill="#4fa63f" stroke="none" stroke-width="0" opacity="0.55"/>
<circle cx="360.92" cy="286.77" r="1.70" fill="#4fa63f" stroke="none" stroke-width="0" opacity="0.55"/>
<circle cx="362.24" cy="271.46" r="1.70" fill="#4fa63f" stroke="none" stroke-width="0" opacity="0.55"/>
<circle cx="359.90" cy="257.00" r="1.70" fill="#4fa63f" stroke="none" stroke-width="0" opacity="0.55"/>
<circle cx="359.21" cy="263.32" r="1.70" fill="#4fa63f" stroke="none" stroke-width="0" opacity="0.55"/>
<circle cx="382.73" cy="277.83" r="1.70" fill="#a8c6ec" stroke="none" stroke-width="0" opacity="0.55"/>
<circle cx="380.16" cy="298.24" r="1.70" fill="#a8c6ec" stroke="none" stroke-width="0" opacity="0.55"/>
<circle cx="376.31" cy="293.40" r="1.70" fill="#a8c6ec" stroke="none" stroke-width="0" opacity="0.55"/>
<circle cx="379.71" cy="289.07" r="1.70" fill="#a8c6ec" stroke="none" stroke-width="0" opacity="0.55"/>
<circle cx="379.06" cy="264.52" r="1.70" fill="#a8c6ec" stroke="none" stroke-width="0" opacity="0.55"/>
<circle cx="376.66" cy="273.95" r="1.70" fill="#a8c6ec" stroke="none" stroke-width="0" opacity="0.55"/>
<circle cx="376.31" cy="275.60" r="1.70" fill="#a8c6ec" stroke="none" stroke-width="0" opacity="0.55"/>
<circle cx="381.75" cy="294.15" r="1.70" fill="#a8c6ec" stroke="none" stroke-width="0" opacity="0.55"/>
<circle cx="383.51" cy="285.28" r="1.70" fill="#a8c6ec" stroke="none" stroke-width="0" opacity="0.55"/>
<circle cx="383.82" cy="292.90" r="1.70" fill="#a8c6ec" stroke="none" stroke-width="0" opacity="0.55"/>
<circle cx="381.59" cy="276.33" r="1.70" fill="#a8c6ec" stroke="none" stroke-width="0" opacity="0.55"/>
<circle cx="378.18" cy="284.42" r="1.70" fill="#a8c6ec" stroke="none" stroke-width="0" opacity="0.55"/>
<circle cx="381.97" cy="260.96" r="1.70" fill="#a8c6ec" stroke="none" stroke-width="0" opacity="0.55"/>
<circle cx="378.58" cy="286.49" r="1.70" fill="#a8c6ec" stroke="none" stroke-width="0" opacity="0.55"/>
<circle cx="378.22" cy="284.50" r="1.70" fill="#a8c6ec" stroke="none" stroke-width="0" opacity="0.55"/>
<circle cx="379.12" cy="288.80" r="1.70" fill="#a8c6ec" stroke="none" stroke-width="0" opacity="0.55"/>
<circle cx="377.34" cy="267.14" r="1.70" fill="#a8c6ec" stroke="none" stroke-width="0" opacity="0.55"/>
<circle cx="377.12" cy="284.72" r="1.70" fill="#a8c6ec" stroke="none" stroke-width="0" opacity="0.55"/>
<circle cx="385.17" cy="284.58" r="1.70" fill="#a8c6ec" stroke="none" stroke-width="0" opacity="0.55"/>
<circle cx="376.88" cy="297.49" r="1.70" fill="#a8c6ec" stroke="none" stroke-width="0" opacity="0.55"/>
<circle cx="385.03" cy="273.80" r="1.70" fill="#a8c6ec" stroke="none" stroke-width="0" opacity="0.55"/>
<circle cx="382.46" cy="289.14" r="1.70" fill="#a8c6ec" stroke="none" stroke-width="0" opacity="0.55"/>
<circle cx="382.93" cy="272.62" r="1.70" fill="#a8c6ec" stroke="none" stroke-width="0" opacity="0.55"/>
<circle cx="377.12" cy="274.31" r="1.70" fill="#a8c6ec" stroke="none" stroke-width="0" opacity="0.55"/>
<circle cx="382.36" cy="287.64" r="1.70" fill="#a8c6ec" stroke="none" stroke-width="0" opacity="0.55"/>
<circle cx="377.94" cy="272.15" r="1.70" fill="#a8c6ec" stroke="none" stroke-width="0" opacity="0.55"/>
<circle cx="380.77" cy="286.35" r="1.70" fill="#a8c6ec" stroke="none" stroke-width="0" opacity="0.55"/>
<circle cx="380.27" cy="278.88" r="1.70" fill="#a8c6ec" stroke="none" stroke-width="0" opacity="0.55"/>
<circle cx="384.40" cy="274.86" r="1.70" fill="#a8c6ec" stroke="none" stroke-width="0" opacity="0.55"/>
<circle cx="377.02" cy="297.43" r="1.70" fill="#a8c6ec" stroke="none" stroke-width="0" opacity="0.55"/>
<circle cx="376.17" cy="278.85" r="1.70" fill="#a8c6ec" stroke="none" stroke-width="0" opacity="0.55"/>
<circle cx="381.47" cy="297.35" r="1.70" fill="#a8c6ec" stroke="none" stroke-width="0" opacity="0.55"/>
<circle cx="380.93" cy="299.72" r="1.70" fill="#a8c6ec" stroke="none" stroke-width="0" opacity="0.55"/>
<circle cx="382.07" cy="264.30" r="1.70" fill="#a8c6ec" stroke="none" stroke-width="0" opacity="0.55"/>
<circle cx="376.89" cy="269.42" r="1.70" fill="#a8c6ec" stroke="none" stroke-width="0" opacity="0.55"/>
<circle cx="379.51" cy="293.36" r="1.70" fill="#a8c6ec" stroke="none" stroke-width="0" opacity="0.55"/>
<circle cx="382.66" cy="298.82" r="1.70" fill="#a8c6ec" stroke="none" stroke-width="0" opacity="0.55"/>
<circle cx="381.55" cy="298.60" r="1.70" fill="#a8c6ec" stroke="none" stroke-width="0" opacity="0.55"/>
<circle cx="379.01" cy="284.11" r="1.70" fill="#a8c6ec" stroke="none" stroke-width="0" opacity="0.55"/>
<circle cx="376.18" cy="287.95" r="1.70" fill="#a8c6ec" stroke="none" stroke-width="0" opacity="0.55"/>
<circle cx="376.51" cy="279.18" r="1.70" fill="#a8c6ec" stroke="none" stroke-width="0" opacity="0.55"/>
<circle cx="384.31" cy="265.58" r="1.70" fill="#a8c6ec" stroke="none" stroke-width="0" opacity="0.55"/>
<circle cx="378.62" cy="276.47" r="1.70" fill="#a8c6ec" stroke="none" stroke-width="0" opacity="0.55"/>
<circle cx="376.75" cy="263.40" r="1.70" fill="#a8c6ec" stroke="none" stroke-width="0" opacity="0.55"/>
<circle cx="378.78" cy="294.23" r="1.70" fill="#a8c6ec" stroke="none" stroke-width="0" opacity="0.55"/>
<circle cx="378.04" cy="281.98" r="1.70" fill="#a8c6ec" stroke="none" stroke-width="0" opacity="0.55"/>
<circle cx="381.10" cy="271.78" r="1.70" fill="#a8c6ec" stroke="none" stroke-width="0" opacity="0.55"/>
<circle cx="376.55" cy="275.87" r="1.70" fill="#a8c6ec" stroke="none" stroke-width="0" opacity="0.55"/>
<circle cx="381.07" cy="277.46" r="1.70" fill="#a8c6ec" stroke="none" stroke-width="0" opacity="0.55"/>
<circle cx="382.05" cy="287.09" r="1.70" fill="#a8c6ec" stroke="none" stroke-width="0" opacity="0.55"/>
<circle cx="381.03" cy="262.27" r="1.70" fill="#a8c6ec" stroke="none" stroke-width="0" opacity="0.55"/>
<circle cx="381.59" cy="276.04" r="1.70" fill="#a8c6ec" stroke="none" stroke-width="0" opacity="0.55"/>
<circle cx="378.32" cy="294.64" r="1.70" fill="#a8c6ec" stroke="none" stroke-width="0" opacity="0.55"/>
<circle cx="379.70" cy="280.64" r="1.70" fill="#a8c6ec" stroke="none" stroke-width="0" opacity="0.55"/>
<circle cx="382.98" cy="262.92" r="1.70" fill="#a8c6ec" stroke="none" stroke-width="0" opacity="0.55"/>
<circle cx="378.72" cy="264.41" r="1.70" fill="#a8c6ec" stroke="none" stroke-width="0" opacity="0.55"/>
<circle cx="383.70" cy="288.98" r="1.70" fill="#a8c6ec" stroke="none" stroke-width="0" opacity="0.55"/>
<circle cx="377.85" cy="278.91" r="1.70" fill="#a8c6ec" stroke="none" stroke-width="0" opacity="0.55"/>
<circle cx="380.50" cy="264.22" r="1.70" fill="#a8c6ec" stroke="none" stroke-width="0" opacity="0.55"/>
<circle cx="384.35" cy="291.51" r="1.70" fill="#a8c6ec" stroke="none" stroke-width="0" opacity="0.55"/>
<circle cx="382.20" cy="281.48" r="1.70" fill="#a8c6ec" stroke="none" stroke-width="0" opacity="0.55"/>
<circle cx="378.64" cy="292.90" r="1.70" fill="#a8c6ec" stroke="none" stroke-width="0" opacity="0.55"/>
<circle cx="379.47" cy="293.40" r="1.70" fill="#a8c6ec" stroke="none" stroke-width="0" opacity="0.55"/>
<circle cx="378.69" cy="276.43" r="1.70" fill="#a8c6ec" stroke="none" stroke-width="0" opacity="0.55"/>
<circle cx="383.01" cy="297.41" r="1.70" fill="#a8c6ec" stroke="none" stroke-width="0" opacity="0.55"/>
<circle cx="379.46" cy="268.83" r="1.70" fill="#a8c6ec" stroke="none" stroke-width="0" opacity="0.55"/>
<circle cx="383.80" cy="263.61" r="1.70" fill="#a8c6ec" stroke="none" stroke-width="0" opacity="0.55"/>
<circle cx="382.50" cy="288.52" r="1.70" fill="#a8c6ec" stroke="none" stroke-width="0" opacity="0.55"/>
<circle cx="383.74" cy="267.12" r="1.70" fill="#a8c6ec" stroke="none" stroke-width="0" opacity="0.55"/>
<circle cx="380.98" cy="256.75" r="1.70" fill="#a8c6ec" stroke="none" stroke-width="0" opacity="0.55"/>
<circle cx="378.69" cy="277.92" r="1.70" fill="#a8c6ec" stroke="none" stroke-width="0" opacity="0.55"/>
<circle cx="382.42" cy="286.44" r="1.70" fill="#a8c6ec" stroke="none" stroke-width="0" opacity="0.55"/>
<circle cx="380.11" cy="293.05" r="1.70" fill="#a8c6ec" stroke="none" stroke-width="0" opacity="0.55"/>
<circle cx="376.57" cy="291.19" r="1.70" fill="#a8c6ec" stroke="none" stroke-width="0" opacity="0.55"/>
<circle cx="380.24" cy="258.78" r="1.70" fill="#a8c6ec" stroke="none" stroke-width="0" opacity="0.55"/>
<circle cx="377.82" cy="296.74" r="1.70" fill="#a8c6ec" stroke="none" stroke-width="0" opacity="0.55"/>
<circle cx="376.77" cy="285.22" r="1.70" fill="#a8c6ec" stroke="none" stroke-width="0" opacity="0.55"/>
<circle cx="378.54" cy="258.56" r="1.70" fill="#a8c6ec" stroke="none" stroke-width="0" opacity="0.55"/>
<circle cx="384.89" cy="285.77" r="1.70" fill="#a8c6ec" stroke="none" stroke-width="0" opacity="0.55"/>
<circle cx="382.26" cy="291.39" r="1.70" fill="#a8c6ec" stroke="none" stroke-width="0" opacity="0.55"/>
<circle cx="380.09" cy="292.30" r="1.70" fill="#a8c6ec" stroke="none" stroke-width="0" opacity="0.55"/>
<circle cx="381.46" cy="292.21" r="1.70" fill="#a8c6ec" stroke="none" stroke-width="0" opacity="0.55"/>
<circle cx="379.66" cy="272.50" r="1.70" fill="#a8c6ec" stroke="none" stroke-width="0" opacity="0.55"/>
<circle cx="381.28" cy="275.49" r="1.70" fill="#a8c6ec" stroke="none" stroke-width="0" opacity="0.55"/>
<circle cx="378.50" cy="274.10" r="1.70" fill="#a8c6ec" stroke="none" stroke-width="0" opacity="0.55"/>
<circle cx="383.97" cy="270.88" r="1.70" fill="#a8c6ec" stroke="none" stroke-width="0" opacity="0.55"/>
<circle cx="383.40" cy="290.62" r="1.70" fill="#a8c6ec" stroke="none" stroke-width="0" opacity="0.55"/>
<circle cx="380.19" cy="272.59" r="1.70" fill="#a8c6ec" stroke="none" stroke-width="0" opacity="0.55"/>
<circle cx="381.22" cy="280.56" r="1.70" fill="#a8c6ec" stroke="none" stroke-width="0" opacity="0.55"/>
<circle cx="379.53" cy="300.02" r="1.70" fill="#a8c6ec" stroke="none" stroke-width="0" opacity="0.55"/>
<circle cx="383.19" cy="283.50" r="1.70" fill="#a8c6ec" stroke="none" stroke-width="0" opacity="0.55"/>
<circle cx="383.78" cy="260.29" r="1.70" fill="#a8c6ec" stroke="none" stroke-width="0" opacity="0.55"/>
<circle cx="384.62" cy="270.56" r="1.70" fill="#a8c6ec" stroke="none" stroke-width="0" opacity="0.55"/>
<circle cx="377.09" cy="285.94" r="1.70" fill="#a8c6ec" stroke="none" stroke-width="0" opacity="0.55"/>
<circle cx="384.45" cy="296.94" r="1.70" fill="#a8c6ec" stroke="none" stroke-width="0" opacity="0.55"/>
<circle cx="378.11" cy="284.48" r="1.70" fill="#a8c6ec" stroke="none" stroke-width="0" opacity="0.55"/>
<circle cx="377.12" cy="271.67" r="1.70" fill="#a8c6ec" stroke="none" stroke-width="0" opacity="0.55"/>
<circle cx="379.90" cy="294.03" r="1.70" fill="#a8c6ec" stroke="none" stroke-width="0" opacity="0.55"/>
<circle cx="382.05" cy="270.90" r="1.70" fill="#a8c6ec" stroke="none" stroke-width="0" opacity="0.55"/>
<circle cx="377.16" cy="279.57" r="1.70" fill="#a8c6ec" stroke="none" stroke-width="0" opacity="0.55"/>
<circle cx="382.02" cy="275.29" r="1.70" fill="#a8c6ec" stroke="none" stroke-width="0" opacity="0.55"/>
<circle cx="385.00" cy="300.40" r="1.70" fill="#a8c6ec" stroke="none" stroke-width="0" opacity="0.55"/>
<circle cx="383.27" cy="270.50" r="1.70" fill="#a8c6ec" stroke="none" stroke-width="0" opacity="0.55"/>
<circle cx="383.71" cy="267.27" r="1.70" fill="#a8c6ec" stroke="none" stroke-width="0" opacity="0.55"/>
<circle cx="377.56" cy="282.21" r="1.70" fill="#a8c6ec" stroke="none" stroke-width="0" opacity="0.55"/>
<circle cx="379.20" cy="291.26" r="1.70" fill="#a8c6ec" stroke="none" stroke-width="0" opacity="0.55"/>
<circle cx="378.37" cy="282.05" r="1.70" fill="#a8c6ec" stroke="none" stroke-width="0" opacity="0.55"/>
<circle cx="379.50" cy="286.40" r="1.70" fill="#a8c6ec" stroke="none" stroke-width="0" opacity="0.55"/>
<circle cx="384.24" cy="270.81" r="1.70" fill="#a8c6ec" stroke="none" stroke-width="0" opacity="0.55"/>
<circle cx="385.27" cy="269.18" r="1.70" fill="#a8c6ec" stroke="none" stroke-width="0" opacity="0.55"/>
<circle cx="378.53" cy="271.46" r="1.70" fill="#a8c6ec" stroke="none" stroke-width="0" opacity="0.55"/>
<circle cx="381.27" cy="270.29" r="1.70" fill="#a8c6ec" stroke="none" stroke-width="0" opacity="0.55"/>
<circle cx="381.69" cy="271.56" r="1.70" fill="#a8c6ec" stroke="none" stroke-width="0" opacity="0.55"/>
<circle cx="385.04" cy="293.39" r="1.70" fill="#a8c6ec" stroke="none" stroke-width="0" opacity="0.55"/>
<circle cx="380.24" cy="288.37" r="1.70" fill="#a8c6ec" stroke="none" stroke-width="0" opacity="0.55"/>
<circle cx="377.18" cy="283.43" r="1.70" fill="#a8c6ec" stroke="none" stroke-width="0" opacity="0.55"/>
<circle cx="377.01" cy="262.90" r="1.70" fill="#a8c6ec" stroke="none" stroke-width="0" opacity="0.55"/>
<circle cx="377.44" cy="282.24" r="1.70" fill="#a8c6ec" stroke="none" stroke-width="0" opacity="0.55"/>
<circle cx="380.48" cy="291.14" r="1.70" fill="#a8c6ec" stroke="none" stroke-width="0" opacity="0.55"/>
<circle cx="376.95" cy="257.17" r="1.70" fill="#a8c6ec" stroke="none" stroke-width="0" opacity="0.55"/>
<circle cx="382.47" cy="273.28" r="1.70" fill="#a8c6ec" stroke="none" stroke-width="0" opacity="0.55"/>
<circle cx="377.88" cy="283.50" r="1.70" fill="#a8c6ec" stroke="none" stroke-width="0" opacity="0.55"/>
<circle cx="376.49" cy="283.07" r="1.70" fill="#a8c6ec" stroke="none" stroke-width="0" opacity="0.55"/>
<circle cx="382.73" cy="271.28" r="1.70" fill="#a8c6ec" stroke="none" stroke-width="0" opacity="0.55"/>
<circle cx="380.36" cy="290.51" r="1.70" fill="#a8c6ec" stroke="none" stroke-width="0" opacity="0.55"/>
<circle cx="383.05" cy="274.30" r="1.70" fill="#a8c6ec" stroke="none" stroke-width="0" opacity="0.55"/>
<circle cx="381.41" cy="286.00" r="1.70" fill="#a8c6ec" stroke="none" stroke-width="0" opacity="0.55"/>
<circle cx="379.61" cy="291.66" r="1.70" fill="#a8c6ec" stroke="none" stroke-width="0" opacity="0.55"/>
<circle cx="376.75" cy="272.22" r="1.70" fill="#a8c6ec" stroke="none" stroke-width="0" opacity="0.55"/>
<circle cx="383.95" cy="304.63" r="1.70" fill="#a8c6ec" stroke="none" stroke-width="0" opacity="0.55"/>
<circle cx="382.35" cy="262.33" r="1.70" fill="#a8c6ec" stroke="none" stroke-width="0" opacity="0.55"/>
<circle cx="378.51" cy="266.21" r="1.70" fill="#a8c6ec" stroke="none" stroke-width="0" opacity="0.55"/>
<circle cx="376.86" cy="265.33" r="1.70" fill="#a8c6ec" stroke="none" stroke-width="0" opacity="0.55"/>
<circle cx="381.89" cy="291.12" r="1.70" fill="#a8c6ec" stroke="none" stroke-width="0" opacity="0.55"/>
<circle cx="384.66" cy="290.67" r="1.70" fill="#a8c6ec" stroke="none" stroke-width="0" opacity="0.55"/>
<circle cx="382.94" cy="265.83" r="1.70" fill="#a8c6ec" stroke="none" stroke-width="0" opacity="0.55"/>
<circle cx="384.59" cy="263.21" r="1.70" fill="#a8c6ec" stroke="none" stroke-width="0" opacity="0.55"/>
<circle cx="385.24" cy="266.61" r="1.70" fill="#a8c6ec" stroke="none" stroke-width="0" opacity="0.55"/>
<circle cx="377.26" cy="274.74" r="1.70" fill="#a8c6ec" stroke="none" stroke-width="0" opacity="0.55"/>
<circle cx="377.80" cy="285.48" r="1.70" fill="#a8c6ec" stroke="none" stroke-width="0" opacity="0.55"/>
<circle cx="380.39" cy="290.63" r="1.70" fill="#a8c6ec" stroke="none" stroke-width="0" opacity="0.55"/>
<circle cx="377.13" cy="280.73" r="1.70" fill="#a8c6ec" stroke="none" stroke-width="0" opacity="0.55"/>
<circle cx="380.55" cy="274.78" r="1.70" fill="#a8c6ec" stroke="none" stroke-width="0" opacity="0.55"/>
<circle cx="383.61" cy="296.71" r="1.70" fill="#a8c6ec" stroke="none" stroke-width="0" opacity="0.55"/>
<circle cx="378.50" cy="270.99" r="1.70" fill="#a8c6ec" stroke="none" stroke-width="0" opacity="0.55"/>
<circle cx="383.62" cy="287.89" r="1.70" fill="#a8c6ec" stroke="none" stroke-width="0" opacity="0.55"/>
<circle cx="378.44" cy="290.73" r="1.70" fill="#a8c6ec" stroke="none" stroke-width="0" opacity="0.55"/>
<circle cx="383.61" cy="290.18" r="1.70" fill="#a8c6ec" stroke="none" stroke-width="0" opacity="0.55"/>
<circle cx="376.80" cy="283.53" r="1.70" fill="#a8c6ec" stroke="none" stroke-width="0" opacity="0.55"/>
<circle cx="377.20" cy="288.53" r="1.70" fill="#a8c6ec" stroke="none" stroke-width="0" opacity="0.55"/>
<circle cx="376.52" cy="274.66" r="1.70" fill="#a8c6ec" stroke="none" stroke-width="0" opacity="0.55"/>
<circle cx="381.43" cy="283.56" r="1.70" fill="#a8c6ec" stroke="none" stroke-width="0" opacity="0.55"/>
<circle cx="376.31" cy="272.43" r="1.70" fill="#a8c6ec" stroke="none" stroke-width="0" opacity="0.55"/>
<circle cx="382.49" cy="268.68" r="1.70" fill="#a8c6ec" stroke="none" stroke-width="0" opacity="0.55"/>
<circle cx="379.94" cy="289.35" r="1.70" fill="#a8c6ec" stroke="none" stroke-width="0" opacity="0.55"/>
<circle cx="384.42" cy="278.07" r="1.70" fill="#a8c6ec" stroke="none" stroke-width="0" opacity="0.55"/>
<circle cx="379.64" cy="290.05" r="1.70" fill="#a8c6ec" stroke="none" stroke-width="0" opacity="0.55"/>
<circle cx="383.77" cy="278.96" r="1.70" fill="#a8c6ec" stroke="none" stroke-width="0" opacity="0.55"/>
<circle cx="383.02" cy="272.95" r="1.70" fill="#a8c6ec" stroke="none" stroke-width="0" opacity="0.55"/>
<circle cx="379.54" cy="288.19" r="1.70" fill="#a8c6ec" stroke="none" stroke-width="0" opacity="0.55"/>
<circle cx="383.27" cy="283.44" r="1.70" fill="#a8c6ec" stroke="none" stroke-width="0" opacity="0.55"/>
<circle cx="381.62" cy="246.54" r="1.70" fill="#a8c6ec" stroke="none" stroke-width="0" opacity="0.55"/>
<circle cx="381.56" cy="286.66" r="1.70" fill="#a8c6ec" stroke="none" stroke-width="0" opacity="0.55"/>
<circle cx="380.02" cy="270.55" r="1.70" fill="#a8c6ec" stroke="none" stroke-width="0" opacity="0.55"/>
<circle cx="377.52" cy="277.27" r="1.70" fill="#a8c6ec" stroke="none" stroke-width="0" opacity="0.55"/>
<circle cx="380.91" cy="284.20" r="1.70" fill="#a8c6ec" stroke="none" stroke-width="0" opacity="0.55"/>
<circle cx="380.87" cy="303.12" r="1.70" fill="#a8c6ec" stroke="none" stroke-width="0" opacity="0.55"/>
<circle cx="380.08" cy="282.04" r="1.70" fill="#a8c6ec" stroke="none" stroke-width="0" opacity="0.55"/>
<circle cx="385.14" cy="285.26" r="1.70" fill="#a8c6ec" stroke="none" stroke-width="0" opacity="0.55"/>
<circle cx="377.68" cy="277.47" r="1.70" fill="#a8c6ec" stroke="none" stroke-width="0" opacity="0.55"/>
<circle cx="384.48" cy="282.26" r="1.70" fill="#a8c6ec" stroke="none" stroke-width="0" opacity="0.55"/>
<circle cx="381.24" cy="297.69" r="1.70" fill="#a8c6ec" stroke="none" stroke-width="0" opacity="0.55"/>
<circle cx="377.01" cy="276.32" r="1.70" fill="#a8c6ec" stroke="none" stroke-width="0" opacity="0.55"/>
<circle cx="381.28" cy="295.62" r="1.70" fill="#a8c6ec" stroke="none" stroke-width="0" opacity="0.55"/>
<circle cx="377.83" cy="273.08" r="1.70" fill="#a8c6ec" stroke="none" stroke-width="0" opacity="0.55"/>
<circle cx="380.66" cy="300.33" r="1.70" fill="#a8c6ec" stroke="none" stroke-width="0" opacity="0.55"/>
<circle cx="380.51" cy="278.37" r="1.70" fill="#a8c6ec" stroke="none" stroke-width="0" opacity="0.55"/>
<circle cx="383.21" cy="276.26" r="1.70" fill="#a8c6ec" stroke="none" stroke-width="0" opacity="0.55"/>
<circle cx="384.47" cy="254.65" r="1.70" fill="#a8c6ec" stroke="none" stroke-width="0" opacity="0.55"/>
<circle cx="376.76" cy="287.27" r="1.70" fill="#a8c6ec" stroke="none" stroke-width="0" opacity="0.55"/>
<circle cx="384.17" cy="271.93" r="1.70" fill="#a8c6ec" stroke="none" stroke-width="0" opacity="0.55"/>
<circle cx="384.72" cy="268.97" r="1.70" fill="#a8c6ec" stroke="none" stroke-width="0" opacity="0.55"/>
<circle cx="377.49" cy="259.71" r="1.70" fill="#a8c6ec" stroke="none" stroke-width="0" opacity="0.55"/>
<circle cx="376.85" cy="285.59" r="1.70" fill="#a8c6ec" stroke="none" stroke-width="0" opacity="0.55"/>
<circle cx="380.37" cy="284.79" r="1.70" fill="#a8c6ec" stroke="none" stroke-width="0" opacity="0.55"/>
<circle cx="376.39" cy="278.22" r="1.70" fill="#a8c6ec" stroke="none" stroke-width="0" opacity="0.55"/>
<circle cx="377.25" cy="285.64" r="1.70" fill="#a8c6ec" stroke="none" stroke-width="0" opacity="0.55"/>
<circle cx="380.80" cy="282.74" r="1.70" fill="#a8c6ec" stroke="none" stroke-width="0" opacity="0.55"/>
<circle cx="378.02" cy="284.44" r="1.70" fill="#a8c6ec" stroke="none" stroke-width="0" opacity="0.55"/>
<circle cx="381.62" cy="276.09" r="1.70" fill="#a8c6ec" stroke="none" stroke-width="0" opacity="0.55"/>
<circle cx="378.01" cy="275.54" r="1.70" fill="#a8c6ec" stroke="none" stroke-width="0" opacity="0.55"/>
<circle cx="382.23" cy="278.51" r="1.70" fill="#a8c6ec" stroke="none" stroke-width="0" opacity="0.55"/>
<circle cx="381.84" cy="275.35" r="1.70" fill="#a8c6ec" stroke="none" stroke-width="0" opacity="0.55"/>
<circle cx="376.80" cy="263.78" r="1.70" fill="#a8c6ec" stroke="none" stroke-width="0" opacity="0.55"/>
<circle cx="401.00" cy="322.02" r="1.70" fill="#8f2a1e" stroke="none" stroke-width="0" opacity="0.55"/>
<circle cx="403.19" cy="298.17" r="1.70" fill="#8f2a1e" stroke="none" stroke-width="0" opacity="0.55"/>
<circle cx="403.85" cy="309.51" r="1.70" fill="#8f2a1e" stroke="none" stroke-width="0" opacity="0.55"/>
<circle cx="395.09" cy="282.45" r="1.70" fill="#8f2a1e" stroke="none" stroke-width="0" opacity="0.55"/>
<circle cx="401.03" cy="317.26" r="1.70" fill="#8f2a1e" stroke="none" stroke-width="0" opacity="0.55"/>
<circle cx="397.64" cy="301.23" r="1.70" fill="#8f2a1e" stroke="none" stroke-width="0" opacity="0.55"/>
<circle cx="398.54" cy="321.61" r="1.70" fill="#8f2a1e" stroke="none" stroke-width="0" opacity="0.55"/>
<circle cx="398.93" cy="288.55" r="1.70" fill="#8f2a1e" stroke="none" stroke-width="0" opacity="0.55"/>
<circle cx="395.15" cy="307.23" r="1.70" fill="#8f2a1e" stroke="none" stroke-width="0" opacity="0.55"/>
<circle cx="400.49" cy="284.21" r="1.70" fill="#8f2a1e" stroke="none" stroke-width="0" opacity="0.55"/>
<circle cx="395.90" cy="281.82" r="1.70" fill="#8f2a1e" stroke="none" stroke-width="0" opacity="0.55"/>
<circle cx="402.57" cy="315.82" r="1.70" fill="#8f2a1e" stroke="none" stroke-width="0" opacity="0.55"/>
<circle cx="395.64" cy="317.86" r="1.70" fill="#8f2a1e" stroke="none" stroke-width="0" opacity="0.55"/>
<circle cx="400.43" cy="309.46" r="1.70" fill="#8f2a1e" stroke="none" stroke-width="0" opacity="0.55"/>
<circle cx="399.79" cy="309.54" r="1.70" fill="#8f2a1e" stroke="none" stroke-width="0" opacity="0.55"/>
<circle cx="395.00" cy="299.82" r="1.70" fill="#8f2a1e" stroke="none" stroke-width="0" opacity="0.55"/>
<circle cx="395.75" cy="322.52" r="1.70" fill="#8f2a1e" stroke="none" stroke-width="0" opacity="0.55"/>
<circle cx="399.26" cy="314.61" r="1.70" fill="#8f2a1e" stroke="none" stroke-width="0" opacity="0.55"/>
<circle cx="398.29" cy="316.27" r="1.70" fill="#8f2a1e" stroke="none" stroke-width="0" opacity="0.55"/>
<circle cx="396.13" cy="311.98" r="1.70" fill="#8f2a1e" stroke="none" stroke-width="0" opacity="0.55"/>
<circle cx="395.63" cy="314.98" r="1.70" fill="#8f2a1e" stroke="none" stroke-width="0" opacity="0.55"/>
<circle cx="396.83" cy="315.76" r="1.70" fill="#8f2a1e" stroke="none" stroke-width="0" opacity="0.55"/>
<circle cx="402.19" cy="314.16" r="1.70" fill="#8f2a1e" stroke="none" stroke-width="0" opacity="0.55"/>
<circle cx="395.96" cy="315.54" r="1.70" fill="#8f2a1e" stroke="none" stroke-width="0" opacity="0.55"/>
<circle cx="401.66" cy="296.89" r="1.70" fill="#8f2a1e" stroke="none" stroke-width="0" opacity="0.55"/>
<circle cx="395.75" cy="312.98" r="1.70" fill="#8f2a1e" stroke="none" stroke-width="0" opacity="0.55"/>
<circle cx="402.21" cy="313.84" r="1.70" fill="#8f2a1e" stroke="none" stroke-width="0" opacity="0.55"/>
<circle cx="401.79" cy="298.94" r="1.70" fill="#8f2a1e" stroke="none" stroke-width="0" opacity="0.55"/>
<circle cx="402.81" cy="314.06" r="1.70" fill="#8f2a1e" stroke="none" stroke-width="0" opacity="0.55"/>
<circle cx="398.29" cy="288.65" r="1.70" fill="#8f2a1e" stroke="none" stroke-width="0" opacity="0.55"/>
<circle cx="403.67" cy="320.33" r="1.70" fill="#8f2a1e" stroke="none" stroke-width="0" opacity="0.55"/>
<circle cx="398.51" cy="295.54" r="1.70" fill="#8f2a1e" stroke="none" stroke-width="0" opacity="0.55"/>
<circle cx="400.50" cy="316.46" r="1.70" fill="#8f2a1e" stroke="none" stroke-width="0" opacity="0.55"/>
<circle cx="402.32" cy="295.56" r="1.70" fill="#8f2a1e" stroke="none" stroke-width="0" opacity="0.55"/>
<circle cx="396.09" cy="291.42" r="1.70" fill="#8f2a1e" stroke="none" stroke-width="0" opacity="0.55"/>
<circle cx="395.12" cy="304.33" r="1.70" fill="#8f2a1e" stroke="none" stroke-width="0" opacity="0.55"/>
<circle cx="401.09" cy="306.30" r="1.70" fill="#8f2a1e" stroke="none" stroke-width="0" opacity="0.55"/>
<circle cx="396.79" cy="289.77" r="1.70" fill="#8f2a1e" stroke="none" stroke-width="0" opacity="0.55"/>
<circle cx="396.72" cy="313.39" r="1.70" fill="#8f2a1e" stroke="none" stroke-width="0" opacity="0.55"/>
<circle cx="399.24" cy="290.05" r="1.70" fill="#8f2a1e" stroke="none" stroke-width="0" opacity="0.55"/>
<circle cx="396.28" cy="318.68" r="1.70" fill="#8f2a1e" stroke="none" stroke-width="0" opacity="0.55"/>
<circle cx="397.19" cy="284.83" r="1.70" fill="#8f2a1e" stroke="none" stroke-width="0" opacity="0.55"/>
<circle cx="396.56" cy="319.61" r="1.70" fill="#8f2a1e" stroke="none" stroke-width="0" opacity="0.55"/>
<circle cx="395.54" cy="318.72" r="1.70" fill="#8f2a1e" stroke="none" stroke-width="0" opacity="0.55"/>
<circle cx="402.20" cy="289.22" r="1.70" fill="#8f2a1e" stroke="none" stroke-width="0" opacity="0.55"/>
<circle cx="402.46" cy="293.90" r="1.70" fill="#8f2a1e" stroke="none" stroke-width="0" opacity="0.55"/>
<circle cx="401.43" cy="315.98" r="1.70" fill="#8f2a1e" stroke="none" stroke-width="0" opacity="0.55"/>
<circle cx="398.74" cy="315.59" r="1.70" fill="#8f2a1e" stroke="none" stroke-width="0" opacity="0.55"/>
<circle cx="403.19" cy="310.56" r="1.70" fill="#8f2a1e" stroke="none" stroke-width="0" opacity="0.55"/>
<circle cx="399.70" cy="288.34" r="1.70" fill="#8f2a1e" stroke="none" stroke-width="0" opacity="0.55"/>
<circle cx="399.80" cy="319.26" r="1.70" fill="#8f2a1e" stroke="none" stroke-width="0" opacity="0.55"/>
<circle cx="394.90" cy="312.63" r="1.70" fill="#8f2a1e" stroke="none" stroke-width="0" opacity="0.55"/>
<circle cx="397.97" cy="315.23" r="1.70" fill="#8f2a1e" stroke="none" stroke-width="0" opacity="0.55"/>
<circle cx="396.69" cy="316.18" r="1.70" fill="#8f2a1e" stroke="none" stroke-width="0" opacity="0.55"/>
<circle cx="400.75" cy="307.55" r="1.70" fill="#8f2a1e" stroke="none" stroke-width="0" opacity="0.55"/>
<circle cx="403.56" cy="317.85" r="1.70" fill="#8f2a1e" stroke="none" stroke-width="0" opacity="0.55"/>
<circle cx="400.47" cy="312.33" r="1.70" fill="#8f2a1e" stroke="none" stroke-width="0" opacity="0.55"/>
<circle cx="397.64" cy="317.45" r="1.70" fill="#8f2a1e" stroke="none" stroke-width="0" opacity="0.55"/>
<circle cx="402.36" cy="321.98" r="1.70" fill="#8f2a1e" stroke="none" stroke-width="0" opacity="0.55"/>
<circle cx="395.44" cy="310.94" r="1.70" fill="#8f2a1e" stroke="none" stroke-width="0" opacity="0.55"/>
<circle cx="402.11" cy="320.63" r="1.70" fill="#8f2a1e" stroke="none" stroke-width="0" opacity="0.55"/>
<circle cx="395.10" cy="304.69" r="1.70" fill="#8f2a1e" stroke="none" stroke-width="0" opacity="0.55"/>
<circle cx="403.57" cy="311.34" r="1.70" fill="#8f2a1e" stroke="none" stroke-width="0" opacity="0.55"/>
<circle cx="401.64" cy="302.52" r="1.70" fill="#8f2a1e" stroke="none" stroke-width="0" opacity="0.55"/>
<circle cx="403.77" cy="314.08" r="1.70" fill="#8f2a1e" stroke="none" stroke-width="0" opacity="0.55"/>
<circle cx="399.14" cy="288.72" r="1.70" fill="#8f2a1e" stroke="none" stroke-width="0" opacity="0.55"/>
<circle cx="400.75" cy="311.94" r="1.70" fill="#8f2a1e" stroke="none" stroke-width="0" opacity="0.55"/>
<circle cx="398.37" cy="301.50" r="1.70" fill="#8f2a1e" stroke="none" stroke-width="0" opacity="0.55"/>
<circle cx="401.61" cy="314.16" r="1.70" fill="#8f2a1e" stroke="none" stroke-width="0" opacity="0.55"/>
<circle cx="399.65" cy="306.28" r="1.70" fill="#8f2a1e" stroke="none" stroke-width="0" opacity="0.55"/>
<circle cx="398.90" cy="313.54" r="1.70" fill="#8f2a1e" stroke="none" stroke-width="0" opacity="0.55"/>
<circle cx="402.09" cy="295.89" r="1.70" fill="#8f2a1e" stroke="none" stroke-width="0" opacity="0.55"/>
<circle cx="403.35" cy="286.37" r="1.70" fill="#8f2a1e" stroke="none" stroke-width="0" opacity="0.55"/>
<circle cx="397.26" cy="307.75" r="1.70" fill="#8f2a1e" stroke="none" stroke-width="0" opacity="0.55"/>
<circle cx="397.07" cy="300.40" r="1.70" fill="#8f2a1e" stroke="none" stroke-width="0" opacity="0.55"/>
<circle cx="403.85" cy="311.45" r="1.70" fill="#8f2a1e" stroke="none" stroke-width="0" opacity="0.55"/>
<circle cx="397.80" cy="315.57" r="1.70" fill="#8f2a1e" stroke="none" stroke-width="0" opacity="0.55"/>
<circle cx="398.08" cy="316.46" r="1.70" fill="#8f2a1e" stroke="none" stroke-width="0" opacity="0.55"/>
<circle cx="399.73" cy="312.98" r="1.70" fill="#8f2a1e" stroke="none" stroke-width="0" opacity="0.55"/>
<circle cx="397.37" cy="317.92" r="1.70" fill="#8f2a1e" stroke="none" stroke-width="0" opacity="0.55"/>
<circle cx="398.90" cy="312.67" r="1.70" fill="#8f2a1e" stroke="none" stroke-width="0" opacity="0.55"/>
<circle cx="397.23" cy="309.68" r="1.70" fill="#8f2a1e" stroke="none" stroke-width="0" opacity="0.55"/>
<circle cx="398.77" cy="317.28" r="1.70" fill="#8f2a1e" stroke="none" stroke-width="0" opacity="0.55"/>
<circle cx="402.04" cy="296.46" r="1.70" fill="#8f2a1e" stroke="none" stroke-width="0" opacity="0.55"/>
<circle cx="401.72" cy="311.76" r="1.70" fill="#8f2a1e" stroke="none" stroke-width="0" opacity="0.55"/>
<circle cx="403.25" cy="317.50" r="1.70" fill="#8f2a1e" stroke="none" stroke-width="0" opacity="0.55"/>
<circle cx="403.29" cy="314.31" r="1.70" fill="#8f2a1e" stroke="none" stroke-width="0" opacity="0.55"/>
<circle cx="397.16" cy="312.62" r="1.70" fill="#8f2a1e" stroke="none" stroke-width="0" opacity="0.55"/>
<circle cx="401.86" cy="310.34" r="1.70" fill="#8f2a1e" stroke="none" stroke-width="0" opacity="0.55"/>
<circle cx="401.07" cy="321.54" r="1.70" fill="#8f2a1e" stroke="none" stroke-width="0" opacity="0.55"/>
<circle cx="400.46" cy="305.49" r="1.70" fill="#8f2a1e" stroke="none" stroke-width="0" opacity="0.55"/>
<circle cx="399.19" cy="311.95" r="1.70" fill="#8f2a1e" stroke="none" stroke-width="0" opacity="0.55"/>
<circle cx="403.17" cy="305.13" r="1.70" fill="#8f2a1e" stroke="none" stroke-width="0" opacity="0.55"/>
<circle cx="399.88" cy="316.39" r="1.70" fill="#8f2a1e" stroke="none" stroke-width="0" opacity="0.55"/>
<circle cx="403.33" cy="322.62" r="1.70" fill="#8f2a1e" stroke="none" stroke-width="0" opacity="0.55"/>
<circle cx="395.67" cy="316.65" r="1.70" fill="#8f2a1e" stroke="none" stroke-width="0" opacity="0.55"/>
<circle cx="398.00" cy="317.25" r="1.70" fill="#8f2a1e" stroke="none" stroke-width="0" opacity="0.55"/>
<circle cx="395.92" cy="283.61" r="1.70" fill="#8f2a1e" stroke="none" stroke-width="0" opacity="0.55"/>
<circle cx="401.33" cy="292.93" r="1.70" fill="#8f2a1e" stroke="none" stroke-width="0" opacity="0.55"/>
<circle cx="398.92" cy="301.44" r="1.70" fill="#8f2a1e" stroke="none" stroke-width="0" opacity="0.55"/>
<circle cx="397.65" cy="314.15" r="1.70" fill="#8f2a1e" stroke="none" stroke-width="0" opacity="0.55"/>
<circle cx="397.80" cy="315.59" r="1.70" fill="#8f2a1e" stroke="none" stroke-width="0" opacity="0.55"/>
<circle cx="399.16" cy="321.15" r="1.70" fill="#8f2a1e" stroke="none" stroke-width="0" opacity="0.55"/>
<circle cx="397.52" cy="310.13" r="1.70" fill="#8f2a1e" stroke="none" stroke-width="0" opacity="0.55"/>
<circle cx="399.24" cy="300.59" r="1.70" fill="#8f2a1e" stroke="none" stroke-width="0" opacity="0.55"/>
<circle cx="400.43" cy="312.27" r="1.70" fill="#8f2a1e" stroke="none" stroke-width="0" opacity="0.55"/>
<circle cx="394.89" cy="301.52" r="1.70" fill="#8f2a1e" stroke="none" stroke-width="0" opacity="0.55"/>
<circle cx="396.72" cy="302.04" r="1.70" fill="#8f2a1e" stroke="none" stroke-width="0" opacity="0.55"/>
<circle cx="399.53" cy="281.06" r="1.70" fill="#8f2a1e" stroke="none" stroke-width="0" opacity="0.55"/>
<circle cx="400.79" cy="316.06" r="1.70" fill="#8f2a1e" stroke="none" stroke-width="0" opacity="0.55"/>
<circle cx="400.15" cy="307.96" r="1.70" fill="#8f2a1e" stroke="none" stroke-width="0" opacity="0.55"/>
<circle cx="401.44" cy="307.00" r="1.70" fill="#8f2a1e" stroke="none" stroke-width="0" opacity="0.55"/>
<circle cx="398.69" cy="304.35" r="1.70" fill="#8f2a1e" stroke="none" stroke-width="0" opacity="0.55"/>
<circle cx="403.09" cy="300.99" r="1.70" fill="#8f2a1e" stroke="none" stroke-width="0" opacity="0.55"/>
<circle cx="401.76" cy="304.68" r="1.70" fill="#8f2a1e" stroke="none" stroke-width="0" opacity="0.55"/>
<circle cx="399.34" cy="307.06" r="1.70" fill="#8f2a1e" stroke="none" stroke-width="0" opacity="0.55"/>
<circle cx="399.95" cy="312.99" r="1.70" fill="#8f2a1e" stroke="none" stroke-width="0" opacity="0.55"/>
<circle cx="402.10" cy="312.13" r="1.70" fill="#8f2a1e" stroke="none" stroke-width="0" opacity="0.55"/>
<circle cx="397.28" cy="302.17" r="1.70" fill="#8f2a1e" stroke="none" stroke-width="0" opacity="0.55"/>
<circle cx="397.30" cy="305.16" r="1.70" fill="#8f2a1e" stroke="none" stroke-width="0" opacity="0.55"/>
<circle cx="399.29" cy="303.86" r="1.70" fill="#8f2a1e" stroke="none" stroke-width="0" opacity="0.55"/>
<circle cx="399.35" cy="286.56" r="1.70" fill="#8f2a1e" stroke="none" stroke-width="0" opacity="0.55"/>
<circle cx="395.18" cy="311.58" r="1.70" fill="#8f2a1e" stroke="none" stroke-width="0" opacity="0.55"/>
<circle cx="399.33" cy="306.96" r="1.70" fill="#8f2a1e" stroke="none" stroke-width="0" opacity="0.55"/>
<circle cx="403.15" cy="295.26" r="1.70" fill="#8f2a1e" stroke="none" stroke-width="0" opacity="0.55"/>
<circle cx="402.66" cy="314.68" r="1.70" fill="#8f2a1e" stroke="none" stroke-width="0" opacity="0.55"/>
<circle cx="399.67" cy="314.98" r="1.70" fill="#8f2a1e" stroke="none" stroke-width="0" opacity="0.55"/>
<circle cx="401.14" cy="315.58" r="1.70" fill="#8f2a1e" stroke="none" stroke-width="0" opacity="0.55"/>
<circle cx="398.12" cy="306.17" r="1.70" fill="#8f2a1e" stroke="none" stroke-width="0" opacity="0.55"/>
<circle cx="395.36" cy="315.52" r="1.70" fill="#8f2a1e" stroke="none" stroke-width="0" opacity="0.55"/>
<circle cx="402.27" cy="304.68" r="1.70" fill="#8f2a1e" stroke="none" stroke-width="0" opacity="0.55"/>
<circle cx="399.66" cy="295.73" r="1.70" fill="#8f2a1e" stroke="none" stroke-width="0" opacity="0.55"/>
<circle cx="400.32" cy="316.11" r="1.70" fill="#8f2a1e" stroke="none" stroke-width="0" opacity="0.55"/>
<circle cx="400.34" cy="301.35" r="1.70" fill="#8f2a1e" stroke="none" stroke-width="0" opacity="0.55"/>
<circle cx="403.67" cy="304.93" r="1.70" fill="#8f2a1e" stroke="none" stroke-width="0" opacity="0.55"/>
<circle cx="397.48" cy="313.87" r="1.70" fill="#8f2a1e" stroke="none" stroke-width="0" opacity="0.55"/>
<circle cx="399.95" cy="316.29" r="1.70" fill="#8f2a1e" stroke="none" stroke-width="0" opacity="0.55"/>
<circle cx="401.46" cy="314.12" r="1.70" fill="#8f2a1e" stroke="none" stroke-width="0" opacity="0.55"/>
<circle cx="401.02" cy="316.95" r="1.70" fill="#8f2a1e" stroke="none" stroke-width="0" opacity="0.55"/>
<circle cx="403.08" cy="313.98" r="1.70" fill="#8f2a1e" stroke="none" stroke-width="0" opacity="0.55"/>
<circle cx="395.08" cy="312.36" r="1.70" fill="#8f2a1e" stroke="none" stroke-width="0" opacity="0.55"/>
<circle cx="402.03" cy="304.60" r="1.70" fill="#8f2a1e" stroke="none" stroke-width="0" opacity="0.55"/>
<circle cx="395.05" cy="301.97" r="1.70" fill="#8f2a1e" stroke="none" stroke-width="0" opacity="0.55"/>
<circle cx="397.62" cy="317.49" r="1.70" fill="#8f2a1e" stroke="none" stroke-width="0" opacity="0.55"/>
<circle cx="397.94" cy="304.92" r="1.70" fill="#8f2a1e" stroke="none" stroke-width="0" opacity="0.55"/>
<circle cx="402.07" cy="303.64" r="1.70" fill="#8f2a1e" stroke="none" stroke-width="0" opacity="0.55"/>
<circle cx="402.88" cy="320.21" r="1.70" fill="#8f2a1e" stroke="none" stroke-width="0" opacity="0.55"/>
<circle cx="399.80" cy="302.82" r="1.70" fill="#8f2a1e" stroke="none" stroke-width="0" opacity="0.55"/>
<circle cx="399.81" cy="314.25" r="1.70" fill="#8f2a1e" stroke="none" stroke-width="0" opacity="0.55"/>
<circle cx="400.82" cy="313.88" r="1.70" fill="#8f2a1e" stroke="none" stroke-width="0" opacity="0.55"/>
<circle cx="394.94" cy="289.90" r="1.70" fill="#8f2a1e" stroke="none" stroke-width="0" opacity="0.55"/>
<circle cx="398.12" cy="317.63" r="1.70" fill="#8f2a1e" stroke="none" stroke-width="0" opacity="0.55"/>
<circle cx="398.86" cy="311.97" r="1.70" fill="#8f2a1e" stroke="none" stroke-width="0" opacity="0.55"/>
<circle cx="395.15" cy="314.85" r="1.70" fill="#8f2a1e" stroke="none" stroke-width="0" opacity="0.55"/>
<circle cx="398.00" cy="262.50" r="1.35" fill="#8f2a1e" stroke="none" stroke-width="0" opacity="0.8"/>
<circle cx="397.50" cy="280.70" r="1.35" fill="#8f2a1e" stroke="none" stroke-width="0" opacity="0.8"/>
<line x1="362.45" y1="249.80" x2="362.45" y2="308.00" stroke="#1c3d12" stroke-width="0.6" />
<rect x="358.00" y="271.00" width="8.90" height="15.50" fill="#3f9a2f" stroke="#222" stroke-width="0.6" rx="0" />
<line x1="358.00" y1="278.30" x2="366.90" y2="278.30" stroke="#222" stroke-width="0.9" />
<line x1="380.95" y1="252.00" x2="380.95" y2="310.00" stroke="#2b3f5e" stroke-width="0.6" />
<rect x="376.50" y="273.40" width="8.90" height="13.10" fill="#a8c6ec" stroke="#222" stroke-width="0.6" rx="0" />
<line x1="376.50" y1="279.80" x2="385.40" y2="279.80" stroke="#222" stroke-width="0.9" />
<line x1="399.00" y1="284.00" x2="399.00" y2="322.00" stroke="#2a0a05" stroke-width="0.6" />
<rect x="394.20" y="297.00" width="9.60" height="18.20" fill="#7b2419" stroke="#222" stroke-width="0.6" rx="0" />
<line x1="394.20" y1="311.30" x2="403.80" y2="311.30" stroke="#222" stroke-width="0.9" />
<path d="M362.2,226.4 L362.2,224.5 L399.3,224.5 L399.3,226.4" fill="none" stroke="#333" stroke-width="0.5" />
<text stroke="#1a1a1a" stroke-width="0.06" x="380.75" y="222.90" font-size="5" text-anchor="middle" fill="#1a1a1a">5.26×10<tspan font-size="3.2" dy="-1.8">−103</tspan></text>
<path d="M380.4,236.5 L380.4,234.6 L399.3,234.6 L399.3,236.5" fill="none" stroke="#333" stroke-width="0.5" />
<text stroke="#1a1a1a" stroke-width="0.06" x="389.85" y="233.00" font-size="5" text-anchor="middle" fill="#1a1a1a">2.06×10<tspan font-size="3.2" dy="-1.8">−98</tspan></text>
<path d="M362.2,245.8 L362.2,243.9 L380.4,243.9 L380.4,245.8" fill="none" stroke="#333" stroke-width="0.5" />
<text stroke="#1a1a1a" stroke-width="0.06" x="371.30" y="242.30" font-size="5.6" text-anchor="middle" fill="#1a1a1a">0.14</text>
<text x="479.70" y="212.74" font-size="7.1" text-anchor="middle" font-weight="normal" font-style="normal" fill="#1a1a1a" stroke="#1a1a1a" stroke-width="0.06" >UU (WGS)</text>
<line x1="445.90" y1="220.30" x2="445.90" y2="343.80" stroke="#888" stroke-width="0.9" />
<line x1="445.50" y1="343.40" x2="509.50" y2="343.40" stroke="#333" stroke-width="0.8" />
<line x1="443.90" y1="337.50" x2="445.90" y2="337.50" stroke="#333" stroke-width="0.6" />
<text x="443.00" y="339.72" font-size="6.2" text-anchor="end" font-weight="normal" font-style="normal" fill="#1a1a1a" stroke="#1a1a1a" stroke-width="0.06" >0.0</text>
<line x1="443.90" y1="312.45" x2="445.90" y2="312.45" stroke="#333" stroke-width="0.6" />
<text x="443.00" y="314.67" font-size="6.2" text-anchor="end" font-weight="normal" font-style="normal" fill="#1a1a1a" stroke="#1a1a1a" stroke-width="0.06" >0.1</text>
<line x1="443.90" y1="287.40" x2="445.90" y2="287.40" stroke="#333" stroke-width="0.6" />
<text x="443.00" y="289.62" font-size="6.2" text-anchor="end" font-weight="normal" font-style="normal" fill="#1a1a1a" stroke="#1a1a1a" stroke-width="0.06" >0.2</text>
<line x1="443.90" y1="262.35" x2="445.90" y2="262.35" stroke="#333" stroke-width="0.6" />
<text x="443.00" y="264.57" font-size="6.2" text-anchor="end" font-weight="normal" font-style="normal" fill="#1a1a1a" stroke="#1a1a1a" stroke-width="0.06" >0.3</text>
<line x1="443.90" y1="237.30" x2="445.90" y2="237.30" stroke="#333" stroke-width="0.6" />
<text x="443.00" y="239.52" font-size="6.2" text-anchor="end" font-weight="normal" font-style="normal" fill="#1a1a1a" stroke="#1a1a1a" stroke-width="0.06" >0.4</text>
<text stroke="#1a1a1a" stroke-width="0.06" transform="translate(423.3,287) rotate(-90)" font-size="6.85" text-anchor="middle" fill="#1a1a1a"><tspan x="0" dy="0">Average of genome coverage</tspan><tspan x="0" dy="8.6">of tissue-resident species</tspan></text>
<line x1="458.60" y1="343.40" x2="458.60" y2="345.40" stroke="#333" stroke-width="0.6" />
<text x="458.60" y="350.62" font-size="6.2" text-anchor="middle" font-weight="normal" font-style="normal" fill="#1a1a1a" stroke="#1a1a1a" stroke-width="0.06" >NAT</text>
<text x="458.60" y="356.45" font-size="6.0" text-anchor="middle" font-weight="normal" font-style="normal" fill="#1a1a1a" stroke="#1a1a1a" stroke-width="0.06" >n=313</text>
<line x1="478.80" y1="343.40" x2="478.80" y2="345.40" stroke="#333" stroke-width="0.6" />
<text x="478.80" y="350.62" font-size="6.2" text-anchor="middle" font-weight="normal" font-style="normal" fill="#1a1a1a" stroke="#1a1a1a" stroke-width="0.06" >Tumor</text>
<text x="478.80" y="356.45" font-size="6.0" text-anchor="middle" font-weight="normal" font-style="normal" fill="#1a1a1a" stroke="#1a1a1a" stroke-width="0.06" >n=775</text>
<line x1="499.40" y1="343.40" x2="499.40" y2="345.40" stroke="#333" stroke-width="0.6" />
<text x="499.40" y="350.62" font-size="6.2" text-anchor="middle" font-weight="normal" font-style="normal" fill="#1a1a1a" stroke="#1a1a1a" stroke-width="0.06" >Blood</text>
<text x="499.40" y="356.45" font-size="6.0" text-anchor="middle" font-weight="normal" font-style="normal" fill="#1a1a1a" stroke="#1a1a1a" stroke-width="0.06" >n=462</text>
<circle cx="456.09" cy="321.69" r="1.70" fill="#4fa63f" stroke="none" stroke-width="0" opacity="0.55"/>
<circle cx="455.90" cy="334.96" r="1.70" fill="#4fa63f" stroke="none" stroke-width="0" opacity="0.55"/>
<circle cx="454.82" cy="304.49" r="1.70" fill="#4fa63f" stroke="none" stroke-width="0" opacity="0.55"/>
<circle cx="463.39" cy="323.25" r="1.70" fill="#4fa63f" stroke="none" stroke-width="0" opacity="0.55"/>
<circle cx="457.06" cy="337.46" r="1.70" fill="#4fa63f" stroke="none" stroke-width="0" opacity="0.55"/>
<circle cx="458.75" cy="329.40" r="1.70" fill="#4fa63f" stroke="none" stroke-width="0" opacity="0.55"/>
<circle cx="456.66" cy="324.21" r="1.70" fill="#4fa63f" stroke="none" stroke-width="0" opacity="0.55"/>
<circle cx="461.09" cy="320.86" r="1.70" fill="#4fa63f" stroke="none" stroke-width="0" opacity="0.55"/>
<circle cx="461.97" cy="323.95" r="1.70" fill="#4fa63f" stroke="none" stroke-width="0" opacity="0.55"/>
<circle cx="457.95" cy="334.62" r="1.70" fill="#4fa63f" stroke="none" stroke-width="0" opacity="0.55"/>
<circle cx="453.96" cy="331.09" r="1.70" fill="#4fa63f" stroke="none" stroke-width="0" opacity="0.55"/>
<circle cx="459.59" cy="323.20" r="1.70" fill="#4fa63f" stroke="none" stroke-width="0" opacity="0.55"/>
<circle cx="460.40" cy="334.33" r="1.70" fill="#4fa63f" stroke="none" stroke-width="0" opacity="0.55"/>
<circle cx="456.40" cy="337.03" r="1.70" fill="#4fa63f" stroke="none" stroke-width="0" opacity="0.55"/>
<circle cx="461.90" cy="336.46" r="1.70" fill="#4fa63f" stroke="none" stroke-width="0" opacity="0.55"/>
<circle cx="456.44" cy="332.96" r="1.70" fill="#4fa63f" stroke="none" stroke-width="0" opacity="0.55"/>
<circle cx="462.64" cy="328.18" r="1.70" fill="#4fa63f" stroke="none" stroke-width="0" opacity="0.55"/>
<circle cx="459.42" cy="337.13" r="1.70" fill="#4fa63f" stroke="none" stroke-width="0" opacity="0.55"/>
<circle cx="461.67" cy="325.60" r="1.70" fill="#4fa63f" stroke="none" stroke-width="0" opacity="0.55"/>
<circle cx="460.47" cy="300.82" r="1.70" fill="#4fa63f" stroke="none" stroke-width="0" opacity="0.55"/>
<circle cx="455.51" cy="335.23" r="1.70" fill="#4fa63f" stroke="none" stroke-width="0" opacity="0.55"/>
<circle cx="462.28" cy="335.09" r="1.70" fill="#4fa63f" stroke="none" stroke-width="0" opacity="0.55"/>
<circle cx="460.70" cy="324.17" r="1.70" fill="#4fa63f" stroke="none" stroke-width="0" opacity="0.55"/>
<circle cx="463.32" cy="336.14" r="1.70" fill="#4fa63f" stroke="none" stroke-width="0" opacity="0.55"/>
<circle cx="456.61" cy="334.47" r="1.70" fill="#4fa63f" stroke="none" stroke-width="0" opacity="0.55"/>
<circle cx="462.13" cy="335.15" r="1.70" fill="#4fa63f" stroke="none" stroke-width="0" opacity="0.55"/>
<circle cx="459.74" cy="335.07" r="1.70" fill="#4fa63f" stroke="none" stroke-width="0" opacity="0.55"/>
<circle cx="463.12" cy="327.80" r="1.70" fill="#4fa63f" stroke="none" stroke-width="0" opacity="0.55"/>
<circle cx="459.02" cy="315.65" r="1.70" fill="#4fa63f" stroke="none" stroke-width="0" opacity="0.55"/>
<circle cx="456.94" cy="327.96" r="1.70" fill="#4fa63f" stroke="none" stroke-width="0" opacity="0.55"/>
<circle cx="463.22" cy="321.12" r="1.70" fill="#4fa63f" stroke="none" stroke-width="0" opacity="0.55"/>
<circle cx="463.39" cy="336.56" r="1.70" fill="#4fa63f" stroke="none" stroke-width="0" opacity="0.55"/>
<circle cx="457.61" cy="323.98" r="1.70" fill="#4fa63f" stroke="none" stroke-width="0" opacity="0.55"/>
<circle cx="454.01" cy="328.07" r="1.70" fill="#4fa63f" stroke="none" stroke-width="0" opacity="0.55"/>
<circle cx="454.00" cy="333.98" r="1.70" fill="#4fa63f" stroke="none" stroke-width="0" opacity="0.55"/>
<circle cx="454.56" cy="312.05" r="1.70" fill="#4fa63f" stroke="none" stroke-width="0" opacity="0.55"/>
<circle cx="460.20" cy="330.68" r="1.70" fill="#4fa63f" stroke="none" stroke-width="0" opacity="0.55"/>
<circle cx="454.22" cy="334.95" r="1.70" fill="#4fa63f" stroke="none" stroke-width="0" opacity="0.55"/>
<circle cx="455.62" cy="325.23" r="1.70" fill="#4fa63f" stroke="none" stroke-width="0" opacity="0.55"/>
<circle cx="463.26" cy="308.45" r="1.70" fill="#4fa63f" stroke="none" stroke-width="0" opacity="0.55"/>
<circle cx="457.41" cy="316.33" r="1.70" fill="#4fa63f" stroke="none" stroke-width="0" opacity="0.55"/>
<circle cx="462.04" cy="306.26" r="1.70" fill="#4fa63f" stroke="none" stroke-width="0" opacity="0.55"/>
<circle cx="457.41" cy="316.82" r="1.70" fill="#4fa63f" stroke="none" stroke-width="0" opacity="0.55"/>
<circle cx="454.86" cy="331.50" r="1.70" fill="#4fa63f" stroke="none" stroke-width="0" opacity="0.55"/>
<circle cx="457.22" cy="308.34" r="1.70" fill="#4fa63f" stroke="none" stroke-width="0" opacity="0.55"/>
<circle cx="454.74" cy="332.10" r="1.70" fill="#4fa63f" stroke="none" stroke-width="0" opacity="0.55"/>
<circle cx="454.07" cy="331.68" r="1.70" fill="#4fa63f" stroke="none" stroke-width="0" opacity="0.55"/>
<circle cx="463.40" cy="300.87" r="1.70" fill="#4fa63f" stroke="none" stroke-width="0" opacity="0.55"/>
<circle cx="456.46" cy="331.63" r="1.70" fill="#4fa63f" stroke="none" stroke-width="0" opacity="0.55"/>
<circle cx="454.21" cy="310.93" r="1.70" fill="#4fa63f" stroke="none" stroke-width="0" opacity="0.55"/>
<circle cx="457.36" cy="327.28" r="1.70" fill="#4fa63f" stroke="none" stroke-width="0" opacity="0.55"/>
<circle cx="461.86" cy="329.55" r="1.70" fill="#4fa63f" stroke="none" stroke-width="0" opacity="0.55"/>
<circle cx="456.12" cy="321.75" r="1.70" fill="#4fa63f" stroke="none" stroke-width="0" opacity="0.55"/>
<circle cx="463.32" cy="308.19" r="1.70" fill="#4fa63f" stroke="none" stroke-width="0" opacity="0.55"/>
<circle cx="459.30" cy="328.31" r="1.70" fill="#4fa63f" stroke="none" stroke-width="0" opacity="0.55"/>
<circle cx="454.95" cy="327.75" r="1.70" fill="#4fa63f" stroke="none" stroke-width="0" opacity="0.55"/>
<circle cx="461.07" cy="335.00" r="1.70" fill="#4fa63f" stroke="none" stroke-width="0" opacity="0.55"/>
<circle cx="461.66" cy="322.72" r="1.70" fill="#4fa63f" stroke="none" stroke-width="0" opacity="0.55"/>
<circle cx="462.18" cy="331.44" r="1.70" fill="#4fa63f" stroke="none" stroke-width="0" opacity="0.55"/>
<circle cx="456.69" cy="324.04" r="1.70" fill="#4fa63f" stroke="none" stroke-width="0" opacity="0.55"/>
<circle cx="456.54" cy="333.19" r="1.70" fill="#4fa63f" stroke="none" stroke-width="0" opacity="0.55"/>
<circle cx="461.69" cy="326.58" r="1.70" fill="#4fa63f" stroke="none" stroke-width="0" opacity="0.55"/>
<circle cx="460.92" cy="326.30" r="1.70" fill="#4fa63f" stroke="none" stroke-width="0" opacity="0.55"/>
<circle cx="457.30" cy="319.37" r="1.70" fill="#4fa63f" stroke="none" stroke-width="0" opacity="0.55"/>
<circle cx="458.61" cy="333.66" r="1.70" fill="#4fa63f" stroke="none" stroke-width="0" opacity="0.55"/>
<circle cx="455.63" cy="335.40" r="1.70" fill="#4fa63f" stroke="none" stroke-width="0" opacity="0.55"/>
<circle cx="462.82" cy="322.54" r="1.70" fill="#4fa63f" stroke="none" stroke-width="0" opacity="0.55"/>
<circle cx="462.22" cy="312.32" r="1.70" fill="#4fa63f" stroke="none" stroke-width="0" opacity="0.55"/>
<circle cx="460.89" cy="329.98" r="1.70" fill="#4fa63f" stroke="none" stroke-width="0" opacity="0.55"/>
<circle cx="454.31" cy="327.73" r="1.70" fill="#4fa63f" stroke="none" stroke-width="0" opacity="0.55"/>
<circle cx="456.39" cy="324.25" r="1.70" fill="#4fa63f" stroke="none" stroke-width="0" opacity="0.55"/>
<circle cx="463.05" cy="315.76" r="1.70" fill="#4fa63f" stroke="none" stroke-width="0" opacity="0.55"/>
<circle cx="458.54" cy="328.65" r="1.70" fill="#4fa63f" stroke="none" stroke-width="0" opacity="0.55"/>
<circle cx="463.36" cy="332.32" r="1.70" fill="#4fa63f" stroke="none" stroke-width="0" opacity="0.55"/>
<circle cx="454.59" cy="327.53" r="1.70" fill="#4fa63f" stroke="none" stroke-width="0" opacity="0.55"/>
<circle cx="454.12" cy="330.29" r="1.70" fill="#4fa63f" stroke="none" stroke-width="0" opacity="0.55"/>
<circle cx="454.11" cy="319.78" r="1.70" fill="#4fa63f" stroke="none" stroke-width="0" opacity="0.55"/>
<circle cx="463.33" cy="328.54" r="1.70" fill="#4fa63f" stroke="none" stroke-width="0" opacity="0.55"/>
<circle cx="463.22" cy="329.00" r="1.70" fill="#4fa63f" stroke="none" stroke-width="0" opacity="0.55"/>
<circle cx="457.70" cy="334.08" r="1.70" fill="#4fa63f" stroke="none" stroke-width="0" opacity="0.55"/>
<circle cx="461.73" cy="327.71" r="1.70" fill="#4fa63f" stroke="none" stroke-width="0" opacity="0.55"/>
<circle cx="458.87" cy="336.77" r="1.70" fill="#4fa63f" stroke="none" stroke-width="0" opacity="0.55"/>
<circle cx="461.27" cy="320.15" r="1.70" fill="#4fa63f" stroke="none" stroke-width="0" opacity="0.55"/>
<circle cx="454.52" cy="337.16" r="1.70" fill="#4fa63f" stroke="none" stroke-width="0" opacity="0.55"/>
<circle cx="456.28" cy="332.48" r="1.70" fill="#4fa63f" stroke="none" stroke-width="0" opacity="0.55"/>
<circle cx="462.89" cy="313.75" r="1.70" fill="#4fa63f" stroke="none" stroke-width="0" opacity="0.55"/>
<circle cx="456.61" cy="315.45" r="1.70" fill="#4fa63f" stroke="none" stroke-width="0" opacity="0.55"/>
<circle cx="455.74" cy="313.08" r="1.70" fill="#4fa63f" stroke="none" stroke-width="0" opacity="0.55"/>
<circle cx="456.38" cy="318.36" r="1.70" fill="#4fa63f" stroke="none" stroke-width="0" opacity="0.55"/>
<circle cx="460.08" cy="330.12" r="1.70" fill="#4fa63f" stroke="none" stroke-width="0" opacity="0.55"/>
<circle cx="456.98" cy="326.52" r="1.70" fill="#4fa63f" stroke="none" stroke-width="0" opacity="0.55"/>
<circle cx="459.67" cy="323.14" r="1.70" fill="#4fa63f" stroke="none" stroke-width="0" opacity="0.55"/>
<circle cx="458.24" cy="334.92" r="1.70" fill="#4fa63f" stroke="none" stroke-width="0" opacity="0.55"/>
<circle cx="461.94" cy="324.79" r="1.70" fill="#4fa63f" stroke="none" stroke-width="0" opacity="0.55"/>
<circle cx="461.90" cy="300.48" r="1.70" fill="#4fa63f" stroke="none" stroke-width="0" opacity="0.55"/>
<circle cx="460.78" cy="309.02" r="1.70" fill="#4fa63f" stroke="none" stroke-width="0" opacity="0.55"/>
<circle cx="455.30" cy="304.67" r="1.70" fill="#4fa63f" stroke="none" stroke-width="0" opacity="0.55"/>
<circle cx="459.15" cy="330.50" r="1.70" fill="#4fa63f" stroke="none" stroke-width="0" opacity="0.55"/>
<circle cx="455.61" cy="308.26" r="1.70" fill="#4fa63f" stroke="none" stroke-width="0" opacity="0.55"/>
<circle cx="460.66" cy="331.51" r="1.70" fill="#4fa63f" stroke="none" stroke-width="0" opacity="0.55"/>
<circle cx="459.96" cy="329.61" r="1.70" fill="#4fa63f" stroke="none" stroke-width="0" opacity="0.55"/>
<circle cx="463.11" cy="327.32" r="1.70" fill="#4fa63f" stroke="none" stroke-width="0" opacity="0.55"/>
<circle cx="463.38" cy="324.08" r="1.70" fill="#4fa63f" stroke="none" stroke-width="0" opacity="0.55"/>
<circle cx="458.72" cy="328.58" r="1.70" fill="#4fa63f" stroke="none" stroke-width="0" opacity="0.55"/>
<circle cx="456.90" cy="337.07" r="1.70" fill="#4fa63f" stroke="none" stroke-width="0" opacity="0.55"/>
<circle cx="459.66" cy="306.12" r="1.70" fill="#4fa63f" stroke="none" stroke-width="0" opacity="0.55"/>
<circle cx="463.27" cy="333.41" r="1.70" fill="#4fa63f" stroke="none" stroke-width="0" opacity="0.55"/>
<circle cx="454.25" cy="320.46" r="1.70" fill="#4fa63f" stroke="none" stroke-width="0" opacity="0.55"/>
<circle cx="462.62" cy="331.61" r="1.70" fill="#4fa63f" stroke="none" stroke-width="0" opacity="0.55"/>
<circle cx="460.89" cy="330.25" r="1.70" fill="#4fa63f" stroke="none" stroke-width="0" opacity="0.55"/>
<circle cx="458.86" cy="313.09" r="1.70" fill="#4fa63f" stroke="none" stroke-width="0" opacity="0.55"/>
<circle cx="460.97" cy="325.34" r="1.70" fill="#4fa63f" stroke="none" stroke-width="0" opacity="0.55"/>
<circle cx="456.32" cy="322.87" r="1.70" fill="#4fa63f" stroke="none" stroke-width="0" opacity="0.55"/>
<circle cx="454.98" cy="304.39" r="1.70" fill="#4fa63f" stroke="none" stroke-width="0" opacity="0.55"/>
<circle cx="456.43" cy="336.68" r="1.70" fill="#4fa63f" stroke="none" stroke-width="0" opacity="0.55"/>
<circle cx="463.08" cy="321.02" r="1.70" fill="#4fa63f" stroke="none" stroke-width="0" opacity="0.55"/>
<circle cx="458.72" cy="332.19" r="1.70" fill="#4fa63f" stroke="none" stroke-width="0" opacity="0.55"/>
<circle cx="456.46" cy="328.04" r="1.70" fill="#4fa63f" stroke="none" stroke-width="0" opacity="0.55"/>
<circle cx="459.88" cy="323.50" r="1.70" fill="#4fa63f" stroke="none" stroke-width="0" opacity="0.55"/>
<circle cx="455.77" cy="337.38" r="1.70" fill="#4fa63f" stroke="none" stroke-width="0" opacity="0.55"/>
<circle cx="454.96" cy="328.94" r="1.70" fill="#4fa63f" stroke="none" stroke-width="0" opacity="0.55"/>
<circle cx="455.22" cy="336.38" r="1.70" fill="#4fa63f" stroke="none" stroke-width="0" opacity="0.55"/>
<circle cx="462.46" cy="314.66" r="1.70" fill="#4fa63f" stroke="none" stroke-width="0" opacity="0.55"/>
<circle cx="459.13" cy="324.04" r="1.70" fill="#4fa63f" stroke="none" stroke-width="0" opacity="0.55"/>
<circle cx="457.76" cy="335.72" r="1.70" fill="#4fa63f" stroke="none" stroke-width="0" opacity="0.55"/>
<circle cx="455.05" cy="330.07" r="1.70" fill="#4fa63f" stroke="none" stroke-width="0" opacity="0.55"/>
<circle cx="458.79" cy="328.91" r="1.70" fill="#4fa63f" stroke="none" stroke-width="0" opacity="0.55"/>
<circle cx="459.90" cy="336.86" r="1.70" fill="#4fa63f" stroke="none" stroke-width="0" opacity="0.55"/>
<circle cx="462.12" cy="305.77" r="1.70" fill="#4fa63f" stroke="none" stroke-width="0" opacity="0.55"/>
<circle cx="458.08" cy="322.88" r="1.70" fill="#4fa63f" stroke="none" stroke-width="0" opacity="0.55"/>
<circle cx="460.44" cy="330.14" r="1.70" fill="#4fa63f" stroke="none" stroke-width="0" opacity="0.55"/>
<circle cx="463.11" cy="323.59" r="1.70" fill="#4fa63f" stroke="none" stroke-width="0" opacity="0.55"/>
<circle cx="454.72" cy="334.34" r="1.70" fill="#4fa63f" stroke="none" stroke-width="0" opacity="0.55"/>
<circle cx="460.43" cy="327.95" r="1.70" fill="#4fa63f" stroke="none" stroke-width="0" opacity="0.55"/>
<circle cx="458.01" cy="301.51" r="1.70" fill="#4fa63f" stroke="none" stroke-width="0" opacity="0.55"/>
<circle cx="460.39" cy="333.76" r="1.70" fill="#4fa63f" stroke="none" stroke-width="0" opacity="0.55"/>
<circle cx="460.74" cy="334.70" r="1.70" fill="#4fa63f" stroke="none" stroke-width="0" opacity="0.55"/>
<circle cx="461.73" cy="309.53" r="1.70" fill="#4fa63f" stroke="none" stroke-width="0" opacity="0.55"/>
<circle cx="456.61" cy="324.16" r="1.70" fill="#4fa63f" stroke="none" stroke-width="0" opacity="0.55"/>
<circle cx="461.25" cy="324.15" r="1.70" fill="#4fa63f" stroke="none" stroke-width="0" opacity="0.55"/>
<circle cx="458.33" cy="326.30" r="1.70" fill="#4fa63f" stroke="none" stroke-width="0" opacity="0.55"/>
<circle cx="462.70" cy="321.95" r="1.70" fill="#4fa63f" stroke="none" stroke-width="0" opacity="0.55"/>
<circle cx="460.59" cy="336.59" r="1.70" fill="#4fa63f" stroke="none" stroke-width="0" opacity="0.55"/>
<circle cx="458.08" cy="310.04" r="1.70" fill="#4fa63f" stroke="none" stroke-width="0" opacity="0.55"/>
<circle cx="461.57" cy="305.35" r="1.70" fill="#4fa63f" stroke="none" stroke-width="0" opacity="0.55"/>
<circle cx="456.15" cy="330.89" r="1.70" fill="#4fa63f" stroke="none" stroke-width="0" opacity="0.55"/>
<circle cx="456.55" cy="329.19" r="1.70" fill="#4fa63f" stroke="none" stroke-width="0" opacity="0.55"/>
<circle cx="463.19" cy="323.18" r="1.70" fill="#4fa63f" stroke="none" stroke-width="0" opacity="0.55"/>
<circle cx="454.09" cy="325.62" r="1.70" fill="#4fa63f" stroke="none" stroke-width="0" opacity="0.55"/>
<circle cx="455.60" cy="318.12" r="1.70" fill="#4fa63f" stroke="none" stroke-width="0" opacity="0.55"/>
<circle cx="455.27" cy="330.51" r="1.70" fill="#4fa63f" stroke="none" stroke-width="0" opacity="0.55"/>
<circle cx="462.95" cy="333.38" r="1.70" fill="#4fa63f" stroke="none" stroke-width="0" opacity="0.55"/>
<circle cx="456.54" cy="315.79" r="1.70" fill="#4fa63f" stroke="none" stroke-width="0" opacity="0.55"/>
<circle cx="457.92" cy="319.95" r="1.70" fill="#4fa63f" stroke="none" stroke-width="0" opacity="0.55"/>
<circle cx="458.65" cy="327.62" r="1.70" fill="#4fa63f" stroke="none" stroke-width="0" opacity="0.55"/>
<circle cx="454.83" cy="321.48" r="1.70" fill="#4fa63f" stroke="none" stroke-width="0" opacity="0.55"/>
<circle cx="455.28" cy="327.85" r="1.70" fill="#4fa63f" stroke="none" stroke-width="0" opacity="0.55"/>
<circle cx="461.50" cy="251.08" r="1.70" fill="#4fa63f" stroke="none" stroke-width="0" opacity="0.55"/>
<circle cx="462.37" cy="262.35" r="1.70" fill="#4fa63f" stroke="none" stroke-width="0" opacity="0.55"/>
<circle cx="462.15" cy="282.39" r="1.70" fill="#4fa63f" stroke="none" stroke-width="0" opacity="0.55"/>
<circle cx="455.02" cy="283.64" r="1.70" fill="#4fa63f" stroke="none" stroke-width="0" opacity="0.55"/>
<circle cx="461.74" cy="284.89" r="1.70" fill="#4fa63f" stroke="none" stroke-width="0" opacity="0.55"/>
<circle cx="458.00" cy="292.41" r="1.70" fill="#4fa63f" stroke="none" stroke-width="0" opacity="0.55"/>
<circle cx="476.99" cy="337.09" r="1.70" fill="#a8c6ec" stroke="none" stroke-width="0" opacity="0.55"/>
<circle cx="474.20" cy="334.71" r="1.70" fill="#a8c6ec" stroke="none" stroke-width="0" opacity="0.55"/>
<circle cx="474.84" cy="332.36" r="1.70" fill="#a8c6ec" stroke="none" stroke-width="0" opacity="0.55"/>
<circle cx="474.58" cy="334.59" r="1.70" fill="#a8c6ec" stroke="none" stroke-width="0" opacity="0.55"/>
<circle cx="476.43" cy="324.23" r="1.70" fill="#a8c6ec" stroke="none" stroke-width="0" opacity="0.55"/>
<circle cx="475.03" cy="321.76" r="1.70" fill="#a8c6ec" stroke="none" stroke-width="0" opacity="0.55"/>
<circle cx="475.89" cy="331.22" r="1.70" fill="#a8c6ec" stroke="none" stroke-width="0" opacity="0.55"/>
<circle cx="477.52" cy="323.97" r="1.70" fill="#a8c6ec" stroke="none" stroke-width="0" opacity="0.55"/>
<circle cx="479.32" cy="334.47" r="1.70" fill="#a8c6ec" stroke="none" stroke-width="0" opacity="0.55"/>
<circle cx="479.57" cy="317.61" r="1.70" fill="#a8c6ec" stroke="none" stroke-width="0" opacity="0.55"/>
<circle cx="483.18" cy="333.39" r="1.70" fill="#a8c6ec" stroke="none" stroke-width="0" opacity="0.55"/>
<circle cx="479.87" cy="335.86" r="1.70" fill="#a8c6ec" stroke="none" stroke-width="0" opacity="0.55"/>
<circle cx="475.17" cy="321.40" r="1.70" fill="#a8c6ec" stroke="none" stroke-width="0" opacity="0.55"/>
<circle cx="476.32" cy="313.07" r="1.70" fill="#a8c6ec" stroke="none" stroke-width="0" opacity="0.55"/>
<circle cx="476.69" cy="327.78" r="1.70" fill="#a8c6ec" stroke="none" stroke-width="0" opacity="0.55"/>
<circle cx="476.68" cy="314.49" r="1.70" fill="#a8c6ec" stroke="none" stroke-width="0" opacity="0.55"/>
<circle cx="474.07" cy="315.80" r="1.70" fill="#a8c6ec" stroke="none" stroke-width="0" opacity="0.55"/>
<circle cx="479.39" cy="337.08" r="1.70" fill="#a8c6ec" stroke="none" stroke-width="0" opacity="0.55"/>
<circle cx="475.60" cy="328.49" r="1.70" fill="#a8c6ec" stroke="none" stroke-width="0" opacity="0.55"/>
<circle cx="477.74" cy="334.62" r="1.70" fill="#a8c6ec" stroke="none" stroke-width="0" opacity="0.55"/>
<circle cx="481.69" cy="333.76" r="1.70" fill="#a8c6ec" stroke="none" stroke-width="0" opacity="0.55"/>
<circle cx="476.37" cy="325.81" r="1.70" fill="#a8c6ec" stroke="none" stroke-width="0" opacity="0.55"/>
<circle cx="479.52" cy="323.83" r="1.70" fill="#a8c6ec" stroke="none" stroke-width="0" opacity="0.55"/>
<circle cx="481.32" cy="335.06" r="1.70" fill="#a8c6ec" stroke="none" stroke-width="0" opacity="0.55"/>
<circle cx="476.55" cy="314.86" r="1.70" fill="#a8c6ec" stroke="none" stroke-width="0" opacity="0.55"/>
<circle cx="480.98" cy="334.43" r="1.70" fill="#a8c6ec" stroke="none" stroke-width="0" opacity="0.55"/>
<circle cx="477.38" cy="328.82" r="1.70" fill="#a8c6ec" stroke="none" stroke-width="0" opacity="0.55"/>
<circle cx="478.21" cy="329.94" r="1.70" fill="#a8c6ec" stroke="none" stroke-width="0" opacity="0.55"/>
<circle cx="482.65" cy="323.07" r="1.70" fill="#a8c6ec" stroke="none" stroke-width="0" opacity="0.55"/>
<circle cx="481.78" cy="332.64" r="1.70" fill="#a8c6ec" stroke="none" stroke-width="0" opacity="0.55"/>
<circle cx="474.78" cy="334.41" r="1.70" fill="#a8c6ec" stroke="none" stroke-width="0" opacity="0.55"/>
<circle cx="478.70" cy="324.70" r="1.70" fill="#a8c6ec" stroke="none" stroke-width="0" opacity="0.55"/>
<circle cx="481.42" cy="335.88" r="1.70" fill="#a8c6ec" stroke="none" stroke-width="0" opacity="0.55"/>
<circle cx="479.06" cy="331.92" r="1.70" fill="#a8c6ec" stroke="none" stroke-width="0" opacity="0.55"/>
<circle cx="474.36" cy="336.80" r="1.70" fill="#a8c6ec" stroke="none" stroke-width="0" opacity="0.55"/>
<circle cx="481.30" cy="334.60" r="1.70" fill="#a8c6ec" stroke="none" stroke-width="0" opacity="0.55"/>
<circle cx="476.52" cy="327.81" r="1.70" fill="#a8c6ec" stroke="none" stroke-width="0" opacity="0.55"/>
<circle cx="481.24" cy="312.47" r="1.70" fill="#a8c6ec" stroke="none" stroke-width="0" opacity="0.55"/>
<circle cx="480.41" cy="331.52" r="1.70" fill="#a8c6ec" stroke="none" stroke-width="0" opacity="0.55"/>
<circle cx="480.78" cy="327.34" r="1.70" fill="#a8c6ec" stroke="none" stroke-width="0" opacity="0.55"/>
<circle cx="482.64" cy="335.95" r="1.70" fill="#a8c6ec" stroke="none" stroke-width="0" opacity="0.55"/>
<circle cx="474.34" cy="333.56" r="1.70" fill="#a8c6ec" stroke="none" stroke-width="0" opacity="0.55"/>
<circle cx="478.35" cy="328.40" r="1.70" fill="#a8c6ec" stroke="none" stroke-width="0" opacity="0.55"/>
<circle cx="477.22" cy="334.24" r="1.70" fill="#a8c6ec" stroke="none" stroke-width="0" opacity="0.55"/>
<circle cx="475.56" cy="320.32" r="1.70" fill="#a8c6ec" stroke="none" stroke-width="0" opacity="0.55"/>
<circle cx="481.61" cy="323.15" r="1.70" fill="#a8c6ec" stroke="none" stroke-width="0" opacity="0.55"/>
<circle cx="477.51" cy="336.02" r="1.70" fill="#a8c6ec" stroke="none" stroke-width="0" opacity="0.55"/>
<circle cx="474.57" cy="333.29" r="1.70" fill="#a8c6ec" stroke="none" stroke-width="0" opacity="0.55"/>
<circle cx="476.76" cy="320.52" r="1.70" fill="#a8c6ec" stroke="none" stroke-width="0" opacity="0.55"/>
<circle cx="480.71" cy="309.68" r="1.70" fill="#a8c6ec" stroke="none" stroke-width="0" opacity="0.55"/>
<circle cx="481.65" cy="334.84" r="1.70" fill="#a8c6ec" stroke="none" stroke-width="0" opacity="0.55"/>
<circle cx="478.24" cy="336.44" r="1.70" fill="#a8c6ec" stroke="none" stroke-width="0" opacity="0.55"/>
<circle cx="482.08" cy="323.86" r="1.70" fill="#a8c6ec" stroke="none" stroke-width="0" opacity="0.55"/>
<circle cx="475.13" cy="319.46" r="1.70" fill="#a8c6ec" stroke="none" stroke-width="0" opacity="0.55"/>
<circle cx="478.25" cy="321.49" r="1.70" fill="#a8c6ec" stroke="none" stroke-width="0" opacity="0.55"/>
<circle cx="475.39" cy="333.84" r="1.70" fill="#a8c6ec" stroke="none" stroke-width="0" opacity="0.55"/>
<circle cx="477.61" cy="330.26" r="1.70" fill="#a8c6ec" stroke="none" stroke-width="0" opacity="0.55"/>
<circle cx="474.81" cy="325.37" r="1.70" fill="#a8c6ec" stroke="none" stroke-width="0" opacity="0.55"/>
<circle cx="474.69" cy="334.41" r="1.70" fill="#a8c6ec" stroke="none" stroke-width="0" opacity="0.55"/>
<circle cx="482.95" cy="332.85" r="1.70" fill="#a8c6ec" stroke="none" stroke-width="0" opacity="0.55"/>
<circle cx="474.69" cy="336.32" r="1.70" fill="#a8c6ec" stroke="none" stroke-width="0" opacity="0.55"/>
<circle cx="479.24" cy="333.97" r="1.70" fill="#a8c6ec" stroke="none" stroke-width="0" opacity="0.55"/>
<circle cx="480.56" cy="331.63" r="1.70" fill="#a8c6ec" stroke="none" stroke-width="0" opacity="0.55"/>
<circle cx="476.63" cy="331.31" r="1.70" fill="#a8c6ec" stroke="none" stroke-width="0" opacity="0.55"/>
<circle cx="483.42" cy="327.79" r="1.70" fill="#a8c6ec" stroke="none" stroke-width="0" opacity="0.55"/>
<circle cx="474.51" cy="326.05" r="1.70" fill="#a8c6ec" stroke="none" stroke-width="0" opacity="0.55"/>
<circle cx="480.84" cy="336.74" r="1.70" fill="#a8c6ec" stroke="none" stroke-width="0" opacity="0.55"/>
<circle cx="481.77" cy="333.23" r="1.70" fill="#a8c6ec" stroke="none" stroke-width="0" opacity="0.55"/>
<circle cx="474.30" cy="317.02" r="1.70" fill="#a8c6ec" stroke="none" stroke-width="0" opacity="0.55"/>
<circle cx="481.78" cy="335.85" r="1.70" fill="#a8c6ec" stroke="none" stroke-width="0" opacity="0.55"/>
<circle cx="475.51" cy="335.41" r="1.70" fill="#a8c6ec" stroke="none" stroke-width="0" opacity="0.55"/>
<circle cx="480.64" cy="334.53" r="1.70" fill="#a8c6ec" stroke="none" stroke-width="0" opacity="0.55"/>
<circle cx="483.48" cy="332.47" r="1.70" fill="#a8c6ec" stroke="none" stroke-width="0" opacity="0.55"/>
<circle cx="482.93" cy="328.76" r="1.70" fill="#a8c6ec" stroke="none" stroke-width="0" opacity="0.55"/>
<circle cx="482.45" cy="307.81" r="1.70" fill="#a8c6ec" stroke="none" stroke-width="0" opacity="0.55"/>
<circle cx="474.71" cy="329.37" r="1.70" fill="#a8c6ec" stroke="none" stroke-width="0" opacity="0.55"/>
<circle cx="481.00" cy="322.87" r="1.70" fill="#a8c6ec" stroke="none" stroke-width="0" opacity="0.55"/>
<circle cx="479.36" cy="336.31" r="1.70" fill="#a8c6ec" stroke="none" stroke-width="0" opacity="0.55"/>
<circle cx="475.23" cy="337.00" r="1.70" fill="#a8c6ec" stroke="none" stroke-width="0" opacity="0.55"/>
<circle cx="481.89" cy="325.35" r="1.70" fill="#a8c6ec" stroke="none" stroke-width="0" opacity="0.55"/>
<circle cx="479.52" cy="328.24" r="1.70" fill="#a8c6ec" stroke="none" stroke-width="0" opacity="0.55"/>
<circle cx="480.85" cy="320.84" r="1.70" fill="#a8c6ec" stroke="none" stroke-width="0" opacity="0.55"/>
<circle cx="479.67" cy="330.86" r="1.70" fill="#a8c6ec" stroke="none" stroke-width="0" opacity="0.55"/>
<circle cx="477.51" cy="305.64" r="1.70" fill="#a8c6ec" stroke="none" stroke-width="0" opacity="0.55"/>
<circle cx="479.13" cy="335.18" r="1.70" fill="#a8c6ec" stroke="none" stroke-width="0" opacity="0.55"/>
<circle cx="478.37" cy="335.39" r="1.70" fill="#a8c6ec" stroke="none" stroke-width="0" opacity="0.55"/>
<circle cx="482.46" cy="337.34" r="1.70" fill="#a8c6ec" stroke="none" stroke-width="0" opacity="0.55"/>
<circle cx="478.72" cy="327.63" r="1.70" fill="#a8c6ec" stroke="none" stroke-width="0" opacity="0.55"/>
<circle cx="478.40" cy="329.46" r="1.70" fill="#a8c6ec" stroke="none" stroke-width="0" opacity="0.55"/>
<circle cx="482.05" cy="319.04" r="1.70" fill="#a8c6ec" stroke="none" stroke-width="0" opacity="0.55"/>
<circle cx="476.63" cy="323.97" r="1.70" fill="#a8c6ec" stroke="none" stroke-width="0" opacity="0.55"/>
<circle cx="475.55" cy="329.18" r="1.70" fill="#a8c6ec" stroke="none" stroke-width="0" opacity="0.55"/>
<circle cx="478.12" cy="336.68" r="1.70" fill="#a8c6ec" stroke="none" stroke-width="0" opacity="0.55"/>
<circle cx="475.07" cy="332.63" r="1.70" fill="#a8c6ec" stroke="none" stroke-width="0" opacity="0.55"/>
<circle cx="477.80" cy="334.63" r="1.70" fill="#a8c6ec" stroke="none" stroke-width="0" opacity="0.55"/>
<circle cx="482.92" cy="320.90" r="1.70" fill="#a8c6ec" stroke="none" stroke-width="0" opacity="0.55"/>
<circle cx="481.66" cy="318.59" r="1.70" fill="#a8c6ec" stroke="none" stroke-width="0" opacity="0.55"/>
<circle cx="477.42" cy="332.33" r="1.70" fill="#a8c6ec" stroke="none" stroke-width="0" opacity="0.55"/>
<circle cx="483.52" cy="329.92" r="1.70" fill="#a8c6ec" stroke="none" stroke-width="0" opacity="0.55"/>
<circle cx="483.10" cy="319.65" r="1.70" fill="#a8c6ec" stroke="none" stroke-width="0" opacity="0.55"/>
<circle cx="479.78" cy="324.76" r="1.70" fill="#a8c6ec" stroke="none" stroke-width="0" opacity="0.55"/>
<circle cx="475.70" cy="336.45" r="1.70" fill="#a8c6ec" stroke="none" stroke-width="0" opacity="0.55"/>
<circle cx="479.89" cy="334.08" r="1.70" fill="#a8c6ec" stroke="none" stroke-width="0" opacity="0.55"/>
<circle cx="478.82" cy="330.19" r="1.70" fill="#a8c6ec" stroke="none" stroke-width="0" opacity="0.55"/>
<circle cx="480.26" cy="321.95" r="1.70" fill="#a8c6ec" stroke="none" stroke-width="0" opacity="0.55"/>
<circle cx="482.48" cy="326.65" r="1.70" fill="#a8c6ec" stroke="none" stroke-width="0" opacity="0.55"/>
<circle cx="477.08" cy="317.63" r="1.70" fill="#a8c6ec" stroke="none" stroke-width="0" opacity="0.55"/>
<circle cx="479.77" cy="337.49" r="1.70" fill="#a8c6ec" stroke="none" stroke-width="0" opacity="0.55"/>
<circle cx="481.67" cy="310.41" r="1.70" fill="#a8c6ec" stroke="none" stroke-width="0" opacity="0.55"/>
<circle cx="482.81" cy="306.68" r="1.70" fill="#a8c6ec" stroke="none" stroke-width="0" opacity="0.55"/>
<circle cx="483.12" cy="335.98" r="1.70" fill="#a8c6ec" stroke="none" stroke-width="0" opacity="0.55"/>
<circle cx="474.03" cy="312.87" r="1.70" fill="#a8c6ec" stroke="none" stroke-width="0" opacity="0.55"/>
<circle cx="478.04" cy="336.01" r="1.70" fill="#a8c6ec" stroke="none" stroke-width="0" opacity="0.55"/>
<circle cx="481.69" cy="331.11" r="1.70" fill="#a8c6ec" stroke="none" stroke-width="0" opacity="0.55"/>
<circle cx="482.42" cy="314.97" r="1.70" fill="#a8c6ec" stroke="none" stroke-width="0" opacity="0.55"/>
<circle cx="483.33" cy="327.13" r="1.70" fill="#a8c6ec" stroke="none" stroke-width="0" opacity="0.55"/>
<circle cx="483.15" cy="327.96" r="1.70" fill="#a8c6ec" stroke="none" stroke-width="0" opacity="0.55"/>
<circle cx="475.24" cy="315.24" r="1.70" fill="#a8c6ec" stroke="none" stroke-width="0" opacity="0.55"/>
<circle cx="474.85" cy="319.44" r="1.70" fill="#a8c6ec" stroke="none" stroke-width="0" opacity="0.55"/>
<circle cx="475.65" cy="324.74" r="1.70" fill="#a8c6ec" stroke="none" stroke-width="0" opacity="0.55"/>
<circle cx="476.48" cy="335.97" r="1.70" fill="#a8c6ec" stroke="none" stroke-width="0" opacity="0.55"/>
<circle cx="477.37" cy="328.33" r="1.70" fill="#a8c6ec" stroke="none" stroke-width="0" opacity="0.55"/>
<circle cx="477.70" cy="333.84" r="1.70" fill="#a8c6ec" stroke="none" stroke-width="0" opacity="0.55"/>
<circle cx="478.92" cy="331.86" r="1.70" fill="#a8c6ec" stroke="none" stroke-width="0" opacity="0.55"/>
<circle cx="477.51" cy="326.99" r="1.70" fill="#a8c6ec" stroke="none" stroke-width="0" opacity="0.55"/>
<circle cx="475.43" cy="326.59" r="1.70" fill="#a8c6ec" stroke="none" stroke-width="0" opacity="0.55"/>
<circle cx="481.48" cy="314.90" r="1.70" fill="#a8c6ec" stroke="none" stroke-width="0" opacity="0.55"/>
<circle cx="480.33" cy="302.60" r="1.70" fill="#a8c6ec" stroke="none" stroke-width="0" opacity="0.55"/>
<circle cx="476.55" cy="333.82" r="1.70" fill="#a8c6ec" stroke="none" stroke-width="0" opacity="0.55"/>
<circle cx="483.56" cy="311.95" r="1.70" fill="#a8c6ec" stroke="none" stroke-width="0" opacity="0.55"/>
<circle cx="478.48" cy="322.42" r="1.70" fill="#a8c6ec" stroke="none" stroke-width="0" opacity="0.55"/>
<circle cx="483.41" cy="327.44" r="1.70" fill="#a8c6ec" stroke="none" stroke-width="0" opacity="0.55"/>
<circle cx="477.41" cy="318.30" r="1.70" fill="#a8c6ec" stroke="none" stroke-width="0" opacity="0.55"/>
<circle cx="480.50" cy="334.51" r="1.70" fill="#a8c6ec" stroke="none" stroke-width="0" opacity="0.55"/>
<circle cx="483.04" cy="331.94" r="1.70" fill="#a8c6ec" stroke="none" stroke-width="0" opacity="0.55"/>
<circle cx="479.61" cy="326.37" r="1.70" fill="#a8c6ec" stroke="none" stroke-width="0" opacity="0.55"/>
<circle cx="477.11" cy="331.65" r="1.70" fill="#a8c6ec" stroke="none" stroke-width="0" opacity="0.55"/>
<circle cx="482.78" cy="337.40" r="1.70" fill="#a8c6ec" stroke="none" stroke-width="0" opacity="0.55"/>
<circle cx="482.68" cy="320.78" r="1.70" fill="#a8c6ec" stroke="none" stroke-width="0" opacity="0.55"/>
<circle cx="479.28" cy="322.24" r="1.70" fill="#a8c6ec" stroke="none" stroke-width="0" opacity="0.55"/>
<circle cx="475.03" cy="309.81" r="1.70" fill="#a8c6ec" stroke="none" stroke-width="0" opacity="0.55"/>
<circle cx="478.59" cy="336.27" r="1.70" fill="#a8c6ec" stroke="none" stroke-width="0" opacity="0.55"/>
<circle cx="478.54" cy="332.87" r="1.70" fill="#a8c6ec" stroke="none" stroke-width="0" opacity="0.55"/>
<circle cx="481.81" cy="320.90" r="1.70" fill="#a8c6ec" stroke="none" stroke-width="0" opacity="0.55"/>
<circle cx="476.16" cy="334.07" r="1.70" fill="#a8c6ec" stroke="none" stroke-width="0" opacity="0.55"/>
<circle cx="482.18" cy="334.85" r="1.70" fill="#a8c6ec" stroke="none" stroke-width="0" opacity="0.55"/>
<circle cx="483.40" cy="327.34" r="1.70" fill="#a8c6ec" stroke="none" stroke-width="0" opacity="0.55"/>
<circle cx="483.38" cy="329.55" r="1.70" fill="#a8c6ec" stroke="none" stroke-width="0" opacity="0.55"/>
<circle cx="479.55" cy="307.43" r="1.70" fill="#a8c6ec" stroke="none" stroke-width="0" opacity="0.55"/>
<circle cx="476.19" cy="336.03" r="1.70" fill="#a8c6ec" stroke="none" stroke-width="0" opacity="0.55"/>
<circle cx="474.35" cy="334.81" r="1.70" fill="#a8c6ec" stroke="none" stroke-width="0" opacity="0.55"/>
<circle cx="477.82" cy="322.68" r="1.70" fill="#a8c6ec" stroke="none" stroke-width="0" opacity="0.55"/>
<circle cx="480.68" cy="335.34" r="1.70" fill="#a8c6ec" stroke="none" stroke-width="0" opacity="0.55"/>
<circle cx="480.91" cy="332.30" r="1.70" fill="#a8c6ec" stroke="none" stroke-width="0" opacity="0.55"/>
<circle cx="483.29" cy="335.72" r="1.70" fill="#a8c6ec" stroke="none" stroke-width="0" opacity="0.55"/>
<circle cx="474.61" cy="271.12" r="1.70" fill="#a8c6ec" stroke="none" stroke-width="0" opacity="0.55"/>
<circle cx="478.70" cy="287.40" r="1.70" fill="#a8c6ec" stroke="none" stroke-width="0" opacity="0.55"/>
<circle cx="482.01" cy="287.40" r="1.70" fill="#a8c6ec" stroke="none" stroke-width="0" opacity="0.55"/>
<circle cx="483.46" cy="299.93" r="1.70" fill="#a8c6ec" stroke="none" stroke-width="0" opacity="0.55"/>
<circle cx="474.62" cy="298.67" r="1.70" fill="#a8c6ec" stroke="none" stroke-width="0" opacity="0.55"/>
<circle cx="482.57" cy="304.94" r="1.70" fill="#a8c6ec" stroke="none" stroke-width="0" opacity="0.55"/>
<circle cx="495.00" cy="337.50" r="1.10" fill="#8f2a1e" stroke="none" stroke-width="0" opacity="0.7"/>
<circle cx="497.00" cy="337.50" r="1.10" fill="#8f2a1e" stroke="none" stroke-width="0" opacity="0.7"/>
<circle cx="499.00" cy="337.50" r="1.10" fill="#8f2a1e" stroke="none" stroke-width="0" opacity="0.7"/>
<circle cx="501.00" cy="337.50" r="1.10" fill="#8f2a1e" stroke="none" stroke-width="0" opacity="0.7"/>
<circle cx="503.00" cy="337.50" r="1.10" fill="#8f2a1e" stroke="none" stroke-width="0" opacity="0.7"/>
<circle cx="505.00" cy="337.50" r="1.10" fill="#8f2a1e" stroke="none" stroke-width="0" opacity="0.7"/>
<circle cx="504.50" cy="335.00" r="1.10" fill="#8f2a1e" stroke="none" stroke-width="0" opacity="0.7"/>
<line x1="458.55" y1="306.80" x2="458.55" y2="337.00" stroke="#1c3d12" stroke-width="0.6" />
<rect x="453.50" y="321.10" width="10.10" height="10.50" fill="#3f9a2f" stroke="#222" stroke-width="0.6" rx="0" />
<line x1="453.50" y1="328.50" x2="463.60" y2="328.50" stroke="#222" stroke-width="0.9" />
<line x1="478.70" y1="314.70" x2="478.70" y2="337.00" stroke="#2b3f5e" stroke-width="0.6" />
<rect x="473.20" y="324.80" width="11.00" height="8.40" fill="#a8c6ec" stroke="#222" stroke-width="0.6" rx="0" />
<line x1="473.20" y1="329.90" x2="484.20" y2="329.90" stroke="#222" stroke-width="0.9" />
<line x1="494.30" y1="337.50" x2="505.30" y2="337.50" stroke="#2a0a05" stroke-width="0.9" />
<path d="M458.6,227.6 L458.6,225.7 L499.4,225.7 L499.4,227.6" fill="none" stroke="#333" stroke-width="0.5" />
<text stroke="#1a1a1a" stroke-width="0.06" x="479.00" y="224.10" font-size="5" text-anchor="middle" fill="#1a1a1a">1.39×10<tspan font-size="3.2" dy="-1.8">−119</tspan></text>
<path d="M478.8,237.9 L478.8,236 L499.4,236 L499.4,237.9" fill="none" stroke="#333" stroke-width="0.5" />
<text stroke="#1a1a1a" stroke-width="0.06" x="489.10" y="234.40" font-size="5" text-anchor="middle" fill="#1a1a1a">1.63×10<tspan font-size="3.2" dy="-1.8">−110</tspan></text>
<path d="M458.6,248.3 L458.6,246.4 L478.8,246.4 L478.8,248.3" fill="none" stroke="#333" stroke-width="0.5" />
<text stroke="#1a1a1a" stroke-width="0.06" x="468.70" y="244.80" font-size="5" text-anchor="middle" fill="#1a1a1a">3.82×10<tspan font-size="3.2" dy="-1.8">−8</tspan></text>
<text x="514.20" y="211.00" font-size="11" text-anchor="start" font-weight="bold" font-style="normal" fill="#000"  >e</text>
<circle cx="557.70" cy="208.80" r="2.00" fill="#b7cdea" stroke="none" stroke-width="0" opacity="1"/>
<text x="565.60" y="211.80" font-size="7.83" text-anchor="start" font-weight="normal" font-style="normal" fill="#1a1a1a" stroke="#1a1a1a" stroke-width="0.06" >Tissue (n=1088)</text>
<circle cx="630.20" cy="209.00" r="2.00" fill="#8f2a1e" stroke="none" stroke-width="0" opacity="1"/>
<text x="637.80" y="211.80" font-size="7.83" text-anchor="start" font-weight="normal" font-style="normal" fill="#1a1a1a" stroke="#1a1a1a" stroke-width="0.06" >Blood</text>
<line x1="545.40" y1="216.90" x2="545.40" y2="341.30" stroke="#333" stroke-width="0.8" />
<line x1="545.00" y1="341.00" x2="685.00" y2="341.00" stroke="#a0a0a0" stroke-width="1.1" />
<line x1="543.60" y1="335.40" x2="545.40" y2="335.40" stroke="#333" stroke-width="0.6" />
<text x="543.00" y="337.33" font-size="5.4" text-anchor="end" font-weight="normal" font-style="normal" fill="#1a1a1a" stroke="#1a1a1a" stroke-width="0.06" >0.0</text>
<line x1="543.60" y1="296.57" x2="545.40" y2="296.57" stroke="#333" stroke-width="0.6" />
<text x="543.00" y="298.50" font-size="5.4" text-anchor="end" font-weight="normal" font-style="normal" fill="#1a1a1a" stroke="#1a1a1a" stroke-width="0.06" >0.1</text>
<line x1="543.60" y1="257.74" x2="545.40" y2="257.74" stroke="#333" stroke-width="0.6" />
<text x="543.00" y="259.67" font-size="5.4" text-anchor="end" font-weight="normal" font-style="normal" fill="#1a1a1a" stroke="#1a1a1a" stroke-width="0.06" >0.2</text>
<line x1="543.60" y1="218.91" x2="545.40" y2="218.91" stroke="#333" stroke-width="0.6" />
<text x="543.00" y="220.84" font-size="5.4" text-anchor="end" font-weight="normal" font-style="normal" fill="#1a1a1a" stroke="#1a1a1a" stroke-width="0.06" >0.3</text>
<line x1="583.40" y1="341.00" x2="583.40" y2="343.00" stroke="#333" stroke-width="0.6" />
<text x="583.40" y="348.35" font-size="4.9" text-anchor="middle" font-weight="normal" font-style="normal" fill="#1a1a1a" stroke="#1a1a1a" stroke-width="0.06" >1</text>
<line x1="623.50" y1="341.00" x2="623.50" y2="343.00" stroke="#333" stroke-width="0.6" />
<text x="623.50" y="348.35" font-size="4.9" text-anchor="middle" font-weight="normal" font-style="normal" fill="#1a1a1a" stroke="#1a1a1a" stroke-width="0.06" >100</text>
<line x1="663.60" y1="341.00" x2="663.60" y2="343.00" stroke="#333" stroke-width="0.6" />
<text x="663.60" y="348.35" font-size="4.9" text-anchor="middle" font-weight="normal" font-style="normal" fill="#1a1a1a" stroke="#1a1a1a" stroke-width="0.06" >10000</text>
<text x="614.70" y="355.95" font-size="6.85" text-anchor="middle" font-weight="normal" font-style="normal" fill="#1a1a1a" stroke="#1a1a1a" stroke-width="0.06" >Average of Kraken2−mapped reads</text>
<text stroke="#1a1a1a" stroke-width="0.06" transform="translate(520,284.3) rotate(-90)" font-size="7.05" text-anchor="middle" fill="#1a1a1a"><tspan x="0" dy="0">Average of genome coverage</tspan><tspan x="0" dy="7.9">of tissue-resident species</tspan></text>
<circle cx="546.30" cy="335.00" r="1.65" fill="#8f2a1e" stroke="none" stroke-width="0" opacity="0.9"/>
<circle cx="551.60" cy="335.00" r="1.65" fill="#8f2a1e" stroke="none" stroke-width="0" opacity="0.9"/>
<circle cx="556.80" cy="335.00" r="1.65" fill="#8f2a1e" stroke="none" stroke-width="0" opacity="0.9"/>
<circle cx="561.50" cy="335.00" r="1.65" fill="#8f2a1e" stroke="none" stroke-width="0" opacity="0.9"/>
<circle cx="564.50" cy="335.00" r="1.65" fill="#8f2a1e" stroke="none" stroke-width="0" opacity="0.9"/>
<circle cx="567.20" cy="335.00" r="1.65" fill="#8f2a1e" stroke="none" stroke-width="0" opacity="0.9"/>
<circle cx="570.00" cy="335.00" r="1.65" fill="#8f2a1e" stroke="none" stroke-width="0" opacity="0.9"/>
<circle cx="572.70" cy="335.00" r="1.65" fill="#8f2a1e" stroke="none" stroke-width="0" opacity="0.9"/>
<circle cx="575.30" cy="335.00" r="1.65" fill="#8f2a1e" stroke="none" stroke-width="0" opacity="0.9"/>
<circle cx="578.00" cy="335.00" r="1.65" fill="#8f2a1e" stroke="none" stroke-width="0" opacity="0.9"/>
<circle cx="580.60" cy="335.00" r="1.65" fill="#8f2a1e" stroke="none" stroke-width="0" opacity="0.9"/>
<circle cx="583.30" cy="335.00" r="1.65" fill="#8f2a1e" stroke="none" stroke-width="0" opacity="0.9"/>
<circle cx="586.00" cy="335.00" r="1.65" fill="#8f2a1e" stroke="none" stroke-width="0" opacity="0.9"/>
<circle cx="588.60" cy="335.00" r="1.65" fill="#8f2a1e" stroke="none" stroke-width="0" opacity="0.9"/>
<circle cx="591.30" cy="335.00" r="1.65" fill="#8f2a1e" stroke="none" stroke-width="0" opacity="0.9"/>
<circle cx="594.00" cy="335.00" r="1.65" fill="#8f2a1e" stroke="none" stroke-width="0" opacity="0.9"/>
<circle cx="596.50" cy="335.00" r="1.65" fill="#8f2a1e" stroke="none" stroke-width="0" opacity="0.9"/>
<circle cx="599.00" cy="335.00" r="1.65" fill="#8f2a1e" stroke="none" stroke-width="0" opacity="0.9"/>
<circle cx="601.60" cy="335.00" r="1.65" fill="#8f2a1e" stroke="none" stroke-width="0" opacity="0.9"/>
<circle cx="604.30" cy="335.00" r="1.65" fill="#8f2a1e" stroke="none" stroke-width="0" opacity="0.9"/>
<circle cx="607.00" cy="335.00" r="1.65" fill="#8f2a1e" stroke="none" stroke-width="0" opacity="0.9"/>
<circle cx="609.50" cy="335.00" r="1.65" fill="#8f2a1e" stroke="none" stroke-width="0" opacity="0.9"/>
<circle cx="613.00" cy="335.00" r="1.65" fill="#8f2a1e" stroke="none" stroke-width="0" opacity="0.9"/>
<circle cx="614.50" cy="335.00" r="1.65" fill="#8f2a1e" stroke="none" stroke-width="0" opacity="0.9"/>
<circle cx="621.70" cy="335.00" r="1.65" fill="#8f2a1e" stroke="none" stroke-width="0" opacity="0.9"/>
<circle cx="631.50" cy="335.00" r="1.65" fill="#8f2a1e" stroke="none" stroke-width="0" opacity="0.9"/>
<circle cx="635.40" cy="335.00" r="1.65" fill="#8f2a1e" stroke="none" stroke-width="0" opacity="0.9"/>
<circle cx="638.00" cy="335.00" r="1.65" fill="#8f2a1e" stroke="none" stroke-width="0" opacity="0.9"/>
<circle cx="641.30" cy="335.00" r="1.65" fill="#8f2a1e" stroke="none" stroke-width="0" opacity="0.9"/>
<circle cx="643.83" cy="310.63" r="1.85" fill="#adc6e8" stroke="none" stroke-width="0" opacity="0.7"/>
<circle cx="657.69" cy="311.73" r="1.85" fill="#adc6e8" stroke="none" stroke-width="0" opacity="0.7"/>
<circle cx="650.92" cy="318.12" r="1.85" fill="#adc6e8" stroke="none" stroke-width="0" opacity="0.7"/>
<circle cx="645.43" cy="323.96" r="1.85" fill="#adc6e8" stroke="none" stroke-width="0" opacity="0.7"/>
<circle cx="652.11" cy="319.94" r="1.85" fill="#adc6e8" stroke="none" stroke-width="0" opacity="0.7"/>
<circle cx="643.88" cy="326.09" r="1.85" fill="#adc6e8" stroke="none" stroke-width="0" opacity="0.7"/>
<circle cx="651.98" cy="323.79" r="1.85" fill="#adc6e8" stroke="none" stroke-width="0" opacity="0.7"/>
<circle cx="650.12" cy="326.80" r="1.85" fill="#adc6e8" stroke="none" stroke-width="0" opacity="0.7"/>
<circle cx="653.85" cy="324.38" r="1.85" fill="#adc6e8" stroke="none" stroke-width="0" opacity="0.7"/>
<circle cx="659.65" cy="324.74" r="1.85" fill="#adc6e8" stroke="none" stroke-width="0" opacity="0.7"/>
<circle cx="668.72" cy="307.17" r="1.85" fill="#adc6e8" stroke="none" stroke-width="0" opacity="0.7"/>
<circle cx="656.75" cy="325.69" r="1.85" fill="#adc6e8" stroke="none" stroke-width="0" opacity="0.7"/>
<circle cx="658.43" cy="327.29" r="1.85" fill="#adc6e8" stroke="none" stroke-width="0" opacity="0.7"/>
<circle cx="658.11" cy="324.90" r="1.85" fill="#adc6e8" stroke="none" stroke-width="0" opacity="0.7"/>
<circle cx="648.78" cy="320.54" r="1.85" fill="#adc6e8" stroke="none" stroke-width="0" opacity="0.7"/>
<circle cx="646.64" cy="316.56" r="1.85" fill="#adc6e8" stroke="none" stroke-width="0" opacity="0.7"/>
<circle cx="652.54" cy="320.36" r="1.85" fill="#adc6e8" stroke="none" stroke-width="0" opacity="0.7"/>
<circle cx="656.29" cy="313.67" r="1.85" fill="#adc6e8" stroke="none" stroke-width="0" opacity="0.7"/>
<circle cx="654.49" cy="318.56" r="1.85" fill="#adc6e8" stroke="none" stroke-width="0" opacity="0.7"/>
<circle cx="652.63" cy="332.75" r="1.85" fill="#adc6e8" stroke="none" stroke-width="0" opacity="0.7"/>
<circle cx="652.23" cy="320.08" r="1.85" fill="#adc6e8" stroke="none" stroke-width="0" opacity="0.7"/>
<circle cx="649.23" cy="312.23" r="1.85" fill="#adc6e8" stroke="none" stroke-width="0" opacity="0.7"/>
<circle cx="645.81" cy="319.71" r="1.85" fill="#adc6e8" stroke="none" stroke-width="0" opacity="0.7"/>
<circle cx="655.43" cy="320.17" r="1.85" fill="#adc6e8" stroke="none" stroke-width="0" opacity="0.7"/>
<circle cx="642.61" cy="322.79" r="1.85" fill="#adc6e8" stroke="none" stroke-width="0" opacity="0.7"/>
<circle cx="661.85" cy="330.54" r="1.85" fill="#adc6e8" stroke="none" stroke-width="0" opacity="0.7"/>
<circle cx="649.07" cy="308.50" r="1.85" fill="#adc6e8" stroke="none" stroke-width="0" opacity="0.7"/>
<circle cx="649.23" cy="324.66" r="1.85" fill="#adc6e8" stroke="none" stroke-width="0" opacity="0.7"/>
<circle cx="667.28" cy="305.81" r="1.85" fill="#adc6e8" stroke="none" stroke-width="0" opacity="0.7"/>
<circle cx="646.64" cy="318.55" r="1.85" fill="#adc6e8" stroke="none" stroke-width="0" opacity="0.7"/>
<circle cx="644.97" cy="324.11" r="1.85" fill="#adc6e8" stroke="none" stroke-width="0" opacity="0.7"/>
<circle cx="644.96" cy="326.76" r="1.85" fill="#adc6e8" stroke="none" stroke-width="0" opacity="0.7"/>
<circle cx="649.03" cy="304.78" r="1.85" fill="#adc6e8" stroke="none" stroke-width="0" opacity="0.7"/>
<circle cx="651.33" cy="330.25" r="1.85" fill="#adc6e8" stroke="none" stroke-width="0" opacity="0.7"/>
<circle cx="649.75" cy="324.19" r="1.85" fill="#adc6e8" stroke="none" stroke-width="0" opacity="0.7"/>
<circle cx="644.45" cy="316.66" r="1.85" fill="#adc6e8" stroke="none" stroke-width="0" opacity="0.7"/>
<circle cx="663.73" cy="326.81" r="1.85" fill="#adc6e8" stroke="none" stroke-width="0" opacity="0.7"/>
<circle cx="648.84" cy="320.87" r="1.85" fill="#adc6e8" stroke="none" stroke-width="0" opacity="0.7"/>
<circle cx="661.13" cy="326.51" r="1.85" fill="#adc6e8" stroke="none" stroke-width="0" opacity="0.7"/>
<circle cx="656.00" cy="321.41" r="1.85" fill="#adc6e8" stroke="none" stroke-width="0" opacity="0.7"/>
<circle cx="656.10" cy="304.09" r="1.85" fill="#adc6e8" stroke="none" stroke-width="0" opacity="0.7"/>
<circle cx="643.04" cy="327.50" r="1.85" fill="#adc6e8" stroke="none" stroke-width="0" opacity="0.7"/>
<circle cx="656.27" cy="322.65" r="1.85" fill="#adc6e8" stroke="none" stroke-width="0" opacity="0.7"/>
<circle cx="648.56" cy="329.38" r="1.85" fill="#adc6e8" stroke="none" stroke-width="0" opacity="0.7"/>
<circle cx="667.11" cy="322.34" r="1.85" fill="#adc6e8" stroke="none" stroke-width="0" opacity="0.7"/>
<circle cx="652.72" cy="301.60" r="1.85" fill="#adc6e8" stroke="none" stroke-width="0" opacity="0.7"/>
<circle cx="648.21" cy="329.36" r="1.85" fill="#adc6e8" stroke="none" stroke-width="0" opacity="0.7"/>
<circle cx="659.00" cy="305.72" r="1.85" fill="#adc6e8" stroke="none" stroke-width="0" opacity="0.7"/>
<circle cx="655.02" cy="309.76" r="1.85" fill="#adc6e8" stroke="none" stroke-width="0" opacity="0.7"/>
<circle cx="655.76" cy="317.14" r="1.85" fill="#adc6e8" stroke="none" stroke-width="0" opacity="0.7"/>
<circle cx="651.43" cy="324.96" r="1.85" fill="#adc6e8" stroke="none" stroke-width="0" opacity="0.7"/>
<circle cx="665.63" cy="328.77" r="1.85" fill="#adc6e8" stroke="none" stroke-width="0" opacity="0.7"/>
<circle cx="666.62" cy="321.34" r="1.85" fill="#adc6e8" stroke="none" stroke-width="0" opacity="0.7"/>
<circle cx="649.41" cy="325.64" r="1.85" fill="#adc6e8" stroke="none" stroke-width="0" opacity="0.7"/>
<circle cx="658.04" cy="323.14" r="1.85" fill="#adc6e8" stroke="none" stroke-width="0" opacity="0.7"/>
<circle cx="654.52" cy="326.88" r="1.85" fill="#adc6e8" stroke="none" stroke-width="0" opacity="0.7"/>
<circle cx="653.75" cy="328.50" r="1.85" fill="#adc6e8" stroke="none" stroke-width="0" opacity="0.7"/>
<circle cx="650.14" cy="318.56" r="1.85" fill="#adc6e8" stroke="none" stroke-width="0" opacity="0.7"/>
<circle cx="670.34" cy="296.99" r="1.85" fill="#adc6e8" stroke="none" stroke-width="0" opacity="0.7"/>
<circle cx="636.54" cy="323.92" r="1.85" fill="#adc6e8" stroke="none" stroke-width="0" opacity="0.7"/>
<circle cx="659.74" cy="320.08" r="1.85" fill="#adc6e8" stroke="none" stroke-width="0" opacity="0.7"/>
<circle cx="629.87" cy="325.38" r="1.85" fill="#adc6e8" stroke="none" stroke-width="0" opacity="0.7"/>
<circle cx="647.59" cy="326.22" r="1.85" fill="#adc6e8" stroke="none" stroke-width="0" opacity="0.7"/>
<circle cx="651.89" cy="324.74" r="1.85" fill="#adc6e8" stroke="none" stroke-width="0" opacity="0.7"/>
<circle cx="648.51" cy="330.77" r="1.85" fill="#adc6e8" stroke="none" stroke-width="0" opacity="0.7"/>
<circle cx="667.76" cy="312.18" r="1.85" fill="#adc6e8" stroke="none" stroke-width="0" opacity="0.7"/>
<circle cx="640.07" cy="327.52" r="1.85" fill="#adc6e8" stroke="none" stroke-width="0" opacity="0.7"/>
<circle cx="657.92" cy="322.43" r="1.85" fill="#adc6e8" stroke="none" stroke-width="0" opacity="0.7"/>
<circle cx="660.10" cy="318.75" r="1.85" fill="#adc6e8" stroke="none" stroke-width="0" opacity="0.7"/>
<circle cx="654.86" cy="293.84" r="1.85" fill="#adc6e8" stroke="none" stroke-width="0" opacity="0.7"/>
<circle cx="643.25" cy="326.18" r="1.85" fill="#adc6e8" stroke="none" stroke-width="0" opacity="0.7"/>
<circle cx="643.73" cy="322.98" r="1.85" fill="#adc6e8" stroke="none" stroke-width="0" opacity="0.7"/>
<circle cx="663.67" cy="315.54" r="1.85" fill="#adc6e8" stroke="none" stroke-width="0" opacity="0.7"/>
<circle cx="662.44" cy="321.74" r="1.85" fill="#adc6e8" stroke="none" stroke-width="0" opacity="0.7"/>
<circle cx="660.22" cy="319.59" r="1.85" fill="#adc6e8" stroke="none" stroke-width="0" opacity="0.7"/>
<circle cx="648.92" cy="324.40" r="1.85" fill="#adc6e8" stroke="none" stroke-width="0" opacity="0.7"/>
<circle cx="654.77" cy="316.36" r="1.85" fill="#adc6e8" stroke="none" stroke-width="0" opacity="0.7"/>
<circle cx="654.07" cy="315.56" r="1.85" fill="#adc6e8" stroke="none" stroke-width="0" opacity="0.7"/>
<circle cx="656.65" cy="321.47" r="1.85" fill="#adc6e8" stroke="none" stroke-width="0" opacity="0.7"/>
<circle cx="653.35" cy="315.19" r="1.85" fill="#adc6e8" stroke="none" stroke-width="0" opacity="0.7"/>
<circle cx="659.72" cy="322.61" r="1.85" fill="#adc6e8" stroke="none" stroke-width="0" opacity="0.7"/>
<circle cx="666.02" cy="324.13" r="1.85" fill="#adc6e8" stroke="none" stroke-width="0" opacity="0.7"/>
<circle cx="647.99" cy="318.16" r="1.85" fill="#adc6e8" stroke="none" stroke-width="0" opacity="0.7"/>
<circle cx="650.09" cy="318.40" r="1.85" fill="#adc6e8" stroke="none" stroke-width="0" opacity="0.7"/>
<circle cx="647.07" cy="321.52" r="1.85" fill="#adc6e8" stroke="none" stroke-width="0" opacity="0.7"/>
<circle cx="667.45" cy="316.66" r="1.85" fill="#adc6e8" stroke="none" stroke-width="0" opacity="0.7"/>
<circle cx="658.36" cy="328.98" r="1.85" fill="#adc6e8" stroke="none" stroke-width="0" opacity="0.7"/>
<circle cx="661.66" cy="316.91" r="1.85" fill="#adc6e8" stroke="none" stroke-width="0" opacity="0.7"/>
<circle cx="647.23" cy="303.45" r="1.85" fill="#adc6e8" stroke="none" stroke-width="0" opacity="0.7"/>
<circle cx="664.01" cy="311.89" r="1.85" fill="#adc6e8" stroke="none" stroke-width="0" opacity="0.7"/>
<circle cx="657.96" cy="316.59" r="1.85" fill="#adc6e8" stroke="none" stroke-width="0" opacity="0.7"/>
<circle cx="651.86" cy="315.50" r="1.85" fill="#adc6e8" stroke="none" stroke-width="0" opacity="0.7"/>
<circle cx="664.67" cy="318.44" r="1.85" fill="#adc6e8" stroke="none" stroke-width="0" opacity="0.7"/>
<circle cx="646.85" cy="312.39" r="1.85" fill="#adc6e8" stroke="none" stroke-width="0" opacity="0.7"/>
<circle cx="645.82" cy="311.94" r="1.85" fill="#adc6e8" stroke="none" stroke-width="0" opacity="0.7"/>
<circle cx="655.93" cy="312.05" r="1.85" fill="#adc6e8" stroke="none" stroke-width="0" opacity="0.7"/>
<circle cx="646.70" cy="327.07" r="1.85" fill="#adc6e8" stroke="none" stroke-width="0" opacity="0.7"/>
<circle cx="659.18" cy="331.03" r="1.85" fill="#adc6e8" stroke="none" stroke-width="0" opacity="0.7"/>
<circle cx="649.09" cy="308.52" r="1.85" fill="#adc6e8" stroke="none" stroke-width="0" opacity="0.7"/>
<circle cx="655.96" cy="313.83" r="1.85" fill="#adc6e8" stroke="none" stroke-width="0" opacity="0.7"/>
<circle cx="656.43" cy="331.10" r="1.85" fill="#adc6e8" stroke="none" stroke-width="0" opacity="0.7"/>
<circle cx="658.57" cy="316.32" r="1.85" fill="#adc6e8" stroke="none" stroke-width="0" opacity="0.7"/>
<circle cx="655.08" cy="320.19" r="1.85" fill="#adc6e8" stroke="none" stroke-width="0" opacity="0.7"/>
<circle cx="648.86" cy="319.52" r="1.85" fill="#adc6e8" stroke="none" stroke-width="0" opacity="0.7"/>
<circle cx="659.30" cy="325.89" r="1.85" fill="#adc6e8" stroke="none" stroke-width="0" opacity="0.7"/>
<circle cx="650.78" cy="315.01" r="1.85" fill="#adc6e8" stroke="none" stroke-width="0" opacity="0.7"/>
<circle cx="657.55" cy="317.63" r="1.85" fill="#adc6e8" stroke="none" stroke-width="0" opacity="0.7"/>
<circle cx="644.68" cy="321.69" r="1.85" fill="#adc6e8" stroke="none" stroke-width="0" opacity="0.7"/>
<circle cx="653.30" cy="309.06" r="1.85" fill="#adc6e8" stroke="none" stroke-width="0" opacity="0.7"/>
<circle cx="660.83" cy="327.02" r="1.85" fill="#adc6e8" stroke="none" stroke-width="0" opacity="0.7"/>
<circle cx="654.38" cy="294.39" r="1.85" fill="#adc6e8" stroke="none" stroke-width="0" opacity="0.7"/>
<circle cx="655.02" cy="330.09" r="1.85" fill="#adc6e8" stroke="none" stroke-width="0" opacity="0.7"/>
<circle cx="657.59" cy="325.99" r="1.85" fill="#adc6e8" stroke="none" stroke-width="0" opacity="0.7"/>
<circle cx="661.36" cy="320.00" r="1.85" fill="#adc6e8" stroke="none" stroke-width="0" opacity="0.7"/>
<circle cx="661.71" cy="299.52" r="1.85" fill="#adc6e8" stroke="none" stroke-width="0" opacity="0.7"/>
<circle cx="649.44" cy="307.07" r="1.85" fill="#adc6e8" stroke="none" stroke-width="0" opacity="0.7"/>
<circle cx="640.13" cy="324.35" r="1.85" fill="#adc6e8" stroke="none" stroke-width="0" opacity="0.7"/>
<circle cx="658.34" cy="322.33" r="1.85" fill="#adc6e8" stroke="none" stroke-width="0" opacity="0.7"/>
<circle cx="658.05" cy="329.48" r="1.85" fill="#adc6e8" stroke="none" stroke-width="0" opacity="0.7"/>
<circle cx="652.62" cy="329.29" r="1.85" fill="#adc6e8" stroke="none" stroke-width="0" opacity="0.7"/>
<circle cx="656.01" cy="326.61" r="1.85" fill="#adc6e8" stroke="none" stroke-width="0" opacity="0.7"/>
<circle cx="659.17" cy="313.34" r="1.85" fill="#adc6e8" stroke="none" stroke-width="0" opacity="0.7"/>
<circle cx="662.95" cy="304.31" r="1.85" fill="#adc6e8" stroke="none" stroke-width="0" opacity="0.7"/>
<circle cx="660.69" cy="324.44" r="1.85" fill="#adc6e8" stroke="none" stroke-width="0" opacity="0.7"/>
<circle cx="646.43" cy="308.47" r="1.85" fill="#adc6e8" stroke="none" stroke-width="0" opacity="0.7"/>
<circle cx="656.72" cy="327.12" r="1.85" fill="#adc6e8" stroke="none" stroke-width="0" opacity="0.7"/>
<circle cx="660.97" cy="326.68" r="1.85" fill="#adc6e8" stroke="none" stroke-width="0" opacity="0.7"/>
<circle cx="654.81" cy="329.68" r="1.85" fill="#adc6e8" stroke="none" stroke-width="0" opacity="0.7"/>
<circle cx="658.21" cy="327.58" r="1.85" fill="#adc6e8" stroke="none" stroke-width="0" opacity="0.7"/>
<circle cx="652.44" cy="313.49" r="1.85" fill="#adc6e8" stroke="none" stroke-width="0" opacity="0.7"/>
<circle cx="676.63" cy="320.21" r="1.85" fill="#adc6e8" stroke="none" stroke-width="0" opacity="0.7"/>
<circle cx="655.74" cy="314.80" r="1.85" fill="#adc6e8" stroke="none" stroke-width="0" opacity="0.7"/>
<circle cx="643.71" cy="321.53" r="1.85" fill="#adc6e8" stroke="none" stroke-width="0" opacity="0.7"/>
<circle cx="652.94" cy="324.26" r="1.85" fill="#adc6e8" stroke="none" stroke-width="0" opacity="0.7"/>
<circle cx="648.92" cy="317.43" r="1.85" fill="#adc6e8" stroke="none" stroke-width="0" opacity="0.7"/>
<circle cx="659.73" cy="322.24" r="1.85" fill="#adc6e8" stroke="none" stroke-width="0" opacity="0.7"/>
<circle cx="646.56" cy="321.41" r="1.85" fill="#adc6e8" stroke="none" stroke-width="0" opacity="0.7"/>
<circle cx="652.85" cy="319.97" r="1.85" fill="#adc6e8" stroke="none" stroke-width="0" opacity="0.7"/>
<circle cx="646.31" cy="316.42" r="1.85" fill="#adc6e8" stroke="none" stroke-width="0" opacity="0.7"/>
<circle cx="643.81" cy="313.36" r="1.85" fill="#adc6e8" stroke="none" stroke-width="0" opacity="0.7"/>
<circle cx="655.92" cy="318.18" r="1.85" fill="#adc6e8" stroke="none" stroke-width="0" opacity="0.7"/>
<circle cx="652.59" cy="305.35" r="1.85" fill="#adc6e8" stroke="none" stroke-width="0" opacity="0.7"/>
<circle cx="652.18" cy="323.08" r="1.85" fill="#adc6e8" stroke="none" stroke-width="0" opacity="0.7"/>
<circle cx="657.45" cy="306.71" r="1.85" fill="#adc6e8" stroke="none" stroke-width="0" opacity="0.7"/>
<circle cx="647.27" cy="314.17" r="1.85" fill="#adc6e8" stroke="none" stroke-width="0" opacity="0.7"/>
<circle cx="656.23" cy="323.58" r="1.85" fill="#adc6e8" stroke="none" stroke-width="0" opacity="0.7"/>
<circle cx="655.63" cy="302.47" r="1.85" fill="#adc6e8" stroke="none" stroke-width="0" opacity="0.7"/>
<circle cx="670.51" cy="310.54" r="1.85" fill="#adc6e8" stroke="none" stroke-width="0" opacity="0.7"/>
<circle cx="652.71" cy="308.05" r="1.85" fill="#adc6e8" stroke="none" stroke-width="0" opacity="0.7"/>
<circle cx="654.04" cy="302.57" r="1.85" fill="#adc6e8" stroke="none" stroke-width="0" opacity="0.7"/>
<circle cx="641.16" cy="321.48" r="1.85" fill="#adc6e8" stroke="none" stroke-width="0" opacity="0.7"/>
<circle cx="642.94" cy="323.99" r="1.85" fill="#adc6e8" stroke="none" stroke-width="0" opacity="0.7"/>
<circle cx="645.65" cy="301.79" r="1.85" fill="#adc6e8" stroke="none" stroke-width="0" opacity="0.7"/>
<circle cx="657.11" cy="307.20" r="1.85" fill="#adc6e8" stroke="none" stroke-width="0" opacity="0.7"/>
<circle cx="651.33" cy="321.91" r="1.85" fill="#adc6e8" stroke="none" stroke-width="0" opacity="0.7"/>
<circle cx="652.32" cy="322.67" r="1.85" fill="#adc6e8" stroke="none" stroke-width="0" opacity="0.7"/>
<circle cx="660.72" cy="327.47" r="1.85" fill="#adc6e8" stroke="none" stroke-width="0" opacity="0.7"/>
<circle cx="654.61" cy="325.11" r="1.85" fill="#adc6e8" stroke="none" stroke-width="0" opacity="0.7"/>
<circle cx="659.43" cy="323.80" r="1.85" fill="#adc6e8" stroke="none" stroke-width="0" opacity="0.7"/>
<circle cx="655.14" cy="328.88" r="1.85" fill="#adc6e8" stroke="none" stroke-width="0" opacity="0.7"/>
<circle cx="643.61" cy="332.30" r="1.85" fill="#adc6e8" stroke="none" stroke-width="0" opacity="0.7"/>
<circle cx="661.40" cy="323.76" r="1.85" fill="#adc6e8" stroke="none" stroke-width="0" opacity="0.7"/>
<circle cx="645.50" cy="315.56" r="1.85" fill="#adc6e8" stroke="none" stroke-width="0" opacity="0.7"/>
<circle cx="648.95" cy="312.39" r="1.85" fill="#adc6e8" stroke="none" stroke-width="0" opacity="0.7"/>
<circle cx="653.70" cy="304.83" r="1.85" fill="#adc6e8" stroke="none" stroke-width="0" opacity="0.7"/>
<circle cx="645.16" cy="328.54" r="1.85" fill="#adc6e8" stroke="none" stroke-width="0" opacity="0.7"/>
<circle cx="661.72" cy="320.88" r="1.85" fill="#adc6e8" stroke="none" stroke-width="0" opacity="0.7"/>
<circle cx="654.45" cy="310.10" r="1.85" fill="#adc6e8" stroke="none" stroke-width="0" opacity="0.7"/>
<circle cx="657.40" cy="304.22" r="1.85" fill="#adc6e8" stroke="none" stroke-width="0" opacity="0.7"/>
<circle cx="663.95" cy="306.69" r="1.85" fill="#adc6e8" stroke="none" stroke-width="0" opacity="0.7"/>
<circle cx="658.99" cy="326.97" r="1.85" fill="#adc6e8" stroke="none" stroke-width="0" opacity="0.7"/>
<circle cx="653.14" cy="321.07" r="1.85" fill="#adc6e8" stroke="none" stroke-width="0" opacity="0.7"/>
<circle cx="662.58" cy="312.93" r="1.85" fill="#adc6e8" stroke="none" stroke-width="0" opacity="0.7"/>
<circle cx="641.60" cy="311.73" r="1.85" fill="#adc6e8" stroke="none" stroke-width="0" opacity="0.7"/>
<circle cx="652.90" cy="322.83" r="1.85" fill="#adc6e8" stroke="none" stroke-width="0" opacity="0.7"/>
<circle cx="660.35" cy="326.12" r="1.85" fill="#adc6e8" stroke="none" stroke-width="0" opacity="0.7"/>
<circle cx="655.08" cy="327.05" r="1.85" fill="#adc6e8" stroke="none" stroke-width="0" opacity="0.7"/>
<circle cx="654.85" cy="316.63" r="1.85" fill="#adc6e8" stroke="none" stroke-width="0" opacity="0.7"/>
<circle cx="652.20" cy="304.15" r="1.85" fill="#adc6e8" stroke="none" stroke-width="0" opacity="0.7"/>
<circle cx="639.54" cy="319.28" r="1.85" fill="#adc6e8" stroke="none" stroke-width="0" opacity="0.7"/>
<circle cx="650.31" cy="326.50" r="1.85" fill="#adc6e8" stroke="none" stroke-width="0" opacity="0.7"/>
<circle cx="665.07" cy="329.34" r="1.85" fill="#adc6e8" stroke="none" stroke-width="0" opacity="0.7"/>
<circle cx="662.02" cy="326.45" r="1.85" fill="#adc6e8" stroke="none" stroke-width="0" opacity="0.7"/>
<circle cx="641.16" cy="316.27" r="1.85" fill="#adc6e8" stroke="none" stroke-width="0" opacity="0.7"/>
<circle cx="640.33" cy="306.76" r="1.85" fill="#adc6e8" stroke="none" stroke-width="0" opacity="0.7"/>
<circle cx="646.48" cy="330.57" r="1.85" fill="#adc6e8" stroke="none" stroke-width="0" opacity="0.7"/>
<circle cx="649.09" cy="321.68" r="1.85" fill="#adc6e8" stroke="none" stroke-width="0" opacity="0.7"/>
<circle cx="647.59" cy="306.73" r="1.85" fill="#adc6e8" stroke="none" stroke-width="0" opacity="0.7"/>
<circle cx="653.73" cy="319.11" r="1.85" fill="#adc6e8" stroke="none" stroke-width="0" opacity="0.7"/>
<circle cx="649.92" cy="319.87" r="1.85" fill="#adc6e8" stroke="none" stroke-width="0" opacity="0.7"/>
<circle cx="664.02" cy="316.36" r="1.85" fill="#adc6e8" stroke="none" stroke-width="0" opacity="0.7"/>
<circle cx="652.86" cy="317.08" r="1.85" fill="#adc6e8" stroke="none" stroke-width="0" opacity="0.7"/>
<circle cx="670.86" cy="311.55" r="1.85" fill="#adc6e8" stroke="none" stroke-width="0" opacity="0.7"/>
<circle cx="644.05" cy="309.54" r="1.85" fill="#adc6e8" stroke="none" stroke-width="0" opacity="0.7"/>
<circle cx="659.13" cy="325.47" r="1.85" fill="#adc6e8" stroke="none" stroke-width="0" opacity="0.7"/>
<circle cx="650.04" cy="328.24" r="1.85" fill="#adc6e8" stroke="none" stroke-width="0" opacity="0.7"/>
<circle cx="645.84" cy="303.17" r="1.85" fill="#adc6e8" stroke="none" stroke-width="0" opacity="0.7"/>
<circle cx="653.65" cy="319.18" r="1.85" fill="#adc6e8" stroke="none" stroke-width="0" opacity="0.7"/>
<circle cx="664.87" cy="314.73" r="1.85" fill="#adc6e8" stroke="none" stroke-width="0" opacity="0.7"/>
<circle cx="654.06" cy="323.55" r="1.85" fill="#adc6e8" stroke="none" stroke-width="0" opacity="0.7"/>
<circle cx="653.65" cy="318.46" r="1.85" fill="#adc6e8" stroke="none" stroke-width="0" opacity="0.7"/>
<circle cx="652.76" cy="317.39" r="1.85" fill="#adc6e8" stroke="none" stroke-width="0" opacity="0.7"/>
<circle cx="659.38" cy="325.52" r="1.85" fill="#adc6e8" stroke="none" stroke-width="0" opacity="0.7"/>
<circle cx="644.02" cy="306.06" r="1.85" fill="#adc6e8" stroke="none" stroke-width="0" opacity="0.7"/>
<circle cx="662.95" cy="318.16" r="1.85" fill="#adc6e8" stroke="none" stroke-width="0" opacity="0.7"/>
<circle cx="666.90" cy="323.32" r="1.85" fill="#adc6e8" stroke="none" stroke-width="0" opacity="0.7"/>
<circle cx="651.32" cy="324.07" r="1.85" fill="#adc6e8" stroke="none" stroke-width="0" opacity="0.7"/>
<circle cx="665.55" cy="297.22" r="1.85" fill="#adc6e8" stroke="none" stroke-width="0" opacity="0.7"/>
<circle cx="655.90" cy="323.33" r="1.85" fill="#adc6e8" stroke="none" stroke-width="0" opacity="0.7"/>
<circle cx="649.34" cy="318.19" r="1.85" fill="#adc6e8" stroke="none" stroke-width="0" opacity="0.7"/>
<circle cx="661.04" cy="285.91" r="1.85" fill="#adc6e8" stroke="none" stroke-width="0" opacity="0.7"/>
<circle cx="653.57" cy="320.90" r="1.85" fill="#adc6e8" stroke="none" stroke-width="0" opacity="0.7"/>
<circle cx="652.83" cy="304.38" r="1.85" fill="#adc6e8" stroke="none" stroke-width="0" opacity="0.7"/>
<circle cx="642.80" cy="323.46" r="1.85" fill="#adc6e8" stroke="none" stroke-width="0" opacity="0.7"/>
<circle cx="652.40" cy="319.70" r="1.85" fill="#adc6e8" stroke="none" stroke-width="0" opacity="0.7"/>
<circle cx="650.97" cy="317.26" r="1.85" fill="#adc6e8" stroke="none" stroke-width="0" opacity="0.7"/>
<circle cx="654.07" cy="323.83" r="1.85" fill="#adc6e8" stroke="none" stroke-width="0" opacity="0.7"/>
<circle cx="653.58" cy="316.90" r="1.85" fill="#adc6e8" stroke="none" stroke-width="0" opacity="0.7"/>
<circle cx="645.19" cy="317.44" r="1.85" fill="#adc6e8" stroke="none" stroke-width="0" opacity="0.7"/>
<circle cx="652.79" cy="314.80" r="1.85" fill="#adc6e8" stroke="none" stroke-width="0" opacity="0.7"/>
<circle cx="666.56" cy="326.77" r="1.85" fill="#adc6e8" stroke="none" stroke-width="0" opacity="0.7"/>
<circle cx="655.39" cy="326.09" r="1.85" fill="#adc6e8" stroke="none" stroke-width="0" opacity="0.7"/>
<circle cx="647.27" cy="319.86" r="1.85" fill="#adc6e8" stroke="none" stroke-width="0" opacity="0.7"/>
<circle cx="650.33" cy="326.93" r="1.85" fill="#adc6e8" stroke="none" stroke-width="0" opacity="0.7"/>
<circle cx="660.56" cy="324.87" r="1.85" fill="#adc6e8" stroke="none" stroke-width="0" opacity="0.7"/>
<circle cx="649.86" cy="323.58" r="1.85" fill="#adc6e8" stroke="none" stroke-width="0" opacity="0.7"/>
<circle cx="659.23" cy="321.47" r="1.85" fill="#adc6e8" stroke="none" stroke-width="0" opacity="0.7"/>
<circle cx="645.45" cy="324.34" r="1.85" fill="#adc6e8" stroke="none" stroke-width="0" opacity="0.7"/>
<circle cx="645.16" cy="319.09" r="1.85" fill="#adc6e8" stroke="none" stroke-width="0" opacity="0.7"/>
<circle cx="666.66" cy="325.88" r="1.85" fill="#adc6e8" stroke="none" stroke-width="0" opacity="0.7"/>
<circle cx="648.29" cy="330.34" r="1.85" fill="#adc6e8" stroke="none" stroke-width="0" opacity="0.7"/>
<circle cx="660.16" cy="327.73" r="1.85" fill="#adc6e8" stroke="none" stroke-width="0" opacity="0.7"/>
<circle cx="658.48" cy="316.06" r="1.85" fill="#adc6e8" stroke="none" stroke-width="0" opacity="0.7"/>
<circle cx="661.01" cy="322.85" r="1.85" fill="#adc6e8" stroke="none" stroke-width="0" opacity="0.7"/>
<circle cx="644.85" cy="328.39" r="1.85" fill="#adc6e8" stroke="none" stroke-width="0" opacity="0.7"/>
<circle cx="650.25" cy="311.40" r="1.85" fill="#adc6e8" stroke="none" stroke-width="0" opacity="0.7"/>
<circle cx="643.76" cy="315.93" r="1.85" fill="#adc6e8" stroke="none" stroke-width="0" opacity="0.7"/>
<circle cx="650.30" cy="321.83" r="1.85" fill="#adc6e8" stroke="none" stroke-width="0" opacity="0.7"/>
<circle cx="641.24" cy="324.86" r="1.85" fill="#adc6e8" stroke="none" stroke-width="0" opacity="0.7"/>
<circle cx="648.40" cy="326.58" r="1.85" fill="#adc6e8" stroke="none" stroke-width="0" opacity="0.7"/>
<circle cx="640.20" cy="309.32" r="1.85" fill="#adc6e8" stroke="none" stroke-width="0" opacity="0.7"/>
<circle cx="655.01" cy="331.53" r="1.85" fill="#adc6e8" stroke="none" stroke-width="0" opacity="0.7"/>
<circle cx="651.79" cy="316.64" r="1.85" fill="#adc6e8" stroke="none" stroke-width="0" opacity="0.7"/>
<circle cx="644.26" cy="306.96" r="1.85" fill="#adc6e8" stroke="none" stroke-width="0" opacity="0.7"/>
<circle cx="654.17" cy="322.46" r="1.85" fill="#adc6e8" stroke="none" stroke-width="0" opacity="0.7"/>
<circle cx="634.77" cy="328.58" r="1.85" fill="#adc6e8" stroke="none" stroke-width="0" opacity="0.7"/>
<circle cx="654.37" cy="312.75" r="1.85" fill="#adc6e8" stroke="none" stroke-width="0" opacity="0.7"/>
<circle cx="655.58" cy="323.46" r="1.85" fill="#adc6e8" stroke="none" stroke-width="0" opacity="0.7"/>
<circle cx="652.72" cy="299.73" r="1.85" fill="#adc6e8" stroke="none" stroke-width="0" opacity="0.7"/>
<circle cx="649.26" cy="320.96" r="1.85" fill="#adc6e8" stroke="none" stroke-width="0" opacity="0.7"/>
<circle cx="658.22" cy="319.20" r="1.85" fill="#adc6e8" stroke="none" stroke-width="0" opacity="0.7"/>
<circle cx="668.25" cy="303.17" r="1.85" fill="#adc6e8" stroke="none" stroke-width="0" opacity="0.7"/>
<circle cx="663.16" cy="326.03" r="1.85" fill="#adc6e8" stroke="none" stroke-width="0" opacity="0.7"/>
<circle cx="662.67" cy="302.31" r="1.85" fill="#adc6e8" stroke="none" stroke-width="0" opacity="0.7"/>
<circle cx="658.65" cy="309.83" r="1.85" fill="#adc6e8" stroke="none" stroke-width="0" opacity="0.7"/>
<circle cx="650.61" cy="300.05" r="1.85" fill="#adc6e8" stroke="none" stroke-width="0" opacity="0.7"/>
<circle cx="643.09" cy="316.43" r="1.85" fill="#adc6e8" stroke="none" stroke-width="0" opacity="0.7"/>
<circle cx="652.58" cy="330.24" r="1.85" fill="#adc6e8" stroke="none" stroke-width="0" opacity="0.7"/>
<circle cx="648.18" cy="315.73" r="1.85" fill="#adc6e8" stroke="none" stroke-width="0" opacity="0.7"/>
<circle cx="647.81" cy="316.84" r="1.85" fill="#adc6e8" stroke="none" stroke-width="0" opacity="0.7"/>
<circle cx="675.10" cy="325.30" r="1.85" fill="#adc6e8" stroke="none" stroke-width="0" opacity="0.7"/>
<circle cx="651.91" cy="325.94" r="1.85" fill="#adc6e8" stroke="none" stroke-width="0" opacity="0.7"/>
<circle cx="665.03" cy="330.77" r="1.85" fill="#adc6e8" stroke="none" stroke-width="0" opacity="0.7"/>
<circle cx="664.71" cy="311.20" r="1.85" fill="#adc6e8" stroke="none" stroke-width="0" opacity="0.7"/>
<circle cx="651.49" cy="320.91" r="1.85" fill="#adc6e8" stroke="none" stroke-width="0" opacity="0.7"/>
<circle cx="636.97" cy="313.63" r="1.85" fill="#adc6e8" stroke="none" stroke-width="0" opacity="0.7"/>
<circle cx="665.46" cy="321.69" r="1.85" fill="#adc6e8" stroke="none" stroke-width="0" opacity="0.7"/>
<circle cx="635.71" cy="314.69" r="1.85" fill="#adc6e8" stroke="none" stroke-width="0" opacity="0.7"/>
<circle cx="658.25" cy="317.62" r="1.85" fill="#adc6e8" stroke="none" stroke-width="0" opacity="0.7"/>
<circle cx="658.75" cy="301.90" r="1.85" fill="#adc6e8" stroke="none" stroke-width="0" opacity="0.7"/>
<circle cx="659.09" cy="304.16" r="1.85" fill="#adc6e8" stroke="none" stroke-width="0" opacity="0.7"/>
<circle cx="657.45" cy="322.35" r="1.85" fill="#adc6e8" stroke="none" stroke-width="0" opacity="0.7"/>
<circle cx="660.25" cy="319.77" r="1.85" fill="#adc6e8" stroke="none" stroke-width="0" opacity="0.7"/>
<circle cx="644.02" cy="317.68" r="1.85" fill="#adc6e8" stroke="none" stroke-width="0" opacity="0.7"/>
<circle cx="652.93" cy="319.38" r="1.85" fill="#adc6e8" stroke="none" stroke-width="0" opacity="0.7"/>
<circle cx="654.73" cy="326.69" r="1.85" fill="#adc6e8" stroke="none" stroke-width="0" opacity="0.7"/>
<circle cx="646.08" cy="327.96" r="1.85" fill="#adc6e8" stroke="none" stroke-width="0" opacity="0.7"/>
<circle cx="656.43" cy="322.13" r="1.85" fill="#adc6e8" stroke="none" stroke-width="0" opacity="0.7"/>
<circle cx="650.62" cy="324.88" r="1.85" fill="#adc6e8" stroke="none" stroke-width="0" opacity="0.7"/>
<circle cx="664.99" cy="330.12" r="1.85" fill="#adc6e8" stroke="none" stroke-width="0" opacity="0.7"/>
<circle cx="648.31" cy="316.15" r="1.85" fill="#adc6e8" stroke="none" stroke-width="0" opacity="0.7"/>
<circle cx="651.33" cy="322.61" r="1.85" fill="#adc6e8" stroke="none" stroke-width="0" opacity="0.7"/>
<circle cx="656.93" cy="323.07" r="1.85" fill="#adc6e8" stroke="none" stroke-width="0" opacity="0.7"/>
<circle cx="654.27" cy="325.76" r="1.85" fill="#adc6e8" stroke="none" stroke-width="0" opacity="0.7"/>
<circle cx="674.19" cy="326.54" r="1.85" fill="#adc6e8" stroke="none" stroke-width="0" opacity="0.7"/>
<circle cx="638.50" cy="327.86" r="1.85" fill="#adc6e8" stroke="none" stroke-width="0" opacity="0.7"/>
<circle cx="649.57" cy="321.88" r="1.85" fill="#adc6e8" stroke="none" stroke-width="0" opacity="0.7"/>
<circle cx="657.93" cy="317.16" r="1.85" fill="#adc6e8" stroke="none" stroke-width="0" opacity="0.7"/>
<circle cx="650.46" cy="328.56" r="1.85" fill="#adc6e8" stroke="none" stroke-width="0" opacity="0.7"/>
<circle cx="641.57" cy="310.89" r="1.85" fill="#adc6e8" stroke="none" stroke-width="0" opacity="0.7"/>
<circle cx="652.61" cy="314.37" r="1.85" fill="#adc6e8" stroke="none" stroke-width="0" opacity="0.7"/>
<circle cx="652.68" cy="321.17" r="1.85" fill="#adc6e8" stroke="none" stroke-width="0" opacity="0.7"/>
<circle cx="658.29" cy="316.87" r="1.85" fill="#adc6e8" stroke="none" stroke-width="0" opacity="0.7"/>
<circle cx="659.35" cy="319.31" r="1.85" fill="#adc6e8" stroke="none" stroke-width="0" opacity="0.7"/>
<circle cx="659.14" cy="328.93" r="1.85" fill="#adc6e8" stroke="none" stroke-width="0" opacity="0.7"/>
<circle cx="650.42" cy="327.27" r="1.85" fill="#adc6e8" stroke="none" stroke-width="0" opacity="0.7"/>
<circle cx="657.80" cy="331.98" r="1.85" fill="#adc6e8" stroke="none" stroke-width="0" opacity="0.7"/>
<circle cx="646.15" cy="319.91" r="1.85" fill="#adc6e8" stroke="none" stroke-width="0" opacity="0.7"/>
<circle cx="654.95" cy="319.82" r="1.85" fill="#adc6e8" stroke="none" stroke-width="0" opacity="0.7"/>
<circle cx="655.72" cy="314.00" r="1.85" fill="#adc6e8" stroke="none" stroke-width="0" opacity="0.7"/>
<circle cx="646.41" cy="300.85" r="1.85" fill="#adc6e8" stroke="none" stroke-width="0" opacity="0.7"/>
<circle cx="649.17" cy="330.35" r="1.85" fill="#adc6e8" stroke="none" stroke-width="0" opacity="0.7"/>
<circle cx="650.89" cy="330.40" r="1.85" fill="#adc6e8" stroke="none" stroke-width="0" opacity="0.7"/>
<circle cx="649.81" cy="325.84" r="1.85" fill="#adc6e8" stroke="none" stroke-width="0" opacity="0.7"/>
<circle cx="660.01" cy="328.79" r="1.85" fill="#adc6e8" stroke="none" stroke-width="0" opacity="0.7"/>
<circle cx="650.24" cy="322.05" r="1.85" fill="#adc6e8" stroke="none" stroke-width="0" opacity="0.7"/>
<circle cx="676.72" cy="321.87" r="1.85" fill="#adc6e8" stroke="none" stroke-width="0" opacity="0.7"/>
<circle cx="649.04" cy="324.43" r="1.85" fill="#adc6e8" stroke="none" stroke-width="0" opacity="0.7"/>
<circle cx="653.93" cy="318.15" r="1.85" fill="#adc6e8" stroke="none" stroke-width="0" opacity="0.7"/>
<circle cx="644.60" cy="285.00" r="1.85" fill="#adc6e8" stroke="none" stroke-width="0" opacity="0.75"/>
<circle cx="641.30" cy="293.80" r="1.85" fill="#adc6e8" stroke="none" stroke-width="0" opacity="0.75"/>
<circle cx="657.10" cy="283.30" r="1.85" fill="#adc6e8" stroke="none" stroke-width="0" opacity="0.75"/>
<circle cx="659.70" cy="286.60" r="1.85" fill="#adc6e8" stroke="none" stroke-width="0" opacity="0.75"/>
<circle cx="663.00" cy="287.20" r="1.85" fill="#adc6e8" stroke="none" stroke-width="0" opacity="0.75"/>
<circle cx="653.80" cy="292.50" r="1.85" fill="#adc6e8" stroke="none" stroke-width="0" opacity="0.75"/>
<circle cx="657.70" cy="294.40" r="1.85" fill="#adc6e8" stroke="none" stroke-width="0" opacity="0.75"/>
<circle cx="661.70" cy="291.20" r="1.85" fill="#adc6e8" stroke="none" stroke-width="0" opacity="0.75"/>
<circle cx="664.30" cy="294.40" r="1.85" fill="#adc6e8" stroke="none" stroke-width="0" opacity="0.75"/>
<circle cx="667.00" cy="297.70" r="1.85" fill="#adc6e8" stroke="none" stroke-width="0" opacity="0.75"/>
<circle cx="644.00" cy="284.80" r="1.85" fill="#adc6e8" stroke="none" stroke-width="0" opacity="0.75"/>
<circle cx="641.50" cy="292.80" r="1.85" fill="#adc6e8" stroke="none" stroke-width="0" opacity="0.75"/>
<circle cx="659.20" cy="276.70" r="1.85" fill="#adc6e8" stroke="none" stroke-width="0" opacity="0.75"/>
<circle cx="657.50" cy="280.10" r="1.85" fill="#adc6e8" stroke="none" stroke-width="0" opacity="0.75"/>
<circle cx="662.60" cy="275.00" r="1.85" fill="#adc6e8" stroke="none" stroke-width="0" opacity="0.75"/>
<circle cx="660.00" cy="272.50" r="1.85" fill="#adc6e8" stroke="none" stroke-width="0" opacity="0.75"/>
<circle cx="657.80" cy="280.20" r="1.85" fill="#adc6e8" stroke="none" stroke-width="0" opacity="0.75"/>
<circle cx="659.20" cy="283.50" r="1.85" fill="#adc6e8" stroke="none" stroke-width="0" opacity="0.75"/>
<circle cx="670.20" cy="272.60" r="1.85" fill="#adc6e8" stroke="none" stroke-width="0" opacity="0.75"/>
<circle cx="665.10" cy="269.20" r="1.85" fill="#adc6e8" stroke="none" stroke-width="0" opacity="0.75"/>
<circle cx="659.70" cy="270.00" r="1.85" fill="#adc6e8" stroke="none" stroke-width="0" opacity="0.75"/>
<circle cx="650.00" cy="297.00" r="1.85" fill="#adc6e8" stroke="none" stroke-width="0" opacity="0.75"/>
<circle cx="646.00" cy="300.00" r="1.85" fill="#adc6e8" stroke="none" stroke-width="0" opacity="0.75"/>
<circle cx="655.00" cy="300.00" r="1.85" fill="#adc6e8" stroke="none" stroke-width="0" opacity="0.75"/>
<circle cx="636.00" cy="303.00" r="1.85" fill="#adc6e8" stroke="none" stroke-width="0" opacity="0.75"/>
<circle cx="631.00" cy="309.00" r="1.85" fill="#adc6e8" stroke="none" stroke-width="0" opacity="0.75"/>
<circle cx="628.00" cy="318.00" r="1.85" fill="#adc6e8" stroke="none" stroke-width="0" opacity="0.75"/>
<circle cx="625.00" cy="326.00" r="1.85" fill="#adc6e8" stroke="none" stroke-width="0" opacity="0.75"/>
<circle cx="674.70" cy="222.80" r="1.65" fill="#adc6e8" stroke="none" stroke-width="0" opacity="0.85"/>
<circle cx="669.30" cy="244.50" r="1.65" fill="#adc6e8" stroke="none" stroke-width="0" opacity="0.85"/>
<circle cx="670.60" cy="255.50" r="1.65" fill="#adc6e8" stroke="none" stroke-width="0" opacity="0.85"/>
<circle cx="678.50" cy="263.00" r="1.65" fill="#adc6e8" stroke="none" stroke-width="0" opacity="0.85"/>
<circle cx="663.60" cy="269.00" r="1.65" fill="#adc6e8" stroke="none" stroke-width="0" opacity="0.85"/>
<circle cx="661.00" cy="268.00" r="1.65" fill="#adc6e8" stroke="none" stroke-width="0" opacity="0.85"/>
<circle cx="669.00" cy="273.00" r="1.65" fill="#adc6e8" stroke="none" stroke-width="0" opacity="0.85"/>
<circle cx="660.00" cy="276.00" r="1.65" fill="#adc6e8" stroke="none" stroke-width="0" opacity="0.85"/>
<circle cx="664.00" cy="281.00" r="1.65" fill="#adc6e8" stroke="none" stroke-width="0" opacity="0.85"/>
<circle cx="666.00" cy="285.00" r="1.65" fill="#adc6e8" stroke="none" stroke-width="0" opacity="0.85"/>
<circle cx="655.00" cy="288.00" r="1.65" fill="#adc6e8" stroke="none" stroke-width="0" opacity="0.85"/>
<circle cx="658.00" cy="292.00" r="1.65" fill="#adc6e8" stroke="none" stroke-width="0" opacity="0.85"/>
<circle cx="650.00" cy="290.00" r="1.65" fill="#adc6e8" stroke="none" stroke-width="0" opacity="0.85"/>
<circle cx="640.00" cy="300.00" r="1.65" fill="#adc6e8" stroke="none" stroke-width="0" opacity="0.85"/>
<circle cx="672.50" cy="305.50" r="1.65" fill="#adc6e8" stroke="none" stroke-width="0" opacity="0.85"/>
<circle cx="669.50" cy="298.00" r="1.65" fill="#adc6e8" stroke="none" stroke-width="0" opacity="0.85"/>
<circle cx="668.00" cy="318.00" r="1.65" fill="#adc6e8" stroke="none" stroke-width="0" opacity="0.85"/>
<circle cx="667.00" cy="320.00" r="1.65" fill="#adc6e8" stroke="none" stroke-width="0" opacity="0.85"/>
<circle cx="658.40" cy="330.50" r="1.65" fill="#8f2a1e" stroke="none" stroke-width="0" opacity="0.95"/>
<text x="672.70" y="225.56" font-size="6.3" font-style="italic" text-anchor="end" fill="#222">s__Bacteroides dorei</text>
<text x="668.50" y="246.46" font-size="6.3" font-style="italic" text-anchor="end" fill="#222">s__Bacteroides uniformis</text>
<text x="682.80" y="254.26" font-size="6.3" font-style="italic" text-anchor="end" fill="#222">s__Escherichia coli</text>
<text x="676.00" y="262.66" font-size="6.3" font-style="italic" text-anchor="end" fill="#222">s__Bacteroides fragilis</text>
<text x="659.20" y="270.66" font-size="6.3" font-style="italic" text-anchor="end" fill="#222">s__Parabacteroides distasonis</text>
<text x="661.70" y="277.86" font-size="6.3" font-style="italic" text-anchor="end" fill="#222">s__Faecalibacterium prausnitzii</text>
<text x="635.60" y="300.76" font-size="6.3" font-style="italic" text-anchor="end" fill="#222">s__Fn. animalis C2</text>
<text x="636.40" y="308.26" font-size="6.3" font-style="italic" text-anchor="end" fill="#222">s__Prevotella nigrescens</text>
<text x="666.00" y="316.46" font-size="6.3" font-style="italic" text-anchor="end" fill="#222">s__Prevotella copri</text>
<text x="676.00" y="324.56" font-size="6.3" font-style="italic" text-anchor="end" fill="#222">s__Alloprevotella tannerae</text>
<line x1="640.00" y1="297.70" x2="666.30" y2="297.70" stroke="#555" stroke-width="0.5" />
<line x1="638.00" y1="305.30" x2="672.20" y2="305.30" stroke="#555" stroke-width="0.5" />
<line x1="670.90" y1="315.40" x2="669.20" y2="319.00" stroke="#555" stroke-width="0.5" />
<line x1="659.50" y1="268.40" x2="663.50" y2="269.50" stroke="#555" stroke-width="0.5" />
<line x1="662.00" y1="275.40" x2="668.50" y2="273.20" stroke="#555" stroke-width="0.5" />
<text x="2.20" y="385.00" font-size="11" text-anchor="start" font-weight="bold" font-style="normal" fill="#000"  >f</text>
<line x1="30.50" y1="390.30" x2="30.50" y2="515.20" stroke="#333" stroke-width="0.8" />
<line x1="30.10" y1="514.80" x2="119.70" y2="514.80" stroke="#333" stroke-width="0.8" />
<line x1="28.50" y1="404.70" x2="30.50" y2="404.70" stroke="#333" stroke-width="0.6" />
<text stroke="#1a1a1a" stroke-width="0.06" x="28.10" y="407.36" font-size="6.6" text-anchor="end" fill="#1a1a1a">10<tspan font-size="4.49" dy="-2.38">9</tspan></text>
<line x1="28.50" y1="444.00" x2="30.50" y2="444.00" stroke="#333" stroke-width="0.6" />
<text stroke="#1a1a1a" stroke-width="0.06" x="28.10" y="446.66" font-size="6.6" text-anchor="end" fill="#1a1a1a">10<tspan font-size="4.49" dy="-2.38">6</tspan></text>
<line x1="28.50" y1="483.10" x2="30.50" y2="483.10" stroke="#333" stroke-width="0.6" />
<text stroke="#1a1a1a" stroke-width="0.06" x="28.10" y="485.76" font-size="6.6" text-anchor="end" fill="#1a1a1a">10<tspan font-size="4.49" dy="-2.38">3</tspan></text>
<text stroke="#1a1a1a" stroke-width="0.06" transform="translate(13.79,450.00) rotate(-90)" font-size="7.8" text-anchor="middle" fill="#1a1a1a">Input non-human reads</text>
<line x1="47.40" y1="514.80" x2="47.40" y2="516.80" stroke="#333" stroke-width="0.6" />
<text x="47.40" y="523.98" font-size="6.1" text-anchor="middle" font-weight="normal" font-style="normal" fill="#1a1a1a" stroke="#1a1a1a" stroke-width="0.06" >UU</text>
<text x="47.10" y="533.33" font-size="6.5" text-anchor="middle" font-weight="normal" font-style="normal" fill="#1a1a1a" stroke="#1a1a1a" stroke-width="0.06" >n=775</text>
<line x1="75.40" y1="514.80" x2="75.40" y2="516.80" stroke="#333" stroke-width="0.6" />
<text x="75.40" y="523.98" font-size="6.1" text-anchor="middle" font-weight="normal" font-style="normal" fill="#1a1a1a" stroke="#1a1a1a" stroke-width="0.06" >UM</text>
<text x="74.80" y="533.33" font-size="6.5" text-anchor="middle" font-weight="normal" font-style="normal" fill="#1a1a1a" stroke="#1a1a1a" stroke-width="0.06" >n=162</text>
<line x1="103.00" y1="514.80" x2="103.00" y2="516.80" stroke="#333" stroke-width="0.6" />
<text x="103.00" y="523.98" font-size="6.1" text-anchor="middle" font-weight="normal" font-style="normal" fill="#1a1a1a" stroke="#1a1a1a" stroke-width="0.06" >AC−ICAM</text>
<text x="102.80" y="533.33" font-size="6.5" text-anchor="middle" font-weight="normal" font-style="normal" fill="#1a1a1a" stroke="#1a1a1a" stroke-width="0.06" >n=167</text>
<line x1="47.45" y1="429.60" x2="47.45" y2="463.80" stroke="#222" stroke-width="0.7" />
<rect x="37.50" y="443.20" width="19.90" height="10.90" fill="#a8c6ec" stroke="#333" stroke-width="0.6" rx="0" />
<line x1="37.50" y1="448.80" x2="57.40" y2="448.80" stroke="#111" stroke-width="1.2" />
<circle cx="47.45" cy="416.40" r="1.25" fill="#111" stroke="none" stroke-width="0" opacity="1"/>
<circle cx="47.45" cy="421.00" r="1.25" fill="#111" stroke="none" stroke-width="0" opacity="1"/>
<circle cx="47.45" cy="422.50" r="1.25" fill="#111" stroke="none" stroke-width="0" opacity="1"/>
<circle cx="47.45" cy="424.00" r="1.25" fill="#111" stroke="none" stroke-width="0" opacity="1"/>
<circle cx="47.45" cy="425.50" r="1.25" fill="#111" stroke="none" stroke-width="0" opacity="1"/>
<line x1="75.40" y1="429.30" x2="75.40" y2="464.30" stroke="#222" stroke-width="0.7" />
<rect x="65.50" y="443.90" width="19.80" height="10.50" fill="#f6ccb8" stroke="#333" stroke-width="0.6" rx="0" />
<line x1="65.50" y1="449.70" x2="85.30" y2="449.70" stroke="#111" stroke-width="1.2" />
<line x1="103.10" y1="429.60" x2="103.10" y2="461.50" stroke="#222" stroke-width="0.7" />
<rect x="93.40" y="443.20" width="19.40" height="9.50" fill="#d4a82a" stroke="#333" stroke-width="0.6" rx="0" />
<line x1="93.40" y1="448.30" x2="112.80" y2="448.30" stroke="#111" stroke-width="1.2" />
<circle cx="103.10" cy="416.10" r="1.25" fill="#111" stroke="none" stroke-width="0" opacity="1"/>
<circle cx="103.10" cy="423.70" r="1.25" fill="#111" stroke="none" stroke-width="0" opacity="1"/>
<circle cx="103.10" cy="428.50" r="1.25" fill="#111" stroke="none" stroke-width="0" opacity="1"/>
<path d="M47.4,404.5 L47.4,402.6 L102.8,402.6 L102.8,404.5" fill="none" stroke="#333" stroke-width="0.5" />
<text stroke="#1a1a1a" stroke-width="0.06" x="75.10" y="401.20" font-size="5.6" text-anchor="middle" fill="#1a1a1a">0.84</text>
<path d="M75.5,410.29999999999995 L75.5,408.4 L102.8,408.4 L102.8,410.29999999999995" fill="none" stroke="#333" stroke-width="0.5" />
<text stroke="#1a1a1a" stroke-width="0.06" x="89.15" y="407.00" font-size="5.6" text-anchor="middle" fill="#1a1a1a">0.20</text>
<path d="M47.4,416.2 L47.4,414.3 L75.5,414.3 L75.5,416.2" fill="none" stroke="#333" stroke-width="0.5" />
<text stroke="#1a1a1a" stroke-width="0.06" x="61.45" y="412.90" font-size="5.6" text-anchor="middle" fill="#1a1a1a">0.17</text>
<line x1="163.40" y1="389.90" x2="163.40" y2="514.80" stroke="#333" stroke-width="0.8" />
<line x1="163.00" y1="514.40" x2="239.10" y2="514.40" stroke="#333" stroke-width="0.8" />
<line x1="161.40" y1="404.30" x2="163.40" y2="404.30" stroke="#333" stroke-width="0.6" />
<text stroke="#1a1a1a" stroke-width="0.06" x="161.00" y="406.96" font-size="6.6" text-anchor="end" fill="#1a1a1a">10<tspan font-size="4.49" dy="-2.38">9</tspan></text>
<line x1="161.40" y1="443.70" x2="163.40" y2="443.70" stroke="#333" stroke-width="0.6" />
<text stroke="#1a1a1a" stroke-width="0.06" x="161.00" y="446.36" font-size="6.6" text-anchor="end" fill="#1a1a1a">10<tspan font-size="4.49" dy="-2.38">6</tspan></text>
<line x1="161.40" y1="482.80" x2="163.40" y2="482.80" stroke="#333" stroke-width="0.6" />
<text stroke="#1a1a1a" stroke-width="0.06" x="161.00" y="485.46" font-size="6.6" text-anchor="end" fill="#1a1a1a">10<tspan font-size="4.49" dy="-2.38">3</tspan></text>
<text stroke="#1a1a1a" stroke-width="0.06" transform="translate(138.87,458.00) rotate(-90)" font-size="6.9" text-anchor="middle" fill="#1a1a1a">Kraken2−mapped prokaryotic reads</text>
<line x1="178.10" y1="514.40" x2="178.10" y2="516.40" stroke="#333" stroke-width="0.6" />
<text x="178.10" y="523.58" font-size="6.1" text-anchor="middle" font-weight="normal" font-style="normal" fill="#1a1a1a" stroke="#1a1a1a" stroke-width="0.06" >UU</text>
<text x="175.20" y="532.93" font-size="6.5" text-anchor="middle" font-weight="normal" font-style="normal" fill="#1a1a1a" stroke="#1a1a1a" stroke-width="0.06" >n=775</text>
<line x1="201.90" y1="514.40" x2="201.90" y2="516.40" stroke="#333" stroke-width="0.6" />
<text x="201.90" y="523.58" font-size="6.1" text-anchor="middle" font-weight="normal" font-style="normal" fill="#1a1a1a" stroke="#1a1a1a" stroke-width="0.06" >UM</text>
<text x="202.80" y="532.93" font-size="6.5" text-anchor="middle" font-weight="normal" font-style="normal" fill="#1a1a1a" stroke="#1a1a1a" stroke-width="0.06" >n=162</text>
<line x1="226.00" y1="514.40" x2="226.00" y2="516.40" stroke="#333" stroke-width="0.6" />
<text x="226.00" y="523.58" font-size="6.1" text-anchor="middle" font-weight="normal" font-style="normal" fill="#1a1a1a" stroke="#1a1a1a" stroke-width="0.06" >AC−ICAM</text>
<text x="231.00" y="532.93" font-size="6.5" text-anchor="middle" font-weight="normal" font-style="normal" fill="#1a1a1a" stroke="#1a1a1a" stroke-width="0.06" >n=167</text>
<line x1="178.10" y1="419.00" x2="178.10" y2="469.70" stroke="#222" stroke-width="0.7" />
<rect x="169.60" y="444.60" width="17.00" height="12.30" fill="#a8c6ec" stroke="#333" stroke-width="0.6" rx="0" />
<line x1="169.60" y1="450.30" x2="186.60" y2="450.30" stroke="#111" stroke-width="1.2" />
<circle cx="178.10" cy="417.90" r="1.25" fill="#111" stroke="none" stroke-width="0" opacity="1"/>
<circle cx="178.10" cy="420.00" r="1.25" fill="#111" stroke="none" stroke-width="0" opacity="1"/>
<circle cx="178.10" cy="423.50" r="1.25" fill="#111" stroke="none" stroke-width="0" opacity="1"/>
<circle cx="178.10" cy="476.20" r="1.25" fill="#111" stroke="none" stroke-width="0" opacity="1"/>
<circle cx="178.10" cy="477.50" r="1.25" fill="#111" stroke="none" stroke-width="0" opacity="1"/>
<circle cx="178.10" cy="478.60" r="1.25" fill="#111" stroke="none" stroke-width="0" opacity="1"/>
<circle cx="178.10" cy="482.80" r="1.25" fill="#111" stroke="none" stroke-width="0" opacity="1"/>
<line x1="201.95" y1="430.70" x2="201.95" y2="472.70" stroke="#222" stroke-width="0.7" />
<rect x="193.20" y="445.10" width="17.50" height="13.30" fill="#f6ccb8" stroke="#333" stroke-width="0.6" rx="0" />
<line x1="193.20" y1="451.60" x2="210.70" y2="451.60" stroke="#111" stroke-width="1.2" />
<circle cx="201.95" cy="479.20" r="1.25" fill="#111" stroke="none" stroke-width="0" opacity="1"/>
<line x1="226.00" y1="429.70" x2="226.00" y2="472.70" stroke="#222" stroke-width="0.7" />
<rect x="217.20" y="445.50" width="17.60" height="12.00" fill="#d4a82a" stroke="#333" stroke-width="0.6" rx="0" />
<line x1="217.20" y1="451.60" x2="234.80" y2="451.60" stroke="#111" stroke-width="1.2" />
<circle cx="226.00" cy="418.40" r="1.25" fill="#111" stroke="none" stroke-width="0" opacity="1"/>
<circle cx="226.00" cy="424.60" r="1.25" fill="#111" stroke="none" stroke-width="0" opacity="1"/>
<path d="M178.3,400.2 L178.3,398.3 L226.5,398.3 L226.5,400.2" fill="none" stroke="#333" stroke-width="0.5" />
<text stroke="#1a1a1a" stroke-width="0.06" x="202.40" y="396.90" font-size="5.6" text-anchor="middle" fill="#1a1a1a">0.17</text>
<path d="M202.3,408.4 L202.3,406.5 L226.5,406.5 L226.5,408.4" fill="none" stroke="#333" stroke-width="0.5" />
<text stroke="#1a1a1a" stroke-width="0.06" x="214.40" y="405.10" font-size="5.6" text-anchor="middle" fill="#1a1a1a">1.00</text>
<path d="M178.3,416.29999999999995 L178.3,414.4 L202.3,414.4 L202.3,416.29999999999995" fill="none" stroke="#333" stroke-width="0.5" />
<text stroke="#1a1a1a" stroke-width="0.06" x="190.30" y="413.00" font-size="5.6" text-anchor="middle" fill="#1a1a1a">0.20</text>
<line x1="291.20" y1="389.90" x2="291.20" y2="514.80" stroke="#333" stroke-width="0.8" />
<line x1="290.80" y1="514.40" x2="368.10" y2="514.40" stroke="#333" stroke-width="0.8" />
<line x1="289.20" y1="404.80" x2="291.20" y2="404.80" stroke="#333" stroke-width="0.6" />
<text stroke="#1a1a1a" stroke-width="0.06" x="288.80" y="407.46" font-size="6.6" text-anchor="end" fill="#1a1a1a">10<tspan font-size="4.49" dy="-2.38">9</tspan></text>
<line x1="289.20" y1="444.10" x2="291.20" y2="444.10" stroke="#333" stroke-width="0.6" />
<text stroke="#1a1a1a" stroke-width="0.06" x="288.80" y="446.76" font-size="6.6" text-anchor="end" fill="#1a1a1a">10<tspan font-size="4.49" dy="-2.38">6</tspan></text>
<line x1="289.20" y1="483.70" x2="291.20" y2="483.70" stroke="#333" stroke-width="0.6" />
<text stroke="#1a1a1a" stroke-width="0.06" x="288.80" y="486.36" font-size="6.6" text-anchor="end" fill="#1a1a1a">10<tspan font-size="4.49" dy="-2.38">3</tspan></text>
<text stroke="#1a1a1a" stroke-width="0.06" transform="translate(263.94,457.70) rotate(-90)" font-size="7.1" text-anchor="middle" fill="#1a1a1a">Reads annotated to tissue-resident taxa</text>
<line x1="305.50" y1="514.40" x2="305.50" y2="516.40" stroke="#333" stroke-width="0.6" />
<text x="305.50" y="523.58" font-size="6.1" text-anchor="middle" font-weight="normal" font-style="normal" fill="#1a1a1a" stroke="#1a1a1a" stroke-width="0.06" >UU</text>
<text x="306.00" y="532.93" font-size="6.5" text-anchor="middle" font-weight="normal" font-style="normal" fill="#1a1a1a" stroke="#1a1a1a" stroke-width="0.06" >n=775</text>
<line x1="329.80" y1="514.40" x2="329.80" y2="516.40" stroke="#333" stroke-width="0.6" />
<text x="329.80" y="523.58" font-size="6.1" text-anchor="middle" font-weight="normal" font-style="normal" fill="#1a1a1a" stroke="#1a1a1a" stroke-width="0.06" >UM</text>
<text x="333.80" y="532.93" font-size="6.5" text-anchor="middle" font-weight="normal" font-style="normal" fill="#1a1a1a" stroke="#1a1a1a" stroke-width="0.06" >n=162</text>
<line x1="353.50" y1="514.40" x2="353.50" y2="516.40" stroke="#333" stroke-width="0.6" />
<text x="353.50" y="523.58" font-size="6.1" text-anchor="middle" font-weight="normal" font-style="normal" fill="#1a1a1a" stroke="#1a1a1a" stroke-width="0.06" >AC−ICAM</text>
<text x="362.20" y="532.93" font-size="6.5" text-anchor="middle" font-weight="normal" font-style="normal" fill="#1a1a1a" stroke="#1a1a1a" stroke-width="0.06" >n=167</text>
<line x1="305.55" y1="421.00" x2="305.55" y2="475.70" stroke="#222" stroke-width="0.7" />
<rect x="297.20" y="445.60" width="16.70" height="12.80" fill="#a8c6ec" stroke="#333" stroke-width="0.6" rx="0" />
<line x1="297.20" y1="451.60" x2="313.90" y2="451.60" stroke="#111" stroke-width="1.2" />
<circle cx="305.55" cy="418.00" r="1.25" fill="#111" stroke="none" stroke-width="0" opacity="1"/>
<circle cx="305.55" cy="420.00" r="1.25" fill="#111" stroke="none" stroke-width="0" opacity="1"/>
<circle cx="305.55" cy="422.00" r="1.25" fill="#111" stroke="none" stroke-width="0" opacity="1"/>
<circle cx="305.55" cy="477.50" r="1.25" fill="#111" stroke="none" stroke-width="0" opacity="1"/>
<circle cx="305.55" cy="479.00" r="1.25" fill="#111" stroke="none" stroke-width="0" opacity="1"/>
<circle cx="305.55" cy="480.50" r="1.25" fill="#111" stroke="none" stroke-width="0" opacity="1"/>
<circle cx="305.55" cy="482.00" r="1.25" fill="#111" stroke="none" stroke-width="0" opacity="1"/>
<circle cx="305.55" cy="484.00" r="1.25" fill="#111" stroke="none" stroke-width="0" opacity="1"/>
<circle cx="305.55" cy="486.70" r="1.25" fill="#111" stroke="none" stroke-width="0" opacity="1"/>
<line x1="329.80" y1="431.00" x2="329.80" y2="474.80" stroke="#222" stroke-width="0.7" />
<rect x="321.30" y="445.90" width="17.00" height="14.00" fill="#f6ccb8" stroke="#333" stroke-width="0.6" rx="0" />
<line x1="321.30" y1="452.50" x2="338.30" y2="452.50" stroke="#111" stroke-width="1.2" />
<circle cx="329.80" cy="482.20" r="1.25" fill="#111" stroke="none" stroke-width="0" opacity="1"/>
<line x1="353.50" y1="430.10" x2="353.50" y2="473.30" stroke="#222" stroke-width="0.7" />
<rect x="344.90" y="445.90" width="17.20" height="12.50" fill="#d4a82a" stroke="#333" stroke-width="0.6" rx="0" />
<line x1="344.90" y1="452.50" x2="362.10" y2="452.50" stroke="#111" stroke-width="1.2" />
<circle cx="353.50" cy="420.30" r="1.25" fill="#111" stroke="none" stroke-width="0" opacity="1"/>
<circle cx="353.50" cy="423.30" r="1.25" fill="#111" stroke="none" stroke-width="0" opacity="1"/>
<path d="M305.5,400.09999999999997 L305.5,398.2 L353.8,398.2 L353.8,400.09999999999997" fill="none" stroke="#333" stroke-width="0.5" />
<text stroke="#1a1a1a" stroke-width="0.06" x="329.65" y="396.80" font-size="5.6" text-anchor="middle" fill="#1a1a1a">0.26</text>
<path d="M329.4,407.59999999999997 L329.4,405.7 L353.8,405.7 L353.8,407.59999999999997" fill="none" stroke="#333" stroke-width="0.5" />
<text stroke="#1a1a1a" stroke-width="0.06" x="341.60" y="404.30" font-size="5.6" text-anchor="middle" fill="#1a1a1a">0.83</text>
<path d="M305.5,416.5 L305.5,414.6 L329.4,414.6 L329.4,416.5" fill="none" stroke="#333" stroke-width="0.5" />
<text stroke="#1a1a1a" stroke-width="0.06" x="317.45" y="413.20" font-size="5.6" text-anchor="middle" fill="#1a1a1a">0.18</text>
<text x="385.80" y="385.00" font-size="11" text-anchor="start" font-weight="bold" font-style="normal" fill="#000"  >g</text>
<line x1="426.70" y1="392.50" x2="426.70" y2="516.10" stroke="#333" stroke-width="0.8" />
<line x1="426.30" y1="515.70" x2="555.50" y2="515.70" stroke="#333" stroke-width="0.8" />
<line x1="424.70" y1="510.90" x2="426.70" y2="510.90" stroke="#333" stroke-width="0.6" />
<text x="423.00" y="513.44" font-size="7.1" text-anchor="end" font-weight="normal" font-style="normal" fill="#1a1a1a" stroke="#1a1a1a" stroke-width="0.06" >0.0</text>
<line x1="424.70" y1="479.05" x2="426.70" y2="479.05" stroke="#333" stroke-width="0.6" />
<text x="423.00" y="481.59" font-size="7.1" text-anchor="end" font-weight="normal" font-style="normal" fill="#1a1a1a" stroke="#1a1a1a" stroke-width="0.06" >0.1</text>
<line x1="424.70" y1="447.20" x2="426.70" y2="447.20" stroke="#333" stroke-width="0.6" />
<text x="423.00" y="449.74" font-size="7.1" text-anchor="end" font-weight="normal" font-style="normal" fill="#1a1a1a" stroke="#1a1a1a" stroke-width="0.06" >0.2</text>
<line x1="424.70" y1="415.35" x2="426.70" y2="415.35" stroke="#333" stroke-width="0.6" />
<text x="423.00" y="417.89" font-size="7.1" text-anchor="end" font-weight="normal" font-style="normal" fill="#1a1a1a" stroke="#1a1a1a" stroke-width="0.06" >0.3</text>
<text stroke="#1a1a1a" stroke-width="0.06" transform="translate(398.0,459) rotate(-90)" font-size="7.0" text-anchor="middle" fill="#1a1a1a"><tspan x="0" dy="0">Average of genome coverage</tspan><tspan x="0" dy="8.0">(tissue-resident species)</tspan></text>
<line x1="450.90" y1="515.70" x2="450.90" y2="517.70" stroke="#333" stroke-width="0.6" />
<text x="450.90" y="523.91" font-size="7.0" text-anchor="middle" font-weight="normal" font-style="normal" fill="#1a1a1a" stroke="#1a1a1a" stroke-width="0.06" >UU</text>
<text x="449.60" y="533.23" font-size="6.5" text-anchor="middle" font-weight="normal" font-style="normal" fill="#1a1a1a" stroke="#1a1a1a" stroke-width="0.06" >n=775</text>
<line x1="492.70" y1="515.70" x2="492.70" y2="517.70" stroke="#333" stroke-width="0.6" />
<text x="492.70" y="523.91" font-size="7.0" text-anchor="middle" font-weight="normal" font-style="normal" fill="#1a1a1a" stroke="#1a1a1a" stroke-width="0.06" >UM</text>
<text x="494.50" y="533.23" font-size="6.5" text-anchor="middle" font-weight="normal" font-style="normal" fill="#1a1a1a" stroke="#1a1a1a" stroke-width="0.06" >n=162</text>
<line x1="534.50" y1="515.70" x2="534.50" y2="517.70" stroke="#333" stroke-width="0.6" />
<text x="534.50" y="523.91" font-size="7.0" text-anchor="middle" font-weight="normal" font-style="normal" fill="#1a1a1a" stroke="#1a1a1a" stroke-width="0.06" >AC−ICAM</text>
<text x="536.30" y="533.23" font-size="6.5" text-anchor="middle" font-weight="normal" font-style="normal" fill="#1a1a1a" stroke="#1a1a1a" stroke-width="0.06" >n=167</text>
<circle cx="441.88" cy="489.67" r="1.80" fill="#a9c3e8" stroke="none" stroke-width="0" opacity="0.6"/>
<circle cx="451.25" cy="487.61" r="1.80" fill="#a9c3e8" stroke="none" stroke-width="0" opacity="0.6"/>
<circle cx="456.95" cy="474.83" r="1.80" fill="#a9c3e8" stroke="none" stroke-width="0" opacity="0.6"/>
<circle cx="447.43" cy="500.26" r="1.80" fill="#a9c3e8" stroke="none" stroke-width="0" opacity="0.6"/>
<circle cx="448.57" cy="499.36" r="1.80" fill="#a9c3e8" stroke="none" stroke-width="0" opacity="0.6"/>
<circle cx="442.79" cy="509.48" r="1.80" fill="#a9c3e8" stroke="none" stroke-width="0" opacity="0.6"/>
<circle cx="454.03" cy="505.02" r="1.80" fill="#a9c3e8" stroke="none" stroke-width="0" opacity="0.6"/>
<circle cx="448.90" cy="496.58" r="1.80" fill="#a9c3e8" stroke="none" stroke-width="0" opacity="0.6"/>
<circle cx="447.67" cy="490.81" r="1.80" fill="#a9c3e8" stroke="none" stroke-width="0" opacity="0.6"/>
<circle cx="443.83" cy="504.80" r="1.80" fill="#a9c3e8" stroke="none" stroke-width="0" opacity="0.6"/>
<circle cx="449.29" cy="483.94" r="1.80" fill="#a9c3e8" stroke="none" stroke-width="0" opacity="0.6"/>
<circle cx="441.03" cy="469.76" r="1.80" fill="#a9c3e8" stroke="none" stroke-width="0" opacity="0.6"/>
<circle cx="455.29" cy="487.40" r="1.80" fill="#a9c3e8" stroke="none" stroke-width="0" opacity="0.6"/>
<circle cx="456.76" cy="509.42" r="1.80" fill="#a9c3e8" stroke="none" stroke-width="0" opacity="0.6"/>
<circle cx="445.51" cy="498.79" r="1.80" fill="#a9c3e8" stroke="none" stroke-width="0" opacity="0.6"/>
<circle cx="451.39" cy="493.60" r="1.80" fill="#a9c3e8" stroke="none" stroke-width="0" opacity="0.6"/>
<circle cx="453.76" cy="496.40" r="1.80" fill="#a9c3e8" stroke="none" stroke-width="0" opacity="0.6"/>
<circle cx="445.68" cy="507.18" r="1.80" fill="#a9c3e8" stroke="none" stroke-width="0" opacity="0.6"/>
<circle cx="445.52" cy="505.75" r="1.80" fill="#a9c3e8" stroke="none" stroke-width="0" opacity="0.6"/>
<circle cx="450.09" cy="507.47" r="1.80" fill="#a9c3e8" stroke="none" stroke-width="0" opacity="0.6"/>
<circle cx="449.57" cy="495.62" r="1.80" fill="#a9c3e8" stroke="none" stroke-width="0" opacity="0.6"/>
<circle cx="441.73" cy="504.68" r="1.80" fill="#a9c3e8" stroke="none" stroke-width="0" opacity="0.6"/>
<circle cx="460.55" cy="506.65" r="1.80" fill="#a9c3e8" stroke="none" stroke-width="0" opacity="0.6"/>
<circle cx="460.74" cy="509.90" r="1.80" fill="#a9c3e8" stroke="none" stroke-width="0" opacity="0.6"/>
<circle cx="449.65" cy="503.86" r="1.80" fill="#a9c3e8" stroke="none" stroke-width="0" opacity="0.6"/>
<circle cx="455.81" cy="506.71" r="1.80" fill="#a9c3e8" stroke="none" stroke-width="0" opacity="0.6"/>
<circle cx="444.48" cy="476.43" r="1.80" fill="#a9c3e8" stroke="none" stroke-width="0" opacity="0.6"/>
<circle cx="442.25" cy="487.24" r="1.80" fill="#a9c3e8" stroke="none" stroke-width="0" opacity="0.6"/>
<circle cx="448.45" cy="495.08" r="1.80" fill="#a9c3e8" stroke="none" stroke-width="0" opacity="0.6"/>
<circle cx="445.52" cy="498.90" r="1.80" fill="#a9c3e8" stroke="none" stroke-width="0" opacity="0.6"/>
<circle cx="459.31" cy="484.93" r="1.80" fill="#a9c3e8" stroke="none" stroke-width="0" opacity="0.6"/>
<circle cx="450.04" cy="492.90" r="1.80" fill="#a9c3e8" stroke="none" stroke-width="0" opacity="0.6"/>
<circle cx="442.03" cy="493.34" r="1.80" fill="#a9c3e8" stroke="none" stroke-width="0" opacity="0.6"/>
<circle cx="449.74" cy="469.97" r="1.80" fill="#a9c3e8" stroke="none" stroke-width="0" opacity="0.6"/>
<circle cx="456.04" cy="502.84" r="1.80" fill="#a9c3e8" stroke="none" stroke-width="0" opacity="0.6"/>
<circle cx="445.28" cy="487.05" r="1.80" fill="#a9c3e8" stroke="none" stroke-width="0" opacity="0.6"/>
<circle cx="449.11" cy="503.66" r="1.80" fill="#a9c3e8" stroke="none" stroke-width="0" opacity="0.6"/>
<circle cx="455.63" cy="494.64" r="1.80" fill="#a9c3e8" stroke="none" stroke-width="0" opacity="0.6"/>
<circle cx="456.79" cy="501.54" r="1.80" fill="#a9c3e8" stroke="none" stroke-width="0" opacity="0.6"/>
<circle cx="444.91" cy="507.24" r="1.80" fill="#a9c3e8" stroke="none" stroke-width="0" opacity="0.6"/>
<circle cx="457.34" cy="504.70" r="1.80" fill="#a9c3e8" stroke="none" stroke-width="0" opacity="0.6"/>
<circle cx="454.92" cy="509.89" r="1.80" fill="#a9c3e8" stroke="none" stroke-width="0" opacity="0.6"/>
<circle cx="453.31" cy="475.48" r="1.80" fill="#a9c3e8" stroke="none" stroke-width="0" opacity="0.6"/>
<circle cx="459.96" cy="462.99" r="1.80" fill="#a9c3e8" stroke="none" stroke-width="0" opacity="0.6"/>
<circle cx="453.82" cy="506.60" r="1.80" fill="#a9c3e8" stroke="none" stroke-width="0" opacity="0.6"/>
<circle cx="450.50" cy="465.05" r="1.80" fill="#a9c3e8" stroke="none" stroke-width="0" opacity="0.6"/>
<circle cx="448.52" cy="491.50" r="1.80" fill="#a9c3e8" stroke="none" stroke-width="0" opacity="0.6"/>
<circle cx="443.70" cy="483.42" r="1.80" fill="#a9c3e8" stroke="none" stroke-width="0" opacity="0.6"/>
<circle cx="444.10" cy="506.10" r="1.80" fill="#a9c3e8" stroke="none" stroke-width="0" opacity="0.6"/>
<circle cx="447.57" cy="492.04" r="1.80" fill="#a9c3e8" stroke="none" stroke-width="0" opacity="0.6"/>
<circle cx="445.86" cy="505.29" r="1.80" fill="#a9c3e8" stroke="none" stroke-width="0" opacity="0.6"/>
<circle cx="459.72" cy="504.24" r="1.80" fill="#a9c3e8" stroke="none" stroke-width="0" opacity="0.6"/>
<circle cx="454.02" cy="506.79" r="1.80" fill="#a9c3e8" stroke="none" stroke-width="0" opacity="0.6"/>
<circle cx="460.02" cy="487.52" r="1.80" fill="#a9c3e8" stroke="none" stroke-width="0" opacity="0.6"/>
<circle cx="441.16" cy="491.42" r="1.80" fill="#a9c3e8" stroke="none" stroke-width="0" opacity="0.6"/>
<circle cx="451.07" cy="499.66" r="1.80" fill="#a9c3e8" stroke="none" stroke-width="0" opacity="0.6"/>
<circle cx="449.20" cy="504.69" r="1.80" fill="#a9c3e8" stroke="none" stroke-width="0" opacity="0.6"/>
<circle cx="442.38" cy="509.46" r="1.80" fill="#a9c3e8" stroke="none" stroke-width="0" opacity="0.6"/>
<circle cx="444.30" cy="468.11" r="1.80" fill="#a9c3e8" stroke="none" stroke-width="0" opacity="0.6"/>
<circle cx="444.72" cy="495.07" r="1.80" fill="#a9c3e8" stroke="none" stroke-width="0" opacity="0.6"/>
<circle cx="453.88" cy="490.81" r="1.80" fill="#a9c3e8" stroke="none" stroke-width="0" opacity="0.6"/>
<circle cx="453.07" cy="499.51" r="1.80" fill="#a9c3e8" stroke="none" stroke-width="0" opacity="0.6"/>
<circle cx="452.12" cy="508.05" r="1.80" fill="#a9c3e8" stroke="none" stroke-width="0" opacity="0.6"/>
<circle cx="446.22" cy="503.73" r="1.80" fill="#a9c3e8" stroke="none" stroke-width="0" opacity="0.6"/>
<circle cx="455.80" cy="489.24" r="1.80" fill="#a9c3e8" stroke="none" stroke-width="0" opacity="0.6"/>
<circle cx="459.77" cy="475.89" r="1.80" fill="#a9c3e8" stroke="none" stroke-width="0" opacity="0.6"/>
<circle cx="449.73" cy="494.94" r="1.80" fill="#a9c3e8" stroke="none" stroke-width="0" opacity="0.6"/>
<circle cx="457.06" cy="500.54" r="1.80" fill="#a9c3e8" stroke="none" stroke-width="0" opacity="0.6"/>
<circle cx="455.54" cy="493.92" r="1.80" fill="#a9c3e8" stroke="none" stroke-width="0" opacity="0.6"/>
<circle cx="446.88" cy="482.69" r="1.80" fill="#a9c3e8" stroke="none" stroke-width="0" opacity="0.6"/>
<circle cx="443.58" cy="506.37" r="1.80" fill="#a9c3e8" stroke="none" stroke-width="0" opacity="0.6"/>
<circle cx="458.24" cy="496.37" r="1.80" fill="#a9c3e8" stroke="none" stroke-width="0" opacity="0.6"/>
<circle cx="441.18" cy="504.69" r="1.80" fill="#a9c3e8" stroke="none" stroke-width="0" opacity="0.6"/>
<circle cx="451.36" cy="503.41" r="1.80" fill="#a9c3e8" stroke="none" stroke-width="0" opacity="0.6"/>
<circle cx="450.65" cy="505.33" r="1.80" fill="#a9c3e8" stroke="none" stroke-width="0" opacity="0.6"/>
<circle cx="442.47" cy="507.79" r="1.80" fill="#a9c3e8" stroke="none" stroke-width="0" opacity="0.6"/>
<circle cx="459.93" cy="490.61" r="1.80" fill="#a9c3e8" stroke="none" stroke-width="0" opacity="0.6"/>
<circle cx="451.35" cy="486.51" r="1.80" fill="#a9c3e8" stroke="none" stroke-width="0" opacity="0.6"/>
<circle cx="452.45" cy="500.64" r="1.80" fill="#a9c3e8" stroke="none" stroke-width="0" opacity="0.6"/>
<circle cx="446.28" cy="498.64" r="1.80" fill="#a9c3e8" stroke="none" stroke-width="0" opacity="0.6"/>
<circle cx="449.89" cy="508.33" r="1.80" fill="#a9c3e8" stroke="none" stroke-width="0" opacity="0.6"/>
<circle cx="454.57" cy="487.15" r="1.80" fill="#a9c3e8" stroke="none" stroke-width="0" opacity="0.6"/>
<circle cx="446.08" cy="486.61" r="1.80" fill="#a9c3e8" stroke="none" stroke-width="0" opacity="0.6"/>
<circle cx="447.13" cy="484.65" r="1.80" fill="#a9c3e8" stroke="none" stroke-width="0" opacity="0.6"/>
<circle cx="455.85" cy="507.37" r="1.80" fill="#a9c3e8" stroke="none" stroke-width="0" opacity="0.6"/>
<circle cx="446.82" cy="509.44" r="1.80" fill="#a9c3e8" stroke="none" stroke-width="0" opacity="0.6"/>
<circle cx="449.20" cy="501.58" r="1.80" fill="#a9c3e8" stroke="none" stroke-width="0" opacity="0.6"/>
<circle cx="449.45" cy="503.70" r="1.80" fill="#a9c3e8" stroke="none" stroke-width="0" opacity="0.6"/>
<circle cx="444.22" cy="495.58" r="1.80" fill="#a9c3e8" stroke="none" stroke-width="0" opacity="0.6"/>
<circle cx="452.82" cy="489.49" r="1.80" fill="#a9c3e8" stroke="none" stroke-width="0" opacity="0.6"/>
<circle cx="442.26" cy="463.30" r="1.80" fill="#a9c3e8" stroke="none" stroke-width="0" opacity="0.6"/>
<circle cx="442.36" cy="504.78" r="1.80" fill="#a9c3e8" stroke="none" stroke-width="0" opacity="0.6"/>
<circle cx="446.58" cy="506.36" r="1.80" fill="#a9c3e8" stroke="none" stroke-width="0" opacity="0.6"/>
<circle cx="458.82" cy="489.77" r="1.80" fill="#a9c3e8" stroke="none" stroke-width="0" opacity="0.6"/>
<circle cx="451.29" cy="496.57" r="1.80" fill="#a9c3e8" stroke="none" stroke-width="0" opacity="0.6"/>
<circle cx="460.80" cy="498.84" r="1.80" fill="#a9c3e8" stroke="none" stroke-width="0" opacity="0.6"/>
<circle cx="459.95" cy="501.57" r="1.80" fill="#a9c3e8" stroke="none" stroke-width="0" opacity="0.6"/>
<circle cx="455.50" cy="491.55" r="1.80" fill="#a9c3e8" stroke="none" stroke-width="0" opacity="0.6"/>
<circle cx="460.08" cy="489.30" r="1.80" fill="#a9c3e8" stroke="none" stroke-width="0" opacity="0.6"/>
<circle cx="458.39" cy="494.83" r="1.80" fill="#a9c3e8" stroke="none" stroke-width="0" opacity="0.6"/>
<circle cx="458.91" cy="509.61" r="1.80" fill="#a9c3e8" stroke="none" stroke-width="0" opacity="0.6"/>
<circle cx="449.44" cy="497.64" r="1.80" fill="#a9c3e8" stroke="none" stroke-width="0" opacity="0.6"/>
<circle cx="441.44" cy="501.92" r="1.80" fill="#a9c3e8" stroke="none" stroke-width="0" opacity="0.6"/>
<circle cx="449.39" cy="504.39" r="1.80" fill="#a9c3e8" stroke="none" stroke-width="0" opacity="0.6"/>
<circle cx="441.13" cy="486.63" r="1.80" fill="#a9c3e8" stroke="none" stroke-width="0" opacity="0.6"/>
<circle cx="449.92" cy="486.19" r="1.80" fill="#a9c3e8" stroke="none" stroke-width="0" opacity="0.6"/>
<circle cx="456.86" cy="495.34" r="1.80" fill="#a9c3e8" stroke="none" stroke-width="0" opacity="0.6"/>
<circle cx="449.45" cy="490.65" r="1.80" fill="#a9c3e8" stroke="none" stroke-width="0" opacity="0.6"/>
<circle cx="453.93" cy="502.18" r="1.80" fill="#a9c3e8" stroke="none" stroke-width="0" opacity="0.6"/>
<circle cx="443.61" cy="488.41" r="1.80" fill="#a9c3e8" stroke="none" stroke-width="0" opacity="0.6"/>
<circle cx="451.88" cy="499.68" r="1.80" fill="#a9c3e8" stroke="none" stroke-width="0" opacity="0.6"/>
<circle cx="460.78" cy="497.92" r="1.80" fill="#a9c3e8" stroke="none" stroke-width="0" opacity="0.6"/>
<circle cx="453.50" cy="476.31" r="1.80" fill="#a9c3e8" stroke="none" stroke-width="0" opacity="0.6"/>
<circle cx="456.24" cy="498.92" r="1.80" fill="#a9c3e8" stroke="none" stroke-width="0" opacity="0.6"/>
<circle cx="449.23" cy="496.54" r="1.80" fill="#a9c3e8" stroke="none" stroke-width="0" opacity="0.6"/>
<circle cx="454.15" cy="508.38" r="1.80" fill="#a9c3e8" stroke="none" stroke-width="0" opacity="0.6"/>
<circle cx="460.34" cy="486.37" r="1.80" fill="#a9c3e8" stroke="none" stroke-width="0" opacity="0.6"/>
<circle cx="446.93" cy="498.93" r="1.80" fill="#a9c3e8" stroke="none" stroke-width="0" opacity="0.6"/>
<circle cx="453.38" cy="507.69" r="1.80" fill="#a9c3e8" stroke="none" stroke-width="0" opacity="0.6"/>
<circle cx="444.75" cy="503.95" r="1.80" fill="#a9c3e8" stroke="none" stroke-width="0" opacity="0.6"/>
<circle cx="457.79" cy="483.42" r="1.80" fill="#a9c3e8" stroke="none" stroke-width="0" opacity="0.6"/>
<circle cx="460.68" cy="499.46" r="1.80" fill="#a9c3e8" stroke="none" stroke-width="0" opacity="0.6"/>
<circle cx="454.49" cy="482.49" r="1.80" fill="#a9c3e8" stroke="none" stroke-width="0" opacity="0.6"/>
<circle cx="459.64" cy="488.36" r="1.80" fill="#a9c3e8" stroke="none" stroke-width="0" opacity="0.6"/>
<circle cx="444.95" cy="472.77" r="1.80" fill="#a9c3e8" stroke="none" stroke-width="0" opacity="0.6"/>
<circle cx="448.03" cy="498.35" r="1.80" fill="#a9c3e8" stroke="none" stroke-width="0" opacity="0.6"/>
<circle cx="445.47" cy="509.68" r="1.80" fill="#a9c3e8" stroke="none" stroke-width="0" opacity="0.6"/>
<circle cx="457.90" cy="499.65" r="1.80" fill="#a9c3e8" stroke="none" stroke-width="0" opacity="0.6"/>
<circle cx="459.04" cy="465.10" r="1.80" fill="#a9c3e8" stroke="none" stroke-width="0" opacity="0.6"/>
<circle cx="444.71" cy="487.19" r="1.80" fill="#a9c3e8" stroke="none" stroke-width="0" opacity="0.6"/>
<circle cx="454.94" cy="509.20" r="1.80" fill="#a9c3e8" stroke="none" stroke-width="0" opacity="0.6"/>
<circle cx="451.18" cy="498.27" r="1.80" fill="#a9c3e8" stroke="none" stroke-width="0" opacity="0.6"/>
<circle cx="444.84" cy="506.64" r="1.80" fill="#a9c3e8" stroke="none" stroke-width="0" opacity="0.6"/>
<circle cx="454.84" cy="470.65" r="1.80" fill="#a9c3e8" stroke="none" stroke-width="0" opacity="0.6"/>
<circle cx="456.42" cy="508.33" r="1.80" fill="#a9c3e8" stroke="none" stroke-width="0" opacity="0.6"/>
<circle cx="441.14" cy="478.07" r="1.80" fill="#a9c3e8" stroke="none" stroke-width="0" opacity="0.6"/>
<circle cx="450.65" cy="487.99" r="1.80" fill="#a9c3e8" stroke="none" stroke-width="0" opacity="0.6"/>
<circle cx="454.17" cy="502.35" r="1.80" fill="#a9c3e8" stroke="none" stroke-width="0" opacity="0.6"/>
<circle cx="441.59" cy="487.97" r="1.80" fill="#a9c3e8" stroke="none" stroke-width="0" opacity="0.6"/>
<circle cx="451.65" cy="508.35" r="1.80" fill="#a9c3e8" stroke="none" stroke-width="0" opacity="0.6"/>
<circle cx="452.16" cy="492.09" r="1.80" fill="#a9c3e8" stroke="none" stroke-width="0" opacity="0.6"/>
<circle cx="448.64" cy="510.25" r="1.80" fill="#a9c3e8" stroke="none" stroke-width="0" opacity="0.6"/>
<circle cx="444.10" cy="509.45" r="1.80" fill="#a9c3e8" stroke="none" stroke-width="0" opacity="0.6"/>
<circle cx="448.97" cy="493.46" r="1.80" fill="#a9c3e8" stroke="none" stroke-width="0" opacity="0.6"/>
<circle cx="446.26" cy="510.08" r="1.80" fill="#a9c3e8" stroke="none" stroke-width="0" opacity="0.6"/>
<circle cx="449.60" cy="502.29" r="1.80" fill="#a9c3e8" stroke="none" stroke-width="0" opacity="0.6"/>
<circle cx="453.16" cy="495.34" r="1.80" fill="#a9c3e8" stroke="none" stroke-width="0" opacity="0.6"/>
<circle cx="443.47" cy="491.32" r="1.80" fill="#a9c3e8" stroke="none" stroke-width="0" opacity="0.6"/>
<circle cx="444.59" cy="504.76" r="1.80" fill="#a9c3e8" stroke="none" stroke-width="0" opacity="0.6"/>
<circle cx="459.75" cy="507.65" r="1.80" fill="#a9c3e8" stroke="none" stroke-width="0" opacity="0.6"/>
<circle cx="444.32" cy="504.75" r="1.80" fill="#a9c3e8" stroke="none" stroke-width="0" opacity="0.6"/>
<circle cx="458.97" cy="503.40" r="1.80" fill="#a9c3e8" stroke="none" stroke-width="0" opacity="0.6"/>
<circle cx="441.27" cy="495.27" r="1.80" fill="#a9c3e8" stroke="none" stroke-width="0" opacity="0.6"/>
<circle cx="452.89" cy="466.91" r="1.80" fill="#a9c3e8" stroke="none" stroke-width="0" opacity="0.6"/>
<circle cx="442.89" cy="503.58" r="1.80" fill="#a9c3e8" stroke="none" stroke-width="0" opacity="0.6"/>
<circle cx="442.07" cy="493.25" r="1.80" fill="#a9c3e8" stroke="none" stroke-width="0" opacity="0.6"/>
<circle cx="458.94" cy="475.28" r="1.80" fill="#a9c3e8" stroke="none" stroke-width="0" opacity="0.6"/>
<circle cx="447.00" cy="505.35" r="1.80" fill="#a9c3e8" stroke="none" stroke-width="0" opacity="0.6"/>
<circle cx="459.99" cy="505.19" r="1.80" fill="#a9c3e8" stroke="none" stroke-width="0" opacity="0.6"/>
<circle cx="457.54" cy="509.37" r="1.80" fill="#a9c3e8" stroke="none" stroke-width="0" opacity="0.6"/>
<circle cx="459.65" cy="482.90" r="1.80" fill="#a9c3e8" stroke="none" stroke-width="0" opacity="0.6"/>
<circle cx="456.14" cy="480.07" r="1.80" fill="#a9c3e8" stroke="none" stroke-width="0" opacity="0.6"/>
<circle cx="449.91" cy="482.73" r="1.80" fill="#a9c3e8" stroke="none" stroke-width="0" opacity="0.6"/>
<circle cx="446.80" cy="500.05" r="1.80" fill="#a9c3e8" stroke="none" stroke-width="0" opacity="0.6"/>
<circle cx="458.51" cy="510.69" r="1.80" fill="#a9c3e8" stroke="none" stroke-width="0" opacity="0.6"/>
<circle cx="459.83" cy="478.10" r="1.80" fill="#a9c3e8" stroke="none" stroke-width="0" opacity="0.6"/>
<circle cx="460.78" cy="486.85" r="1.80" fill="#a9c3e8" stroke="none" stroke-width="0" opacity="0.6"/>
<circle cx="447.96" cy="505.82" r="1.80" fill="#a9c3e8" stroke="none" stroke-width="0" opacity="0.6"/>
<circle cx="443.64" cy="489.51" r="1.80" fill="#a9c3e8" stroke="none" stroke-width="0" opacity="0.6"/>
<circle cx="458.41" cy="499.49" r="1.80" fill="#a9c3e8" stroke="none" stroke-width="0" opacity="0.6"/>
<circle cx="445.12" cy="478.62" r="1.80" fill="#a9c3e8" stroke="none" stroke-width="0" opacity="0.6"/>
<circle cx="452.97" cy="483.93" r="1.80" fill="#a9c3e8" stroke="none" stroke-width="0" opacity="0.6"/>
<circle cx="460.52" cy="498.72" r="1.80" fill="#a9c3e8" stroke="none" stroke-width="0" opacity="0.6"/>
<circle cx="447.90" cy="503.42" r="1.80" fill="#a9c3e8" stroke="none" stroke-width="0" opacity="0.6"/>
<circle cx="458.61" cy="494.28" r="1.80" fill="#a9c3e8" stroke="none" stroke-width="0" opacity="0.6"/>
<circle cx="456.12" cy="499.64" r="1.80" fill="#a9c3e8" stroke="none" stroke-width="0" opacity="0.6"/>
<circle cx="451.71" cy="501.67" r="1.80" fill="#a9c3e8" stroke="none" stroke-width="0" opacity="0.6"/>
<circle cx="440.91" cy="489.17" r="1.80" fill="#a9c3e8" stroke="none" stroke-width="0" opacity="0.6"/>
<circle cx="456.14" cy="481.93" r="1.80" fill="#a9c3e8" stroke="none" stroke-width="0" opacity="0.6"/>
<circle cx="459.51" cy="510.14" r="1.80" fill="#a9c3e8" stroke="none" stroke-width="0" opacity="0.6"/>
<circle cx="460.51" cy="504.21" r="1.80" fill="#a9c3e8" stroke="none" stroke-width="0" opacity="0.6"/>
<circle cx="459.68" cy="489.35" r="1.80" fill="#a9c3e8" stroke="none" stroke-width="0" opacity="0.6"/>
<circle cx="453.45" cy="463.80" r="1.80" fill="#a9c3e8" stroke="none" stroke-width="0" opacity="0.6"/>
<circle cx="455.66" cy="508.88" r="1.80" fill="#a9c3e8" stroke="none" stroke-width="0" opacity="0.6"/>
<circle cx="449.27" cy="497.90" r="1.80" fill="#a9c3e8" stroke="none" stroke-width="0" opacity="0.6"/>
<circle cx="448.79" cy="484.03" r="1.80" fill="#a9c3e8" stroke="none" stroke-width="0" opacity="0.6"/>
<circle cx="451.21" cy="509.98" r="1.80" fill="#a9c3e8" stroke="none" stroke-width="0" opacity="0.6"/>
<circle cx="445.62" cy="490.31" r="1.80" fill="#a9c3e8" stroke="none" stroke-width="0" opacity="0.6"/>
<circle cx="459.67" cy="479.01" r="1.80" fill="#a9c3e8" stroke="none" stroke-width="0" opacity="0.6"/>
<circle cx="445.04" cy="506.75" r="1.80" fill="#a9c3e8" stroke="none" stroke-width="0" opacity="0.6"/>
<circle cx="451.65" cy="494.88" r="1.80" fill="#a9c3e8" stroke="none" stroke-width="0" opacity="0.6"/>
<circle cx="459.32" cy="503.51" r="1.80" fill="#a9c3e8" stroke="none" stroke-width="0" opacity="0.6"/>
<circle cx="446.03" cy="482.76" r="1.80" fill="#a9c3e8" stroke="none" stroke-width="0" opacity="0.6"/>
<circle cx="460.36" cy="493.60" r="1.80" fill="#a9c3e8" stroke="none" stroke-width="0" opacity="0.6"/>
<circle cx="456.44" cy="424.90" r="1.80" fill="#a9c3e8" stroke="none" stroke-width="0" opacity="0.6"/>
<circle cx="446.99" cy="444.01" r="1.80" fill="#a9c3e8" stroke="none" stroke-width="0" opacity="0.6"/>
<circle cx="458.95" cy="445.61" r="1.80" fill="#a9c3e8" stroke="none" stroke-width="0" opacity="0.6"/>
<circle cx="459.41" cy="447.20" r="1.80" fill="#a9c3e8" stroke="none" stroke-width="0" opacity="0.6"/>
<circle cx="449.43" cy="447.20" r="1.80" fill="#a9c3e8" stroke="none" stroke-width="0" opacity="0.6"/>
<circle cx="483.55" cy="508.49" r="1.80" fill="#f3c8b4" stroke="none" stroke-width="0" opacity="0.6"/>
<circle cx="494.48" cy="484.00" r="1.80" fill="#f3c8b4" stroke="none" stroke-width="0" opacity="0.6"/>
<circle cx="483.64" cy="503.75" r="1.80" fill="#f3c8b4" stroke="none" stroke-width="0" opacity="0.6"/>
<circle cx="500.90" cy="499.09" r="1.80" fill="#f3c8b4" stroke="none" stroke-width="0" opacity="0.6"/>
<circle cx="492.37" cy="501.25" r="1.80" fill="#f3c8b4" stroke="none" stroke-width="0" opacity="0.6"/>
<circle cx="489.25" cy="480.01" r="1.80" fill="#f3c8b4" stroke="none" stroke-width="0" opacity="0.6"/>
<circle cx="500.58" cy="507.42" r="1.80" fill="#f3c8b4" stroke="none" stroke-width="0" opacity="0.6"/>
<circle cx="492.87" cy="498.61" r="1.80" fill="#f3c8b4" stroke="none" stroke-width="0" opacity="0.6"/>
<circle cx="501.00" cy="483.26" r="1.80" fill="#f3c8b4" stroke="none" stroke-width="0" opacity="0.6"/>
<circle cx="483.63" cy="499.56" r="1.80" fill="#f3c8b4" stroke="none" stroke-width="0" opacity="0.6"/>
<circle cx="501.79" cy="500.33" r="1.80" fill="#f3c8b4" stroke="none" stroke-width="0" opacity="0.6"/>
<circle cx="484.03" cy="508.50" r="1.80" fill="#f3c8b4" stroke="none" stroke-width="0" opacity="0.6"/>
<circle cx="499.07" cy="500.44" r="1.80" fill="#f3c8b4" stroke="none" stroke-width="0" opacity="0.6"/>
<circle cx="499.41" cy="510.09" r="1.80" fill="#f3c8b4" stroke="none" stroke-width="0" opacity="0.6"/>
<circle cx="495.94" cy="507.54" r="1.80" fill="#f3c8b4" stroke="none" stroke-width="0" opacity="0.6"/>
<circle cx="495.62" cy="482.20" r="1.80" fill="#f3c8b4" stroke="none" stroke-width="0" opacity="0.6"/>
<circle cx="497.50" cy="486.03" r="1.80" fill="#f3c8b4" stroke="none" stroke-width="0" opacity="0.6"/>
<circle cx="498.14" cy="496.84" r="1.80" fill="#f3c8b4" stroke="none" stroke-width="0" opacity="0.6"/>
<circle cx="483.76" cy="503.10" r="1.80" fill="#f3c8b4" stroke="none" stroke-width="0" opacity="0.6"/>
<circle cx="491.92" cy="488.70" r="1.80" fill="#f3c8b4" stroke="none" stroke-width="0" opacity="0.6"/>
<circle cx="495.35" cy="492.98" r="1.80" fill="#f3c8b4" stroke="none" stroke-width="0" opacity="0.6"/>
<circle cx="487.26" cy="492.81" r="1.80" fill="#f3c8b4" stroke="none" stroke-width="0" opacity="0.6"/>
<circle cx="502.46" cy="500.56" r="1.80" fill="#f3c8b4" stroke="none" stroke-width="0" opacity="0.6"/>
<circle cx="490.43" cy="482.28" r="1.80" fill="#f3c8b4" stroke="none" stroke-width="0" opacity="0.6"/>
<circle cx="484.30" cy="495.90" r="1.80" fill="#f3c8b4" stroke="none" stroke-width="0" opacity="0.6"/>
<circle cx="486.09" cy="484.20" r="1.80" fill="#f3c8b4" stroke="none" stroke-width="0" opacity="0.6"/>
<circle cx="502.41" cy="510.31" r="1.80" fill="#f3c8b4" stroke="none" stroke-width="0" opacity="0.6"/>
<circle cx="500.65" cy="498.11" r="1.80" fill="#f3c8b4" stroke="none" stroke-width="0" opacity="0.6"/>
<circle cx="501.93" cy="509.73" r="1.80" fill="#f3c8b4" stroke="none" stroke-width="0" opacity="0.6"/>
<circle cx="491.46" cy="499.87" r="1.80" fill="#f3c8b4" stroke="none" stroke-width="0" opacity="0.6"/>
<circle cx="500.53" cy="505.30" r="1.80" fill="#f3c8b4" stroke="none" stroke-width="0" opacity="0.6"/>
<circle cx="487.52" cy="490.00" r="1.80" fill="#f3c8b4" stroke="none" stroke-width="0" opacity="0.6"/>
<circle cx="499.41" cy="503.42" r="1.80" fill="#f3c8b4" stroke="none" stroke-width="0" opacity="0.6"/>
<circle cx="488.26" cy="471.09" r="1.80" fill="#f3c8b4" stroke="none" stroke-width="0" opacity="0.6"/>
<circle cx="493.08" cy="500.15" r="1.80" fill="#f3c8b4" stroke="none" stroke-width="0" opacity="0.6"/>
<circle cx="495.23" cy="506.97" r="1.80" fill="#f3c8b4" stroke="none" stroke-width="0" opacity="0.6"/>
<circle cx="484.67" cy="491.65" r="1.80" fill="#f3c8b4" stroke="none" stroke-width="0" opacity="0.6"/>
<circle cx="493.74" cy="507.30" r="1.80" fill="#f3c8b4" stroke="none" stroke-width="0" opacity="0.6"/>
<circle cx="499.95" cy="510.00" r="1.80" fill="#f3c8b4" stroke="none" stroke-width="0" opacity="0.6"/>
<circle cx="490.89" cy="499.73" r="1.80" fill="#f3c8b4" stroke="none" stroke-width="0" opacity="0.6"/>
<circle cx="499.81" cy="501.10" r="1.80" fill="#f3c8b4" stroke="none" stroke-width="0" opacity="0.6"/>
<circle cx="501.02" cy="503.17" r="1.80" fill="#f3c8b4" stroke="none" stroke-width="0" opacity="0.6"/>
<circle cx="499.67" cy="485.22" r="1.80" fill="#f3c8b4" stroke="none" stroke-width="0" opacity="0.6"/>
<circle cx="488.84" cy="485.43" r="1.80" fill="#f3c8b4" stroke="none" stroke-width="0" opacity="0.6"/>
<circle cx="498.88" cy="506.48" r="1.80" fill="#f3c8b4" stroke="none" stroke-width="0" opacity="0.6"/>
<circle cx="500.32" cy="489.76" r="1.80" fill="#f3c8b4" stroke="none" stroke-width="0" opacity="0.6"/>
<circle cx="499.28" cy="507.91" r="1.80" fill="#f3c8b4" stroke="none" stroke-width="0" opacity="0.6"/>
<circle cx="494.97" cy="494.40" r="1.80" fill="#f3c8b4" stroke="none" stroke-width="0" opacity="0.6"/>
<circle cx="490.51" cy="484.19" r="1.80" fill="#f3c8b4" stroke="none" stroke-width="0" opacity="0.6"/>
<circle cx="498.73" cy="502.88" r="1.80" fill="#f3c8b4" stroke="none" stroke-width="0" opacity="0.6"/>
<circle cx="499.93" cy="510.00" r="1.80" fill="#f3c8b4" stroke="none" stroke-width="0" opacity="0.6"/>
<circle cx="496.00" cy="508.62" r="1.80" fill="#f3c8b4" stroke="none" stroke-width="0" opacity="0.6"/>
<circle cx="488.80" cy="504.47" r="1.80" fill="#f3c8b4" stroke="none" stroke-width="0" opacity="0.6"/>
<circle cx="491.86" cy="499.10" r="1.80" fill="#f3c8b4" stroke="none" stroke-width="0" opacity="0.6"/>
<circle cx="496.38" cy="492.58" r="1.80" fill="#f3c8b4" stroke="none" stroke-width="0" opacity="0.6"/>
<circle cx="493.70" cy="505.06" r="1.80" fill="#f3c8b4" stroke="none" stroke-width="0" opacity="0.6"/>
<circle cx="487.63" cy="496.34" r="1.80" fill="#f3c8b4" stroke="none" stroke-width="0" opacity="0.6"/>
<circle cx="487.30" cy="505.13" r="1.80" fill="#f3c8b4" stroke="none" stroke-width="0" opacity="0.6"/>
<circle cx="482.78" cy="501.50" r="1.80" fill="#f3c8b4" stroke="none" stroke-width="0" opacity="0.6"/>
<circle cx="486.82" cy="498.18" r="1.80" fill="#f3c8b4" stroke="none" stroke-width="0" opacity="0.6"/>
<circle cx="502.61" cy="486.45" r="1.80" fill="#f3c8b4" stroke="none" stroke-width="0" opacity="0.6"/>
<circle cx="494.77" cy="490.09" r="1.80" fill="#f3c8b4" stroke="none" stroke-width="0" opacity="0.6"/>
<circle cx="495.97" cy="497.39" r="1.80" fill="#f3c8b4" stroke="none" stroke-width="0" opacity="0.6"/>
<circle cx="491.38" cy="507.79" r="1.80" fill="#f3c8b4" stroke="none" stroke-width="0" opacity="0.6"/>
<circle cx="487.08" cy="495.21" r="1.80" fill="#f3c8b4" stroke="none" stroke-width="0" opacity="0.6"/>
<circle cx="495.34" cy="492.84" r="1.80" fill="#f3c8b4" stroke="none" stroke-width="0" opacity="0.6"/>
<circle cx="490.09" cy="501.21" r="1.80" fill="#f3c8b4" stroke="none" stroke-width="0" opacity="0.6"/>
<circle cx="496.05" cy="499.96" r="1.80" fill="#f3c8b4" stroke="none" stroke-width="0" opacity="0.6"/>
<circle cx="489.69" cy="502.75" r="1.80" fill="#f3c8b4" stroke="none" stroke-width="0" opacity="0.6"/>
<circle cx="497.30" cy="491.94" r="1.80" fill="#f3c8b4" stroke="none" stroke-width="0" opacity="0.6"/>
<circle cx="486.49" cy="483.93" r="1.80" fill="#f3c8b4" stroke="none" stroke-width="0" opacity="0.6"/>
<circle cx="493.37" cy="504.94" r="1.80" fill="#f3c8b4" stroke="none" stroke-width="0" opacity="0.6"/>
<circle cx="490.75" cy="506.04" r="1.80" fill="#f3c8b4" stroke="none" stroke-width="0" opacity="0.6"/>
<circle cx="497.35" cy="503.14" r="1.80" fill="#f3c8b4" stroke="none" stroke-width="0" opacity="0.6"/>
<circle cx="501.00" cy="499.08" r="1.80" fill="#f3c8b4" stroke="none" stroke-width="0" opacity="0.6"/>
<circle cx="499.09" cy="504.77" r="1.80" fill="#f3c8b4" stroke="none" stroke-width="0" opacity="0.6"/>
<circle cx="492.15" cy="493.54" r="1.80" fill="#f3c8b4" stroke="none" stroke-width="0" opacity="0.6"/>
<circle cx="494.27" cy="489.94" r="1.80" fill="#f3c8b4" stroke="none" stroke-width="0" opacity="0.6"/>
<circle cx="501.40" cy="491.83" r="1.80" fill="#f3c8b4" stroke="none" stroke-width="0" opacity="0.6"/>
<circle cx="498.44" cy="490.35" r="1.80" fill="#f3c8b4" stroke="none" stroke-width="0" opacity="0.6"/>
<circle cx="495.73" cy="485.94" r="1.80" fill="#f3c8b4" stroke="none" stroke-width="0" opacity="0.6"/>
<circle cx="482.75" cy="487.06" r="1.80" fill="#f3c8b4" stroke="none" stroke-width="0" opacity="0.6"/>
<circle cx="502.67" cy="508.27" r="1.80" fill="#f3c8b4" stroke="none" stroke-width="0" opacity="0.6"/>
<circle cx="487.99" cy="495.72" r="1.80" fill="#f3c8b4" stroke="none" stroke-width="0" opacity="0.6"/>
<circle cx="486.70" cy="495.47" r="1.80" fill="#f3c8b4" stroke="none" stroke-width="0" opacity="0.6"/>
<circle cx="487.81" cy="487.79" r="1.80" fill="#f3c8b4" stroke="none" stroke-width="0" opacity="0.6"/>
<circle cx="502.61" cy="505.13" r="1.80" fill="#f3c8b4" stroke="none" stroke-width="0" opacity="0.6"/>
<circle cx="498.04" cy="510.43" r="1.80" fill="#f3c8b4" stroke="none" stroke-width="0" opacity="0.6"/>
<circle cx="483.02" cy="487.54" r="1.80" fill="#f3c8b4" stroke="none" stroke-width="0" opacity="0.6"/>
<circle cx="486.19" cy="506.38" r="1.80" fill="#f3c8b4" stroke="none" stroke-width="0" opacity="0.6"/>
<circle cx="501.94" cy="509.05" r="1.80" fill="#f3c8b4" stroke="none" stroke-width="0" opacity="0.6"/>
<circle cx="499.38" cy="507.66" r="1.80" fill="#f3c8b4" stroke="none" stroke-width="0" opacity="0.6"/>
<circle cx="494.15" cy="509.78" r="1.80" fill="#f3c8b4" stroke="none" stroke-width="0" opacity="0.6"/>
<circle cx="496.15" cy="504.07" r="1.80" fill="#f3c8b4" stroke="none" stroke-width="0" opacity="0.6"/>
<circle cx="501.62" cy="503.73" r="1.80" fill="#f3c8b4" stroke="none" stroke-width="0" opacity="0.6"/>
<circle cx="482.81" cy="483.41" r="1.80" fill="#f3c8b4" stroke="none" stroke-width="0" opacity="0.6"/>
<circle cx="498.22" cy="490.94" r="1.80" fill="#f3c8b4" stroke="none" stroke-width="0" opacity="0.6"/>
<circle cx="483.20" cy="488.23" r="1.80" fill="#f3c8b4" stroke="none" stroke-width="0" opacity="0.6"/>
<circle cx="488.45" cy="504.37" r="1.80" fill="#f3c8b4" stroke="none" stroke-width="0" opacity="0.6"/>
<circle cx="499.66" cy="498.28" r="1.80" fill="#f3c8b4" stroke="none" stroke-width="0" opacity="0.6"/>
<circle cx="494.62" cy="507.82" r="1.80" fill="#f3c8b4" stroke="none" stroke-width="0" opacity="0.6"/>
<circle cx="486.59" cy="510.58" r="1.80" fill="#f3c8b4" stroke="none" stroke-width="0" opacity="0.6"/>
<circle cx="501.92" cy="497.41" r="1.80" fill="#f3c8b4" stroke="none" stroke-width="0" opacity="0.6"/>
<circle cx="483.00" cy="504.38" r="1.80" fill="#f3c8b4" stroke="none" stroke-width="0" opacity="0.6"/>
<circle cx="496.91" cy="510.76" r="1.80" fill="#f3c8b4" stroke="none" stroke-width="0" opacity="0.6"/>
<circle cx="490.47" cy="507.90" r="1.80" fill="#f3c8b4" stroke="none" stroke-width="0" opacity="0.6"/>
<circle cx="494.36" cy="495.05" r="1.80" fill="#f3c8b4" stroke="none" stroke-width="0" opacity="0.6"/>
<circle cx="499.20" cy="506.59" r="1.80" fill="#f3c8b4" stroke="none" stroke-width="0" opacity="0.6"/>
<circle cx="497.12" cy="498.43" r="1.80" fill="#f3c8b4" stroke="none" stroke-width="0" opacity="0.6"/>
<circle cx="484.90" cy="494.12" r="1.80" fill="#f3c8b4" stroke="none" stroke-width="0" opacity="0.6"/>
<circle cx="499.86" cy="471.09" r="1.80" fill="#f3c8b4" stroke="none" stroke-width="0" opacity="0.6"/>
<circle cx="489.83" cy="496.41" r="1.80" fill="#f3c8b4" stroke="none" stroke-width="0" opacity="0.6"/>
<circle cx="502.30" cy="505.56" r="1.80" fill="#f3c8b4" stroke="none" stroke-width="0" opacity="0.6"/>
<circle cx="499.64" cy="505.42" r="1.80" fill="#f3c8b4" stroke="none" stroke-width="0" opacity="0.6"/>
<circle cx="496.38" cy="500.05" r="1.80" fill="#f3c8b4" stroke="none" stroke-width="0" opacity="0.6"/>
<circle cx="486.99" cy="510.05" r="1.80" fill="#f3c8b4" stroke="none" stroke-width="0" opacity="0.6"/>
<circle cx="491.12" cy="502.34" r="1.80" fill="#f3c8b4" stroke="none" stroke-width="0" opacity="0.6"/>
<circle cx="500.09" cy="497.47" r="1.80" fill="#f3c8b4" stroke="none" stroke-width="0" opacity="0.6"/>
<circle cx="491.22" cy="500.16" r="1.80" fill="#f3c8b4" stroke="none" stroke-width="0" opacity="0.6"/>
<circle cx="498.13" cy="503.34" r="1.80" fill="#f3c8b4" stroke="none" stroke-width="0" opacity="0.6"/>
<circle cx="498.01" cy="494.81" r="1.80" fill="#f3c8b4" stroke="none" stroke-width="0" opacity="0.6"/>
<circle cx="498.08" cy="506.09" r="1.80" fill="#f3c8b4" stroke="none" stroke-width="0" opacity="0.6"/>
<circle cx="490.51" cy="493.89" r="1.80" fill="#f3c8b4" stroke="none" stroke-width="0" opacity="0.6"/>
<circle cx="486.13" cy="497.22" r="1.80" fill="#f3c8b4" stroke="none" stroke-width="0" opacity="0.6"/>
<circle cx="490.88" cy="503.03" r="1.80" fill="#f3c8b4" stroke="none" stroke-width="0" opacity="0.6"/>
<circle cx="487.82" cy="494.73" r="1.80" fill="#f3c8b4" stroke="none" stroke-width="0" opacity="0.6"/>
<circle cx="487.69" cy="505.93" r="1.80" fill="#f3c8b4" stroke="none" stroke-width="0" opacity="0.6"/>
<circle cx="497.93" cy="499.34" r="1.80" fill="#f3c8b4" stroke="none" stroke-width="0" opacity="0.6"/>
<circle cx="496.23" cy="493.14" r="1.80" fill="#f3c8b4" stroke="none" stroke-width="0" opacity="0.6"/>
<circle cx="495.26" cy="504.26" r="1.80" fill="#f3c8b4" stroke="none" stroke-width="0" opacity="0.6"/>
<circle cx="491.31" cy="496.46" r="1.80" fill="#f3c8b4" stroke="none" stroke-width="0" opacity="0.6"/>
<circle cx="496.70" cy="504.91" r="1.80" fill="#f3c8b4" stroke="none" stroke-width="0" opacity="0.6"/>
<circle cx="490.32" cy="501.48" r="1.80" fill="#f3c8b4" stroke="none" stroke-width="0" opacity="0.6"/>
<circle cx="482.82" cy="509.84" r="1.80" fill="#f3c8b4" stroke="none" stroke-width="0" opacity="0.6"/>
<circle cx="490.49" cy="491.12" r="1.80" fill="#f3c8b4" stroke="none" stroke-width="0" opacity="0.6"/>
<circle cx="496.56" cy="491.62" r="1.80" fill="#f3c8b4" stroke="none" stroke-width="0" opacity="0.6"/>
<circle cx="497.42" cy="500.12" r="1.80" fill="#f3c8b4" stroke="none" stroke-width="0" opacity="0.6"/>
<circle cx="493.17" cy="485.00" r="1.80" fill="#f3c8b4" stroke="none" stroke-width="0" opacity="0.6"/>
<circle cx="494.27" cy="488.92" r="1.80" fill="#f3c8b4" stroke="none" stroke-width="0" opacity="0.6"/>
<circle cx="489.49" cy="480.74" r="1.80" fill="#f3c8b4" stroke="none" stroke-width="0" opacity="0.6"/>
<circle cx="498.87" cy="503.49" r="1.80" fill="#f3c8b4" stroke="none" stroke-width="0" opacity="0.6"/>
<circle cx="482.99" cy="502.90" r="1.80" fill="#f3c8b4" stroke="none" stroke-width="0" opacity="0.6"/>
<circle cx="486.76" cy="472.57" r="1.80" fill="#f3c8b4" stroke="none" stroke-width="0" opacity="0.6"/>
<circle cx="490.84" cy="480.16" r="1.80" fill="#f3c8b4" stroke="none" stroke-width="0" opacity="0.6"/>
<circle cx="491.15" cy="499.27" r="1.80" fill="#f3c8b4" stroke="none" stroke-width="0" opacity="0.6"/>
<circle cx="493.54" cy="485.06" r="1.80" fill="#f3c8b4" stroke="none" stroke-width="0" opacity="0.6"/>
<circle cx="490.71" cy="492.59" r="1.80" fill="#f3c8b4" stroke="none" stroke-width="0" opacity="0.6"/>
<circle cx="499.46" cy="500.50" r="1.80" fill="#f3c8b4" stroke="none" stroke-width="0" opacity="0.6"/>
<circle cx="489.01" cy="505.36" r="1.80" fill="#f3c8b4" stroke="none" stroke-width="0" opacity="0.6"/>
<circle cx="499.23" cy="483.52" r="1.80" fill="#f3c8b4" stroke="none" stroke-width="0" opacity="0.6"/>
<circle cx="494.36" cy="501.62" r="1.80" fill="#f3c8b4" stroke="none" stroke-width="0" opacity="0.6"/>
<circle cx="489.44" cy="503.54" r="1.80" fill="#f3c8b4" stroke="none" stroke-width="0" opacity="0.6"/>
<circle cx="498.96" cy="510.89" r="1.80" fill="#f3c8b4" stroke="none" stroke-width="0" opacity="0.6"/>
<circle cx="492.47" cy="505.26" r="1.80" fill="#f3c8b4" stroke="none" stroke-width="0" opacity="0.6"/>
<circle cx="502.35" cy="508.72" r="1.80" fill="#f3c8b4" stroke="none" stroke-width="0" opacity="0.6"/>
<circle cx="490.07" cy="508.68" r="1.80" fill="#f3c8b4" stroke="none" stroke-width="0" opacity="0.6"/>
<circle cx="491.91" cy="509.07" r="1.80" fill="#f3c8b4" stroke="none" stroke-width="0" opacity="0.6"/>
<circle cx="502.36" cy="486.06" r="1.80" fill="#f3c8b4" stroke="none" stroke-width="0" opacity="0.6"/>
<circle cx="484.29" cy="508.11" r="1.80" fill="#f3c8b4" stroke="none" stroke-width="0" opacity="0.6"/>
<circle cx="486.60" cy="499.70" r="1.80" fill="#f3c8b4" stroke="none" stroke-width="0" opacity="0.6"/>
<circle cx="485.16" cy="509.27" r="1.80" fill="#f3c8b4" stroke="none" stroke-width="0" opacity="0.6"/>
<circle cx="490.96" cy="507.42" r="1.80" fill="#f3c8b4" stroke="none" stroke-width="0" opacity="0.6"/>
<circle cx="494.50" cy="423.31" r="1.80" fill="#f3c8b4" stroke="none" stroke-width="0" opacity="0.6"/>
<circle cx="495.14" cy="424.90" r="1.80" fill="#f3c8b4" stroke="none" stroke-width="0" opacity="0.6"/>
<circle cx="500.09" cy="447.20" r="1.80" fill="#f3c8b4" stroke="none" stroke-width="0" opacity="0.6"/>
<circle cx="492.27" cy="455.16" r="1.80" fill="#f3c8b4" stroke="none" stroke-width="0" opacity="0.6"/>
<circle cx="485.54" cy="458.35" r="1.80" fill="#f3c8b4" stroke="none" stroke-width="0" opacity="0.6"/>
<circle cx="493.24" cy="467.90" r="1.80" fill="#f3c8b4" stroke="none" stroke-width="0" opacity="0.6"/>
<circle cx="541.74" cy="500.77" r="1.80" fill="#d9b033" stroke="none" stroke-width="0" opacity="0.65"/>
<circle cx="538.58" cy="503.84" r="1.80" fill="#d9b033" stroke="none" stroke-width="0" opacity="0.65"/>
<circle cx="526.28" cy="505.68" r="1.80" fill="#d9b033" stroke="none" stroke-width="0" opacity="0.65"/>
<circle cx="527.31" cy="505.70" r="1.80" fill="#d9b033" stroke="none" stroke-width="0" opacity="0.65"/>
<circle cx="539.15" cy="497.06" r="1.80" fill="#d9b033" stroke="none" stroke-width="0" opacity="0.65"/>
<circle cx="530.26" cy="506.99" r="1.80" fill="#d9b033" stroke="none" stroke-width="0" opacity="0.65"/>
<circle cx="535.73" cy="494.29" r="1.80" fill="#d9b033" stroke="none" stroke-width="0" opacity="0.65"/>
<circle cx="533.52" cy="485.31" r="1.80" fill="#d9b033" stroke="none" stroke-width="0" opacity="0.65"/>
<circle cx="531.48" cy="502.43" r="1.80" fill="#d9b033" stroke="none" stroke-width="0" opacity="0.65"/>
<circle cx="529.04" cy="480.31" r="1.80" fill="#d9b033" stroke="none" stroke-width="0" opacity="0.65"/>
<circle cx="525.90" cy="509.71" r="1.80" fill="#d9b033" stroke="none" stroke-width="0" opacity="0.65"/>
<circle cx="543.80" cy="506.75" r="1.80" fill="#d9b033" stroke="none" stroke-width="0" opacity="0.65"/>
<circle cx="543.23" cy="502.26" r="1.80" fill="#d9b033" stroke="none" stroke-width="0" opacity="0.65"/>
<circle cx="538.11" cy="503.64" r="1.80" fill="#d9b033" stroke="none" stroke-width="0" opacity="0.65"/>
<circle cx="532.40" cy="503.98" r="1.80" fill="#d9b033" stroke="none" stroke-width="0" opacity="0.65"/>
<circle cx="525.36" cy="476.56" r="1.80" fill="#d9b033" stroke="none" stroke-width="0" opacity="0.65"/>
<circle cx="535.42" cy="503.90" r="1.80" fill="#d9b033" stroke="none" stroke-width="0" opacity="0.65"/>
<circle cx="533.17" cy="495.35" r="1.80" fill="#d9b033" stroke="none" stroke-width="0" opacity="0.65"/>
<circle cx="531.20" cy="495.77" r="1.80" fill="#d9b033" stroke="none" stroke-width="0" opacity="0.65"/>
<circle cx="541.16" cy="486.67" r="1.80" fill="#d9b033" stroke="none" stroke-width="0" opacity="0.65"/>
<circle cx="541.05" cy="485.68" r="1.80" fill="#d9b033" stroke="none" stroke-width="0" opacity="0.65"/>
<circle cx="532.18" cy="502.25" r="1.80" fill="#d9b033" stroke="none" stroke-width="0" opacity="0.65"/>
<circle cx="529.74" cy="500.90" r="1.80" fill="#d9b033" stroke="none" stroke-width="0" opacity="0.65"/>
<circle cx="530.92" cy="508.69" r="1.80" fill="#d9b033" stroke="none" stroke-width="0" opacity="0.65"/>
<circle cx="535.10" cy="490.39" r="1.80" fill="#d9b033" stroke="none" stroke-width="0" opacity="0.65"/>
<circle cx="541.02" cy="489.76" r="1.80" fill="#d9b033" stroke="none" stroke-width="0" opacity="0.65"/>
<circle cx="539.00" cy="507.63" r="1.80" fill="#d9b033" stroke="none" stroke-width="0" opacity="0.65"/>
<circle cx="534.27" cy="501.91" r="1.80" fill="#d9b033" stroke="none" stroke-width="0" opacity="0.65"/>
<circle cx="526.48" cy="501.29" r="1.80" fill="#d9b033" stroke="none" stroke-width="0" opacity="0.65"/>
<circle cx="541.72" cy="502.76" r="1.80" fill="#d9b033" stroke="none" stroke-width="0" opacity="0.65"/>
<circle cx="528.75" cy="507.12" r="1.80" fill="#d9b033" stroke="none" stroke-width="0" opacity="0.65"/>
<circle cx="542.50" cy="509.70" r="1.80" fill="#d9b033" stroke="none" stroke-width="0" opacity="0.65"/>
<circle cx="540.15" cy="484.61" r="1.80" fill="#d9b033" stroke="none" stroke-width="0" opacity="0.65"/>
<circle cx="526.62" cy="503.37" r="1.80" fill="#d9b033" stroke="none" stroke-width="0" opacity="0.65"/>
<circle cx="539.12" cy="501.29" r="1.80" fill="#d9b033" stroke="none" stroke-width="0" opacity="0.65"/>
<circle cx="527.57" cy="507.94" r="1.80" fill="#d9b033" stroke="none" stroke-width="0" opacity="0.65"/>
<circle cx="538.19" cy="488.80" r="1.80" fill="#d9b033" stroke="none" stroke-width="0" opacity="0.65"/>
<circle cx="529.61" cy="507.54" r="1.80" fill="#d9b033" stroke="none" stroke-width="0" opacity="0.65"/>
<circle cx="525.51" cy="491.18" r="1.80" fill="#d9b033" stroke="none" stroke-width="0" opacity="0.65"/>
<circle cx="535.34" cy="503.58" r="1.80" fill="#d9b033" stroke="none" stroke-width="0" opacity="0.65"/>
<circle cx="532.05" cy="507.33" r="1.80" fill="#d9b033" stroke="none" stroke-width="0" opacity="0.65"/>
<circle cx="532.53" cy="499.97" r="1.80" fill="#d9b033" stroke="none" stroke-width="0" opacity="0.65"/>
<circle cx="531.31" cy="504.44" r="1.80" fill="#d9b033" stroke="none" stroke-width="0" opacity="0.65"/>
<circle cx="535.50" cy="503.52" r="1.80" fill="#d9b033" stroke="none" stroke-width="0" opacity="0.65"/>
<circle cx="542.60" cy="482.23" r="1.80" fill="#d9b033" stroke="none" stroke-width="0" opacity="0.65"/>
<circle cx="539.41" cy="492.71" r="1.80" fill="#d9b033" stroke="none" stroke-width="0" opacity="0.65"/>
<circle cx="539.59" cy="476.32" r="1.80" fill="#d9b033" stroke="none" stroke-width="0" opacity="0.65"/>
<circle cx="526.12" cy="502.94" r="1.80" fill="#d9b033" stroke="none" stroke-width="0" opacity="0.65"/>
<circle cx="534.96" cy="476.73" r="1.80" fill="#d9b033" stroke="none" stroke-width="0" opacity="0.65"/>
<circle cx="524.69" cy="466.27" r="1.80" fill="#d9b033" stroke="none" stroke-width="0" opacity="0.65"/>
<circle cx="528.68" cy="509.40" r="1.80" fill="#d9b033" stroke="none" stroke-width="0" opacity="0.65"/>
<circle cx="533.20" cy="508.18" r="1.80" fill="#d9b033" stroke="none" stroke-width="0" opacity="0.65"/>
<circle cx="533.65" cy="508.19" r="1.80" fill="#d9b033" stroke="none" stroke-width="0" opacity="0.65"/>
<circle cx="529.20" cy="488.26" r="1.80" fill="#d9b033" stroke="none" stroke-width="0" opacity="0.65"/>
<circle cx="535.28" cy="477.61" r="1.80" fill="#d9b033" stroke="none" stroke-width="0" opacity="0.65"/>
<circle cx="529.12" cy="505.36" r="1.80" fill="#d9b033" stroke="none" stroke-width="0" opacity="0.65"/>
<circle cx="530.36" cy="476.42" r="1.80" fill="#d9b033" stroke="none" stroke-width="0" opacity="0.65"/>
<circle cx="535.87" cy="507.56" r="1.80" fill="#d9b033" stroke="none" stroke-width="0" opacity="0.65"/>
<circle cx="539.76" cy="510.43" r="1.80" fill="#d9b033" stroke="none" stroke-width="0" opacity="0.65"/>
<circle cx="534.57" cy="485.25" r="1.80" fill="#d9b033" stroke="none" stroke-width="0" opacity="0.65"/>
<circle cx="527.99" cy="488.42" r="1.80" fill="#d9b033" stroke="none" stroke-width="0" opacity="0.65"/>
<circle cx="528.23" cy="468.36" r="1.80" fill="#d9b033" stroke="none" stroke-width="0" opacity="0.65"/>
<circle cx="527.32" cy="500.29" r="1.80" fill="#d9b033" stroke="none" stroke-width="0" opacity="0.65"/>
<circle cx="532.13" cy="499.13" r="1.80" fill="#d9b033" stroke="none" stroke-width="0" opacity="0.65"/>
<circle cx="527.81" cy="493.76" r="1.80" fill="#d9b033" stroke="none" stroke-width="0" opacity="0.65"/>
<circle cx="533.44" cy="492.87" r="1.80" fill="#d9b033" stroke="none" stroke-width="0" opacity="0.65"/>
<circle cx="537.39" cy="474.51" r="1.80" fill="#d9b033" stroke="none" stroke-width="0" opacity="0.65"/>
<circle cx="532.95" cy="486.26" r="1.80" fill="#d9b033" stroke="none" stroke-width="0" opacity="0.65"/>
<circle cx="528.09" cy="470.82" r="1.80" fill="#d9b033" stroke="none" stroke-width="0" opacity="0.65"/>
<circle cx="538.31" cy="507.76" r="1.80" fill="#d9b033" stroke="none" stroke-width="0" opacity="0.65"/>
<circle cx="532.44" cy="484.02" r="1.80" fill="#d9b033" stroke="none" stroke-width="0" opacity="0.65"/>
<circle cx="532.89" cy="496.67" r="1.80" fill="#d9b033" stroke="none" stroke-width="0" opacity="0.65"/>
<circle cx="543.95" cy="494.22" r="1.80" fill="#d9b033" stroke="none" stroke-width="0" opacity="0.65"/>
<circle cx="527.45" cy="494.06" r="1.80" fill="#d9b033" stroke="none" stroke-width="0" opacity="0.65"/>
<circle cx="531.54" cy="484.02" r="1.80" fill="#d9b033" stroke="none" stroke-width="0" opacity="0.65"/>
<circle cx="536.70" cy="501.92" r="1.80" fill="#d9b033" stroke="none" stroke-width="0" opacity="0.65"/>
<circle cx="536.00" cy="509.92" r="1.80" fill="#d9b033" stroke="none" stroke-width="0" opacity="0.65"/>
<circle cx="534.10" cy="506.14" r="1.80" fill="#d9b033" stroke="none" stroke-width="0" opacity="0.65"/>
<circle cx="535.91" cy="493.11" r="1.80" fill="#d9b033" stroke="none" stroke-width="0" opacity="0.65"/>
<circle cx="543.76" cy="492.22" r="1.80" fill="#d9b033" stroke="none" stroke-width="0" opacity="0.65"/>
<circle cx="542.29" cy="510.08" r="1.80" fill="#d9b033" stroke="none" stroke-width="0" opacity="0.65"/>
<circle cx="527.16" cy="493.83" r="1.80" fill="#d9b033" stroke="none" stroke-width="0" opacity="0.65"/>
<circle cx="537.48" cy="477.08" r="1.80" fill="#d9b033" stroke="none" stroke-width="0" opacity="0.65"/>
<circle cx="534.34" cy="509.30" r="1.80" fill="#d9b033" stroke="none" stroke-width="0" opacity="0.65"/>
<circle cx="543.97" cy="496.49" r="1.80" fill="#d9b033" stroke="none" stroke-width="0" opacity="0.65"/>
<circle cx="532.40" cy="503.26" r="1.80" fill="#d9b033" stroke="none" stroke-width="0" opacity="0.65"/>
<circle cx="534.19" cy="500.51" r="1.80" fill="#d9b033" stroke="none" stroke-width="0" opacity="0.65"/>
<circle cx="541.76" cy="486.70" r="1.80" fill="#d9b033" stroke="none" stroke-width="0" opacity="0.65"/>
<circle cx="526.24" cy="509.14" r="1.80" fill="#d9b033" stroke="none" stroke-width="0" opacity="0.65"/>
<circle cx="533.81" cy="504.20" r="1.80" fill="#d9b033" stroke="none" stroke-width="0" opacity="0.65"/>
<circle cx="537.94" cy="500.75" r="1.80" fill="#d9b033" stroke="none" stroke-width="0" opacity="0.65"/>
<circle cx="541.52" cy="479.14" r="1.80" fill="#d9b033" stroke="none" stroke-width="0" opacity="0.65"/>
<circle cx="543.02" cy="504.35" r="1.80" fill="#d9b033" stroke="none" stroke-width="0" opacity="0.65"/>
<circle cx="541.88" cy="480.66" r="1.80" fill="#d9b033" stroke="none" stroke-width="0" opacity="0.65"/>
<circle cx="539.35" cy="466.35" r="1.80" fill="#d9b033" stroke="none" stroke-width="0" opacity="0.65"/>
<circle cx="540.63" cy="499.78" r="1.80" fill="#d9b033" stroke="none" stroke-width="0" opacity="0.65"/>
<circle cx="533.87" cy="476.87" r="1.80" fill="#d9b033" stroke="none" stroke-width="0" opacity="0.65"/>
<circle cx="526.44" cy="505.82" r="1.80" fill="#d9b033" stroke="none" stroke-width="0" opacity="0.65"/>
<circle cx="536.13" cy="497.27" r="1.80" fill="#d9b033" stroke="none" stroke-width="0" opacity="0.65"/>
<circle cx="535.97" cy="494.79" r="1.80" fill="#d9b033" stroke="none" stroke-width="0" opacity="0.65"/>
<circle cx="526.83" cy="510.57" r="1.80" fill="#d9b033" stroke="none" stroke-width="0" opacity="0.65"/>
<circle cx="526.87" cy="503.69" r="1.80" fill="#d9b033" stroke="none" stroke-width="0" opacity="0.65"/>
<circle cx="532.16" cy="506.13" r="1.80" fill="#d9b033" stroke="none" stroke-width="0" opacity="0.65"/>
<circle cx="532.98" cy="481.91" r="1.80" fill="#d9b033" stroke="none" stroke-width="0" opacity="0.65"/>
<circle cx="526.79" cy="466.92" r="1.80" fill="#d9b033" stroke="none" stroke-width="0" opacity="0.65"/>
<circle cx="534.14" cy="509.87" r="1.80" fill="#d9b033" stroke="none" stroke-width="0" opacity="0.65"/>
<circle cx="534.27" cy="469.62" r="1.80" fill="#d9b033" stroke="none" stroke-width="0" opacity="0.65"/>
<circle cx="525.53" cy="508.03" r="1.80" fill="#d9b033" stroke="none" stroke-width="0" opacity="0.65"/>
<circle cx="529.11" cy="484.53" r="1.80" fill="#d9b033" stroke="none" stroke-width="0" opacity="0.65"/>
<circle cx="531.16" cy="492.48" r="1.80" fill="#d9b033" stroke="none" stroke-width="0" opacity="0.65"/>
<circle cx="524.84" cy="491.68" r="1.80" fill="#d9b033" stroke="none" stroke-width="0" opacity="0.65"/>
<circle cx="528.04" cy="501.99" r="1.80" fill="#d9b033" stroke="none" stroke-width="0" opacity="0.65"/>
<circle cx="525.43" cy="502.91" r="1.80" fill="#d9b033" stroke="none" stroke-width="0" opacity="0.65"/>
<circle cx="527.14" cy="504.56" r="1.80" fill="#d9b033" stroke="none" stroke-width="0" opacity="0.65"/>
<circle cx="535.42" cy="501.91" r="1.80" fill="#d9b033" stroke="none" stroke-width="0" opacity="0.65"/>
<circle cx="536.00" cy="508.73" r="1.80" fill="#d9b033" stroke="none" stroke-width="0" opacity="0.65"/>
<circle cx="537.27" cy="474.94" r="1.80" fill="#d9b033" stroke="none" stroke-width="0" opacity="0.65"/>
<circle cx="540.14" cy="493.03" r="1.80" fill="#d9b033" stroke="none" stroke-width="0" opacity="0.65"/>
<circle cx="537.57" cy="509.69" r="1.80" fill="#d9b033" stroke="none" stroke-width="0" opacity="0.65"/>
<circle cx="535.19" cy="499.73" r="1.80" fill="#d9b033" stroke="none" stroke-width="0" opacity="0.65"/>
<circle cx="538.46" cy="492.59" r="1.80" fill="#d9b033" stroke="none" stroke-width="0" opacity="0.65"/>
<circle cx="541.80" cy="509.72" r="1.80" fill="#d9b033" stroke="none" stroke-width="0" opacity="0.65"/>
<circle cx="526.39" cy="492.74" r="1.80" fill="#d9b033" stroke="none" stroke-width="0" opacity="0.65"/>
<circle cx="536.18" cy="510.87" r="1.80" fill="#d9b033" stroke="none" stroke-width="0" opacity="0.65"/>
<circle cx="529.12" cy="482.26" r="1.80" fill="#d9b033" stroke="none" stroke-width="0" opacity="0.65"/>
<circle cx="535.52" cy="479.36" r="1.80" fill="#d9b033" stroke="none" stroke-width="0" opacity="0.65"/>
<circle cx="538.89" cy="499.65" r="1.80" fill="#d9b033" stroke="none" stroke-width="0" opacity="0.65"/>
<circle cx="535.11" cy="486.66" r="1.80" fill="#d9b033" stroke="none" stroke-width="0" opacity="0.65"/>
<circle cx="536.27" cy="506.15" r="1.80" fill="#d9b033" stroke="none" stroke-width="0" opacity="0.65"/>
<circle cx="541.48" cy="491.78" r="1.80" fill="#d9b033" stroke="none" stroke-width="0" opacity="0.65"/>
<circle cx="537.18" cy="505.76" r="1.80" fill="#d9b033" stroke="none" stroke-width="0" opacity="0.65"/>
<circle cx="540.81" cy="506.86" r="1.80" fill="#d9b033" stroke="none" stroke-width="0" opacity="0.65"/>
<circle cx="524.69" cy="479.29" r="1.80" fill="#d9b033" stroke="none" stroke-width="0" opacity="0.65"/>
<circle cx="525.20" cy="510.72" r="1.80" fill="#d9b033" stroke="none" stroke-width="0" opacity="0.65"/>
<circle cx="535.80" cy="496.14" r="1.80" fill="#d9b033" stroke="none" stroke-width="0" opacity="0.65"/>
<circle cx="529.51" cy="508.44" r="1.80" fill="#d9b033" stroke="none" stroke-width="0" opacity="0.65"/>
<circle cx="542.40" cy="494.58" r="1.80" fill="#d9b033" stroke="none" stroke-width="0" opacity="0.65"/>
<circle cx="528.03" cy="485.94" r="1.80" fill="#d9b033" stroke="none" stroke-width="0" opacity="0.65"/>
<circle cx="532.42" cy="484.33" r="1.80" fill="#d9b033" stroke="none" stroke-width="0" opacity="0.65"/>
<circle cx="539.67" cy="496.55" r="1.80" fill="#d9b033" stroke="none" stroke-width="0" opacity="0.65"/>
<circle cx="541.98" cy="483.96" r="1.80" fill="#d9b033" stroke="none" stroke-width="0" opacity="0.65"/>
<circle cx="527.49" cy="504.40" r="1.80" fill="#d9b033" stroke="none" stroke-width="0" opacity="0.65"/>
<circle cx="538.12" cy="500.82" r="1.80" fill="#d9b033" stroke="none" stroke-width="0" opacity="0.65"/>
<circle cx="543.19" cy="506.60" r="1.80" fill="#d9b033" stroke="none" stroke-width="0" opacity="0.65"/>
<circle cx="524.81" cy="499.47" r="1.80" fill="#d9b033" stroke="none" stroke-width="0" opacity="0.65"/>
<circle cx="534.53" cy="497.13" r="1.80" fill="#d9b033" stroke="none" stroke-width="0" opacity="0.65"/>
<circle cx="533.02" cy="494.92" r="1.80" fill="#d9b033" stroke="none" stroke-width="0" opacity="0.65"/>
<circle cx="533.08" cy="507.87" r="1.80" fill="#d9b033" stroke="none" stroke-width="0" opacity="0.65"/>
<circle cx="540.04" cy="503.04" r="1.80" fill="#d9b033" stroke="none" stroke-width="0" opacity="0.65"/>
<circle cx="544.38" cy="494.95" r="1.80" fill="#d9b033" stroke="none" stroke-width="0" opacity="0.65"/>
<circle cx="532.15" cy="504.09" r="1.80" fill="#d9b033" stroke="none" stroke-width="0" opacity="0.65"/>
<circle cx="540.45" cy="481.30" r="1.80" fill="#d9b033" stroke="none" stroke-width="0" opacity="0.65"/>
<circle cx="542.54" cy="502.77" r="1.80" fill="#d9b033" stroke="none" stroke-width="0" opacity="0.65"/>
<circle cx="535.97" cy="469.95" r="1.80" fill="#d9b033" stroke="none" stroke-width="0" opacity="0.65"/>
<circle cx="543.73" cy="496.03" r="1.80" fill="#d9b033" stroke="none" stroke-width="0" opacity="0.65"/>
<circle cx="538.14" cy="492.54" r="1.80" fill="#d9b033" stroke="none" stroke-width="0" opacity="0.65"/>
<circle cx="542.29" cy="493.03" r="1.80" fill="#d9b033" stroke="none" stroke-width="0" opacity="0.65"/>
<circle cx="527.55" cy="509.56" r="1.80" fill="#d9b033" stroke="none" stroke-width="0" opacity="0.65"/>
<circle cx="526.06" cy="509.99" r="1.80" fill="#d9b033" stroke="none" stroke-width="0" opacity="0.65"/>
<circle cx="530.80" cy="469.79" r="1.80" fill="#d9b033" stroke="none" stroke-width="0" opacity="0.65"/>
<circle cx="524.51" cy="466.24" r="1.80" fill="#d9b033" stroke="none" stroke-width="0" opacity="0.65"/>
<circle cx="543.02" cy="504.72" r="1.80" fill="#d9b033" stroke="none" stroke-width="0" opacity="0.65"/>
<circle cx="542.83" cy="485.04" r="1.80" fill="#d9b033" stroke="none" stroke-width="0" opacity="0.65"/>
<circle cx="532.07" cy="509.78" r="1.80" fill="#d9b033" stroke="none" stroke-width="0" opacity="0.65"/>
<circle cx="530.79" cy="489.31" r="1.80" fill="#d9b033" stroke="none" stroke-width="0" opacity="0.65"/>
<circle cx="531.67" cy="510.07" r="1.80" fill="#d9b033" stroke="none" stroke-width="0" opacity="0.65"/>
<circle cx="529.77" cy="487.93" r="1.80" fill="#d9b033" stroke="none" stroke-width="0" opacity="0.65"/>
<circle cx="528.69" cy="428.09" r="1.80" fill="#d9b033" stroke="none" stroke-width="0" opacity="0.65"/>
<circle cx="526.41" cy="437.64" r="1.80" fill="#d9b033" stroke="none" stroke-width="0" opacity="0.65"/>
<circle cx="525.14" cy="451.98" r="1.80" fill="#d9b033" stroke="none" stroke-width="0" opacity="0.65"/>
<circle cx="541.13" cy="453.57" r="1.80" fill="#d9b033" stroke="none" stroke-width="0" opacity="0.65"/>
<circle cx="538.97" cy="461.53" r="1.80" fill="#d9b033" stroke="none" stroke-width="0" opacity="0.65"/>
<circle cx="536.91" cy="464.72" r="1.80" fill="#d9b033" stroke="none" stroke-width="0" opacity="0.65"/>
<circle cx="530.16" cy="466.31" r="1.80" fill="#d9b033" stroke="none" stroke-width="0" opacity="0.65"/>
<line x1="450.95" y1="482.00" x2="450.95" y2="509.50" stroke="#333" stroke-width="0.6" />
<rect x="440.40" y="495.20" width="21.10" height="10.00" fill="#a8c6ec" stroke="#333" stroke-width="0.6" rx="0" />
<line x1="440.40" y1="502.50" x2="461.50" y2="502.50" stroke="#111" stroke-width="1.0" />
<line x1="492.70" y1="487.30" x2="492.70" y2="509.50" stroke="#333" stroke-width="0.6" />
<rect x="481.90" y="499.10" width="21.60" height="7.90" fill="#f6ccb8" stroke="#333" stroke-width="0.6" rx="0" />
<line x1="481.90" y1="504.40" x2="503.50" y2="504.40" stroke="#111" stroke-width="1.0" />
<line x1="534.50" y1="480.70" x2="534.50" y2="509.50" stroke="#333" stroke-width="0.6" />
<rect x="524.00" y="495.20" width="21.00" height="10.00" fill="#d4a82a" stroke="#333" stroke-width="0.6" rx="0" />
<line x1="524.00" y1="502.50" x2="545.00" y2="502.50" stroke="#111" stroke-width="1.0" />
<path d="M451.2,400.9 L451.2,398.4 L534.2,398.4 L534.2,400.9" fill="none" stroke="#333" stroke-width="0.6" />
<text stroke="#1a1a1a" stroke-width="0.06" x="492.70" y="396.80" font-size="6.2" text-anchor="middle" fill="#1a1a1a">0.49</text>
<path d="M492.8,411.4 L492.8,408.9 L534.2,408.9 L534.2,411.4" fill="none" stroke="#333" stroke-width="0.6" />
<text stroke="#1a1a1a" stroke-width="0.06" x="513.50" y="407.30" font-size="6.2" text-anchor="middle" fill="#1a1a1a">2.7×10<tspan font-size="3.8" dy="-2.2">−6</tspan></text>
<path d="M451.2,421.2 L451.2,418.7 L492.8,418.7 L492.8,421.2" fill="none" stroke="#333" stroke-width="0.6" />
<text stroke="#1a1a1a" stroke-width="0.06" x="472.00" y="417.10" font-size="6.2" text-anchor="middle" fill="#1a1a1a">2.3×10<tspan font-size="3.8" dy="-2.2">−10</tspan></text>
<g>
<circle cx="597.60" cy="442.00" r="23.40" fill="#a3bfe4" stroke="none" stroke-width="0" opacity="0.5"/>
<circle cx="628.80" cy="441.80" r="23.60" fill="#f0c6b4" stroke="none" stroke-width="0" opacity="0.45"/>
<circle cx="613.20" cy="471.00" r="23.40" fill="#d3a836" stroke="none" stroke-width="0" opacity="0.55"/>
<circle cx="597.60" cy="442.00" r="23.40" fill="none" stroke="#111" stroke-width="1.0" opacity="1"/>
<circle cx="628.80" cy="441.80" r="23.60" fill="none" stroke="#111" stroke-width="1.0" opacity="1"/>
<circle cx="613.20" cy="471.00" r="23.40" fill="none" stroke="#111" stroke-width="1.0" opacity="1"/>
</g>
<text x="596.90" y="416.15" font-size="6.0" text-anchor="middle" font-weight="normal" font-style="normal" fill="#1a1a1a" stroke="#1a1a1a" stroke-width="0.06" >UU</text>
<text x="631.30" y="416.15" font-size="6.0" text-anchor="middle" font-weight="normal" font-style="normal" fill="#1a1a1a" stroke="#1a1a1a" stroke-width="0.06" >UM</text>
<text x="614.00" y="502.35" font-size="6.0" text-anchor="middle" font-weight="normal" font-style="normal" fill="#1a1a1a" stroke="#1a1a1a" stroke-width="0.06" >AC−ICAM</text>
<text x="593.80" y="443.46" font-size="6.3" text-anchor="middle" font-weight="normal" font-style="normal" fill="#333" stroke="#333" stroke-width="0.06" >7</text>
<text x="613.40" y="439.76" font-size="6.3" text-anchor="middle" font-weight="normal" font-style="normal" fill="#333" stroke="#333" stroke-width="0.06" >10</text>
<text x="630.50" y="443.46" font-size="6.3" text-anchor="middle" font-weight="normal" font-style="normal" fill="#333" stroke="#333" stroke-width="0.06" >9</text>
<text x="613.40" y="453.26" font-size="6.3" text-anchor="middle" font-weight="normal" font-style="normal" fill="#333" stroke="#333" stroke-width="0.06" >27</text>
<text x="601.60" y="458.26" font-size="6.3" text-anchor="middle" font-weight="normal" font-style="normal" fill="#333" stroke="#333" stroke-width="0.06" >6</text>
<text x="625.10" y="458.26" font-size="6.3" text-anchor="middle" font-weight="normal" font-style="normal" fill="#333" stroke="#333" stroke-width="0.06" >4</text>
<text x="614.00" y="472.66" font-size="6.3" text-anchor="middle" font-weight="normal" font-style="normal" fill="#333" stroke="#333" stroke-width="0.06" >13</text>
</svg></body></html>
